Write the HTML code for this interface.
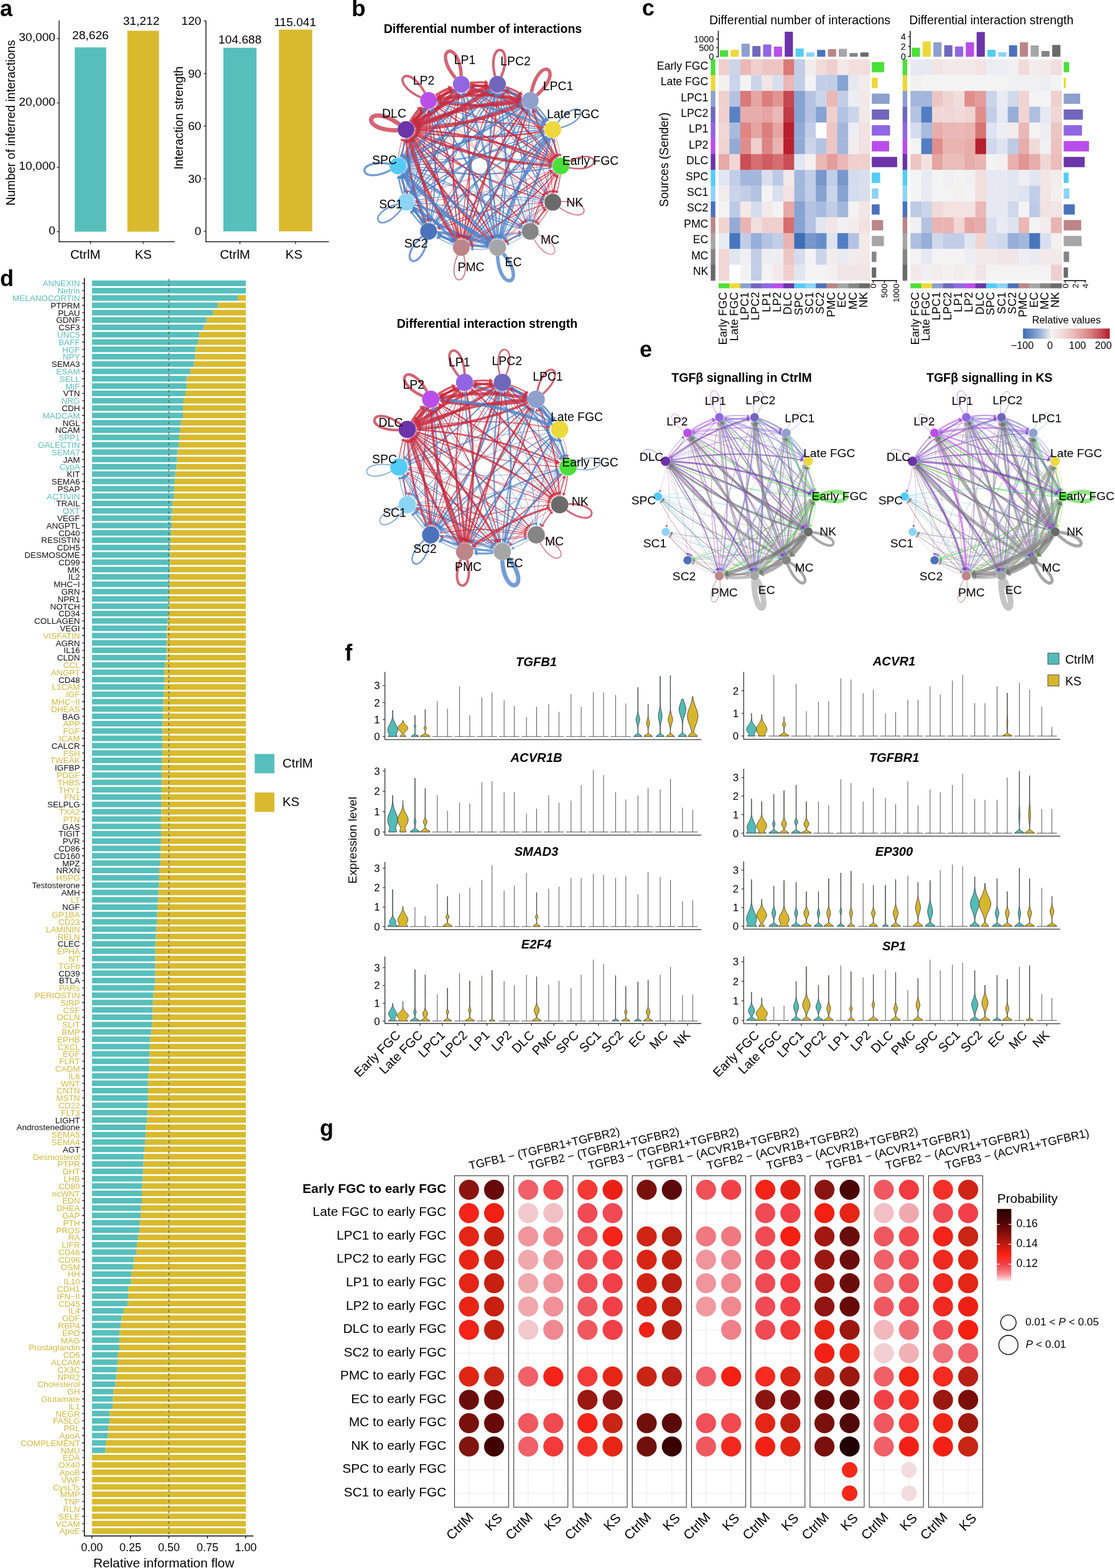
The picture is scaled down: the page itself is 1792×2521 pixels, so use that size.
<!DOCTYPE html>
<html><head><meta charset="utf-8"><title>Figure</title>
<style>
html,body{margin:0;padding:0;background:#fff;}
body{width:1792px;height:2521px;overflow:hidden;}
svg{display:block;font-family:"Liberation Sans", Arial, Helvetica, sans-serif;}
</style></head><body>
<svg width="1792" height="2521" viewBox="0 0 1792 2521">
<rect width="1792" height="2521" fill="#fff"/>
<text x="0.0" y="25.5" font-size="36" font-weight="bold">a</text>
<line x1="95.0" y1="33.0" x2="95.0" y2="389.2" stroke="#000" stroke-width="1.3"/>
<line x1="94.4" y1="388.7" x2="280.8" y2="388.7" stroke="#000" stroke-width="1.3"/>
<line x1="91.5" y1="372.5" x2="95.0" y2="372.5" stroke="#000" stroke-width="1.1"/>
<text x="89.0" y="376.5" font-size="19.2" text-anchor="end">0</text>
<line x1="91.5" y1="269.0" x2="95.0" y2="269.0" stroke="#000" stroke-width="1.1"/>
<text x="89.0" y="273.0" font-size="19.2" text-anchor="end">10,000</text>
<line x1="91.5" y1="165.5" x2="95.0" y2="165.5" stroke="#000" stroke-width="1.1"/>
<text x="89.0" y="169.5" font-size="19.2" text-anchor="end">20,000</text>
<line x1="91.5" y1="62.0" x2="95.0" y2="62.0" stroke="#000" stroke-width="1.1"/>
<text x="89.0" y="66.0" font-size="19.2" text-anchor="end">30,000</text>
<rect x="120.10" y="76.22" width="50.60" height="296.28" fill="#56BFBC"/>
<rect x="204.70" y="49.46" width="50.80" height="323.04" fill="#D9BA2E"/>
<text x="145.4" y="62.8" font-size="19.2" text-anchor="middle">28,626</text>
<text x="227.0" y="39.7" font-size="19.2" text-anchor="middle">31,212</text>
<line x1="145.6" y1="388.7" x2="145.6" y2="392.5" stroke="#000" stroke-width="1.1"/>
<line x1="230.0" y1="388.7" x2="230.0" y2="392.5" stroke="#000" stroke-width="1.1"/>
<text x="137.2" y="415.5" font-size="20.3" text-anchor="middle">CtrlM</text>
<text x="230.2" y="415.5" font-size="20.3" text-anchor="middle">KS</text>
<text x="23.6" y="197.4" font-size="19.4" text-anchor="middle" transform="rotate(-90 23.6 197.4)">Number of inferred interactions</text>
<line x1="331.0" y1="33.0" x2="331.0" y2="389.2" stroke="#000" stroke-width="1.3"/>
<line x1="330.4" y1="388.7" x2="528.6" y2="388.7" stroke="#000" stroke-width="1.3"/>
<line x1="327.5" y1="372.0" x2="331.0" y2="372.0" stroke="#000" stroke-width="1.1"/>
<text x="323.5" y="378.4" font-size="19.2" text-anchor="end">0</text>
<line x1="327.5" y1="287.4" x2="331.0" y2="287.4" stroke="#000" stroke-width="1.1"/>
<text x="323.5" y="293.8" font-size="19.2" text-anchor="end">30</text>
<line x1="327.5" y1="202.8" x2="331.0" y2="202.8" stroke="#000" stroke-width="1.1"/>
<text x="323.5" y="209.2" font-size="19.2" text-anchor="end">60</text>
<line x1="327.5" y1="118.2" x2="331.0" y2="118.2" stroke="#000" stroke-width="1.1"/>
<text x="323.5" y="124.6" font-size="19.2" text-anchor="end">90</text>
<line x1="327.5" y1="33.6" x2="331.0" y2="33.6" stroke="#000" stroke-width="1.1"/>
<text x="323.5" y="40.0" font-size="19.2" text-anchor="end">120</text>
<rect x="359.00" y="76.78" width="53.30" height="295.22" fill="#56BFBC"/>
<rect x="448.30" y="47.58" width="53.50" height="324.42" fill="#D9BA2E"/>
<text x="385.8" y="69.8" font-size="19.2" text-anchor="middle">104.688</text>
<text x="474.2" y="42.1" font-size="19.2" text-anchor="middle">115.041</text>
<line x1="385.6" y1="388.7" x2="385.6" y2="392.5" stroke="#000" stroke-width="1.1"/>
<line x1="475.0" y1="388.7" x2="475.0" y2="392.5" stroke="#000" stroke-width="1.1"/>
<text x="377.6" y="415.5" font-size="20.3" text-anchor="middle">CtrlM</text>
<text x="472.4" y="415.5" font-size="20.3" text-anchor="middle">KS</text>
<text x="293.6" y="189.6" font-size="19.4" text-anchor="middle" transform="rotate(-90 293.6 189.6)">Interaction strength</text>
<text x="0.0" y="460.0" font-size="36" font-weight="bold">d</text>
<rect x="147.90" y="451.00" width="247.20" height="9.00" fill="#56BFBC"/>
<rect x="147.90" y="462.80" width="247.20" height="9.00" fill="#56BFBC"/>
<rect x="147.90" y="474.60" width="234.10" height="9.00" fill="#56BFBC"/>
<rect x="382.00" y="474.60" width="13.10" height="9.00" fill="#D9BA2E"/>
<rect x="147.90" y="486.40" width="201.96" height="9.00" fill="#56BFBC"/>
<rect x="349.86" y="486.40" width="45.24" height="9.00" fill="#D9BA2E"/>
<rect x="147.90" y="498.20" width="194.05" height="9.00" fill="#56BFBC"/>
<rect x="341.95" y="498.20" width="53.15" height="9.00" fill="#D9BA2E"/>
<rect x="147.90" y="510.00" width="183.92" height="9.00" fill="#56BFBC"/>
<rect x="331.82" y="510.00" width="63.28" height="9.00" fill="#D9BA2E"/>
<rect x="147.90" y="521.80" width="179.71" height="9.00" fill="#56BFBC"/>
<rect x="327.61" y="521.80" width="67.49" height="9.00" fill="#D9BA2E"/>
<rect x="147.90" y="533.60" width="172.30" height="9.00" fill="#56BFBC"/>
<rect x="320.20" y="533.60" width="74.90" height="9.00" fill="#D9BA2E"/>
<rect x="147.90" y="545.40" width="170.07" height="9.00" fill="#56BFBC"/>
<rect x="317.97" y="545.40" width="77.13" height="9.00" fill="#D9BA2E"/>
<rect x="147.90" y="557.20" width="166.61" height="9.00" fill="#56BFBC"/>
<rect x="314.51" y="557.20" width="80.59" height="9.00" fill="#D9BA2E"/>
<rect x="147.90" y="569.00" width="165.62" height="9.00" fill="#56BFBC"/>
<rect x="313.52" y="569.00" width="81.58" height="9.00" fill="#D9BA2E"/>
<rect x="147.90" y="580.80" width="163.40" height="9.00" fill="#56BFBC"/>
<rect x="311.30" y="580.80" width="83.80" height="9.00" fill="#D9BA2E"/>
<rect x="147.90" y="592.60" width="157.96" height="9.00" fill="#56BFBC"/>
<rect x="305.86" y="592.60" width="89.24" height="9.00" fill="#D9BA2E"/>
<rect x="147.90" y="604.40" width="152.52" height="9.00" fill="#56BFBC"/>
<rect x="300.42" y="604.40" width="94.68" height="9.00" fill="#D9BA2E"/>
<rect x="147.90" y="616.20" width="152.03" height="9.00" fill="#56BFBC"/>
<rect x="299.93" y="616.20" width="95.17" height="9.00" fill="#D9BA2E"/>
<rect x="147.90" y="628.00" width="150.05" height="9.00" fill="#56BFBC"/>
<rect x="297.95" y="628.00" width="97.15" height="9.00" fill="#D9BA2E"/>
<rect x="147.90" y="639.80" width="147.08" height="9.00" fill="#56BFBC"/>
<rect x="294.98" y="639.80" width="100.12" height="9.00" fill="#D9BA2E"/>
<rect x="147.90" y="651.60" width="146.10" height="9.00" fill="#56BFBC"/>
<rect x="294.00" y="651.60" width="101.10" height="9.00" fill="#D9BA2E"/>
<rect x="147.90" y="663.40" width="146.10" height="9.00" fill="#56BFBC"/>
<rect x="294.00" y="663.40" width="101.10" height="9.00" fill="#D9BA2E"/>
<rect x="147.90" y="675.20" width="142.88" height="9.00" fill="#56BFBC"/>
<rect x="290.78" y="675.20" width="104.32" height="9.00" fill="#D9BA2E"/>
<rect x="147.90" y="687.00" width="141.89" height="9.00" fill="#56BFBC"/>
<rect x="289.79" y="687.00" width="105.31" height="9.00" fill="#D9BA2E"/>
<rect x="147.90" y="698.80" width="140.16" height="9.00" fill="#56BFBC"/>
<rect x="288.06" y="698.80" width="107.04" height="9.00" fill="#D9BA2E"/>
<rect x="147.90" y="710.60" width="139.92" height="9.00" fill="#56BFBC"/>
<rect x="287.82" y="710.60" width="107.28" height="9.00" fill="#D9BA2E"/>
<rect x="147.90" y="722.40" width="137.69" height="9.00" fill="#56BFBC"/>
<rect x="285.59" y="722.40" width="109.51" height="9.00" fill="#D9BA2E"/>
<rect x="147.90" y="734.20" width="136.70" height="9.00" fill="#56BFBC"/>
<rect x="284.60" y="734.20" width="110.50" height="9.00" fill="#D9BA2E"/>
<rect x="147.90" y="746.00" width="135.71" height="9.00" fill="#56BFBC"/>
<rect x="283.61" y="746.00" width="111.49" height="9.00" fill="#D9BA2E"/>
<rect x="147.90" y="757.80" width="133.74" height="9.00" fill="#56BFBC"/>
<rect x="281.64" y="757.80" width="113.46" height="9.00" fill="#D9BA2E"/>
<rect x="147.90" y="769.60" width="132.99" height="9.00" fill="#56BFBC"/>
<rect x="280.89" y="769.60" width="114.21" height="9.00" fill="#D9BA2E"/>
<rect x="147.90" y="781.40" width="132.25" height="9.00" fill="#56BFBC"/>
<rect x="280.15" y="781.40" width="114.95" height="9.00" fill="#D9BA2E"/>
<rect x="147.90" y="793.20" width="132.00" height="9.00" fill="#56BFBC"/>
<rect x="279.90" y="793.20" width="115.20" height="9.00" fill="#D9BA2E"/>
<rect x="147.90" y="805.00" width="129.29" height="9.00" fill="#56BFBC"/>
<rect x="277.19" y="805.00" width="117.91" height="9.00" fill="#D9BA2E"/>
<rect x="147.90" y="816.80" width="129.29" height="9.00" fill="#56BFBC"/>
<rect x="277.19" y="816.80" width="117.91" height="9.00" fill="#D9BA2E"/>
<rect x="147.90" y="828.60" width="127.80" height="9.00" fill="#56BFBC"/>
<rect x="275.70" y="828.60" width="119.40" height="9.00" fill="#D9BA2E"/>
<rect x="147.90" y="840.40" width="128.05" height="9.00" fill="#56BFBC"/>
<rect x="275.95" y="840.40" width="119.15" height="9.00" fill="#D9BA2E"/>
<rect x="147.90" y="852.20" width="127.56" height="9.00" fill="#56BFBC"/>
<rect x="275.46" y="852.20" width="119.64" height="9.00" fill="#D9BA2E"/>
<rect x="147.90" y="864.00" width="126.07" height="9.00" fill="#56BFBC"/>
<rect x="273.97" y="864.00" width="121.13" height="9.00" fill="#D9BA2E"/>
<rect x="147.90" y="875.80" width="126.07" height="9.00" fill="#56BFBC"/>
<rect x="273.97" y="875.80" width="121.13" height="9.00" fill="#D9BA2E"/>
<rect x="147.90" y="887.60" width="125.58" height="9.00" fill="#56BFBC"/>
<rect x="273.48" y="887.60" width="121.62" height="9.00" fill="#D9BA2E"/>
<rect x="147.90" y="899.40" width="125.33" height="9.00" fill="#56BFBC"/>
<rect x="273.23" y="899.40" width="121.87" height="9.00" fill="#D9BA2E"/>
<rect x="147.90" y="911.20" width="125.33" height="9.00" fill="#56BFBC"/>
<rect x="273.23" y="911.20" width="121.87" height="9.00" fill="#D9BA2E"/>
<rect x="147.90" y="923.00" width="124.84" height="9.00" fill="#56BFBC"/>
<rect x="272.74" y="923.00" width="122.36" height="9.00" fill="#D9BA2E"/>
<rect x="147.90" y="934.80" width="124.59" height="9.00" fill="#56BFBC"/>
<rect x="272.49" y="934.80" width="122.61" height="9.00" fill="#D9BA2E"/>
<rect x="147.90" y="946.60" width="124.09" height="9.00" fill="#56BFBC"/>
<rect x="271.99" y="946.60" width="123.11" height="9.00" fill="#D9BA2E"/>
<rect x="147.90" y="958.40" width="124.09" height="9.00" fill="#56BFBC"/>
<rect x="271.99" y="958.40" width="123.11" height="9.00" fill="#D9BA2E"/>
<rect x="147.90" y="970.20" width="123.60" height="9.00" fill="#56BFBC"/>
<rect x="271.50" y="970.20" width="123.60" height="9.00" fill="#D9BA2E"/>
<rect x="147.90" y="982.00" width="123.11" height="9.00" fill="#56BFBC"/>
<rect x="271.01" y="982.00" width="124.09" height="9.00" fill="#D9BA2E"/>
<rect x="147.90" y="993.80" width="121.87" height="9.00" fill="#56BFBC"/>
<rect x="269.77" y="993.80" width="125.33" height="9.00" fill="#D9BA2E"/>
<rect x="147.90" y="1005.60" width="120.39" height="9.00" fill="#56BFBC"/>
<rect x="268.29" y="1005.60" width="126.81" height="9.00" fill="#D9BA2E"/>
<rect x="147.90" y="1017.40" width="119.89" height="9.00" fill="#56BFBC"/>
<rect x="267.79" y="1017.40" width="127.31" height="9.00" fill="#D9BA2E"/>
<rect x="147.90" y="1029.20" width="119.89" height="9.00" fill="#56BFBC"/>
<rect x="267.79" y="1029.20" width="127.31" height="9.00" fill="#D9BA2E"/>
<rect x="147.90" y="1041.00" width="119.89" height="9.00" fill="#56BFBC"/>
<rect x="267.79" y="1041.00" width="127.31" height="9.00" fill="#D9BA2E"/>
<rect x="147.90" y="1052.80" width="119.64" height="9.00" fill="#56BFBC"/>
<rect x="267.54" y="1052.80" width="127.56" height="9.00" fill="#D9BA2E"/>
<rect x="147.90" y="1064.60" width="117.42" height="9.00" fill="#56BFBC"/>
<rect x="265.32" y="1064.60" width="129.78" height="9.00" fill="#D9BA2E"/>
<rect x="147.90" y="1076.40" width="116.43" height="9.00" fill="#56BFBC"/>
<rect x="264.33" y="1076.40" width="130.77" height="9.00" fill="#D9BA2E"/>
<rect x="147.90" y="1088.20" width="116.18" height="9.00" fill="#56BFBC"/>
<rect x="264.08" y="1088.20" width="131.02" height="9.00" fill="#D9BA2E"/>
<rect x="147.90" y="1100.00" width="116.18" height="9.00" fill="#56BFBC"/>
<rect x="264.08" y="1100.00" width="131.02" height="9.00" fill="#D9BA2E"/>
<rect x="147.90" y="1111.80" width="115.44" height="9.00" fill="#56BFBC"/>
<rect x="263.34" y="1111.80" width="131.76" height="9.00" fill="#D9BA2E"/>
<rect x="147.90" y="1123.60" width="114.70" height="9.00" fill="#56BFBC"/>
<rect x="262.60" y="1123.60" width="132.50" height="9.00" fill="#D9BA2E"/>
<rect x="147.90" y="1135.40" width="114.70" height="9.00" fill="#56BFBC"/>
<rect x="262.60" y="1135.40" width="132.50" height="9.00" fill="#D9BA2E"/>
<rect x="147.90" y="1147.20" width="114.45" height="9.00" fill="#56BFBC"/>
<rect x="262.35" y="1147.20" width="132.75" height="9.00" fill="#D9BA2E"/>
<rect x="147.90" y="1159.00" width="113.71" height="9.00" fill="#56BFBC"/>
<rect x="261.61" y="1159.00" width="133.49" height="9.00" fill="#D9BA2E"/>
<rect x="147.90" y="1170.80" width="113.46" height="9.00" fill="#56BFBC"/>
<rect x="261.36" y="1170.80" width="133.74" height="9.00" fill="#D9BA2E"/>
<rect x="147.90" y="1182.60" width="113.22" height="9.00" fill="#56BFBC"/>
<rect x="261.12" y="1182.60" width="133.98" height="9.00" fill="#D9BA2E"/>
<rect x="147.90" y="1194.40" width="113.22" height="9.00" fill="#56BFBC"/>
<rect x="261.12" y="1194.40" width="133.98" height="9.00" fill="#D9BA2E"/>
<rect x="147.90" y="1206.20" width="113.22" height="9.00" fill="#56BFBC"/>
<rect x="261.12" y="1206.20" width="133.98" height="9.00" fill="#D9BA2E"/>
<rect x="147.90" y="1218.00" width="112.23" height="9.00" fill="#56BFBC"/>
<rect x="260.13" y="1218.00" width="134.97" height="9.00" fill="#D9BA2E"/>
<rect x="147.90" y="1229.80" width="111.98" height="9.00" fill="#56BFBC"/>
<rect x="259.88" y="1229.80" width="135.22" height="9.00" fill="#D9BA2E"/>
<rect x="147.90" y="1241.60" width="111.98" height="9.00" fill="#56BFBC"/>
<rect x="259.88" y="1241.60" width="135.22" height="9.00" fill="#D9BA2E"/>
<rect x="147.90" y="1253.40" width="111.98" height="9.00" fill="#56BFBC"/>
<rect x="259.88" y="1253.40" width="135.22" height="9.00" fill="#D9BA2E"/>
<rect x="147.90" y="1265.20" width="111.98" height="9.00" fill="#56BFBC"/>
<rect x="259.88" y="1265.20" width="135.22" height="9.00" fill="#D9BA2E"/>
<rect x="147.90" y="1277.00" width="111.24" height="9.00" fill="#56BFBC"/>
<rect x="259.14" y="1277.00" width="135.96" height="9.00" fill="#D9BA2E"/>
<rect x="147.90" y="1288.80" width="111.24" height="9.00" fill="#56BFBC"/>
<rect x="259.14" y="1288.80" width="135.96" height="9.00" fill="#D9BA2E"/>
<rect x="147.90" y="1300.60" width="111.49" height="9.00" fill="#56BFBC"/>
<rect x="259.39" y="1300.60" width="135.71" height="9.00" fill="#D9BA2E"/>
<rect x="147.90" y="1312.40" width="110.99" height="9.00" fill="#56BFBC"/>
<rect x="258.89" y="1312.40" width="136.21" height="9.00" fill="#D9BA2E"/>
<rect x="147.90" y="1324.20" width="110.99" height="9.00" fill="#56BFBC"/>
<rect x="258.89" y="1324.20" width="136.21" height="9.00" fill="#D9BA2E"/>
<rect x="147.90" y="1336.00" width="110.99" height="9.00" fill="#56BFBC"/>
<rect x="258.89" y="1336.00" width="136.21" height="9.00" fill="#D9BA2E"/>
<rect x="147.90" y="1347.80" width="110.99" height="9.00" fill="#56BFBC"/>
<rect x="258.89" y="1347.80" width="136.21" height="9.00" fill="#D9BA2E"/>
<rect x="147.90" y="1359.60" width="110.25" height="9.00" fill="#56BFBC"/>
<rect x="258.15" y="1359.60" width="136.95" height="9.00" fill="#D9BA2E"/>
<rect x="147.90" y="1371.40" width="110.00" height="9.00" fill="#56BFBC"/>
<rect x="257.90" y="1371.40" width="137.20" height="9.00" fill="#D9BA2E"/>
<rect x="147.90" y="1383.20" width="109.76" height="9.00" fill="#56BFBC"/>
<rect x="257.66" y="1383.20" width="137.44" height="9.00" fill="#D9BA2E"/>
<rect x="147.90" y="1395.00" width="108.03" height="9.00" fill="#56BFBC"/>
<rect x="255.93" y="1395.00" width="139.17" height="9.00" fill="#D9BA2E"/>
<rect x="147.90" y="1406.80" width="108.03" height="9.00" fill="#56BFBC"/>
<rect x="255.93" y="1406.80" width="139.17" height="9.00" fill="#D9BA2E"/>
<rect x="147.90" y="1418.60" width="107.53" height="9.00" fill="#56BFBC"/>
<rect x="255.43" y="1418.60" width="139.67" height="9.00" fill="#D9BA2E"/>
<rect x="147.90" y="1430.40" width="106.79" height="9.00" fill="#56BFBC"/>
<rect x="254.69" y="1430.40" width="140.41" height="9.00" fill="#D9BA2E"/>
<rect x="147.90" y="1442.20" width="106.30" height="9.00" fill="#56BFBC"/>
<rect x="254.20" y="1442.20" width="140.90" height="9.00" fill="#D9BA2E"/>
<rect x="147.90" y="1454.00" width="105.06" height="9.00" fill="#56BFBC"/>
<rect x="252.96" y="1454.00" width="142.14" height="9.00" fill="#D9BA2E"/>
<rect x="147.90" y="1465.80" width="104.57" height="9.00" fill="#56BFBC"/>
<rect x="252.47" y="1465.80" width="142.63" height="9.00" fill="#D9BA2E"/>
<rect x="147.90" y="1477.60" width="104.07" height="9.00" fill="#56BFBC"/>
<rect x="251.97" y="1477.60" width="143.13" height="9.00" fill="#D9BA2E"/>
<rect x="147.90" y="1489.40" width="103.33" height="9.00" fill="#56BFBC"/>
<rect x="251.23" y="1489.40" width="143.87" height="9.00" fill="#D9BA2E"/>
<rect x="147.90" y="1501.20" width="102.59" height="9.00" fill="#56BFBC"/>
<rect x="250.49" y="1501.20" width="144.61" height="9.00" fill="#D9BA2E"/>
<rect x="147.90" y="1513.00" width="101.85" height="9.00" fill="#56BFBC"/>
<rect x="249.75" y="1513.00" width="145.35" height="9.00" fill="#D9BA2E"/>
<rect x="147.90" y="1524.80" width="101.60" height="9.00" fill="#56BFBC"/>
<rect x="249.50" y="1524.80" width="145.60" height="9.00" fill="#D9BA2E"/>
<rect x="147.90" y="1536.60" width="101.60" height="9.00" fill="#56BFBC"/>
<rect x="249.50" y="1536.60" width="145.60" height="9.00" fill="#D9BA2E"/>
<rect x="147.90" y="1548.40" width="101.60" height="9.00" fill="#56BFBC"/>
<rect x="249.50" y="1548.40" width="145.60" height="9.00" fill="#D9BA2E"/>
<rect x="147.90" y="1560.20" width="101.60" height="9.00" fill="#56BFBC"/>
<rect x="249.50" y="1560.20" width="145.60" height="9.00" fill="#D9BA2E"/>
<rect x="147.90" y="1572.00" width="101.60" height="9.00" fill="#56BFBC"/>
<rect x="249.50" y="1572.00" width="145.60" height="9.00" fill="#D9BA2E"/>
<rect x="147.90" y="1583.80" width="99.87" height="9.00" fill="#56BFBC"/>
<rect x="247.77" y="1583.80" width="147.33" height="9.00" fill="#D9BA2E"/>
<rect x="147.90" y="1595.60" width="98.63" height="9.00" fill="#56BFBC"/>
<rect x="246.53" y="1595.60" width="148.57" height="9.00" fill="#D9BA2E"/>
<rect x="147.90" y="1607.40" width="97.89" height="9.00" fill="#56BFBC"/>
<rect x="245.79" y="1607.40" width="149.31" height="9.00" fill="#D9BA2E"/>
<rect x="147.90" y="1619.20" width="97.64" height="9.00" fill="#56BFBC"/>
<rect x="245.54" y="1619.20" width="149.56" height="9.00" fill="#D9BA2E"/>
<rect x="147.90" y="1631.00" width="97.15" height="9.00" fill="#56BFBC"/>
<rect x="245.05" y="1631.00" width="150.05" height="9.00" fill="#D9BA2E"/>
<rect x="147.90" y="1642.80" width="96.41" height="9.00" fill="#56BFBC"/>
<rect x="244.31" y="1642.80" width="150.79" height="9.00" fill="#D9BA2E"/>
<rect x="147.90" y="1654.60" width="95.42" height="9.00" fill="#56BFBC"/>
<rect x="243.32" y="1654.60" width="151.78" height="9.00" fill="#D9BA2E"/>
<rect x="147.90" y="1666.40" width="93.44" height="9.00" fill="#56BFBC"/>
<rect x="241.34" y="1666.40" width="153.76" height="9.00" fill="#D9BA2E"/>
<rect x="147.90" y="1678.20" width="92.95" height="9.00" fill="#56BFBC"/>
<rect x="240.85" y="1678.20" width="154.25" height="9.00" fill="#D9BA2E"/>
<rect x="147.90" y="1690.00" width="92.45" height="9.00" fill="#56BFBC"/>
<rect x="240.35" y="1690.00" width="154.75" height="9.00" fill="#D9BA2E"/>
<rect x="147.90" y="1701.80" width="91.96" height="9.00" fill="#56BFBC"/>
<rect x="239.86" y="1701.80" width="155.24" height="9.00" fill="#D9BA2E"/>
<rect x="147.90" y="1713.60" width="91.96" height="9.00" fill="#56BFBC"/>
<rect x="239.86" y="1713.60" width="155.24" height="9.00" fill="#D9BA2E"/>
<rect x="147.90" y="1725.40" width="90.23" height="9.00" fill="#56BFBC"/>
<rect x="238.13" y="1725.40" width="156.97" height="9.00" fill="#D9BA2E"/>
<rect x="147.90" y="1737.20" width="89.98" height="9.00" fill="#56BFBC"/>
<rect x="237.88" y="1737.20" width="157.22" height="9.00" fill="#D9BA2E"/>
<rect x="147.90" y="1749.00" width="89.98" height="9.00" fill="#56BFBC"/>
<rect x="237.88" y="1749.00" width="157.22" height="9.00" fill="#D9BA2E"/>
<rect x="147.90" y="1760.80" width="89.98" height="9.00" fill="#56BFBC"/>
<rect x="237.88" y="1760.80" width="157.22" height="9.00" fill="#D9BA2E"/>
<rect x="147.90" y="1772.60" width="89.73" height="9.00" fill="#56BFBC"/>
<rect x="237.63" y="1772.60" width="157.47" height="9.00" fill="#D9BA2E"/>
<rect x="147.90" y="1784.40" width="88.99" height="9.00" fill="#56BFBC"/>
<rect x="236.89" y="1784.40" width="158.21" height="9.00" fill="#D9BA2E"/>
<rect x="147.90" y="1796.20" width="88.25" height="9.00" fill="#56BFBC"/>
<rect x="236.15" y="1796.20" width="158.95" height="9.00" fill="#D9BA2E"/>
<rect x="147.90" y="1808.00" width="86.27" height="9.00" fill="#56BFBC"/>
<rect x="234.17" y="1808.00" width="160.93" height="9.00" fill="#D9BA2E"/>
<rect x="147.90" y="1819.80" width="86.03" height="9.00" fill="#56BFBC"/>
<rect x="233.93" y="1819.80" width="161.17" height="9.00" fill="#D9BA2E"/>
<rect x="147.90" y="1831.60" width="85.28" height="9.00" fill="#56BFBC"/>
<rect x="233.18" y="1831.60" width="161.92" height="9.00" fill="#D9BA2E"/>
<rect x="147.90" y="1843.40" width="84.05" height="9.00" fill="#56BFBC"/>
<rect x="231.95" y="1843.40" width="163.15" height="9.00" fill="#D9BA2E"/>
<rect x="147.90" y="1855.20" width="83.31" height="9.00" fill="#56BFBC"/>
<rect x="231.21" y="1855.20" width="163.89" height="9.00" fill="#D9BA2E"/>
<rect x="147.90" y="1867.00" width="82.56" height="9.00" fill="#56BFBC"/>
<rect x="230.46" y="1867.00" width="164.64" height="9.00" fill="#D9BA2E"/>
<rect x="147.90" y="1878.80" width="82.32" height="9.00" fill="#56BFBC"/>
<rect x="230.22" y="1878.80" width="164.88" height="9.00" fill="#D9BA2E"/>
<rect x="147.90" y="1890.60" width="81.82" height="9.00" fill="#56BFBC"/>
<rect x="229.72" y="1890.60" width="165.38" height="9.00" fill="#D9BA2E"/>
<rect x="147.90" y="1902.40" width="80.83" height="9.00" fill="#56BFBC"/>
<rect x="228.73" y="1902.40" width="166.37" height="9.00" fill="#D9BA2E"/>
<rect x="147.90" y="1914.20" width="80.09" height="9.00" fill="#56BFBC"/>
<rect x="227.99" y="1914.20" width="167.11" height="9.00" fill="#D9BA2E"/>
<rect x="147.90" y="1926.00" width="80.09" height="9.00" fill="#56BFBC"/>
<rect x="227.99" y="1926.00" width="167.11" height="9.00" fill="#D9BA2E"/>
<rect x="147.90" y="1937.80" width="78.86" height="9.00" fill="#56BFBC"/>
<rect x="226.76" y="1937.80" width="168.34" height="9.00" fill="#D9BA2E"/>
<rect x="147.90" y="1949.60" width="78.12" height="9.00" fill="#56BFBC"/>
<rect x="226.02" y="1949.60" width="169.08" height="9.00" fill="#D9BA2E"/>
<rect x="147.90" y="1961.40" width="76.88" height="9.00" fill="#56BFBC"/>
<rect x="224.78" y="1961.40" width="170.32" height="9.00" fill="#D9BA2E"/>
<rect x="147.90" y="1973.20" width="76.14" height="9.00" fill="#56BFBC"/>
<rect x="224.04" y="1973.20" width="171.06" height="9.00" fill="#D9BA2E"/>
<rect x="147.90" y="1985.00" width="74.16" height="9.00" fill="#56BFBC"/>
<rect x="222.06" y="1985.00" width="173.04" height="9.00" fill="#D9BA2E"/>
<rect x="147.90" y="1996.80" width="72.18" height="9.00" fill="#56BFBC"/>
<rect x="220.08" y="1996.80" width="175.02" height="9.00" fill="#D9BA2E"/>
<rect x="147.90" y="2008.60" width="71.44" height="9.00" fill="#56BFBC"/>
<rect x="219.34" y="2008.60" width="175.76" height="9.00" fill="#D9BA2E"/>
<rect x="147.90" y="2020.40" width="67.49" height="9.00" fill="#56BFBC"/>
<rect x="215.39" y="2020.40" width="179.71" height="9.00" fill="#D9BA2E"/>
<rect x="147.90" y="2032.20" width="66.00" height="9.00" fill="#56BFBC"/>
<rect x="213.90" y="2032.20" width="181.20" height="9.00" fill="#D9BA2E"/>
<rect x="147.90" y="2044.00" width="63.53" height="9.00" fill="#56BFBC"/>
<rect x="211.43" y="2044.00" width="183.67" height="9.00" fill="#D9BA2E"/>
<rect x="147.90" y="2055.80" width="62.79" height="9.00" fill="#56BFBC"/>
<rect x="210.69" y="2055.80" width="184.41" height="9.00" fill="#D9BA2E"/>
<rect x="147.90" y="2067.60" width="58.34" height="9.00" fill="#56BFBC"/>
<rect x="206.24" y="2067.60" width="188.86" height="9.00" fill="#D9BA2E"/>
<rect x="147.90" y="2079.40" width="58.09" height="9.00" fill="#56BFBC"/>
<rect x="205.99" y="2079.40" width="189.11" height="9.00" fill="#D9BA2E"/>
<rect x="147.90" y="2091.20" width="57.35" height="9.00" fill="#56BFBC"/>
<rect x="205.25" y="2091.20" width="189.85" height="9.00" fill="#D9BA2E"/>
<rect x="147.90" y="2103.00" width="51.17" height="9.00" fill="#56BFBC"/>
<rect x="199.07" y="2103.00" width="196.03" height="9.00" fill="#D9BA2E"/>
<rect x="147.90" y="2114.80" width="47.46" height="9.00" fill="#56BFBC"/>
<rect x="195.36" y="2114.80" width="199.74" height="9.00" fill="#D9BA2E"/>
<rect x="147.90" y="2126.60" width="45.98" height="9.00" fill="#56BFBC"/>
<rect x="193.88" y="2126.60" width="201.22" height="9.00" fill="#D9BA2E"/>
<rect x="147.90" y="2138.40" width="44.50" height="9.00" fill="#56BFBC"/>
<rect x="192.40" y="2138.40" width="202.70" height="9.00" fill="#D9BA2E"/>
<rect x="147.90" y="2150.20" width="44.00" height="9.00" fill="#56BFBC"/>
<rect x="191.90" y="2150.20" width="203.20" height="9.00" fill="#D9BA2E"/>
<rect x="147.90" y="2162.00" width="44.00" height="9.00" fill="#56BFBC"/>
<rect x="191.90" y="2162.00" width="203.20" height="9.00" fill="#D9BA2E"/>
<rect x="147.90" y="2173.80" width="41.04" height="9.00" fill="#56BFBC"/>
<rect x="188.94" y="2173.80" width="206.16" height="9.00" fill="#D9BA2E"/>
<rect x="147.90" y="2185.60" width="41.04" height="9.00" fill="#56BFBC"/>
<rect x="188.94" y="2185.60" width="206.16" height="9.00" fill="#D9BA2E"/>
<rect x="147.90" y="2197.40" width="40.79" height="9.00" fill="#56BFBC"/>
<rect x="188.69" y="2197.40" width="206.41" height="9.00" fill="#D9BA2E"/>
<rect x="147.90" y="2209.20" width="38.81" height="9.00" fill="#56BFBC"/>
<rect x="186.71" y="2209.20" width="208.39" height="9.00" fill="#D9BA2E"/>
<rect x="147.90" y="2221.00" width="37.57" height="9.00" fill="#56BFBC"/>
<rect x="185.47" y="2221.00" width="209.63" height="9.00" fill="#D9BA2E"/>
<rect x="147.90" y="2232.80" width="34.36" height="9.00" fill="#56BFBC"/>
<rect x="182.26" y="2232.80" width="212.84" height="9.00" fill="#D9BA2E"/>
<rect x="147.90" y="2244.60" width="33.62" height="9.00" fill="#56BFBC"/>
<rect x="181.52" y="2244.60" width="213.58" height="9.00" fill="#D9BA2E"/>
<rect x="147.90" y="2256.40" width="33.12" height="9.00" fill="#56BFBC"/>
<rect x="181.02" y="2256.40" width="214.08" height="9.00" fill="#D9BA2E"/>
<rect x="147.90" y="2268.20" width="28.43" height="9.00" fill="#56BFBC"/>
<rect x="176.33" y="2268.20" width="218.77" height="9.00" fill="#D9BA2E"/>
<rect x="147.90" y="2280.00" width="28.18" height="9.00" fill="#56BFBC"/>
<rect x="176.08" y="2280.00" width="219.02" height="9.00" fill="#D9BA2E"/>
<rect x="147.90" y="2291.80" width="26.20" height="9.00" fill="#56BFBC"/>
<rect x="174.10" y="2291.80" width="221.00" height="9.00" fill="#D9BA2E"/>
<rect x="147.90" y="2303.60" width="25.46" height="9.00" fill="#56BFBC"/>
<rect x="173.36" y="2303.60" width="221.74" height="9.00" fill="#D9BA2E"/>
<rect x="147.90" y="2315.40" width="22.25" height="9.00" fill="#56BFBC"/>
<rect x="170.15" y="2315.40" width="224.95" height="9.00" fill="#D9BA2E"/>
<rect x="147.90" y="2327.20" width="21.75" height="9.00" fill="#56BFBC"/>
<rect x="169.65" y="2327.20" width="225.45" height="9.00" fill="#D9BA2E"/>
<rect x="147.90" y="2339.00" width="247.20" height="9.00" fill="#D9BA2E"/>
<rect x="147.90" y="2350.80" width="247.20" height="9.00" fill="#D9BA2E"/>
<rect x="147.90" y="2362.60" width="247.20" height="9.00" fill="#D9BA2E"/>
<rect x="147.90" y="2374.40" width="247.20" height="9.00" fill="#D9BA2E"/>
<rect x="147.90" y="2386.20" width="247.20" height="9.00" fill="#D9BA2E"/>
<rect x="147.90" y="2398.00" width="247.20" height="9.00" fill="#D9BA2E"/>
<rect x="147.90" y="2409.80" width="247.20" height="9.00" fill="#D9BA2E"/>
<rect x="147.90" y="2421.60" width="247.20" height="9.00" fill="#D9BA2E"/>
<rect x="147.90" y="2433.40" width="247.20" height="9.00" fill="#D9BA2E"/>
<rect x="147.90" y="2445.20" width="247.20" height="9.00" fill="#D9BA2E"/>
<rect x="147.90" y="2457.00" width="247.20" height="9.00" fill="#D9BA2E"/>
<path d="M132 455.5h3.5M132 467.3h3.5M132 479.1h3.5M132 490.9h3.5M132 502.7h3.5M132 514.5h3.5M132 526.3h3.5M132 538.1h3.5M132 549.9h3.5M132 561.7h3.5M132 573.5h3.5M132 585.3h3.5M132 597.1h3.5M132 608.9h3.5M132 620.7h3.5M132 632.5h3.5M132 644.3h3.5M132 656.1h3.5M132 667.9h3.5M132 679.7h3.5M132 691.5h3.5M132 703.3h3.5M132 715.1h3.5M132 726.9h3.5M132 738.7h3.5M132 750.5h3.5M132 762.3h3.5M132 774.1h3.5M132 785.9h3.5M132 797.7h3.5M132 809.5h3.5M132 821.3h3.5M132 833.1h3.5M132 844.9h3.5M132 856.7h3.5M132 868.5h3.5M132 880.3h3.5M132 892.1h3.5M132 903.9h3.5M132 915.7h3.5M132 927.5h3.5M132 939.3h3.5M132 951.1h3.5M132 962.9h3.5M132 974.7h3.5M132 986.5h3.5M132 998.3h3.5M132 1010.1h3.5M132 1021.9h3.5M132 1033.7h3.5M132 1045.5h3.5M132 1057.3h3.5M132 1069.1h3.5M132 1080.9h3.5M132 1092.7h3.5M132 1104.5h3.5M132 1116.3h3.5M132 1128.1h3.5M132 1139.9h3.5M132 1151.7h3.5M132 1163.5h3.5M132 1175.3h3.5M132 1187.1h3.5M132 1198.9h3.5M132 1210.7h3.5M132 1222.5h3.5M132 1234.3h3.5M132 1246.1h3.5M132 1257.9h3.5M132 1269.7h3.5M132 1281.5h3.5M132 1293.3h3.5M132 1305.1h3.5M132 1316.9h3.5M132 1328.7h3.5M132 1340.5h3.5M132 1352.3h3.5M132 1364.1h3.5M132 1375.9h3.5M132 1387.7h3.5M132 1399.5h3.5M132 1411.3h3.5M132 1423.1h3.5M132 1434.9h3.5M132 1446.7h3.5M132 1458.5h3.5M132 1470.3h3.5M132 1482.1h3.5M132 1493.9h3.5M132 1505.7h3.5M132 1517.5h3.5M132 1529.3h3.5M132 1541.1h3.5M132 1552.9h3.5M132 1564.7h3.5M132 1576.5h3.5M132 1588.3h3.5M132 1600.1h3.5M132 1611.9h3.5M132 1623.7h3.5M132 1635.5h3.5M132 1647.3h3.5M132 1659.1h3.5M132 1670.9h3.5M132 1682.7h3.5M132 1694.5h3.5M132 1706.3h3.5M132 1718.1h3.5M132 1729.9h3.5M132 1741.7h3.5M132 1753.5h3.5M132 1765.3h3.5M132 1777.1h3.5M132 1788.9h3.5M132 1800.7h3.5M132 1812.5h3.5M132 1824.3h3.5M132 1836.1h3.5M132 1847.9h3.5M132 1859.7h3.5M132 1871.5h3.5M132 1883.3h3.5M132 1895.1h3.5M132 1906.9h3.5M132 1918.7h3.5M132 1930.5h3.5M132 1942.3h3.5M132 1954.1h3.5M132 1965.9h3.5M132 1977.7h3.5M132 1989.5h3.5M132 2001.3h3.5M132 2013.1h3.5M132 2024.9h3.5M132 2036.7h3.5M132 2048.5h3.5M132 2060.3h3.5M132 2072.1h3.5M132 2083.9h3.5M132 2095.7h3.5M132 2107.5h3.5M132 2119.3h3.5M132 2131.1h3.5M132 2142.9h3.5M132 2154.7h3.5M132 2166.5h3.5M132 2178.3h3.5M132 2190.1h3.5M132 2201.9h3.5M132 2213.7h3.5M132 2225.5h3.5M132 2237.3h3.5M132 2249.1h3.5M132 2260.9h3.5M132 2272.7h3.5M132 2284.5h3.5M132 2296.3h3.5M132 2308.1h3.5M132 2319.9h3.5M132 2331.7h3.5M132 2343.5h3.5M132 2355.3h3.5M132 2367.1h3.5M132 2378.9h3.5M132 2390.7h3.5M132 2402.5h3.5M132 2414.3h3.5M132 2426.1h3.5M132 2437.9h3.5M132 2449.7h3.5M132 2461.5h3.5" stroke="#000" stroke-width="1.1"/>
<text x="128.6" y="460.3" font-size="13.5" text-anchor="end" fill="#5DBFBC">ANNEXIN</text>
<text x="128.6" y="472.1" font-size="13.5" text-anchor="end" fill="#5DBFBC">Netrin</text>
<text x="128.6" y="483.9" font-size="13.5" text-anchor="end" fill="#5DBFBC">MELANOCORTIN</text>
<text x="128.6" y="495.7" font-size="13.5" text-anchor="end" fill="#111111">PTPRM</text>
<text x="128.6" y="507.5" font-size="13.5" text-anchor="end" fill="#111111">PLAU</text>
<text x="128.6" y="519.3" font-size="13.5" text-anchor="end" fill="#111111">GDNF</text>
<text x="128.6" y="531.1" font-size="13.5" text-anchor="end" fill="#111111">CSF3</text>
<text x="128.6" y="542.9" font-size="13.5" text-anchor="end" fill="#5DBFBC">UNC5</text>
<text x="128.6" y="554.7" font-size="13.5" text-anchor="end" fill="#5DBFBC">BAFF</text>
<text x="128.6" y="566.5" font-size="13.5" text-anchor="end" fill="#5DBFBC">HGF</text>
<text x="128.6" y="578.3" font-size="13.5" text-anchor="end" fill="#5DBFBC">NPY</text>
<text x="128.6" y="590.1" font-size="13.5" text-anchor="end" fill="#111111">SEMA3</text>
<text x="128.6" y="601.9" font-size="13.5" text-anchor="end" fill="#5DBFBC">ESAM</text>
<text x="128.6" y="613.7" font-size="13.5" text-anchor="end" fill="#5DBFBC">SELL</text>
<text x="128.6" y="625.5" font-size="13.5" text-anchor="end" fill="#5DBFBC">MIF</text>
<text x="128.6" y="637.3" font-size="13.5" text-anchor="end" fill="#111111">VTN</text>
<text x="128.6" y="649.1" font-size="13.5" text-anchor="end" fill="#5DBFBC">NRG</text>
<text x="128.6" y="660.9" font-size="13.5" text-anchor="end" fill="#111111">CDH</text>
<text x="128.6" y="672.7" font-size="13.5" text-anchor="end" fill="#5DBFBC">MADCAM</text>
<text x="128.6" y="684.5" font-size="13.5" text-anchor="end" fill="#111111">NGL</text>
<text x="128.6" y="696.3" font-size="13.5" text-anchor="end" fill="#111111">NCAM</text>
<text x="128.6" y="708.1" font-size="13.5" text-anchor="end" fill="#5DBFBC">SPP1</text>
<text x="128.6" y="719.9" font-size="13.5" text-anchor="end" fill="#5DBFBC">GALECTIN</text>
<text x="128.6" y="731.7" font-size="13.5" text-anchor="end" fill="#5DBFBC">SEMA7</text>
<text x="128.6" y="743.5" font-size="13.5" text-anchor="end" fill="#111111">JAM</text>
<text x="128.6" y="755.3" font-size="13.5" text-anchor="end" fill="#5DBFBC">CypA</text>
<text x="128.6" y="767.1" font-size="13.5" text-anchor="end" fill="#111111">KIT</text>
<text x="128.6" y="778.9" font-size="13.5" text-anchor="end" fill="#111111">SEMA6</text>
<text x="128.6" y="790.7" font-size="13.5" text-anchor="end" fill="#111111">PSAP</text>
<text x="128.6" y="802.5" font-size="13.5" text-anchor="end" fill="#5DBFBC">ACTIVIN</text>
<text x="128.6" y="814.3" font-size="13.5" text-anchor="end" fill="#111111">TRAIL</text>
<text x="128.6" y="826.1" font-size="13.5" text-anchor="end" fill="#5DBFBC">OXT</text>
<text x="128.6" y="837.9" font-size="13.5" text-anchor="end" fill="#111111">VEGF</text>
<text x="128.6" y="849.7" font-size="13.5" text-anchor="end" fill="#111111">ANGPTL</text>
<text x="128.6" y="861.5" font-size="13.5" text-anchor="end" fill="#111111">CD40</text>
<text x="128.6" y="873.3" font-size="13.5" text-anchor="end" fill="#111111">RESISTIN</text>
<text x="128.6" y="885.1" font-size="13.5" text-anchor="end" fill="#111111">CDH5</text>
<text x="128.6" y="896.9" font-size="13.5" text-anchor="end" fill="#111111">DESMOSOME</text>
<text x="128.6" y="908.7" font-size="13.5" text-anchor="end" fill="#111111">CD99</text>
<text x="128.6" y="920.5" font-size="13.5" text-anchor="end" fill="#111111">MK</text>
<text x="128.6" y="932.3" font-size="13.5" text-anchor="end" fill="#111111">IL2</text>
<text x="128.6" y="944.1" font-size="13.5" text-anchor="end" fill="#111111">MHC−I</text>
<text x="128.6" y="955.9" font-size="13.5" text-anchor="end" fill="#111111">GRN</text>
<text x="128.6" y="967.7" font-size="13.5" text-anchor="end" fill="#111111">NPR1</text>
<text x="128.6" y="979.5" font-size="13.5" text-anchor="end" fill="#111111">NOTCH</text>
<text x="128.6" y="991.3" font-size="13.5" text-anchor="end" fill="#111111">CD34</text>
<text x="128.6" y="1003.1" font-size="13.5" text-anchor="end" fill="#111111">COLLAGEN</text>
<text x="128.6" y="1014.9" font-size="13.5" text-anchor="end" fill="#111111">VEGI</text>
<text x="128.6" y="1026.7" font-size="13.5" text-anchor="end" fill="#D4B940">VISFATIN</text>
<text x="128.6" y="1038.5" font-size="13.5" text-anchor="end" fill="#111111">AGRN</text>
<text x="128.6" y="1050.3" font-size="13.5" text-anchor="end" fill="#111111">IL16</text>
<text x="128.6" y="1062.1" font-size="13.5" text-anchor="end" fill="#111111">CLDN</text>
<text x="128.6" y="1073.9" font-size="13.5" text-anchor="end" fill="#D4B940">CCL</text>
<text x="128.6" y="1085.7" font-size="13.5" text-anchor="end" fill="#D4B940">ANGPT</text>
<text x="128.6" y="1097.5" font-size="13.5" text-anchor="end" fill="#111111">CD48</text>
<text x="128.6" y="1109.3" font-size="13.5" text-anchor="end" fill="#D4B940">L1CAM</text>
<text x="128.6" y="1121.1" font-size="13.5" text-anchor="end" fill="#D4B940">IGF</text>
<text x="128.6" y="1132.9" font-size="13.5" text-anchor="end" fill="#D4B940">MHC−II</text>
<text x="128.6" y="1144.7" font-size="13.5" text-anchor="end" fill="#D4B940">DHEAS</text>
<text x="128.6" y="1156.5" font-size="13.5" text-anchor="end" fill="#111111">BAG</text>
<text x="128.6" y="1168.3" font-size="13.5" text-anchor="end" fill="#D4B940">APP</text>
<text x="128.6" y="1180.1" font-size="13.5" text-anchor="end" fill="#D4B940">FGF</text>
<text x="128.6" y="1191.9" font-size="13.5" text-anchor="end" fill="#D4B940">ICAM</text>
<text x="128.6" y="1203.7" font-size="13.5" text-anchor="end" fill="#111111">CALCR</text>
<text x="128.6" y="1215.5" font-size="13.5" text-anchor="end" fill="#D4B940">FSH</text>
<text x="128.6" y="1227.3" font-size="13.5" text-anchor="end" fill="#D4B940">TWEAK</text>
<text x="128.6" y="1239.1" font-size="13.5" text-anchor="end" fill="#111111">IGFBP</text>
<text x="128.6" y="1250.9" font-size="13.5" text-anchor="end" fill="#D4B940">PDGF</text>
<text x="128.6" y="1262.7" font-size="13.5" text-anchor="end" fill="#D4B940">THBS</text>
<text x="128.6" y="1274.5" font-size="13.5" text-anchor="end" fill="#D4B940">THY1</text>
<text x="128.6" y="1286.3" font-size="13.5" text-anchor="end" fill="#D4B940">FN1</text>
<text x="128.6" y="1298.1" font-size="13.5" text-anchor="end" fill="#111111">SELPLG</text>
<text x="128.6" y="1309.9" font-size="13.5" text-anchor="end" fill="#D4B940">TXA2</text>
<text x="128.6" y="1321.7" font-size="13.5" text-anchor="end" fill="#D4B940">PTN</text>
<text x="128.6" y="1333.5" font-size="13.5" text-anchor="end" fill="#111111">GAS</text>
<text x="128.6" y="1345.3" font-size="13.5" text-anchor="end" fill="#111111">TIGIT</text>
<text x="128.6" y="1357.1" font-size="13.5" text-anchor="end" fill="#111111">PVR</text>
<text x="128.6" y="1368.9" font-size="13.5" text-anchor="end" fill="#111111">CD86</text>
<text x="128.6" y="1380.7" font-size="13.5" text-anchor="end" fill="#111111">CD160</text>
<text x="128.6" y="1392.5" font-size="13.5" text-anchor="end" fill="#111111">MPZ</text>
<text x="128.6" y="1404.3" font-size="13.5" text-anchor="end" fill="#111111">NRXN</text>
<text x="128.6" y="1416.1" font-size="13.5" text-anchor="end" fill="#D4B940">HSPG</text>
<text x="128.6" y="1427.9" font-size="13.5" text-anchor="end" fill="#111111">Testosterone</text>
<text x="128.6" y="1439.7" font-size="13.5" text-anchor="end" fill="#111111">AMH</text>
<text x="128.6" y="1451.5" font-size="13.5" text-anchor="end" fill="#D4B940">LT</text>
<text x="128.6" y="1463.3" font-size="13.5" text-anchor="end" fill="#111111">NGF</text>
<text x="128.6" y="1475.1" font-size="13.5" text-anchor="end" fill="#D4B940">GP1BA</text>
<text x="128.6" y="1486.9" font-size="13.5" text-anchor="end" fill="#D4B940">CD23</text>
<text x="128.6" y="1498.7" font-size="13.5" text-anchor="end" fill="#D4B940">LAMININ</text>
<text x="128.6" y="1510.5" font-size="13.5" text-anchor="end" fill="#D4B940">RELN</text>
<text x="128.6" y="1522.3" font-size="13.5" text-anchor="end" fill="#111111">CLEC</text>
<text x="128.6" y="1534.1" font-size="13.5" text-anchor="end" fill="#D4B940">EPHA</text>
<text x="128.6" y="1545.9" font-size="13.5" text-anchor="end" fill="#D4B940">NT</text>
<text x="128.6" y="1557.7" font-size="13.5" text-anchor="end" fill="#D4B940">TGFb</text>
<text x="128.6" y="1569.5" font-size="13.5" text-anchor="end" fill="#111111">CD39</text>
<text x="128.6" y="1581.3" font-size="13.5" text-anchor="end" fill="#111111">BTLA</text>
<text x="128.6" y="1593.1" font-size="13.5" text-anchor="end" fill="#D4B940">PARs</text>
<text x="128.6" y="1604.9" font-size="13.5" text-anchor="end" fill="#D4B940">PERIOSTIN</text>
<text x="128.6" y="1616.7" font-size="13.5" text-anchor="end" fill="#D4B940">SIRP</text>
<text x="128.6" y="1628.5" font-size="13.5" text-anchor="end" fill="#D4B940">CSF</text>
<text x="128.6" y="1640.3" font-size="13.5" text-anchor="end" fill="#D4B940">OCLN</text>
<text x="128.6" y="1652.1" font-size="13.5" text-anchor="end" fill="#D4B940">SLIT</text>
<text x="128.6" y="1663.9" font-size="13.5" text-anchor="end" fill="#D4B940">BMP</text>
<text x="128.6" y="1675.7" font-size="13.5" text-anchor="end" fill="#D4B940">EPHB</text>
<text x="128.6" y="1687.5" font-size="13.5" text-anchor="end" fill="#D4B940">CXCL</text>
<text x="128.6" y="1699.3" font-size="13.5" text-anchor="end" fill="#D4B940">EGF</text>
<text x="128.6" y="1711.1" font-size="13.5" text-anchor="end" fill="#D4B940">FLRT</text>
<text x="128.6" y="1722.9" font-size="13.5" text-anchor="end" fill="#D4B940">CADM</text>
<text x="128.6" y="1734.7" font-size="13.5" text-anchor="end" fill="#D4B940">IL6</text>
<text x="128.6" y="1746.5" font-size="13.5" text-anchor="end" fill="#D4B940">WNT</text>
<text x="128.6" y="1758.3" font-size="13.5" text-anchor="end" fill="#D4B940">CNTN</text>
<text x="128.6" y="1770.1" font-size="13.5" text-anchor="end" fill="#D4B940">MSTN</text>
<text x="128.6" y="1781.9" font-size="13.5" text-anchor="end" fill="#D4B940">CD22</text>
<text x="128.6" y="1793.7" font-size="13.5" text-anchor="end" fill="#D4B940">FLT3</text>
<text x="128.6" y="1805.5" font-size="13.5" text-anchor="end" fill="#111111">LIGHT</text>
<text x="128.6" y="1817.3" font-size="13.5" text-anchor="end" fill="#111111">Androstenedione</text>
<text x="128.6" y="1829.1" font-size="13.5" text-anchor="end" fill="#D4B940">SEMA5</text>
<text x="128.6" y="1840.9" font-size="13.5" text-anchor="end" fill="#D4B940">SEMA4</text>
<text x="128.6" y="1852.7" font-size="13.5" text-anchor="end" fill="#111111">AGT</text>
<text x="128.6" y="1864.5" font-size="13.5" text-anchor="end" fill="#D4B940">Desmosterol</text>
<text x="128.6" y="1876.3" font-size="13.5" text-anchor="end" fill="#D4B940">PTPR</text>
<text x="128.6" y="1888.1" font-size="13.5" text-anchor="end" fill="#D4B940">DHT</text>
<text x="128.6" y="1899.9" font-size="13.5" text-anchor="end" fill="#D4B940">LHB</text>
<text x="128.6" y="1911.7" font-size="13.5" text-anchor="end" fill="#D4B940">CD80</text>
<text x="128.6" y="1923.5" font-size="13.5" text-anchor="end" fill="#D4B940">ncWNT</text>
<text x="128.6" y="1935.3" font-size="13.5" text-anchor="end" fill="#D4B940">EDN</text>
<text x="128.6" y="1947.1" font-size="13.5" text-anchor="end" fill="#D4B940">DHEA</text>
<text x="128.6" y="1958.9" font-size="13.5" text-anchor="end" fill="#D4B940">GAP</text>
<text x="128.6" y="1970.7" font-size="13.5" text-anchor="end" fill="#D4B940">PTH</text>
<text x="128.6" y="1982.5" font-size="13.5" text-anchor="end" fill="#D4B940">PROS</text>
<text x="128.6" y="1994.3" font-size="13.5" text-anchor="end" fill="#D4B940">RA</text>
<text x="128.6" y="2006.1" font-size="13.5" text-anchor="end" fill="#D4B940">LIFR</text>
<text x="128.6" y="2017.9" font-size="13.5" text-anchor="end" fill="#D4B940">CD46</text>
<text x="128.6" y="2029.7" font-size="13.5" text-anchor="end" fill="#D4B940">CD96</text>
<text x="128.6" y="2041.5" font-size="13.5" text-anchor="end" fill="#D4B940">OSM</text>
<text x="128.6" y="2053.3" font-size="13.5" text-anchor="end" fill="#D4B940">HH</text>
<text x="128.6" y="2065.1" font-size="13.5" text-anchor="end" fill="#D4B940">IL10</text>
<text x="128.6" y="2076.9" font-size="13.5" text-anchor="end" fill="#D4B940">CDH1</text>
<text x="128.6" y="2088.7" font-size="13.5" text-anchor="end" fill="#D4B940">IFN−II</text>
<text x="128.6" y="2100.5" font-size="13.5" text-anchor="end" fill="#D4B940">CD45</text>
<text x="128.6" y="2112.3" font-size="13.5" text-anchor="end" fill="#D4B940">IL4</text>
<text x="128.6" y="2124.1" font-size="13.5" text-anchor="end" fill="#D4B940">GDF</text>
<text x="128.6" y="2135.9" font-size="13.5" text-anchor="end" fill="#D4B940">RBP4</text>
<text x="128.6" y="2147.7" font-size="13.5" text-anchor="end" fill="#D4B940">EPO</text>
<text x="128.6" y="2159.5" font-size="13.5" text-anchor="end" fill="#D4B940">MAG</text>
<text x="128.6" y="2171.3" font-size="13.5" text-anchor="end" fill="#D4B940">Prostaglandin</text>
<text x="128.6" y="2183.1" font-size="13.5" text-anchor="end" fill="#D4B940">CD6</text>
<text x="128.6" y="2194.9" font-size="13.5" text-anchor="end" fill="#D4B940">ALCAM</text>
<text x="128.6" y="2206.7" font-size="13.5" text-anchor="end" fill="#D4B940">CX3C</text>
<text x="128.6" y="2218.5" font-size="13.5" text-anchor="end" fill="#D4B940">NPR2</text>
<text x="128.6" y="2230.3" font-size="13.5" text-anchor="end" fill="#D4B940">Cholesterol</text>
<text x="128.6" y="2242.1" font-size="13.5" text-anchor="end" fill="#D4B940">GH</text>
<text x="128.6" y="2253.9" font-size="13.5" text-anchor="end" fill="#D4B940">Glutamate</text>
<text x="128.6" y="2265.7" font-size="13.5" text-anchor="end" fill="#D4B940">IL1</text>
<text x="128.6" y="2277.5" font-size="13.5" text-anchor="end" fill="#D4B940">NEGR</text>
<text x="128.6" y="2289.3" font-size="13.5" text-anchor="end" fill="#D4B940">FASLG</text>
<text x="128.6" y="2301.1" font-size="13.5" text-anchor="end" fill="#D4B940">PRL</text>
<text x="128.6" y="2312.9" font-size="13.5" text-anchor="end" fill="#D4B940">ApoA</text>
<text x="128.6" y="2324.7" font-size="13.5" text-anchor="end" fill="#D4B940">COMPLEMENT</text>
<text x="128.6" y="2336.5" font-size="13.5" text-anchor="end" fill="#D4B940">NMU</text>
<text x="128.6" y="2348.3" font-size="13.5" text-anchor="end" fill="#D4B940">EDA</text>
<text x="128.6" y="2360.1" font-size="13.5" text-anchor="end" fill="#D4B940">OX40</text>
<text x="128.6" y="2371.9" font-size="13.5" text-anchor="end" fill="#D4B940">ApoB</text>
<text x="128.6" y="2383.7" font-size="13.5" text-anchor="end" fill="#D4B940">VWF</text>
<text x="128.6" y="2395.5" font-size="13.5" text-anchor="end" fill="#D4B940">CysLTs</text>
<text x="128.6" y="2407.3" font-size="13.5" text-anchor="end" fill="#D4B940">MMP</text>
<text x="128.6" y="2419.1" font-size="13.5" text-anchor="end" fill="#D4B940">TNF</text>
<text x="128.6" y="2430.9" font-size="13.5" text-anchor="end" fill="#D4B940">RLN</text>
<text x="128.6" y="2442.7" font-size="13.5" text-anchor="end" fill="#D4B940">SELE</text>
<text x="128.6" y="2454.5" font-size="13.5" text-anchor="end" fill="#D4B940">VCAM</text>
<text x="128.6" y="2466.3" font-size="13.5" text-anchor="end" fill="#D4B940">ApoE</text>
<line x1="271.5" y1="448.0" x2="271.5" y2="2469.0" stroke="#555" stroke-width="1.1" stroke-dasharray="4.5,4"/>
<line x1="135.6" y1="447.0" x2="135.6" y2="2470.0" stroke="#000" stroke-width="1.5"/>
<line x1="135.0" y1="2469.4" x2="407.3" y2="2469.4" stroke="#000" stroke-width="1.5"/>
<line x1="147.7" y1="2469.4" x2="147.7" y2="2473.5" stroke="#000" stroke-width="1.2"/>
<text x="147.7" y="2494.0" font-size="18" text-anchor="middle">0.00</text>
<line x1="209.6" y1="2469.4" x2="209.6" y2="2473.5" stroke="#000" stroke-width="1.2"/>
<text x="209.6" y="2494.0" font-size="18" text-anchor="middle">0.25</text>
<line x1="271.5" y1="2469.4" x2="271.5" y2="2473.5" stroke="#000" stroke-width="1.2"/>
<text x="271.5" y="2494.0" font-size="18" text-anchor="middle">0.50</text>
<line x1="333.4" y1="2469.4" x2="333.4" y2="2473.5" stroke="#000" stroke-width="1.2"/>
<text x="333.4" y="2494.0" font-size="18" text-anchor="middle">0.75</text>
<line x1="394.9" y1="2469.4" x2="394.9" y2="2473.5" stroke="#000" stroke-width="1.2"/>
<text x="394.9" y="2494.0" font-size="18" text-anchor="middle">1.00</text>
<text x="263.2" y="2519.8" font-size="20.8" text-anchor="middle">Relative information flow</text>
<rect x="409.40" y="1212.20" width="31.60" height="31.10" fill="#56BFBC"/>
<rect x="409.40" y="1274.20" width="31.60" height="31.20" fill="#D9BA2E"/>
<text x="453.9" y="1234.4" font-size="20.5">CtrlM</text>
<text x="453.9" y="1296.2" font-size="20.5">KS</text>
<text x="565.0" y="26.2" font-size="37" font-weight="bold">b</text>
<text x="775.9" y="53.2" font-size="19.5" text-anchor="middle" font-weight="bold">Differential number of interactions</text>
<text x="782.9" y="526.8" font-size="19.5" text-anchor="middle" font-weight="bold">Differential interaction strength</text>
<path d="M755.2 395.8Q770.3 394.2 781.8 395.4" stroke="#4A80C6" stroke-width="0.62" fill="none" stroke-opacity="0.78"/>
<path d="M849.6 358.2Q833.7 266.9 848.9 179.2" stroke="#4A80C6" stroke-width="0.62" fill="none" stroke-opacity="0.78"/>
<path d="M893.6 221.3Q898.7 236.4 900.1 248.7" stroke="#C8283C" stroke-width="0.66" fill="none" stroke-opacity="0.78"/>
<path d="M654.9 222.1Q661.7 266.5 655.5 307.3" stroke="#C8283C" stroke-width="0.66" fill="none" stroke-opacity="0.78"/>
<path d="M877.3 333.5Q821.3 373.8 758.7 392.9" stroke="#C8283C" stroke-width="0.66" fill="none" stroke-opacity="0.78"/>
<path d="M854.7 175.2Q870.6 266.5 855.4 354.2" stroke="#4A80C6" stroke-width="0.75" fill="none" stroke-opacity="0.78"/>
<path d="M749.5 146.8Q817.9 243.5 847.7 354.5" stroke="#4A80C6" stroke-width="0.75" fill="none" stroke-opacity="0.78"/>
<path d="M844.0 360.6Q775.6 263.9 745.9 153.0" stroke="#4A80C6" stroke-width="0.75" fill="none" stroke-opacity="0.78"/>
<path d="M841.7 362.7Q751.7 281.6 697.1 177.5" stroke="#4A80C6" stroke-width="0.75" fill="none" stroke-opacity="0.78"/>
<path d="M888.7 272.4Q782.5 318.2 670.5 324.3" stroke="#C8283C" stroke-width="0.81" fill="none" stroke-opacity="0.78"/>
<path d="M891.0 222.1Q897.7 266.5 891.6 307.3" stroke="#C8283C" stroke-width="0.81" fill="none" stroke-opacity="0.78"/>
<path d="M699.3 170.7Q789.3 251.8 843.9 355.8" stroke="#C8283C" stroke-width="0.81" fill="none" stroke-opacity="0.78"/>
<path d="M665.3 319.4Q771.5 273.6 883.4 267.5" stroke="#C8283C" stroke-width="0.81" fill="none" stroke-opacity="0.78"/>
<path d="M754.2 392.4Q794.5 376.3 834.1 373.1" stroke="#C8283C" stroke-width="0.81" fill="none" stroke-opacity="0.78"/>
<path d="M839.3 377.4Q799.0 393.6 759.4 396.8" stroke="#C8283C" stroke-width="0.81" fill="none" stroke-opacity="0.78"/>
<path d="M806.1 385.5Q839.3 323.9 888.0 278.8" stroke="#4A80C6" stroke-width="0.87" fill="none" stroke-opacity="0.78"/>
<path d="M840.7 380.0Q827.8 388.2 816.9 392.2" stroke="#4A80C6" stroke-width="0.87" fill="none" stroke-opacity="0.78"/>
<path d="M895.1 279.1Q861.8 340.7 813.1 385.8" stroke="#C8283C" stroke-width="0.96" fill="none" stroke-opacity="0.78"/>
<path d="M857.6 174.4Q884.2 240.0 887.8 307.0" stroke="#C8283C" stroke-width="0.96" fill="none" stroke-opacity="0.78"/>
<path d="M807.8 146.8Q860.6 222.3 883.9 307.5" stroke="#C8283C" stroke-width="0.96" fill="none" stroke-opacity="0.78"/>
<path d="M640.4 252.7Q642.2 236.9 646.1 225.3" stroke="#C8283C" stroke-width="0.96" fill="none" stroke-opacity="0.78"/>
<path d="M695.2 359.5Q751.4 252.2 838.6 173.5" stroke="#C8283C" stroke-width="0.96" fill="none" stroke-opacity="0.78"/>
<path d="M689.3 357.9Q694.0 249.3 734.2 152.2" stroke="#C8283C" stroke-width="0.96" fill="none" stroke-opacity="0.78"/>
<path d="M808.8 387.3Q838.2 354.7 872.7 334.1" stroke="#C8283C" stroke-width="0.96" fill="none" stroke-opacity="0.78"/>
<path d="M859.0 359.7Q867.2 346.4 875.5 337.7" stroke="#C8283C" stroke-width="0.96" fill="none" stroke-opacity="0.78"/>
<path d="M876.2 318.4Q774.2 261.4 700.5 175.4" stroke="#C8283C" stroke-width="0.96" fill="none" stroke-opacity="0.78"/>
<path d="M888.0 222.3Q884.3 293.0 859.2 355.2" stroke="#4A80C6" stroke-width="1.00" fill="none" stroke-opacity="0.78"/>
<path d="M875.1 204.5Q809.0 184.4 756.0 146.3" stroke="#C8283C" stroke-width="1.12" fill="none" stroke-opacity="0.78"/>
<path d="M651.5 222.3Q649.8 238.1 645.9 249.6" stroke="#4A80C6" stroke-width="1.12" fill="none" stroke-opacity="0.78"/>
<path d="M653.3 264.1Q770.3 243.2 883.6 263.3" stroke="#4A80C6" stroke-width="1.12" fill="none" stroke-opacity="0.78"/>
<path d="M701.6 366.3Q784.3 331.1 870.3 326.0" stroke="#C8283C" stroke-width="1.12" fill="none" stroke-opacity="0.78"/>
<path d="M728.0 393.7Q713.7 388.4 703.9 382.2" stroke="#4A80C6" stroke-width="1.12" fill="none" stroke-opacity="0.78"/>
<path d="M852.7 357.9Q856.4 287.3 881.5 225.1" stroke="#4A80C6" stroke-width="1.12" fill="none" stroke-opacity="0.78"/>
<path d="M874.5 324.5Q759.0 318.3 656.2 274.1" stroke="#4A80C6" stroke-width="1.12" fill="none" stroke-opacity="0.78"/>
<path d="M879.4 335.7Q850.0 368.3 815.5 388.9" stroke="#C8283C" stroke-width="1.12" fill="none" stroke-opacity="0.78"/>
<path d="M881.7 337.3Q873.5 350.6 865.3 359.2" stroke="#C8283C" stroke-width="1.12" fill="none" stroke-opacity="0.78"/>
<path d="M785.8 400.0Q770.8 401.6 759.5 400.5" stroke="#4A80C6" stroke-width="1.24" fill="none" stroke-opacity="0.78"/>
<path d="M751.8 144.8Q831.7 217.0 880.1 308.8" stroke="#C8283C" stroke-width="1.27" fill="none" stroke-opacity="0.78"/>
<path d="M701.1 168.2Q803.2 225.2 876.7 311.1" stroke="#C8283C" stroke-width="1.27" fill="none" stroke-opacity="0.78"/>
<path d="M650.0 311.3Q643.3 267.0 649.4 226.4" stroke="#C8283C" stroke-width="1.27" fill="none" stroke-opacity="0.78"/>
<path d="M752.6 389.6Q808.6 349.2 870.9 330.2" stroke="#C8283C" stroke-width="1.27" fill="none" stroke-opacity="0.78"/>
<path d="M874.5 207.7Q784.8 202.4 705.6 168.8" stroke="#4A80C6" stroke-width="1.37" fill="none" stroke-opacity="0.78"/>
<path d="M645.9 254.3Q679.2 192.7 727.7 147.8" stroke="#4A80C6" stroke-width="1.37" fill="none" stroke-opacity="0.78"/>
<path d="M653.5 267.3Q769.0 273.5 871.7 317.7" stroke="#4A80C6" stroke-width="1.37" fill="none" stroke-opacity="0.78"/>
<path d="M653.0 311.1Q656.7 240.5 681.7 178.4" stroke="#4A80C6" stroke-width="1.37" fill="none" stroke-opacity="0.78"/>
<path d="M666.2 322.5Q770.3 304.1 870.5 321.8" stroke="#4A80C6" stroke-width="1.37" fill="none" stroke-opacity="0.78"/>
<path d="M897.8 280.2Q885.2 323.0 862.7 356.8" stroke="#C8283C" stroke-width="1.43" fill="none" stroke-opacity="0.78"/>
<path d="M900.6 280.7Q898.8 296.5 895.0 307.9" stroke="#C8283C" stroke-width="1.43" fill="none" stroke-opacity="0.78"/>
<path d="M741.8 383.9Q746.8 261.7 792.4 152.4" stroke="#C8283C" stroke-width="1.43" fill="none" stroke-opacity="0.78"/>
<path d="M653.0 270.5Q755.0 300.3 837.4 360.9" stroke="#4A80C6" stroke-width="1.49" fill="none" stroke-opacity="0.78"/>
<path d="M666.5 325.7Q756.2 331.0 835.3 364.6" stroke="#4A80C6" stroke-width="1.49" fill="none" stroke-opacity="0.78"/>
<path d="M692.3 358.4Q722.9 244.0 788.9 150.4" stroke="#4A80C6" stroke-width="1.49" fill="none" stroke-opacity="0.78"/>
<path d="M838.7 368.2Q736.7 338.3 654.2 277.7" stroke="#4A80C6" stroke-width="1.49" fill="none" stroke-opacity="0.78"/>
<path d="M890.3 275.1Q804.7 338.1 706.6 366.9" stroke="#C8283C" stroke-width="1.58" fill="none" stroke-opacity="0.78"/>
<path d="M896.4 253.7Q891.3 238.6 890.0 226.8" stroke="#4A80C6" stroke-width="1.74" fill="none" stroke-opacity="0.78"/>
<path d="M876.3 201.4Q838.6 179.0 811.8 149.5" stroke="#4A80C6" stroke-width="1.74" fill="none" stroke-opacity="0.78"/>
<path d="M845.8 173.9Q789.6 281.2 702.7 359.6" stroke="#4A80C6" stroke-width="1.74" fill="none" stroke-opacity="0.78"/>
<path d="M805.2 148.3Q846.9 248.8 851.5 353.4" stroke="#4A80C6" stroke-width="1.74" fill="none" stroke-opacity="0.78"/>
<path d="M753.6 142.2Q832.7 186.9 889.5 252.6" stroke="#C8283C" stroke-width="1.74" fill="none" stroke-opacity="0.78"/>
<path d="M688.3 175.5Q684.6 246.1 659.6 308.0" stroke="#4A80C6" stroke-width="1.74" fill="none" stroke-opacity="0.78"/>
<path d="M666.2 205.7Q770.3 187.3 870.3 204.9" stroke="#C8283C" stroke-width="1.74" fill="none" stroke-opacity="0.78"/>
<path d="M663.6 316.7Q759.8 245.6 870.7 213.3" stroke="#4A80C6" stroke-width="1.74" fill="none" stroke-opacity="0.78"/>
<path d="M664.7 332.0Q702.4 354.4 729.2 383.9" stroke="#4A80C6" stroke-width="1.74" fill="none" stroke-opacity="0.78"/>
<path d="M855.8 358.4Q868.4 315.7 890.9 281.9" stroke="#C8283C" stroke-width="1.74" fill="none" stroke-opacity="0.78"/>
<path d="M838.4 374.5Q770.8 385.7 707.1 375.2" stroke="#4A80C6" stroke-width="1.74" fill="none" stroke-opacity="0.78"/>
<path d="M889.5 311.1Q891.2 295.3 895.0 284.0" stroke="#C8283C" stroke-width="1.74" fill="none" stroke-opacity="0.78"/>
<path d="M702.3 165.2Q804.3 195.1 886.6 255.5" stroke="#C8283C" stroke-width="1.90" fill="none" stroke-opacity="0.78"/>
<path d="M750.4 387.2Q809.8 318.5 885.2 275.7" stroke="#C8283C" stroke-width="1.90" fill="none" stroke-opacity="0.78"/>
<path d="M887.7 269.3Q770.7 290.3 657.8 270.1" stroke="#4A80C6" stroke-width="1.99" fill="none" stroke-opacity="0.78"/>
<path d="M875.7 214.0Q769.5 259.8 658.1 265.8" stroke="#4A80C6" stroke-width="1.99" fill="none" stroke-opacity="0.78"/>
<path d="M879.5 219.0Q803.6 307.9 705.2 363.0" stroke="#4A80C6" stroke-width="1.99" fill="none" stroke-opacity="0.78"/>
<path d="M882.1 220.8Q832.0 316.0 755.3 385.5" stroke="#4A80C6" stroke-width="1.99" fill="none" stroke-opacity="0.78"/>
<path d="M851.7 175.5Q847.0 284.1 807.0 380.8" stroke="#4A80C6" stroke-width="1.99" fill="none" stroke-opacity="0.78"/>
<path d="M737.8 149.0Q713.6 237.8 663.3 309.9" stroke="#4A80C6" stroke-width="1.99" fill="none" stroke-opacity="0.78"/>
<path d="M652.3 261.0Q758.5 215.2 869.9 209.2" stroke="#4A80C6" stroke-width="1.99" fill="none" stroke-opacity="0.78"/>
<path d="M644.6 279.8Q649.7 294.8 651.0 306.5" stroke="#4A80C6" stroke-width="1.99" fill="none" stroke-opacity="0.78"/>
<path d="M649.9 276.0Q701.4 323.5 732.7 381.4" stroke="#4A80C6" stroke-width="1.99" fill="none" stroke-opacity="0.78"/>
<path d="M661.5 314.4Q737.5 225.5 835.8 170.4" stroke="#4A80C6" stroke-width="1.99" fill="none" stroke-opacity="0.78"/>
<path d="M702.2 376.2Q716.5 381.5 725.9 387.4" stroke="#4A80C6" stroke-width="1.99" fill="none" stroke-opacity="0.78"/>
<path d="M800.1 383.9Q804.8 275.3 844.9 178.6" stroke="#4A80C6" stroke-width="1.99" fill="none" stroke-opacity="0.78"/>
<path d="M791.5 386.6Q723.1 289.9 693.5 179.5" stroke="#4A80C6" stroke-width="1.99" fill="none" stroke-opacity="0.78"/>
<path d="M846.7 359.1Q804.9 258.6 800.3 154.1" stroke="#4A80C6" stroke-width="1.99" fill="none" stroke-opacity="0.78"/>
<path d="M880.4 313.7Q827.6 238.3 804.4 153.5" stroke="#4A80C6" stroke-width="1.99" fill="none" stroke-opacity="0.78"/>
<path d="M891.1 257.4Q839.6 209.9 808.3 152.0" stroke="#C8283C" stroke-width="2.05" fill="none" stroke-opacity="0.78"/>
<path d="M892.5 277.4Q833.1 346.1 757.7 388.9" stroke="#C8283C" stroke-width="2.05" fill="none" stroke-opacity="0.78"/>
<path d="M860.2 172.9Q885.0 210.0 896.5 248.7" stroke="#C8283C" stroke-width="2.05" fill="none" stroke-opacity="0.78"/>
<path d="M810.1 144.8Q861.5 192.3 892.8 250.2" stroke="#C8283C" stroke-width="2.05" fill="none" stroke-opacity="0.78"/>
<path d="M799.2 149.5Q794.2 271.7 748.7 380.7" stroke="#C8283C" stroke-width="2.05" fill="none" stroke-opacity="0.78"/>
<path d="M701.7 156.0Q742.0 139.8 781.0 136.6" stroke="#C8283C" stroke-width="2.05" fill="none" stroke-opacity="0.78"/>
<path d="M664.8 215.0Q766.8 272.0 840.1 357.6" stroke="#C8283C" stroke-width="2.05" fill="none" stroke-opacity="0.78"/>
<path d="M666.0 212.1Q780.8 245.4 873.6 313.9" stroke="#C8283C" stroke-width="2.05" fill="none" stroke-opacity="0.78"/>
<path d="M738.7 384.2Q717.8 266.9 737.9 153.8" stroke="#C8283C" stroke-width="2.05" fill="none" stroke-opacity="0.78"/>
<path d="M735.8 385.1Q694.1 284.6 689.5 180.1" stroke="#C8283C" stroke-width="2.05" fill="none" stroke-opacity="0.78"/>
<path d="M875.0 321.3Q760.2 288.0 667.4 219.5" stroke="#C8283C" stroke-width="2.05" fill="none" stroke-opacity="0.78"/>
<path d="M643.1 253.2Q655.8 210.4 678.2 176.8" stroke="#4A80C6" stroke-width="2.11" fill="none" stroke-opacity="0.78"/>
<path d="M697.8 361.2Q773.8 272.4 872.1 217.3" stroke="#4A80C6" stroke-width="2.11" fill="none" stroke-opacity="0.78"/>
<path d="M889.2 260.0Q810.1 215.2 753.5 149.8" stroke="#C8283C" stroke-width="2.36" fill="none" stroke-opacity="0.78"/>
<path d="M888.0 262.9Q786.0 233.1 703.9 172.8" stroke="#C8283C" stroke-width="2.36" fill="none" stroke-opacity="0.78"/>
<path d="M743.9 149.2Q764.9 266.5 744.8 379.4" stroke="#C8283C" stroke-width="2.36" fill="none" stroke-opacity="0.78"/>
<path d="M694.3 174.3Q736.1 274.8 740.7 379.1" stroke="#C8283C" stroke-width="2.36" fill="none" stroke-opacity="0.78"/>
<path d="M839.9 365.2Q737.8 308.2 664.6 222.7" stroke="#C8283C" stroke-width="2.36" fill="none" stroke-opacity="0.78"/>
<path d="M862.3 171.1Q873.2 182.4 879.2 192.0" stroke="#4A80C6" stroke-width="2.36" fill="none" stroke-opacity="0.78"/>
<path d="M843.2 172.2Q767.2 261.1 669.0 316.0" stroke="#4A80C6" stroke-width="2.36" fill="none" stroke-opacity="0.78"/>
<path d="M793.3 147.9Q743.1 243.2 666.5 312.6" stroke="#4A80C6" stroke-width="2.36" fill="none" stroke-opacity="0.78"/>
<path d="M802.3 149.2Q823.2 266.5 803.1 379.4" stroke="#4A80C6" stroke-width="2.36" fill="none" stroke-opacity="0.78"/>
<path d="M691.4 175.2Q707.3 266.5 692.2 353.4" stroke="#4A80C6" stroke-width="2.36" fill="none" stroke-opacity="0.78"/>
<path d="M658.9 312.6Q709.0 217.4 785.6 148.0" stroke="#4A80C6" stroke-width="2.36" fill="none" stroke-opacity="0.78"/>
<path d="M678.7 362.3Q667.8 351.0 661.8 341.4" stroke="#4A80C6" stroke-width="2.36" fill="none" stroke-opacity="0.78"/>
<path d="M729.2 391.1Q691.4 368.7 664.8 339.3" stroke="#4A80C6" stroke-width="2.36" fill="none" stroke-opacity="0.78"/>
<path d="M794.1 385.1Q746.9 272.2 742.0 154.3" stroke="#4A80C6" stroke-width="2.36" fill="none" stroke-opacity="0.78"/>
<path d="M811.1 389.9Q824.0 381.7 834.3 377.9" stroke="#4A80C6" stroke-width="2.36" fill="none" stroke-opacity="0.78"/>
<path d="M754.8 139.3Q820.9 159.4 873.3 197.0" stroke="#4A80C6" stroke-width="2.61" fill="none" stroke-opacity="0.78"/>
<path d="M746.9 148.3Q794.1 261.2 799.0 378.9" stroke="#4A80C6" stroke-width="2.73" fill="none" stroke-opacity="0.78"/>
<path d="M697.0 172.8Q765.4 269.5 794.9 379.5" stroke="#4A80C6" stroke-width="2.73" fill="none" stroke-opacity="0.78"/>
<path d="M650.7 258.3Q736.3 195.3 833.9 166.7" stroke="#4A80C6" stroke-width="2.73" fill="none" stroke-opacity="0.78"/>
<path d="M648.5 256.0Q707.9 187.3 783.0 144.7" stroke="#4A80C6" stroke-width="2.73" fill="none" stroke-opacity="0.78"/>
<path d="M647.4 312.1Q642.3 297.0 641.0 285.7" stroke="#4A80C6" stroke-width="2.73" fill="none" stroke-opacity="0.78"/>
<path d="M702.8 372.7Q746.0 376.2 782.1 390.6" stroke="#4A80C6" stroke-width="2.73" fill="none" stroke-opacity="0.78"/>
<path d="M893.4 255.2Q868.7 218.2 857.3 179.8" stroke="#C8283C" stroke-width="2.83" fill="none" stroke-opacity="0.78"/>
<path d="M874.8 210.9Q770.7 229.3 671.2 211.8" stroke="#C8283C" stroke-width="2.83" fill="none" stroke-opacity="0.78"/>
<path d="M848.7 175.0Q818.1 289.4 752.5 382.4" stroke="#C8283C" stroke-width="2.83" fill="none" stroke-opacity="0.78"/>
<path d="M786.8 141.0Q746.5 157.1 707.8 160.3" stroke="#C8283C" stroke-width="2.83" fill="none" stroke-opacity="0.78"/>
<path d="M657.9 221.2Q684.5 286.8 688.0 352.9" stroke="#C8283C" stroke-width="2.83" fill="none" stroke-opacity="0.78"/>
<path d="M663.0 217.6Q742.8 289.8 790.9 381.0" stroke="#C8283C" stroke-width="2.83" fill="none" stroke-opacity="0.78"/>
<path d="M744.8 384.4Q775.4 270.0 841.0 177.0" stroke="#C8283C" stroke-width="2.98" fill="none" stroke-opacity="0.78"/>
<path d="M797.0 384.2Q776.1 266.9 796.1 154.3" stroke="#4A80C6" stroke-width="2.98" fill="none" stroke-opacity="0.78"/>
<path d="M789.2 388.6Q709.3 316.4 661.3 225.3" stroke="#C8283C" stroke-width="2.98" fill="none" stroke-opacity="0.78"/>
<path d="M734.9 147.9Q701.7 209.5 653.7 253.9" stroke="#4A80C6" stroke-width="3.10" fill="none" stroke-opacity="0.78"/>
<path d="M702.8 162.1Q792.5 167.4 870.9 200.6" stroke="#4A80C6" stroke-width="3.10" fill="none" stroke-opacity="0.78"/>
<path d="M685.2 175.0Q672.6 217.7 650.4 250.9" stroke="#4A80C6" stroke-width="3.10" fill="none" stroke-opacity="0.78"/>
<path d="M747.7 385.5Q797.9 290.2 874.2 221.1" stroke="#4A80C6" stroke-width="3.10" fill="none" stroke-opacity="0.78"/>
<path d="M813.0 139.7Q827.3 145.0 836.2 150.6" stroke="#C8283C" stroke-width="3.29" fill="none" stroke-opacity="0.78"/>
<path d="M885.0 221.9Q860.8 310.7 810.9 382.2" stroke="#4A80C6" stroke-width="3.35" fill="none" stroke-opacity="0.78"/>
<path d="M841.0 169.9Q755.4 232.9 658.1 261.4" stroke="#4A80C6" stroke-width="3.35" fill="none" stroke-opacity="0.78"/>
<path d="M790.6 146.2Q731.2 214.9 656.4 257.4" stroke="#4A80C6" stroke-width="3.35" fill="none" stroke-opacity="0.78"/>
<path d="M796.2 149.0Q765.6 263.4 700.1 356.3" stroke="#4A80C6" stroke-width="3.35" fill="none" stroke-opacity="0.78"/>
<path d="M662.6 334.7Q673.5 346.0 679.2 355.2" stroke="#4A80C6" stroke-width="3.35" fill="none" stroke-opacity="0.78"/>
<path d="M665.9 329.0Q732.0 349.0 784.1 386.5" stroke="#4A80C6" stroke-width="3.35" fill="none" stroke-opacity="0.78"/>
<path d="M680.8 360.5Q656.0 323.4 644.7 285.3" stroke="#4A80C6" stroke-width="3.35" fill="none" stroke-opacity="0.78"/>
<path d="M730.9 388.6Q679.5 341.1 648.5 283.8" stroke="#4A80C6" stroke-width="3.35" fill="none" stroke-opacity="0.78"/>
<path d="M666.5 208.9Q782.0 215.1 883.8 258.9" stroke="#C8283C" stroke-width="3.44" fill="none" stroke-opacity="0.78"/>
<path d="M683.4 359.0Q656.8 293.4 653.3 227.6" stroke="#C8283C" stroke-width="3.44" fill="none" stroke-opacity="0.78"/>
<path d="M838.8 157.2Q824.5 151.9 815.7 146.4" stroke="#C8283C" stroke-width="3.60" fill="none" stroke-opacity="0.78"/>
<path d="M785.8 137.6Q770.7 139.2 760.6 138.1" stroke="#C8283C" stroke-width="3.60" fill="none" stroke-opacity="0.78"/>
<path d="M755.2 133.4Q770.2 131.8 780.4 132.8" stroke="#C8283C" stroke-width="3.60" fill="none" stroke-opacity="0.78"/>
<path d="M729.9 143.5Q717.0 151.7 707.2 155.3" stroke="#C8283C" stroke-width="3.60" fill="none" stroke-opacity="0.78"/>
<path d="M647.6 278.2Q672.3 315.2 683.6 353.2" stroke="#4A80C6" stroke-width="3.72" fill="none" stroke-opacity="0.78"/>
<path d="M651.8 273.4Q730.9 318.2 787.0 383.1" stroke="#4A80C6" stroke-width="3.72" fill="none" stroke-opacity="0.78"/>
<path d="M786.2 394.1Q720.1 374.0 668.2 336.7" stroke="#4A80C6" stroke-width="3.72" fill="none" stroke-opacity="0.78"/>
<path d="M660.6 219.7Q713.4 295.1 736.4 379.1" stroke="#C8283C" stroke-width="3.76" fill="none" stroke-opacity="0.78"/>
<path d="M838.4 164.0Q770.7 175.2 708.1 164.9" stroke="#C8283C" stroke-width="3.91" fill="none" stroke-opacity="0.78"/>
<path d="M702.6 158.9Q770.2 147.7 832.8 158.0" stroke="#C8283C" stroke-width="4.06" fill="none" stroke-opacity="0.78"/>
<path d="M785.7 397.1Q742.4 393.7 707.0 379.5" stroke="#4A80C6" stroke-width="4.10" fill="none" stroke-opacity="0.78"/>
<path d="M755.3 136.3Q798.6 139.7 834.0 153.8" stroke="#C8283C" stroke-width="4.22" fill="none" stroke-opacity="0.78"/>
<path d="M700.3 153.4Q713.2 145.3 722.6 141.7" stroke="#C8283C" stroke-width="4.22" fill="none" stroke-opacity="0.78"/>
<path d="M838.2 160.7Q795.0 157.2 759.6 143.1" stroke="#C8283C" stroke-width="4.38" fill="none" stroke-opacity="0.78"/>
<path d="M811.9 142.3Q849.6 164.7 875.5 193.3" stroke="#4A80C6" stroke-width="4.47" fill="none" stroke-opacity="0.78"/>
<path d="M887.5 266.1Q772.0 259.9 670.7 216.3" stroke="#C8283C" stroke-width="4.53" fill="none" stroke-opacity="0.78"/>
<path d="M663.7 199.9Q719.7 159.6 780.4 141.1" stroke="#C8283C" stroke-width="4.84" fill="none" stroke-opacity="0.78"/>
<path d="M659.3 196.1Q667.5 182.8 674.5 175.5" stroke="#C8283C" stroke-width="4.84" fill="none" stroke-opacity="0.78"/>
<path d="M733.2 386.6Q680.4 311.1 657.6 227.7" stroke="#C8283C" stroke-width="4.84" fill="none" stroke-opacity="0.78"/>
<path d="M803.2 384.4Q827.4 295.6 876.9 224.7" stroke="#4A80C6" stroke-width="4.96" fill="none" stroke-opacity="0.78"/>
<path d="M661.6 197.7Q691.0 165.1 723.8 145.5" stroke="#C8283C" stroke-width="5.31" fill="none" stroke-opacity="0.78"/>
<path d="M787.4 391.2Q708.3 346.5 652.6 282.2" stroke="#4A80C6" stroke-width="5.34" fill="none" stroke-opacity="0.78"/>
<path d="M665.3 202.7Q748.0 167.5 831.8 162.5" stroke="#C8283C" stroke-width="5.62" fill="none" stroke-opacity="0.78"/>
<path d="M839.4 167.1Q756.7 202.3 672.9 207.3" stroke="#C8283C" stroke-width="5.77" fill="none" stroke-opacity="0.78"/>
<path d="M788.4 143.8Q732.4 184.2 672.3 202.5" stroke="#C8283C" stroke-width="6.08" fill="none" stroke-opacity="0.78"/>
<path d="M732.2 146.1Q702.8 178.7 670.6 197.9" stroke="#C8283C" stroke-width="6.70" fill="none" stroke-opacity="0.78"/>
<path d="M682.0 173.7Q673.8 187.0 667.4 193.7" stroke="#C8283C" stroke-width="6.70" fill="none" stroke-opacity="0.78"/>
<path d="M785.3 395.8L780.7 397.9L781.2 392.7Z" fill="#4A80C6" fill-opacity="0.85"/>
<path d="M849.5 175.7L851.3 180.5L846.2 179.6Z" fill="#4A80C6" fill-opacity="0.85"/>
<path d="M900.5 252.2L897.4 248.2L902.6 247.6Z" fill="#C8283C" fill-opacity="0.85"/>
<path d="M655.0 310.8L653.1 306.1L658.2 306.9Z" fill="#C8283C" fill-opacity="0.85"/>
<path d="M755.3 393.9L758.7 390.2L760.3 395.2Z" fill="#C8283C" fill-opacity="0.85"/>
<path d="M854.8 357.7L853.0 352.8L858.2 353.7Z" fill="#4A80C6" fill-opacity="0.85"/>
<path d="M848.6 357.9L844.8 354.3L850.0 352.9Z" fill="#4A80C6" fill-opacity="0.85"/>
<path d="M744.9 149.5L748.7 153.1L743.5 154.5Z" fill="#4A80C6" fill-opacity="0.85"/>
<path d="M695.4 174.4L699.9 177.1L695.1 179.6Z" fill="#4A80C6" fill-opacity="0.85"/>
<path d="M667.0 324.5L671.3 321.5L671.6 326.9Z" fill="#C8283C" fill-opacity="0.85"/>
<path d="M891.0 310.8L889.0 306.0L894.4 306.8Z" fill="#C8283C" fill-opacity="0.85"/>
<path d="M845.6 359.0L841.1 356.3L845.9 353.8Z" fill="#C8283C" fill-opacity="0.85"/>
<path d="M887.0 267.3L882.7 270.3L882.4 264.9Z" fill="#C8283C" fill-opacity="0.85"/>
<path d="M837.7 372.8L833.5 375.8L833.0 370.4Z" fill="#C8283C" fill-opacity="0.85"/>
<path d="M755.8 397.1L760.1 394.0L760.5 399.4Z" fill="#C8283C" fill-opacity="0.85"/>
<path d="M890.7 276.4L889.2 281.5L885.5 277.4Z" fill="#4A80C6" fill-opacity="0.85"/>
<path d="M813.5 393.5L816.7 389.3L818.7 394.5Z" fill="#4A80C6" fill-opacity="0.85"/>
<path d="M810.5 388.3L811.9 383.1L815.7 387.2Z" fill="#C8283C" fill-opacity="0.85"/>
<path d="M888.0 310.6L884.9 306.2L890.5 305.9Z" fill="#C8283C" fill-opacity="0.85"/>
<path d="M884.9 311.1L881.0 307.4L886.4 305.9Z" fill="#C8283C" fill-opacity="0.85"/>
<path d="M647.2 221.8L648.4 227.1L643.1 225.3Z" fill="#C8283C" fill-opacity="0.85"/>
<path d="M841.3 171.1L839.8 176.2L836.0 172.0Z" fill="#C8283C" fill-opacity="0.85"/>
<path d="M735.6 148.8L736.5 154.1L731.3 152.0Z" fill="#C8283C" fill-opacity="0.85"/>
<path d="M875.9 332.2L873.4 337.0L870.5 332.1Z" fill="#C8283C" fill-opacity="0.85"/>
<path d="M878.0 335.1L876.9 340.3L872.8 336.5Z" fill="#C8283C" fill-opacity="0.85"/>
<path d="M698.1 172.6L703.2 174.2L699.0 177.9Z" fill="#C8283C" fill-opacity="0.85"/>
<path d="M857.8 358.6L856.9 353.3L862.2 355.4Z" fill="#4A80C6" fill-opacity="0.85"/>
<path d="M753.0 144.1L758.5 144.5L755.1 149.2Z" fill="#C8283C" fill-opacity="0.85"/>
<path d="M644.7 253.2L643.5 247.8L649.0 249.7Z" fill="#4A80C6" fill-opacity="0.85"/>
<path d="M887.3 264.0L882.1 266.0L883.2 260.3Z" fill="#4A80C6" fill-opacity="0.85"/>
<path d="M874.0 325.8L869.6 329.0L869.2 323.1Z" fill="#C8283C" fill-opacity="0.85"/>
<path d="M700.7 380.2L706.2 380.3L703.1 385.2Z" fill="#4A80C6" fill-opacity="0.85"/>
<path d="M882.9 221.7L883.8 227.1L878.4 224.9Z" fill="#4A80C6" fill-opacity="0.85"/>
<path d="M652.8 272.6L658.2 271.8L655.9 277.1Z" fill="#4A80C6" fill-opacity="0.85"/>
<path d="M812.3 390.8L814.8 385.9L817.8 390.9Z" fill="#C8283C" fill-opacity="0.85"/>
<path d="M862.7 361.9L863.8 356.6L868.0 360.6Z" fill="#C8283C" fill-opacity="0.85"/>
<path d="M755.7 400.1L760.7 397.6L760.1 403.5Z" fill="#4A80C6" fill-opacity="0.85"/>
<path d="M881.9 312.2L877.0 309.4L882.3 306.6Z" fill="#C8283C" fill-opacity="0.85"/>
<path d="M879.2 314.0L873.8 312.3L878.4 308.4Z" fill="#C8283C" fill-opacity="0.85"/>
<path d="M650.0 222.6L652.2 227.7L646.3 226.9Z" fill="#C8283C" fill-opacity="0.85"/>
<path d="M874.6 329.1L870.9 333.4L869.2 327.6Z" fill="#C8283C" fill-opacity="0.85"/>
<path d="M702.1 167.3L707.7 166.4L705.3 172.0Z" fill="#4A80C6" fill-opacity="0.85"/>
<path d="M730.5 145.1L729.1 150.7L724.9 146.2Z" fill="#4A80C6" fill-opacity="0.85"/>
<path d="M875.3 319.2L869.6 320.1L872.1 314.5Z" fill="#4A80C6" fill-opacity="0.85"/>
<path d="M683.2 174.8L684.2 180.4L678.5 178.2Z" fill="#4A80C6" fill-opacity="0.85"/>
<path d="M874.3 322.4L869.0 324.6L870.1 318.6Z" fill="#4A80C6" fill-opacity="0.85"/>
<path d="M860.5 360.1L860.6 354.3L865.8 357.7Z" fill="#C8283C" fill-opacity="0.85"/>
<path d="M893.8 311.6L892.4 306.0L898.2 308.0Z" fill="#C8283C" fill-opacity="0.85"/>
<path d="M793.9 148.8L794.9 154.5L789.2 152.1Z" fill="#C8283C" fill-opacity="0.85"/>
<path d="M840.6 363.2L834.8 362.8L838.5 357.8Z" fill="#4A80C6" fill-opacity="0.85"/>
<path d="M838.9 366.1L833.2 367.1L835.6 361.3Z" fill="#4A80C6" fill-opacity="0.85"/>
<path d="M791.2 147.2L790.9 153.0L785.8 149.4Z" fill="#4A80C6" fill-opacity="0.85"/>
<path d="M651.1 275.4L656.9 275.8L653.2 280.9Z" fill="#4A80C6" fill-opacity="0.85"/>
<path d="M702.8 368.0L706.6 363.6L708.4 369.7Z" fill="#C8283C" fill-opacity="0.85"/>
<path d="M889.5 222.8L893.4 227.4L886.8 228.2Z" fill="#4A80C6" fill-opacity="0.85"/>
<path d="M809.1 146.5L814.9 148.0L810.1 152.4Z" fill="#4A80C6" fill-opacity="0.85"/>
<path d="M699.7 362.3L701.2 356.5L705.6 361.4Z" fill="#4A80C6" fill-opacity="0.85"/>
<path d="M851.7 357.4L848.2 352.5L854.8 352.3Z" fill="#4A80C6" fill-opacity="0.85"/>
<path d="M892.2 255.6L886.4 254.0L891.3 249.6Z" fill="#C8283C" fill-opacity="0.85"/>
<path d="M658.1 311.7L656.9 305.8L663.1 308.3Z" fill="#4A80C6" fill-opacity="0.85"/>
<path d="M874.3 205.6L868.7 208.0L869.9 201.5Z" fill="#C8283C" fill-opacity="0.85"/>
<path d="M874.6 212.2L870.6 216.8L868.8 210.4Z" fill="#4A80C6" fill-opacity="0.85"/>
<path d="M731.9 386.9L726.1 385.4L731.0 381.0Z" fill="#4A80C6" fill-opacity="0.85"/>
<path d="M893.2 278.6L893.1 284.6L887.6 280.9Z" fill="#C8283C" fill-opacity="0.85"/>
<path d="M703.1 374.5L708.6 372.1L707.5 378.6Z" fill="#4A80C6" fill-opacity="0.85"/>
<path d="M896.3 280.2L897.8 286.0L891.5 284.0Z" fill="#C8283C" fill-opacity="0.85"/>
<path d="M889.9 258.0L883.8 257.7L887.8 252.2Z" fill="#C8283C" fill-opacity="0.85"/>
<path d="M888.8 273.7L886.0 279.2L882.6 273.3Z" fill="#C8283C" fill-opacity="0.85"/>
<path d="M653.7 269.4L659.5 266.9L658.3 273.7Z" fill="#4A80C6" fill-opacity="0.85"/>
<path d="M654.0 266.1L659.0 262.3L659.4 269.2Z" fill="#4A80C6" fill-opacity="0.85"/>
<path d="M701.6 365.0L704.4 359.4L707.8 365.5Z" fill="#4A80C6" fill-opacity="0.85"/>
<path d="M752.2 388.3L753.7 382.3L758.4 387.4Z" fill="#4A80C6" fill-opacity="0.85"/>
<path d="M805.4 384.6L804.2 378.5L810.5 381.1Z" fill="#4A80C6" fill-opacity="0.85"/>
<path d="M660.9 313.3L661.1 307.1L666.7 311.0Z" fill="#4A80C6" fill-opacity="0.85"/>
<path d="M874.0 208.9L869.0 212.7L868.7 205.8Z" fill="#4A80C6" fill-opacity="0.85"/>
<path d="M651.5 310.6L647.5 305.9L654.3 305.1Z" fill="#4A80C6" fill-opacity="0.85"/>
<path d="M734.7 385.1L729.2 382.1L735.2 378.8Z" fill="#4A80C6" fill-opacity="0.85"/>
<path d="M839.4 168.4L836.6 174.0L833.2 167.9Z" fill="#4A80C6" fill-opacity="0.85"/>
<path d="M729.5 389.6L723.2 389.8L726.9 383.9Z" fill="#4A80C6" fill-opacity="0.85"/>
<path d="M846.5 174.8L847.7 180.9L841.3 178.3Z" fill="#4A80C6" fill-opacity="0.85"/>
<path d="M692.4 175.5L697.1 179.6L690.4 181.4Z" fill="#4A80C6" fill-opacity="0.85"/>
<path d="M800.1 150.0L803.8 155.0L796.9 155.3Z" fill="#4A80C6" fill-opacity="0.85"/>
<path d="M803.3 149.5L808.0 153.6L801.3 155.4Z" fill="#4A80C6" fill-opacity="0.85"/>
<path d="M806.3 148.3L811.9 151.3L805.8 154.6Z" fill="#C8283C" fill-opacity="0.85"/>
<path d="M754.1 390.9L756.9 385.3L760.3 391.4Z" fill="#C8283C" fill-opacity="0.85"/>
<path d="M897.7 252.7L892.9 248.7L899.6 246.7Z" fill="#C8283C" fill-opacity="0.85"/>
<path d="M894.8 253.8L889.3 250.9L895.4 247.6Z" fill="#C8283C" fill-opacity="0.85"/>
<path d="M747.1 384.6L745.9 378.4L752.3 381.1Z" fill="#C8283C" fill-opacity="0.85"/>
<path d="M785.2 136.3L780.2 140.2L779.7 133.3Z" fill="#C8283C" fill-opacity="0.85"/>
<path d="M842.9 360.8L836.8 359.1L842.1 354.6Z" fill="#C8283C" fill-opacity="0.85"/>
<path d="M877.0 316.4L870.7 316.1L874.8 310.4Z" fill="#C8283C" fill-opacity="0.85"/>
<path d="M738.6 149.7L741.2 155.5L734.3 154.3Z" fill="#C8283C" fill-opacity="0.85"/>
<path d="M689.3 176.0L693.0 181.0L686.0 181.3Z" fill="#C8283C" fill-opacity="0.85"/>
<path d="M664.0 217.0L670.3 217.3L666.2 223.0Z" fill="#C8283C" fill-opacity="0.85"/>
<path d="M680.5 173.3L680.5 179.7L674.6 175.8Z" fill="#4A80C6" fill-opacity="0.85"/>
<path d="M875.8 215.2L872.9 220.9L869.5 214.7Z" fill="#4A80C6" fill-opacity="0.85"/>
<path d="M750.7 146.6L757.0 148.2L751.4 153.1Z" fill="#C8283C" fill-opacity="0.85"/>
<path d="M700.4 170.2L706.9 170.4L702.6 176.4Z" fill="#C8283C" fill-opacity="0.85"/>
<path d="M744.0 383.7L741.4 377.7L748.6 379.0Z" fill="#C8283C" fill-opacity="0.85"/>
<path d="M740.9 383.4L737.0 378.2L744.3 377.9Z" fill="#C8283C" fill-opacity="0.85"/>
<path d="M661.8 219.4L668.1 221.1L662.5 225.9Z" fill="#C8283C" fill-opacity="0.85"/>
<path d="M881.5 195.6L875.5 193.0L881.7 189.1Z" fill="#4A80C6" fill-opacity="0.85"/>
<path d="M665.2 318.2L668.1 312.3L671.7 318.7Z" fill="#4A80C6" fill-opacity="0.85"/>
<path d="M663.3 315.5L664.9 309.1L669.8 314.6Z" fill="#4A80C6" fill-opacity="0.85"/>
<path d="M802.3 383.7L799.7 377.7L806.9 379.0Z" fill="#4A80C6" fill-opacity="0.85"/>
<path d="M691.5 357.7L688.8 351.7L696.0 353.0Z" fill="#4A80C6" fill-opacity="0.85"/>
<path d="M788.8 145.1L787.3 151.5L782.3 146.0Z" fill="#4A80C6" fill-opacity="0.85"/>
<path d="M659.5 337.8L665.5 340.4L659.3 344.3Z" fill="#4A80C6" fill-opacity="0.85"/>
<path d="M661.9 336.1L668.3 337.6L662.8 342.6Z" fill="#4A80C6" fill-opacity="0.85"/>
<path d="M741.8 150.0L745.7 155.2L738.3 155.5Z" fill="#4A80C6" fill-opacity="0.85"/>
<path d="M838.4 376.3L834.6 381.7L832.0 374.8Z" fill="#4A80C6" fill-opacity="0.85"/>
<path d="M876.9 199.6L870.1 199.5L874.6 193.3Z" fill="#4A80C6" fill-opacity="0.85"/>
<path d="M799.2 383.4L795.0 378.0L802.9 377.6Z" fill="#4A80C6" fill-opacity="0.85"/>
<path d="M796.0 383.9L790.8 379.4L798.4 377.4Z" fill="#4A80C6" fill-opacity="0.85"/>
<path d="M838.2 165.4L833.9 170.7L831.7 163.2Z" fill="#4A80C6" fill-opacity="0.85"/>
<path d="M786.9 142.5L784.0 148.6L780.1 141.8Z" fill="#4A80C6" fill-opacity="0.85"/>
<path d="M640.5 281.2L645.0 286.3L637.2 287.2Z" fill="#4A80C6" fill-opacity="0.85"/>
<path d="M786.3 392.2L779.6 393.8L782.5 386.5Z" fill="#4A80C6" fill-opacity="0.85"/>
<path d="M856.0 175.5L861.4 179.8L853.8 182.1Z" fill="#C8283C" fill-opacity="0.85"/>
<path d="M666.7 211.0L673.0 208.1L671.6 215.9Z" fill="#C8283C" fill-opacity="0.85"/>
<path d="M749.8 386.2L749.9 379.2L756.4 383.8Z" fill="#C8283C" fill-opacity="0.85"/>
<path d="M703.3 160.6L708.6 156.2L709.3 164.1Z" fill="#C8283C" fill-opacity="0.85"/>
<path d="M688.3 357.4L684.0 352.0L691.9 351.5Z" fill="#C8283C" fill-opacity="0.85"/>
<path d="M793.0 385.0L786.9 381.8L793.9 378.1Z" fill="#C8283C" fill-opacity="0.85"/>
<path d="M843.7 173.2L843.7 180.3L837.0 175.6Z" fill="#C8283C" fill-opacity="0.85"/>
<path d="M797.0 149.7L800.0 156.1L791.9 154.7Z" fill="#4A80C6" fill-opacity="0.85"/>
<path d="M659.1 221.2L665.4 224.4L658.2 228.2Z" fill="#C8283C" fill-opacity="0.85"/>
<path d="M650.3 257.0L651.8 250.0L657.4 256.1Z" fill="#4A80C6" fill-opacity="0.85"/>
<path d="M875.3 202.5L868.2 204.0L871.5 196.3Z" fill="#4A80C6" fill-opacity="0.85"/>
<path d="M647.8 254.8L647.6 247.7L654.5 252.3Z" fill="#4A80C6" fill-opacity="0.85"/>
<path d="M877.7 217.9L876.1 224.9L870.5 218.8Z" fill="#4A80C6" fill-opacity="0.85"/>
<path d="M840.3 153.2L833.0 153.6L837.5 146.4Z" fill="#C8283C" fill-opacity="0.85"/>
<path d="M808.1 386.1L808.0 378.7L815.1 383.7Z" fill="#4A80C6" fill-opacity="0.85"/>
<path d="M653.5 262.8L658.0 257.0L660.4 265.2Z" fill="#4A80C6" fill-opacity="0.85"/>
<path d="M652.2 259.7L655.3 253.0L659.6 260.5Z" fill="#4A80C6" fill-opacity="0.85"/>
<path d="M697.3 360.2L697.3 352.8L704.3 357.8Z" fill="#4A80C6" fill-opacity="0.85"/>
<path d="M681.8 359.3L674.9 356.5L682.2 351.9Z" fill="#4A80C6" fill-opacity="0.85"/>
<path d="M788.0 389.3L780.6 389.3L785.7 382.3Z" fill="#4A80C6" fill-opacity="0.85"/>
<path d="M643.3 280.7L649.1 285.2L640.9 287.7Z" fill="#4A80C6" fill-opacity="0.85"/>
<path d="M646.2 279.6L652.8 282.8L645.3 286.9Z" fill="#4A80C6" fill-opacity="0.85"/>
<path d="M888.2 260.8L880.9 262.4L884.4 254.4Z" fill="#C8283C" fill-opacity="0.85"/>
<path d="M653.0 222.8L657.7 228.6L649.0 229.1Z" fill="#C8283C" fill-opacity="0.85"/>
<path d="M811.5 143.8L819.1 143.3L814.4 150.8Z" fill="#C8283C" fill-opacity="0.85"/>
<path d="M755.7 137.6L762.3 133.8L761.4 142.7Z" fill="#C8283C" fill-opacity="0.85"/>
<path d="M785.3 133.3L778.7 137.1L779.6 128.2Z" fill="#C8283C" fill-opacity="0.85"/>
<path d="M702.6 157.1L706.8 150.7L710.0 159.1Z" fill="#C8283C" fill-opacity="0.85"/>
<path d="M685.0 357.9L678.9 353.3L687.6 350.7Z" fill="#4A80C6" fill-opacity="0.85"/>
<path d="M790.3 386.8L782.8 385.1L789.7 379.1Z" fill="#4A80C6" fill-opacity="0.85"/>
<path d="M664.1 333.8L671.8 333.7L666.5 341.1Z" fill="#4A80C6" fill-opacity="0.85"/>
<path d="M737.7 383.9L731.7 379.1L740.5 376.7Z" fill="#C8283C" fill-opacity="0.85"/>
<path d="M703.1 164.1L710.1 160.5L708.6 169.7Z" fill="#C8283C" fill-opacity="0.85"/>
<path d="M837.9 158.9L830.8 162.5L832.3 153.1Z" fill="#C8283C" fill-opacity="0.85"/>
<path d="M702.2 377.6L709.9 375.6L706.4 384.5Z" fill="#4A80C6" fill-opacity="0.85"/>
<path d="M838.8 155.8L831.0 157.9L834.6 148.8Z" fill="#C8283C" fill-opacity="0.85"/>
<path d="M727.5 139.9L723.1 146.7L719.7 137.6Z" fill="#C8283C" fill-opacity="0.85"/>
<path d="M754.7 141.2L762.7 139.0L759.0 148.2Z" fill="#C8283C" fill-opacity="0.85"/>
<path d="M879.1 197.3L870.9 195.7L878.3 189.0Z" fill="#4A80C6" fill-opacity="0.85"/>
<path d="M665.7 214.2L673.9 212.2L669.9 221.5Z" fill="#C8283C" fill-opacity="0.85"/>
<path d="M785.7 139.5L780.6 146.5L777.6 136.5Z" fill="#C8283C" fill-opacity="0.85"/>
<path d="M678.3 171.5L677.3 180.1L669.7 172.8Z" fill="#C8283C" fill-opacity="0.85"/>
<path d="M656.1 222.3L663.0 227.6L652.9 230.4Z" fill="#C8283C" fill-opacity="0.85"/>
<path d="M880.1 220.1L880.4 228.8L871.7 222.8Z" fill="#4A80C6" fill-opacity="0.85"/>
<path d="M728.7 142.6L725.4 151.0L719.7 141.5Z" fill="#C8283C" fill-opacity="0.85"/>
<path d="M648.8 277.8L657.8 279.6L649.4 286.9Z" fill="#4A80C6" fill-opacity="0.85"/>
<path d="M837.7 162.1L830.7 168.3L830.0 156.9Z" fill="#C8283C" fill-opacity="0.85"/>
<path d="M667.0 207.6L674.1 201.4L674.8 213.0Z" fill="#C8283C" fill-opacity="0.85"/>
<path d="M666.4 204.3L672.0 196.3L675.5 207.9Z" fill="#C8283C" fill-opacity="0.85"/>
<path d="M665.1 201.2L668.7 191.6L675.3 202.6Z" fill="#C8283C" fill-opacity="0.85"/>
<path d="M663.0 198.3L663.9 188.1L673.2 197.0Z" fill="#C8283C" fill-opacity="0.85"/>
<path d="M913.1 259.9C964.5 233.9 971.4 279.4 914.6 269.8" stroke="#CC4A5E" stroke-width="2.66" fill="none" stroke-opacity="0.85"/>
<path d="M896.1 197.1C930.7 151.9 956.4 189.6 901.7 205.4" stroke="#5C8CCB" stroke-width="2.29" fill="none" stroke-opacity="0.85"/>
<path d="M854.1 148.1C866.7 87.1 909.3 111.6 862.8 153.1" stroke="#CC4A5E" stroke-width="5.64" fill="none" stroke-opacity="0.85"/>
<path d="M795.6 122.6C781.1 64.5 828.5 68.0 805.6 123.3" stroke="#CC4A5E" stroke-width="4.15" fill="none" stroke-opacity="0.85"/>
<path d="M732.1 125.6C692.4 77.9 738.0 60.1 741.4 122.0" stroke="#CC4A5E" stroke-width="5.45" fill="none" stroke-opacity="0.85"/>
<path d="M676.2 156.6C622.3 131.9 654.3 97.3 683.0 149.3" stroke="#CC4A5E" stroke-width="3.78" fill="none" stroke-opacity="0.85"/>
<path d="M639.0 209.4C574.6 210.7 589.5 162.5 642.0 199.8" stroke="#CC4A5E" stroke-width="6.94" fill="none" stroke-opacity="0.85"/>
<path d="M627.9 273.5C575.4 300.1 568.3 253.8 626.4 263.6" stroke="#5C8CCB" stroke-width="3.48" fill="none" stroke-opacity="0.85"/>
<path d="M644.9 336.3C610.0 381.9 584.1 343.9 639.3 328.0" stroke="#5C8CCB" stroke-width="2.59" fill="none" stroke-opacity="0.85"/>
<path d="M686.9 385.3C675.0 442.7 634.5 419.3 678.2 380.3" stroke="#5C8CCB" stroke-width="3.33" fill="none" stroke-opacity="0.85"/>
<path d="M745.4 410.8C758.9 464.9 714.1 461.5 735.4 410.1" stroke="#CC4A5E" stroke-width="1.54" fill="none" stroke-opacity="0.85"/>
<path d="M808.9 407.8C848.8 455.8 803.0 473.8 799.6 411.4" stroke="#5C8CCB" stroke-width="5.71" fill="none" stroke-opacity="0.85"/>
<path d="M864.8 376.8C914.9 399.8 884.7 432.4 858.0 384.1" stroke="#CC4A5E" stroke-width="1.17" fill="none" stroke-opacity="0.85"/>
<path d="M902.0 324.0C957.7 322.9 944.5 365.8 899.0 333.6" stroke="#CC4A5E" stroke-width="1.54" fill="none" stroke-opacity="0.85"/>
<circle cx="901.5" cy="266.7" r="13.5" fill="#4BE03A"/>
<circle cx="888.5" cy="208.3" r="13.5" fill="#EDD93C"/>
<circle cx="852.2" cy="161.5" r="13.5" fill="#8DA0CE"/>
<circle cx="799.6" cy="135.5" r="13.5" fill="#7067BD"/>
<circle cx="741.3" cy="135.5" r="13.5" fill="#9166E3"/>
<circle cx="688.8" cy="161.5" r="13.5" fill="#B94EEB"/>
<circle cx="652.5" cy="208.3" r="13.5" fill="#6B34A8"/>
<circle cx="639.5" cy="266.7" r="13.5" fill="#54CCF7"/>
<circle cx="652.5" cy="325.1" r="13.5" fill="#8CD4F5"/>
<circle cx="688.8" cy="371.9" r="13.5" fill="#4C72BB"/>
<circle cx="741.4" cy="397.9" r="13.5" fill="#BB8589"/>
<circle cx="799.7" cy="397.9" r="13.5" fill="#A6A6A6"/>
<circle cx="852.2" cy="371.9" r="13.5" fill="#858585"/>
<circle cx="888.5" cy="325.1" r="13.5" fill="#6A6A6A"/>
<text x="747.0" y="102.5" font-size="19.4" text-anchor="middle">LP1</text>
<text x="828.5" y="105.4" font-size="19.4" text-anchor="middle">LPC2</text>
<text x="681.0" y="136.4" font-size="19.4" text-anchor="middle">LP2</text>
<text x="897.0" y="145.3" font-size="19.4" text-anchor="middle">LPC1</text>
<text x="633.5" y="189.3" font-size="19.4" text-anchor="middle">DLC</text>
<text x="921.0" y="190.0" font-size="19.4" text-anchor="middle">Late FGC</text>
<text x="618.0" y="264.0" font-size="19.4" text-anchor="middle">SPC</text>
<text x="949.0" y="265.2" font-size="19.4" text-anchor="middle">Early FGC</text>
<text x="628.0" y="335.0" font-size="19.4" text-anchor="middle">SC1</text>
<text x="923.6" y="332.0" font-size="19.4" text-anchor="middle">NK</text>
<text x="668.5" y="397.7" font-size="19.4" text-anchor="middle">SC2</text>
<text x="884.0" y="392.0" font-size="19.4" text-anchor="middle">MC</text>
<text x="757.0" y="436.2" font-size="19.4" text-anchor="middle">PMC</text>
<text x="825.0" y="428.1" font-size="19.4" text-anchor="middle">EC</text>
<path d="M901.5 759.6Q812.5 825.0 709.9 855.0" stroke="#4A80C6" stroke-width="0.64" fill="none" stroke-opacity="0.78"/>
<path d="M890.3 701.4Q811.3 793.6 708.4 851.1" stroke="#4A80C6" stroke-width="0.64" fill="none" stroke-opacity="0.78"/>
<path d="M893.0 703.2Q840.8 802.1 760.5 874.7" stroke="#4A80C6" stroke-width="0.64" fill="none" stroke-opacity="0.78"/>
<path d="M895.9 704.3Q870.7 796.5 818.0 871.9" stroke="#4A80C6" stroke-width="0.64" fill="none" stroke-opacity="0.78"/>
<path d="M703.0 651.4Q796.5 735.4 853.4 843.6" stroke="#4A80C6" stroke-width="0.64" fill="none" stroke-opacity="0.78"/>
<path d="M650.3 739.9Q712.0 668.5 791.1 623.8" stroke="#4A80C6" stroke-width="0.64" fill="none" stroke-opacity="0.78"/>
<path d="M644.8 737.0Q657.9 692.6 681.7 656.9" stroke="#4A80C6" stroke-width="0.64" fill="none" stroke-opacity="0.78"/>
<path d="M756.0 875.9Q817.8 804.5 896.9 759.8" stroke="#4A80C6" stroke-width="0.64" fill="none" stroke-opacity="0.78"/>
<path d="M897.0 797.2Q890.0 751.1 896.4 708.5" stroke="#4A80C6" stroke-width="0.64" fill="none" stroke-opacity="0.78"/>
<path d="M904.8 703.8Q910.1 719.5 911.6 732.5" stroke="#C8283C" stroke-width="0.68" fill="none" stroke-opacity="0.78"/>
<path d="M657.0 704.6Q664.0 750.7 657.6 793.3" stroke="#C8283C" stroke-width="0.68" fill="none" stroke-opacity="0.78"/>
<path d="M658.1 797.5Q683.3 705.3 736.0 629.9" stroke="#C8283C" stroke-width="0.68" fill="none" stroke-opacity="0.78"/>
<path d="M668.6 808.8Q776.8 789.6 881.4 808.1" stroke="#C8283C" stroke-width="0.68" fill="none" stroke-opacity="0.78"/>
<path d="M816.7 876.0Q847.3 842.1 883.5 820.5" stroke="#C8283C" stroke-width="0.68" fill="none" stroke-opacity="0.78"/>
<path d="M891.1 799.7Q836.3 721.5 811.9 632.7" stroke="#C8283C" stroke-width="0.68" fill="none" stroke-opacity="0.78"/>
<path d="M886.9 804.5Q780.8 745.4 704.1 655.9" stroke="#C8283C" stroke-width="0.68" fill="none" stroke-opacity="0.78"/>
<path d="M898.9 753.6Q777.2 775.4 659.2 754.3" stroke="#4A80C6" stroke-width="0.78" fill="none" stroke-opacity="0.78"/>
<path d="M899.8 756.7Q789.4 804.3 672.9 810.6" stroke="#4A80C6" stroke-width="0.78" fill="none" stroke-opacity="0.78"/>
<path d="M899.0 704.8Q895.1 778.1 868.9 842.9" stroke="#4A80C6" stroke-width="0.78" fill="none" stroke-opacity="0.78"/>
<path d="M743.1 628.8Q717.9 721.0 665.2 796.4" stroke="#4A80C6" stroke-width="0.78" fill="none" stroke-opacity="0.78"/>
<path d="M755.2 626.6Q826.2 726.9 857.2 842.1" stroke="#4A80C6" stroke-width="0.78" fill="none" stroke-opacity="0.78"/>
<path d="M651.7 760.5Q705.2 809.8 738.2 870.5" stroke="#4A80C6" stroke-width="0.78" fill="none" stroke-opacity="0.78"/>
<path d="M851.0 850.4Q757.5 766.4 700.7 658.3" stroke="#4A80C6" stroke-width="0.78" fill="none" stroke-opacity="0.78"/>
<path d="M848.6 865.6Q806.6 882.4 765.2 885.8" stroke="#4A80C6" stroke-width="0.78" fill="none" stroke-opacity="0.78"/>
<path d="M906.4 763.7Q871.8 827.7 821.0 874.5" stroke="#C8283C" stroke-width="0.85" fill="none" stroke-opacity="0.78"/>
<path d="M746.3 629.3Q741.4 742.1 699.5 842.9" stroke="#C8283C" stroke-width="0.85" fill="none" stroke-opacity="0.78"/>
<path d="M655.4 751.5Q775.5 757.9 882.6 804.0" stroke="#C8283C" stroke-width="0.85" fill="none" stroke-opacity="0.78"/>
<path d="M760.0 881.2Q801.9 864.5 843.3 861.1" stroke="#C8283C" stroke-width="0.85" fill="none" stroke-opacity="0.78"/>
<path d="M893.9 798.2Q866.3 730.1 862.6 660.3" stroke="#C8283C" stroke-width="0.85" fill="none" stroke-opacity="0.78"/>
<path d="M888.7 801.9Q805.8 727.0 755.2 631.3" stroke="#C8283C" stroke-width="0.85" fill="none" stroke-opacity="0.78"/>
<path d="M852.5 652.9Q773.6 745.1 670.7 802.5" stroke="#4A80C6" stroke-width="0.92" fill="none" stroke-opacity="0.78"/>
<path d="M654.2 745.1Q764.6 697.5 881.0 691.2" stroke="#4A80C6" stroke-width="0.92" fill="none" stroke-opacity="0.78"/>
<path d="M666.0 802.8Q765.9 729.0 881.7 695.4" stroke="#4A80C6" stroke-width="0.92" fill="none" stroke-opacity="0.78"/>
<path d="M734.2 879.9Q694.9 856.6 666.6 825.4" stroke="#4A80C6" stroke-width="0.92" fill="none" stroke-opacity="0.78"/>
<path d="M850.0 868.2Q836.5 876.8 824.9 881.1" stroke="#4A80C6" stroke-width="0.92" fill="none" stroke-opacity="0.78"/>
<path d="M902.3 741.3Q848.8 692.0 815.9 631.4" stroke="#C8283C" stroke-width="1.02" fill="none" stroke-opacity="0.78"/>
<path d="M900.4 744.0Q818.2 697.6 758.8 629.1" stroke="#C8283C" stroke-width="1.02" fill="none" stroke-opacity="0.78"/>
<path d="M899.1 747.0Q793.1 716.1 707.1 653.0" stroke="#C8283C" stroke-width="1.02" fill="none" stroke-opacity="0.78"/>
<path d="M909.2 764.8Q896.1 809.2 872.4 844.7" stroke="#C8283C" stroke-width="1.02" fill="none" stroke-opacity="0.78"/>
<path d="M849.1 853.1Q743.1 794.0 666.4 704.6" stroke="#C8283C" stroke-width="1.02" fill="none" stroke-opacity="0.78"/>
<path d="M847.9 856.1Q741.9 825.2 655.9 762.0" stroke="#C8283C" stroke-width="1.02" fill="none" stroke-opacity="0.78"/>
<path d="M868.8 847.4Q877.4 833.5 886.2 824.3" stroke="#C8283C" stroke-width="1.02" fill="none" stroke-opacity="0.78"/>
<path d="M900.5 797.1Q902.3 780.5 906.4 768.3" stroke="#C8283C" stroke-width="1.02" fill="none" stroke-opacity="0.78"/>
<path d="M907.8 737.5Q902.4 721.7 901.0 708.9" stroke="#4A80C6" stroke-width="1.06" fill="none" stroke-opacity="0.78"/>
<path d="M800.7 627.7Q748.5 726.6 668.4 799.1" stroke="#4A80C6" stroke-width="1.06" fill="none" stroke-opacity="0.78"/>
<path d="M812.9 628.1Q856.3 732.3 861.1 841.4" stroke="#4A80C6" stroke-width="1.06" fill="none" stroke-opacity="0.78"/>
<path d="M646.2 764.3Q651.6 780.1 653.0 792.9" stroke="#4A80C6" stroke-width="1.06" fill="none" stroke-opacity="0.78"/>
<path d="M649.2 798.0Q643.9 782.3 642.4 769.5" stroke="#4A80C6" stroke-width="1.06" fill="none" stroke-opacity="0.78"/>
<path d="M683.9 848.2Q658.1 809.7 646.0 768.8" stroke="#4A80C6" stroke-width="1.06" fill="none" stroke-opacity="0.78"/>
<path d="M681.7 850.1Q670.4 838.3 663.7 827.6" stroke="#4A80C6" stroke-width="1.06" fill="none" stroke-opacity="0.78"/>
<path d="M862.3 845.6Q866.2 772.2 892.3 707.5" stroke="#4A80C6" stroke-width="1.06" fill="none" stroke-opacity="0.78"/>
<path d="M904.7 739.1Q878.9 700.6 866.8 659.8" stroke="#C8283C" stroke-width="1.20" fill="none" stroke-opacity="0.78"/>
<path d="M649.3 762.7Q675.1 801.2 687.2 842.0" stroke="#4A80C6" stroke-width="1.20" fill="none" stroke-opacity="0.78"/>
<path d="M653.6 757.8Q735.8 804.2 795.2 872.7" stroke="#4A80C6" stroke-width="1.20" fill="none" stroke-opacity="0.78"/>
<path d="M654.9 754.8Q760.9 785.7 846.8 848.8" stroke="#C8283C" stroke-width="1.20" fill="none" stroke-opacity="0.78"/>
<path d="M664.9 821.3Q676.3 833.1 682.9 843.8" stroke="#4A80C6" stroke-width="1.20" fill="none" stroke-opacity="0.78"/>
<path d="M668.9 812.1Q762.1 817.5 844.7 852.5" stroke="#C8283C" stroke-width="1.20" fill="none" stroke-opacity="0.78"/>
<path d="M705.4 854.2Q791.4 817.6 880.9 812.3" stroke="#C8283C" stroke-width="1.20" fill="none" stroke-opacity="0.78"/>
<path d="M798.8 875.2Q727.8 774.9 696.9 659.9" stroke="#4A80C6" stroke-width="1.20" fill="none" stroke-opacity="0.78"/>
<path d="M847.4 859.3Q754.1 853.9 671.6 818.9" stroke="#C8283C" stroke-width="1.20" fill="none" stroke-opacity="0.78"/>
<path d="M847.6 862.6Q777.3 874.3 710.6 863.3" stroke="#C8283C" stroke-width="1.20" fill="none" stroke-opacity="0.78"/>
<path d="M885.7 807.6Q766.3 773.1 669.4 701.6" stroke="#C8283C" stroke-width="1.20" fill="none" stroke-opacity="0.78"/>
<path d="M740.1 627.7Q705.5 691.7 654.9 738.4" stroke="#4A80C6" stroke-width="1.34" fill="none" stroke-opacity="0.78"/>
<path d="M691.7 656.2Q687.8 729.6 661.7 794.1" stroke="#4A80C6" stroke-width="1.34" fill="none" stroke-opacity="0.78"/>
<path d="M667.0 818.5Q706.4 841.7 734.4 872.8" stroke="#4A80C6" stroke-width="1.34" fill="none" stroke-opacity="0.78"/>
<path d="M733.0 882.6Q718.0 877.0 707.7 870.5" stroke="#4A80C6" stroke-width="1.34" fill="none" stroke-opacity="0.78"/>
<path d="M898.6 750.3Q778.5 743.9 671.6 697.9" stroke="#C8283C" stroke-width="1.38" fill="none" stroke-opacity="0.78"/>
<path d="M668.6 687.7Q776.8 668.6 881.1 686.9" stroke="#C8283C" stroke-width="1.38" fill="none" stroke-opacity="0.78"/>
<path d="M695.8 846.0Q727.6 727.3 796.3 630.1" stroke="#C8283C" stroke-width="1.38" fill="none" stroke-opacity="0.78"/>
<path d="M692.7 845.6Q697.6 732.8 739.4 632.2" stroke="#C8283C" stroke-width="1.38" fill="none" stroke-opacity="0.78"/>
<path d="M689.6 845.8Q673.1 751.2 688.8 660.3" stroke="#C8283C" stroke-width="1.38" fill="none" stroke-opacity="0.78"/>
<path d="M706.4 857.4Q776.8 845.6 843.3 856.7" stroke="#C8283C" stroke-width="1.38" fill="none" stroke-opacity="0.78"/>
<path d="M736.0 877.3Q682.5 828.1 649.7 767.6" stroke="#4A80C6" stroke-width="1.48" fill="none" stroke-opacity="0.78"/>
<path d="M819.1 878.6Q832.6 870.1 843.9 865.8" stroke="#4A80C6" stroke-width="1.48" fill="none" stroke-opacity="0.78"/>
<path d="M912.0 765.3Q910.2 781.8 906.2 793.8" stroke="#C8283C" stroke-width="1.55" fill="none" stroke-opacity="0.78"/>
<path d="M847.4 641.0Q802.4 637.5 764.1 622.2" stroke="#C8283C" stroke-width="1.55" fill="none" stroke-opacity="0.78"/>
<path d="M641.9 736.5Q643.8 720.0 647.8 708.0" stroke="#C8283C" stroke-width="1.55" fill="none" stroke-opacity="0.78"/>
<path d="M652.0 797.3Q644.9 751.2 651.3 709.0" stroke="#C8283C" stroke-width="1.55" fill="none" stroke-opacity="0.78"/>
<path d="M759.4 621.8Q841.6 668.2 900.8 736.5" stroke="#4A80C6" stroke-width="1.62" fill="none" stroke-opacity="0.78"/>
<path d="M794.6 880.0Q712.4 833.6 653.2 765.3" stroke="#4A80C6" stroke-width="1.62" fill="none" stroke-opacity="0.78"/>
<path d="M903.7 761.9Q842.0 833.3 763.3 877.8" stroke="#C8283C" stroke-width="1.72" fill="none" stroke-opacity="0.78"/>
<path d="M793.0 617.1Q777.2 618.7 765.5 617.5" stroke="#C8283C" stroke-width="1.72" fill="none" stroke-opacity="0.78"/>
<path d="M700.6 653.5Q771.7 753.8 802.5 868.6" stroke="#C8283C" stroke-width="1.72" fill="none" stroke-opacity="0.78"/>
<path d="M698.8 847.2Q757.2 735.8 847.6 654.4" stroke="#C8283C" stroke-width="1.72" fill="none" stroke-opacity="0.78"/>
<path d="M855.2 654.7Q796.8 766.0 706.4 847.4" stroke="#4A80C6" stroke-width="1.76" fill="none" stroke-opacity="0.78"/>
<path d="M688.4 655.7Q675.3 700.2 651.8 735.4" stroke="#4A80C6" stroke-width="1.76" fill="none" stroke-opacity="0.78"/>
<path d="M807.7 872.5Q812.6 759.7 854.4 659.3" stroke="#4A80C6" stroke-width="1.76" fill="none" stroke-opacity="0.78"/>
<path d="M793.4 883.0Q724.7 862.2 669.7 822.7" stroke="#4A80C6" stroke-width="1.76" fill="none" stroke-opacity="0.78"/>
<path d="M850.3 650.5Q761.3 715.9 659.3 745.7" stroke="#4A80C6" stroke-width="1.90" fill="none" stroke-opacity="0.78"/>
<path d="M821.0 619.2Q836.0 624.8 846.1 631.1" stroke="#C8283C" stroke-width="1.90" fill="none" stroke-opacity="0.78"/>
<path d="M815.7 626.6Q870.5 704.9 894.7 793.0" stroke="#C8283C" stroke-width="1.90" fill="none" stroke-opacity="0.78"/>
<path d="M667.1 697.3Q773.2 756.4 849.5 845.4" stroke="#C8283C" stroke-width="1.90" fill="none" stroke-opacity="0.78"/>
<path d="M701.5 848.9Q780.4 756.7 882.9 699.5" stroke="#4A80C6" stroke-width="1.90" fill="none" stroke-opacity="0.78"/>
<path d="M744.1 872.8Q722.3 751.1 743.2 633.6" stroke="#C8283C" stroke-width="1.90" fill="none" stroke-opacity="0.78"/>
<path d="M848.1 637.5Q833.0 632.0 823.0 625.7" stroke="#C8283C" stroke-width="2.08" fill="none" stroke-opacity="0.78"/>
<path d="M858.2 655.8Q826.4 774.5 757.9 871.4" stroke="#C8283C" stroke-width="2.08" fill="none" stroke-opacity="0.78"/>
<path d="M794.0 620.6Q752.1 637.4 711.3 640.7" stroke="#C8283C" stroke-width="2.08" fill="none" stroke-opacity="0.78"/>
<path d="M806.8 629.3Q801.6 756.1 754.2 869.3" stroke="#C8283C" stroke-width="2.08" fill="none" stroke-opacity="0.78"/>
<path d="M796.5 877.4Q713.5 802.5 663.2 707.3" stroke="#C8283C" stroke-width="2.08" fill="none" stroke-opacity="0.78"/>
<path d="M798.0 625.9Q736.2 697.3 657.8 741.7" stroke="#4A80C6" stroke-width="2.18" fill="none" stroke-opacity="0.78"/>
<path d="M668.3 815.4Q737.0 836.1 791.9 875.5" stroke="#4A80C6" stroke-width="2.18" fill="none" stroke-opacity="0.78"/>
<path d="M804.6 872.8Q782.8 751.1 803.7 633.7" stroke="#4A80C6" stroke-width="2.18" fill="none" stroke-opacity="0.78"/>
<path d="M801.6 873.7Q752.5 756.6 747.4 634.0" stroke="#4A80C6" stroke-width="2.18" fill="none" stroke-opacity="0.78"/>
<path d="M867.4 655.1Q895.0 723.2 898.7 792.3" stroke="#C8283C" stroke-width="2.25" fill="none" stroke-opacity="0.78"/>
<path d="M694.8 656.0Q711.3 750.7 695.7 841.1" stroke="#4A80C6" stroke-width="2.32" fill="none" stroke-opacity="0.78"/>
<path d="M703.7 851.3Q792.7 785.9 894.5 756.1" stroke="#4A80C6" stroke-width="2.32" fill="none" stroke-opacity="0.78"/>
<path d="M706.6 860.8Q751.6 864.3 789.6 879.5" stroke="#4A80C6" stroke-width="2.32" fill="none" stroke-opacity="0.78"/>
<path d="M757.5 624.4Q840.5 699.4 890.6 794.2" stroke="#C8283C" stroke-width="2.60" fill="none" stroke-opacity="0.78"/>
<path d="M668.9 691.0Q788.9 697.4 895.3 743.1" stroke="#C8283C" stroke-width="2.60" fill="none" stroke-opacity="0.78"/>
<path d="M818.0 624.5Q871.5 673.8 904.0 733.8" stroke="#4A80C6" stroke-width="2.60" fill="none" stroke-opacity="0.78"/>
<path d="M753.3 874.1Q805.5 775.2 885.1 703.2" stroke="#4A80C6" stroke-width="2.60" fill="none" stroke-opacity="0.78"/>
<path d="M809.9 629.0Q831.7 750.7 810.8 867.8" stroke="#4A80C6" stroke-width="2.74" fill="none" stroke-opacity="0.78"/>
<path d="M813.9 874.1Q848.5 810.1 898.6 763.9" stroke="#4A80C6" stroke-width="2.74" fill="none" stroke-opacity="0.78"/>
<path d="M704.8 648.7Q810.9 707.9 887.0 796.6" stroke="#C8283C" stroke-width="2.77" fill="none" stroke-opacity="0.78"/>
<path d="M760.6 618.8Q829.3 639.6 883.9 678.8" stroke="#4A80C6" stroke-width="2.88" fill="none" stroke-opacity="0.78"/>
<path d="M666.0 681.8Q724.3 639.8 788.5 620.3" stroke="#C8283C" stroke-width="2.95" fill="none" stroke-opacity="0.78"/>
<path d="M663.9 679.5Q694.5 645.5 729.8 624.6" stroke="#C8283C" stroke-width="2.95" fill="none" stroke-opacity="0.78"/>
<path d="M668.3 694.2Q787.7 728.7 883.9 799.7" stroke="#C8283C" stroke-width="2.95" fill="none" stroke-opacity="0.78"/>
<path d="M870.1 653.6Q895.9 692.1 907.8 732.1" stroke="#4A80C6" stroke-width="3.02" fill="none" stroke-opacity="0.78"/>
<path d="M872.3 651.7Q883.6 663.5 889.8 673.4" stroke="#4A80C6" stroke-width="3.02" fill="none" stroke-opacity="0.78"/>
<path d="M793.0 889.1Q777.3 890.8 766.1 889.6" stroke="#4A80C6" stroke-width="3.02" fill="none" stroke-opacity="0.78"/>
<path d="M761.0 612.7Q776.7 611.0 787.9 612.2" stroke="#C8283C" stroke-width="3.12" fill="none" stroke-opacity="0.78"/>
<path d="M749.4 629.0Q771.2 750.7 750.3 867.6" stroke="#C8283C" stroke-width="3.12" fill="none" stroke-opacity="0.78"/>
<path d="M686.6 846.7Q659.0 778.6 655.3 710.0" stroke="#C8283C" stroke-width="3.12" fill="none" stroke-opacity="0.78"/>
<path d="M803.7 628.8Q771.9 747.6 703.7 844.0" stroke="#4A80C6" stroke-width="3.30" fill="none" stroke-opacity="0.78"/>
<path d="M734.9 623.2Q721.4 631.7 710.9 635.6" stroke="#C8283C" stroke-width="3.30" fill="none" stroke-opacity="0.78"/>
<path d="M705.4 636.2Q747.4 619.4 787.6 616.1" stroke="#C8283C" stroke-width="3.30" fill="none" stroke-opacity="0.78"/>
<path d="M704.0 633.6Q717.5 625.0 728.0 621.1" stroke="#C8283C" stroke-width="3.30" fill="none" stroke-opacity="0.78"/>
<path d="M750.3 873.0Q782.1 754.2 850.3 657.8" stroke="#C8283C" stroke-width="3.30" fill="none" stroke-opacity="0.78"/>
<path d="M747.2 872.5Q752.4 745.7 799.5 633.0" stroke="#C8283C" stroke-width="3.30" fill="none" stroke-opacity="0.78"/>
<path d="M758.3 878.3Q816.5 836.4 880.6 816.9" stroke="#C8283C" stroke-width="3.30" fill="none" stroke-opacity="0.78"/>
<path d="M810.9 873.0Q836.1 780.8 888.1 706.4" stroke="#4A80C6" stroke-width="3.30" fill="none" stroke-opacity="0.78"/>
<path d="M792.9 886.1Q747.9 882.5 710.4 867.6" stroke="#4A80C6" stroke-width="3.30" fill="none" stroke-opacity="0.78"/>
<path d="M660.1 703.6Q687.7 771.7 691.4 840.2" stroke="#C8283C" stroke-width="3.48" fill="none" stroke-opacity="0.78"/>
<path d="M761.1 615.7Q806.1 619.3 843.5 634.2" stroke="#C8283C" stroke-width="3.65" fill="none" stroke-opacity="0.78"/>
<path d="M697.9 655.1Q741.3 759.3 746.0 867.1" stroke="#C8283C" stroke-width="3.65" fill="none" stroke-opacity="0.78"/>
<path d="M661.5 677.8Q670.1 663.9 678.0 655.7" stroke="#C8283C" stroke-width="3.65" fill="none" stroke-opacity="0.78"/>
<path d="M665.3 699.9Q748.2 774.8 798.1 869.3" stroke="#C8283C" stroke-width="3.65" fill="none" stroke-opacity="0.78"/>
<path d="M738.3 875.2Q683.5 796.9 659.5 709.6" stroke="#C8283C" stroke-width="3.65" fill="none" stroke-opacity="0.78"/>
<path d="M667.6 684.6Q753.6 648.0 841.8 642.8" stroke="#C8283C" stroke-width="4.00" fill="none" stroke-opacity="0.78"/>
<path d="M741.1 873.7Q697.7 769.5 692.9 661.8" stroke="#C8283C" stroke-width="4.00" fill="none" stroke-opacity="0.78"/>
<path d="M848.6 647.6Q762.6 684.2 674.5 689.4" stroke="#C8283C" stroke-width="4.18" fill="none" stroke-opacity="0.78"/>
<path d="M662.9 702.1Q717.7 780.3 741.6 867.4" stroke="#C8283C" stroke-width="4.35" fill="none" stroke-opacity="0.78"/>
<path d="M847.6 644.4Q777.2 656.2 712.2 645.4" stroke="#C8283C" stroke-width="4.52" fill="none" stroke-opacity="0.78"/>
<path d="M795.7 623.5Q737.5 665.4 673.9 684.7" stroke="#C8283C" stroke-width="4.52" fill="none" stroke-opacity="0.78"/>
<path d="M706.4 639.2Q776.7 627.5 841.8 638.3" stroke="#C8283C" stroke-width="4.52" fill="none" stroke-opacity="0.78"/>
<path d="M819.8 621.9Q859.1 645.2 886.0 674.9" stroke="#4A80C6" stroke-width="5.12" fill="none" stroke-opacity="0.78"/>
<path d="M706.6 642.5Q799.9 647.9 880.7 682.2" stroke="#4A80C6" stroke-width="5.12" fill="none" stroke-opacity="0.78"/>
<path d="M737.3 625.8Q706.7 659.7 672.4 680.2" stroke="#C8283C" stroke-width="5.23" fill="none" stroke-opacity="0.78"/>
<path d="M685.2 654.4Q676.6 668.3 670.0 675.2" stroke="#C8283C" stroke-width="7.50" fill="none" stroke-opacity="0.78"/>
<path d="M706.6 856.0L710.0 852.2L711.5 857.2Z" fill="#4A80C6" fill-opacity="0.85"/>
<path d="M705.3 852.8L707.9 848.4L710.4 853.0Z" fill="#4A80C6" fill-opacity="0.85"/>
<path d="M757.9 877.0L759.4 872.2L762.9 876.0Z" fill="#4A80C6" fill-opacity="0.85"/>
<path d="M816.0 874.8L816.3 869.7L820.6 872.7Z" fill="#4A80C6" fill-opacity="0.85"/>
<path d="M855.0 846.7L850.7 844.0L855.3 841.6Z" fill="#4A80C6" fill-opacity="0.85"/>
<path d="M794.2 622.1L791.7 626.5L789.1 622.0Z" fill="#4A80C6" fill-opacity="0.85"/>
<path d="M683.6 654.0L683.4 659.1L679.0 656.2Z" fill="#4A80C6" fill-opacity="0.85"/>
<path d="M899.9 758.1L897.4 762.5L894.8 758.0Z" fill="#4A80C6" fill-opacity="0.85"/>
<path d="M897.0 705.0L898.9 709.8L893.7 709.0Z" fill="#4A80C6" fill-opacity="0.85"/>
<path d="M912.0 736.0L908.9 732.0L914.1 731.4Z" fill="#C8283C" fill-opacity="0.85"/>
<path d="M657.0 796.8L655.1 792.0L660.3 792.8Z" fill="#C8283C" fill-opacity="0.85"/>
<path d="M738.0 627.0L737.7 632.1L733.4 629.1Z" fill="#C8283C" fill-opacity="0.85"/>
<path d="M884.9 808.7L880.1 810.5L881.0 805.3Z" fill="#C8283C" fill-opacity="0.85"/>
<path d="M886.5 818.7L884.1 823.2L881.4 818.7Z" fill="#C8283C" fill-opacity="0.85"/>
<path d="M811.0 629.3L814.7 632.9L809.6 634.3Z" fill="#C8283C" fill-opacity="0.85"/>
<path d="M701.8 653.3L706.6 654.9L702.7 658.3Z" fill="#C8283C" fill-opacity="0.85"/>
<path d="M655.6 753.7L660.5 751.8L659.6 757.1Z" fill="#4A80C6" fill-opacity="0.85"/>
<path d="M669.4 810.8L673.7 807.9L674.0 813.2Z" fill="#4A80C6" fill-opacity="0.85"/>
<path d="M867.6 846.2L866.8 841.1L871.8 843.1Z" fill="#4A80C6" fill-opacity="0.85"/>
<path d="M663.2 799.3L663.5 794.1L667.9 797.2Z" fill="#4A80C6" fill-opacity="0.85"/>
<path d="M858.1 845.5L854.3 841.9L859.5 840.5Z" fill="#4A80C6" fill-opacity="0.85"/>
<path d="M739.9 873.7L735.4 871.0L740.1 868.5Z" fill="#4A80C6" fill-opacity="0.85"/>
<path d="M699.0 655.1L703.5 657.8L698.7 660.3Z" fill="#4A80C6" fill-opacity="0.85"/>
<path d="M761.6 886.1L765.9 883.0L766.3 888.4Z" fill="#4A80C6" fill-opacity="0.85"/>
<path d="M818.4 877.0L819.8 871.9L823.5 875.9Z" fill="#C8283C" fill-opacity="0.85"/>
<path d="M698.1 846.3L697.3 841.1L702.3 843.2Z" fill="#C8283C" fill-opacity="0.85"/>
<path d="M885.9 805.4L880.7 806.1L882.8 801.1Z" fill="#C8283C" fill-opacity="0.85"/>
<path d="M846.9 860.8L842.6 863.9L842.2 858.4Z" fill="#C8283C" fill-opacity="0.85"/>
<path d="M862.4 656.7L865.3 661.1L859.9 661.4Z" fill="#C8283C" fill-opacity="0.85"/>
<path d="M753.5 628.2L758.1 630.9L753.2 633.4Z" fill="#C8283C" fill-opacity="0.85"/>
<path d="M667.6 804.3L670.2 799.7L672.9 804.5Z" fill="#4A80C6" fill-opacity="0.85"/>
<path d="M884.6 691.0L880.2 694.0L879.9 688.5Z" fill="#4A80C6" fill-opacity="0.85"/>
<path d="M885.2 694.4L881.6 698.3L880.0 693.0Z" fill="#4A80C6" fill-opacity="0.85"/>
<path d="M664.2 822.7L669.3 824.2L665.2 828.0Z" fill="#4A80C6" fill-opacity="0.85"/>
<path d="M821.5 882.4L824.8 878.2L826.7 883.4Z" fill="#4A80C6" fill-opacity="0.85"/>
<path d="M814.1 628.1L818.8 630.8L813.8 633.5Z" fill="#C8283C" fill-opacity="0.85"/>
<path d="M756.3 626.3L761.5 627.9L757.2 631.6Z" fill="#C8283C" fill-opacity="0.85"/>
<path d="M704.1 650.8L709.5 651.2L706.1 655.8Z" fill="#C8283C" fill-opacity="0.85"/>
<path d="M870.4 847.8L870.6 842.4L875.3 845.5Z" fill="#C8283C" fill-opacity="0.85"/>
<path d="M664.0 701.8L669.2 703.4L664.9 707.1Z" fill="#C8283C" fill-opacity="0.85"/>
<path d="M652.9 759.9L658.3 760.3L654.9 764.9Z" fill="#C8283C" fill-opacity="0.85"/>
<path d="M888.7 821.7L887.6 827.0L883.5 823.0Z" fill="#C8283C" fill-opacity="0.85"/>
<path d="M907.6 764.8L908.8 770.1L903.4 768.3Z" fill="#C8283C" fill-opacity="0.85"/>
<path d="M900.5 705.2L903.9 709.5L898.2 710.2Z" fill="#4A80C6" fill-opacity="0.85"/>
<path d="M665.6 801.6L667.1 796.3L671.0 800.6Z" fill="#4A80C6" fill-opacity="0.85"/>
<path d="M861.3 845.1L858.2 840.6L864.0 840.3Z" fill="#4A80C6" fill-opacity="0.85"/>
<path d="M653.5 796.6L650.1 792.3L655.8 791.6Z" fill="#4A80C6" fill-opacity="0.85"/>
<path d="M642.0 765.8L645.4 770.1L639.7 770.7Z" fill="#4A80C6" fill-opacity="0.85"/>
<path d="M644.9 765.3L649.0 768.9L643.5 770.5Z" fill="#4A80C6" fill-opacity="0.85"/>
<path d="M661.7 824.4L666.6 826.9L661.8 829.9Z" fill="#4A80C6" fill-opacity="0.85"/>
<path d="M893.7 704.1L894.7 709.5L889.3 707.3Z" fill="#4A80C6" fill-opacity="0.85"/>
<path d="M865.7 656.2L869.9 659.9L864.2 661.6Z" fill="#C8283C" fill-opacity="0.85"/>
<path d="M688.3 845.6L684.1 841.9L689.8 840.2Z" fill="#4A80C6" fill-opacity="0.85"/>
<path d="M797.7 875.5L792.3 873.9L796.8 870.0Z" fill="#4A80C6" fill-opacity="0.85"/>
<path d="M849.9 851.0L844.3 850.6L847.8 845.8Z" fill="#C8283C" fill-opacity="0.85"/>
<path d="M684.9 847.0L679.9 844.5L684.9 841.4Z" fill="#4A80C6" fill-opacity="0.85"/>
<path d="M848.2 854.0L842.7 854.8L845.0 849.4Z" fill="#C8283C" fill-opacity="0.85"/>
<path d="M884.6 812.1L880.1 815.3L879.8 809.4Z" fill="#C8283C" fill-opacity="0.85"/>
<path d="M695.9 656.3L700.0 660.1L694.3 661.6Z" fill="#4A80C6" fill-opacity="0.85"/>
<path d="M668.1 817.4L673.6 816.5L671.3 822.0Z" fill="#C8283C" fill-opacity="0.85"/>
<path d="M706.9 862.6L712.0 860.5L711.0 866.3Z" fill="#C8283C" fill-opacity="0.85"/>
<path d="M666.4 699.3L671.9 699.8L668.4 704.5Z" fill="#C8283C" fill-opacity="0.85"/>
<path d="M652.1 741.0L653.6 735.5L657.7 740.0Z" fill="#4A80C6" fill-opacity="0.85"/>
<path d="M660.3 797.7L659.2 792.1L664.9 794.4Z" fill="#4A80C6" fill-opacity="0.85"/>
<path d="M737.0 875.6L731.5 874.1L736.0 870.0Z" fill="#4A80C6" fill-opacity="0.85"/>
<path d="M704.4 868.5L710.1 868.5L706.9 873.6Z" fill="#4A80C6" fill-opacity="0.85"/>
<path d="M668.1 696.4L673.7 695.5L671.3 701.1Z" fill="#C8283C" fill-opacity="0.85"/>
<path d="M884.9 687.6L879.6 689.8L880.7 683.8Z" fill="#C8283C" fill-opacity="0.85"/>
<path d="M798.5 627.0L798.3 632.7L793.2 629.1Z" fill="#C8283C" fill-opacity="0.85"/>
<path d="M740.9 628.6L741.8 634.2L736.2 631.9Z" fill="#C8283C" fill-opacity="0.85"/>
<path d="M689.5 656.5L691.7 661.8L685.6 660.7Z" fill="#C8283C" fill-opacity="0.85"/>
<path d="M847.1 857.3L841.9 859.5L842.9 853.5Z" fill="#C8283C" fill-opacity="0.85"/>
<path d="M647.9 764.1L653.0 766.9L647.5 769.9Z" fill="#4A80C6" fill-opacity="0.85"/>
<path d="M847.6 864.5L844.1 869.1L841.9 863.3Z" fill="#4A80C6" fill-opacity="0.85"/>
<path d="M904.9 797.5L903.5 791.8L909.5 793.9Z" fill="#C8283C" fill-opacity="0.85"/>
<path d="M760.4 620.7L766.2 619.6L763.8 625.5Z" fill="#C8283C" fill-opacity="0.85"/>
<path d="M649.1 704.3L650.5 710.0L644.5 707.9Z" fill="#C8283C" fill-opacity="0.85"/>
<path d="M651.9 705.1L654.3 710.4L648.0 709.5Z" fill="#C8283C" fill-opacity="0.85"/>
<path d="M903.4 739.5L897.7 737.9L902.6 733.6Z" fill="#4A80C6" fill-opacity="0.85"/>
<path d="M650.6 762.3L656.3 763.9L651.4 768.2Z" fill="#4A80C6" fill-opacity="0.85"/>
<path d="M759.8 879.7L762.6 874.4L765.8 880.1Z" fill="#C8283C" fill-opacity="0.85"/>
<path d="M761.5 617.1L766.8 614.4L766.1 620.9Z" fill="#C8283C" fill-opacity="0.85"/>
<path d="M803.6 872.5L799.1 868.5L805.4 866.8Z" fill="#C8283C" fill-opacity="0.85"/>
<path d="M850.6 651.7L849.1 657.5L844.7 652.6Z" fill="#C8283C" fill-opacity="0.85"/>
<path d="M703.4 850.1L704.9 844.3L709.4 849.2Z" fill="#4A80C6" fill-opacity="0.85"/>
<path d="M649.6 738.7L649.6 732.7L655.1 736.4Z" fill="#4A80C6" fill-opacity="0.85"/>
<path d="M855.9 655.5L857.0 661.5L850.9 658.9Z" fill="#4A80C6" fill-opacity="0.85"/>
<path d="M666.4 820.3L672.5 820.6L668.6 826.0Z" fill="#4A80C6" fill-opacity="0.85"/>
<path d="M655.3 746.9L659.3 742.2L661.2 748.7Z" fill="#4A80C6" fill-opacity="0.85"/>
<path d="M849.6 633.3L843.4 633.4L847.0 627.7Z" fill="#C8283C" fill-opacity="0.85"/>
<path d="M895.8 797.0L891.1 792.9L897.7 791.1Z" fill="#C8283C" fill-opacity="0.85"/>
<path d="M852.2 848.6L846.3 846.9L851.4 842.4Z" fill="#C8283C" fill-opacity="0.85"/>
<path d="M886.4 697.5L883.6 703.0L880.3 697.0Z" fill="#4A80C6" fill-opacity="0.85"/>
<path d="M744.0 629.5L746.4 635.2L739.7 634.0Z" fill="#C8283C" fill-opacity="0.85"/>
<path d="M819.5 623.4L825.8 623.2L822.1 629.2Z" fill="#C8283C" fill-opacity="0.85"/>
<path d="M755.5 874.8L755.6 868.5L761.4 872.6Z" fill="#C8283C" fill-opacity="0.85"/>
<path d="M707.1 641.0L712.0 637.1L712.6 644.1Z" fill="#C8283C" fill-opacity="0.85"/>
<path d="M752.6 873.2L751.4 867.0L757.9 869.7Z" fill="#C8283C" fill-opacity="0.85"/>
<path d="M661.3 703.6L666.8 706.6L660.6 709.9Z" fill="#C8283C" fill-opacity="0.85"/>
<path d="M654.1 743.7L656.9 738.0L660.4 744.2Z" fill="#4A80C6" fill-opacity="0.85"/>
<path d="M795.3 878.0L788.9 877.8L793.1 872.0Z" fill="#4A80C6" fill-opacity="0.85"/>
<path d="M804.5 629.5L807.1 635.4L800.0 634.1Z" fill="#4A80C6" fill-opacity="0.85"/>
<path d="M747.2 629.8L751.0 634.9L743.9 635.2Z" fill="#4A80C6" fill-opacity="0.85"/>
<path d="M899.0 796.5L895.1 791.4L902.3 791.0Z" fill="#C8283C" fill-opacity="0.85"/>
<path d="M694.9 845.3L692.3 839.4L699.5 840.6Z" fill="#4A80C6" fill-opacity="0.85"/>
<path d="M898.7 754.9L894.5 759.9L892.4 752.9Z" fill="#4A80C6" fill-opacity="0.85"/>
<path d="M793.6 881.1L787.2 882.5L789.9 875.7Z" fill="#4A80C6" fill-opacity="0.85"/>
<path d="M892.7 798.2L886.7 795.1L893.5 791.5Z" fill="#C8283C" fill-opacity="0.85"/>
<path d="M899.4 744.9L892.8 746.2L895.8 739.1Z" fill="#C8283C" fill-opacity="0.85"/>
<path d="M906.1 737.7L900.1 734.6L906.8 731.0Z" fill="#4A80C6" fill-opacity="0.85"/>
<path d="M888.4 700.2L886.8 706.8L881.7 701.1Z" fill="#4A80C6" fill-opacity="0.85"/>
<path d="M810.0 872.3L807.2 866.0L814.9 867.4Z" fill="#4A80C6" fill-opacity="0.85"/>
<path d="M901.9 760.8L900.4 767.5L895.1 761.8Z" fill="#4A80C6" fill-opacity="0.85"/>
<path d="M890.0 800.0L883.3 798.3L889.3 793.1Z" fill="#C8283C" fill-opacity="0.85"/>
<path d="M887.6 681.5L880.6 681.4L885.3 674.9Z" fill="#4A80C6" fill-opacity="0.85"/>
<path d="M792.9 619.0L788.6 624.5L786.2 616.8Z" fill="#C8283C" fill-opacity="0.85"/>
<path d="M733.7 622.2L730.9 628.6L726.7 621.7Z" fill="#C8283C" fill-opacity="0.85"/>
<path d="M887.6 802.5L880.6 802.3L885.4 795.8Z" fill="#C8283C" fill-opacity="0.85"/>
<path d="M909.1 736.5L903.5 732.1L911.4 729.8Z" fill="#4A80C6" fill-opacity="0.85"/>
<path d="M892.3 677.4L885.7 674.6L892.7 670.3Z" fill="#4A80C6" fill-opacity="0.85"/>
<path d="M761.5 889.1L767.7 885.6L766.8 893.8Z" fill="#4A80C6" fill-opacity="0.85"/>
<path d="M792.5 612.7L786.3 616.2L787.1 607.9Z" fill="#C8283C" fill-opacity="0.85"/>
<path d="M749.5 872.3L746.4 865.7L754.6 867.2Z" fill="#C8283C" fill-opacity="0.85"/>
<path d="M655.0 705.3L659.5 710.9L651.2 711.4Z" fill="#C8283C" fill-opacity="0.85"/>
<path d="M700.9 847.9L700.9 840.5L707.9 845.5Z" fill="#4A80C6" fill-opacity="0.85"/>
<path d="M706.4 637.3L710.5 631.2L713.5 639.2Z" fill="#C8283C" fill-opacity="0.85"/>
<path d="M792.4 615.7L786.8 620.5L786.1 612.0Z" fill="#C8283C" fill-opacity="0.85"/>
<path d="M732.5 619.4L728.4 625.5L725.4 617.5Z" fill="#C8283C" fill-opacity="0.85"/>
<path d="M853.1 653.9L853.1 661.3L846.1 656.3Z" fill="#C8283C" fill-opacity="0.85"/>
<path d="M801.4 628.6L803.0 635.8L795.1 632.5Z" fill="#C8283C" fill-opacity="0.85"/>
<path d="M885.2 815.5L880.7 821.3L878.2 813.2Z" fill="#C8283C" fill-opacity="0.85"/>
<path d="M890.8 702.5L890.9 709.8L883.9 704.9Z" fill="#4A80C6" fill-opacity="0.85"/>
<path d="M705.9 865.8L713.1 864.1L709.9 872.0Z" fill="#4A80C6" fill-opacity="0.85"/>
<path d="M691.6 845.1L686.9 839.2L695.7 838.8Z" fill="#C8283C" fill-opacity="0.85"/>
<path d="M848.1 636.0L840.7 637.9L844.0 629.5Z" fill="#C8283C" fill-opacity="0.85"/>
<path d="M746.3 872.0L741.5 866.0L750.5 865.6Z" fill="#C8283C" fill-opacity="0.85"/>
<path d="M681.4 652.1L680.4 659.7L673.9 653.4Z" fill="#C8283C" fill-opacity="0.85"/>
<path d="M800.5 873.6L793.6 870.3L801.5 866.1Z" fill="#C8283C" fill-opacity="0.85"/>
<path d="M658.2 704.8L664.2 709.6L655.5 712.0Z" fill="#C8283C" fill-opacity="0.85"/>
<path d="M846.9 642.5L840.8 647.6L840.2 638.2Z" fill="#C8283C" fill-opacity="0.85"/>
<path d="M692.7 656.7L697.7 662.9L688.3 663.3Z" fill="#C8283C" fill-opacity="0.85"/>
<path d="M669.3 689.7L675.6 684.5L676.1 694.1Z" fill="#C8283C" fill-opacity="0.85"/>
<path d="M743.0 872.5L736.5 867.4L746.0 864.8Z" fill="#C8283C" fill-opacity="0.85"/>
<path d="M706.9 644.5L714.3 640.6L712.7 650.6Z" fill="#C8283C" fill-opacity="0.85"/>
<path d="M668.8 686.3L673.8 679.5L676.7 689.2Z" fill="#C8283C" fill-opacity="0.85"/>
<path d="M847.1 639.2L839.7 643.0L841.3 633.1Z" fill="#C8283C" fill-opacity="0.85"/>
<path d="M889.8 679.1L881.0 677.5L889.1 670.2Z" fill="#4A80C6" fill-opacity="0.85"/>
<path d="M885.9 684.4L877.3 686.6L881.5 676.6Z" fill="#4A80C6" fill-opacity="0.85"/>
<path d="M667.5 683.1L670.8 674.7L676.4 684.2Z" fill="#C8283C" fill-opacity="0.85"/>
<path d="M665.3 680.1L666.2 669.2L676.2 678.8Z" fill="#C8283C" fill-opacity="0.85"/>
<path d="M925.0 743.9C974.2 719.1 980.8 763.2 926.5 754.1" stroke="#5C8CCB" stroke-width="1.47" fill="none" stroke-opacity="0.85"/>
<path d="M863.8 628.1C875.5 571.6 915.7 594.8 872.7 633.2" stroke="#CC4A5E" stroke-width="3.32" fill="none" stroke-opacity="0.85"/>
<path d="M803.1 601.6C789.5 546.8 835.0 550.2 813.4 602.4" stroke="#CC4A5E" stroke-width="2.48" fill="none" stroke-opacity="0.85"/>
<path d="M737.2 604.8C699.8 559.7 743.5 542.5 746.8 601.0" stroke="#CC4A5E" stroke-width="3.95" fill="none" stroke-opacity="0.85"/>
<path d="M679.2 636.8C625.1 612.1 657.4 577.2 686.2 629.3" stroke="#CC4A5E" stroke-width="4.58" fill="none" stroke-opacity="0.85"/>
<path d="M640.6 691.5C581.7 692.7 595.6 647.6 643.6 681.7" stroke="#CC4A5E" stroke-width="4.16" fill="none" stroke-opacity="0.85"/>
<path d="M629.0 757.9C579.8 782.8 573.2 738.6 627.5 747.7" stroke="#5C8CCB" stroke-width="1.47" fill="none" stroke-opacity="0.85"/>
<path d="M646.7 823.0C613.2 866.7 588.0 829.7 640.9 814.5" stroke="#5C8CCB" stroke-width="1.47" fill="none" stroke-opacity="0.85"/>
<path d="M690.2 873.7C678.7 928.8 639.4 906.1 681.3 868.6" stroke="#5C8CCB" stroke-width="2.31" fill="none" stroke-opacity="0.85"/>
<path d="M750.9 900.2C765.1 957.0 718.2 953.6 740.6 899.4" stroke="#CC4A5E" stroke-width="3.95" fill="none" stroke-opacity="0.85"/>
<path d="M816.8 897.0C856.9 945.3 810.7 963.5 807.2 900.8" stroke="#5C8CCB" stroke-width="6.85" fill="none" stroke-opacity="0.85"/>
<path d="M874.8 865.0C924.8 887.9 894.4 920.7 867.8 872.5" stroke="#CC4A5E" stroke-width="1.43" fill="none" stroke-opacity="0.85"/>
<path d="M913.4 810.3C970.5 809.2 957.0 853.2 910.4 820.2" stroke="#CC4A5E" stroke-width="2.90" fill="none" stroke-opacity="0.85"/>
<circle cx="913.0" cy="750.9" r="13.9" fill="#4BE03A"/>
<circle cx="899.5" cy="690.4" r="13.9" fill="#EDD93C"/>
<circle cx="861.8" cy="641.8" r="13.9" fill="#8DA0CE"/>
<circle cx="807.3" cy="614.9" r="13.9" fill="#7067BD"/>
<circle cx="746.7" cy="614.9" r="13.9" fill="#9166E3"/>
<circle cx="692.2" cy="641.8" r="13.9" fill="#B94EEB"/>
<circle cx="654.5" cy="690.4" r="13.9" fill="#6B34A8"/>
<circle cx="641.0" cy="750.9" r="13.9" fill="#54CCF7"/>
<circle cx="654.5" cy="811.4" r="13.9" fill="#8CD4F5"/>
<circle cx="692.2" cy="860.0" r="13.9" fill="#4C72BB"/>
<circle cx="746.7" cy="886.9" r="13.9" fill="#BB8589"/>
<circle cx="807.3" cy="886.9" r="13.9" fill="#A6A6A6"/>
<circle cx="861.8" cy="860.0" r="13.9" fill="#858585"/>
<circle cx="899.5" cy="811.4" r="13.9" fill="#6A6A6A"/>
<text x="738.3" y="588.5" font-size="19.4" text-anchor="middle">LP1</text>
<text x="814.7" y="587.0" font-size="19.4" text-anchor="middle">LPC2</text>
<text x="664.8" y="624.5" font-size="19.4" text-anchor="middle">LP2</text>
<text x="880.4" y="611.7" font-size="19.4" text-anchor="middle">LPC1</text>
<text x="628.0" y="685.6" font-size="19.4" text-anchor="middle">DLC</text>
<text x="927.0" y="677.0" font-size="19.4" text-anchor="middle">Late FGC</text>
<text x="618.0" y="745.0" font-size="19.4" text-anchor="middle">SPC</text>
<text x="948.6" y="750.0" font-size="19.4" text-anchor="middle">Early FGC</text>
<text x="634.0" y="830.5" font-size="19.4" text-anchor="middle">SC1</text>
<text x="932.3" y="813.0" font-size="19.4" text-anchor="middle">NK</text>
<text x="683.0" y="889.4" font-size="19.4" text-anchor="middle">SC2</text>
<text x="891.0" y="876.6" font-size="19.4" text-anchor="middle">MC</text>
<text x="752.5" y="917.7" font-size="19.4" text-anchor="middle">PMC</text>
<text x="827.0" y="912.3" font-size="19.4" text-anchor="middle">EC</text>
<text x="1031.7" y="24.7" font-size="36" font-weight="bold">c</text>
<rect x="1154.90" y="95.30" width="17.66" height="25.71" fill="#efd0ce"/>
<rect x="1172.26" y="95.30" width="17.66" height="25.71" fill="#cbd5ea"/>
<rect x="1189.62" y="95.30" width="17.66" height="25.71" fill="#eab8b6"/>
<rect x="1206.98" y="95.30" width="17.66" height="25.71" fill="#efd0ce"/>
<rect x="1224.34" y="95.30" width="17.66" height="25.71" fill="#edc6c4"/>
<rect x="1241.70" y="95.30" width="17.66" height="25.71" fill="#edc6c4"/>
<rect x="1259.06" y="95.30" width="17.66" height="25.71" fill="#da7978"/>
<rect x="1276.42" y="95.30" width="17.66" height="25.71" fill="#c2cee7"/>
<rect x="1293.78" y="95.30" width="17.66" height="25.71" fill="#f3ecec"/>
<rect x="1311.14" y="95.30" width="17.66" height="25.71" fill="#f1dbd9"/>
<rect x="1328.50" y="95.30" width="17.66" height="25.71" fill="#efd0ce"/>
<rect x="1345.86" y="95.30" width="17.66" height="25.71" fill="#f3e9e9"/>
<rect x="1363.22" y="95.30" width="17.66" height="25.71" fill="#f1dedd"/>
<rect x="1380.58" y="95.30" width="17.66" height="25.71" fill="#f1dedd"/>
<rect x="1154.90" y="120.71" width="17.66" height="25.71" fill="#f4f0f0"/>
<rect x="1172.26" y="120.71" width="17.66" height="25.71" fill="#cbd5ea"/>
<rect x="1189.62" y="120.71" width="17.66" height="25.71" fill="#f4f3f4"/>
<rect x="1206.98" y="120.71" width="17.66" height="25.71" fill="#cbd5ea"/>
<rect x="1224.34" y="120.71" width="17.66" height="25.71" fill="#f2e5e5"/>
<rect x="1241.70" y="120.71" width="17.66" height="25.71" fill="#d9dfee"/>
<rect x="1259.06" y="120.71" width="17.66" height="25.71" fill="#eab8b6"/>
<rect x="1276.42" y="120.71" width="17.66" height="25.71" fill="#c2cee7"/>
<rect x="1293.78" y="120.71" width="17.66" height="25.71" fill="#f4f3f4"/>
<rect x="1311.14" y="120.71" width="17.66" height="25.71" fill="#c2cee7"/>
<rect x="1328.50" y="120.71" width="17.66" height="25.71" fill="#c2cee7"/>
<rect x="1345.86" y="120.71" width="17.66" height="25.71" fill="#87a3d2"/>
<rect x="1363.22" y="120.71" width="17.66" height="25.71" fill="#e6e9f2"/>
<rect x="1380.58" y="120.71" width="17.66" height="25.71" fill="#f3ecec"/>
<rect x="1154.90" y="146.12" width="17.66" height="25.71" fill="#efd0ce"/>
<rect x="1172.26" y="146.12" width="17.66" height="25.71" fill="#b4c3e2"/>
<rect x="1189.62" y="146.12" width="17.66" height="25.71" fill="#da7978"/>
<rect x="1206.98" y="146.12" width="17.66" height="25.71" fill="#e5a5a3"/>
<rect x="1224.34" y="146.12" width="17.66" height="25.71" fill="#dc7e7c"/>
<rect x="1241.70" y="146.12" width="17.66" height="25.71" fill="#e19593"/>
<rect x="1259.06" y="146.12" width="17.66" height="25.71" fill="#c74750"/>
<rect x="1276.42" y="146.12" width="17.66" height="25.71" fill="#87a3d2"/>
<rect x="1293.78" y="146.12" width="17.66" height="25.71" fill="#b4c3e2"/>
<rect x="1311.14" y="146.12" width="17.66" height="25.71" fill="#cbd5ea"/>
<rect x="1328.50" y="146.12" width="17.66" height="25.71" fill="#eab8b6"/>
<rect x="1345.86" y="146.12" width="17.66" height="25.71" fill="#c2cee7"/>
<rect x="1363.22" y="146.12" width="17.66" height="25.71" fill="#edeef3"/>
<rect x="1380.58" y="146.12" width="17.66" height="25.71" fill="#f3e9e9"/>
<rect x="1154.90" y="171.53" width="17.66" height="25.71" fill="#efd0ce"/>
<rect x="1172.26" y="171.53" width="17.66" height="25.71" fill="#5782c4"/>
<rect x="1189.62" y="171.53" width="17.66" height="25.71" fill="#e7adab"/>
<rect x="1206.98" y="171.53" width="17.66" height="25.71" fill="#e7adab"/>
<rect x="1224.34" y="171.53" width="17.66" height="25.71" fill="#e5a5a3"/>
<rect x="1241.70" y="171.53" width="17.66" height="25.71" fill="#eab8b6"/>
<rect x="1259.06" y="171.53" width="17.66" height="25.71" fill="#c23a45"/>
<rect x="1276.42" y="171.53" width="17.66" height="25.71" fill="#87a3d2"/>
<rect x="1293.78" y="171.53" width="17.66" height="25.71" fill="#b4c3e2"/>
<rect x="1311.14" y="171.53" width="17.66" height="25.71" fill="#87a3d2"/>
<rect x="1328.50" y="171.53" width="17.66" height="25.71" fill="#efd0ce"/>
<rect x="1345.86" y="171.53" width="17.66" height="25.71" fill="#b4c3e2"/>
<rect x="1363.22" y="171.53" width="17.66" height="25.71" fill="#cbd5ea"/>
<rect x="1380.58" y="171.53" width="17.66" height="25.71" fill="#f3e9e9"/>
<rect x="1154.90" y="196.94" width="17.66" height="25.71" fill="#f0d7d6"/>
<rect x="1172.26" y="196.94" width="17.66" height="25.71" fill="#a8bbde"/>
<rect x="1189.62" y="196.94" width="17.66" height="25.71" fill="#de8684"/>
<rect x="1206.98" y="196.94" width="17.66" height="25.71" fill="#e5a5a3"/>
<rect x="1224.34" y="196.94" width="17.66" height="25.71" fill="#dc7e7c"/>
<rect x="1241.70" y="196.94" width="17.66" height="25.71" fill="#e5a5a3"/>
<rect x="1259.06" y="196.94" width="17.66" height="25.71" fill="#b8202f"/>
<rect x="1276.42" y="196.94" width="17.66" height="25.71" fill="#92abd6"/>
<rect x="1293.78" y="196.94" width="17.66" height="25.71" fill="#c2cee7"/>
<rect x="1311.14" y="196.94" width="17.66" height="25.71" fill="#ffffff"/>
<rect x="1328.50" y="196.94" width="17.66" height="25.71" fill="#edc6c4"/>
<rect x="1345.86" y="196.94" width="17.66" height="25.71" fill="#a3b7dc"/>
<rect x="1363.22" y="196.94" width="17.66" height="25.71" fill="#edeef3"/>
<rect x="1380.58" y="196.94" width="17.66" height="25.71" fill="#f2e2e1"/>
<rect x="1154.90" y="222.35" width="17.66" height="25.71" fill="#f0d4d2"/>
<rect x="1172.26" y="222.35" width="17.66" height="25.71" fill="#92abd6"/>
<rect x="1189.62" y="222.35" width="17.66" height="25.71" fill="#e08e8c"/>
<rect x="1206.98" y="222.35" width="17.66" height="25.71" fill="#efd0ce"/>
<rect x="1224.34" y="222.35" width="17.66" height="25.71" fill="#de8684"/>
<rect x="1241.70" y="222.35" width="17.66" height="25.71" fill="#e9b4b2"/>
<rect x="1259.06" y="222.35" width="17.66" height="25.71" fill="#b8202f"/>
<rect x="1276.42" y="222.35" width="17.66" height="25.71" fill="#92abd6"/>
<rect x="1293.78" y="222.35" width="17.66" height="25.71" fill="#cbd5ea"/>
<rect x="1311.14" y="222.35" width="17.66" height="25.71" fill="#b4c3e2"/>
<rect x="1328.50" y="222.35" width="17.66" height="25.71" fill="#edc6c4"/>
<rect x="1345.86" y="222.35" width="17.66" height="25.71" fill="#a3b7dc"/>
<rect x="1363.22" y="222.35" width="17.66" height="25.71" fill="#f3ecec"/>
<rect x="1380.58" y="222.35" width="17.66" height="25.71" fill="#f2e2e1"/>
<rect x="1154.90" y="247.76" width="17.66" height="25.71" fill="#e6a9a7"/>
<rect x="1172.26" y="247.76" width="17.66" height="25.71" fill="#f0d7d6"/>
<rect x="1189.62" y="247.76" width="17.66" height="25.71" fill="#ca4e55"/>
<rect x="1206.98" y="247.76" width="17.66" height="25.71" fill="#d66e6f"/>
<rect x="1224.34" y="247.76" width="17.66" height="25.71" fill="#cf5d60"/>
<rect x="1241.70" y="247.76" width="17.66" height="25.71" fill="#d66e6f"/>
<rect x="1259.06" y="247.76" width="17.66" height="25.71" fill="#ca4e55"/>
<rect x="1276.42" y="247.76" width="17.66" height="25.71" fill="#e2e6f1"/>
<rect x="1293.78" y="247.76" width="17.66" height="25.71" fill="#f4f0f0"/>
<rect x="1311.14" y="247.76" width="17.66" height="25.71" fill="#eab8b6"/>
<rect x="1328.50" y="247.76" width="17.66" height="25.71" fill="#e39d9b"/>
<rect x="1345.86" y="247.76" width="17.66" height="25.71" fill="#eab8b6"/>
<rect x="1363.22" y="247.76" width="17.66" height="25.71" fill="#efd0ce"/>
<rect x="1380.58" y="247.76" width="17.66" height="25.71" fill="#efd0ce"/>
<rect x="1154.90" y="273.17" width="17.66" height="25.71" fill="#e2e6f1"/>
<rect x="1172.26" y="273.17" width="17.66" height="25.71" fill="#c2cee7"/>
<rect x="1189.62" y="273.17" width="17.66" height="25.71" fill="#a3b7dc"/>
<rect x="1206.98" y="273.17" width="17.66" height="25.71" fill="#a3b7dc"/>
<rect x="1224.34" y="273.17" width="17.66" height="25.71" fill="#d9dfee"/>
<rect x="1241.70" y="273.17" width="17.66" height="25.71" fill="#bdcae5"/>
<rect x="1259.06" y="273.17" width="17.66" height="25.71" fill="#f3e9e9"/>
<rect x="1276.42" y="273.17" width="17.66" height="25.71" fill="#a3b7dc"/>
<rect x="1293.78" y="273.17" width="17.66" height="25.71" fill="#c2cee7"/>
<rect x="1311.14" y="273.17" width="17.66" height="25.71" fill="#7797cd"/>
<rect x="1328.50" y="273.17" width="17.66" height="25.71" fill="#c2cee7"/>
<rect x="1345.86" y="273.17" width="17.66" height="25.71" fill="#7797cd"/>
<rect x="1363.22" y="273.17" width="17.66" height="25.71" fill="#d4dced"/>
<rect x="1380.58" y="273.17" width="17.66" height="25.71" fill="#d9dfee"/>
<rect x="1154.90" y="298.58" width="17.66" height="25.71" fill="#f3ecec"/>
<rect x="1172.26" y="298.58" width="17.66" height="25.71" fill="#cbd5ea"/>
<rect x="1189.62" y="298.58" width="17.66" height="25.71" fill="#c2cee7"/>
<rect x="1206.98" y="298.58" width="17.66" height="25.71" fill="#b4c3e2"/>
<rect x="1224.34" y="298.58" width="17.66" height="25.71" fill="#f4f3f4"/>
<rect x="1241.70" y="298.58" width="17.66" height="25.71" fill="#d9dfee"/>
<rect x="1259.06" y="298.58" width="17.66" height="25.71" fill="#f2e2e1"/>
<rect x="1276.42" y="298.58" width="17.66" height="25.71" fill="#a3b7dc"/>
<rect x="1293.78" y="298.58" width="17.66" height="25.71" fill="#c2cee7"/>
<rect x="1311.14" y="298.58" width="17.66" height="25.71" fill="#87a3d2"/>
<rect x="1328.50" y="298.58" width="17.66" height="25.71" fill="#cbd5ea"/>
<rect x="1345.86" y="298.58" width="17.66" height="25.71" fill="#87a3d2"/>
<rect x="1363.22" y="298.58" width="17.66" height="25.71" fill="#d4dced"/>
<rect x="1380.58" y="298.58" width="17.66" height="25.71" fill="#d9dfee"/>
<rect x="1154.90" y="323.99" width="17.66" height="25.71" fill="#f4f3f4"/>
<rect x="1172.26" y="323.99" width="17.66" height="25.71" fill="#bdcae5"/>
<rect x="1189.62" y="323.99" width="17.66" height="25.71" fill="#f3e9e9"/>
<rect x="1206.98" y="323.99" width="17.66" height="25.71" fill="#d4dced"/>
<rect x="1224.34" y="323.99" width="17.66" height="25.71" fill="#f3e9e9"/>
<rect x="1241.70" y="323.99" width="17.66" height="25.71" fill="#f4f3f4"/>
<rect x="1259.06" y="323.99" width="17.66" height="25.71" fill="#e6a9a7"/>
<rect x="1276.42" y="323.99" width="17.66" height="25.71" fill="#87a3d2"/>
<rect x="1293.78" y="323.99" width="17.66" height="25.71" fill="#b4c3e2"/>
<rect x="1311.14" y="323.99" width="17.66" height="25.71" fill="#a8bbde"/>
<rect x="1328.50" y="323.99" width="17.66" height="25.71" fill="#c2cee7"/>
<rect x="1345.86" y="323.99" width="17.66" height="25.71" fill="#a3b7dc"/>
<rect x="1363.22" y="323.99" width="17.66" height="25.71" fill="#f4f3f4"/>
<rect x="1380.58" y="323.99" width="17.66" height="25.71" fill="#f2e5e5"/>
<rect x="1154.90" y="349.40" width="17.66" height="25.71" fill="#f0d4d2"/>
<rect x="1172.26" y="349.40" width="17.66" height="25.71" fill="#92abd6"/>
<rect x="1189.62" y="349.40" width="17.66" height="25.71" fill="#e9b4b2"/>
<rect x="1206.98" y="349.40" width="17.66" height="25.71" fill="#f1dedd"/>
<rect x="1224.34" y="349.40" width="17.66" height="25.71" fill="#efd0ce"/>
<rect x="1241.70" y="349.40" width="17.66" height="25.71" fill="#efd0ce"/>
<rect x="1259.06" y="349.40" width="17.66" height="25.71" fill="#d66e6f"/>
<rect x="1276.42" y="349.40" width="17.66" height="25.71" fill="#87a3d2"/>
<rect x="1293.78" y="349.40" width="17.66" height="25.71" fill="#b4c3e2"/>
<rect x="1311.14" y="349.40" width="17.66" height="25.71" fill="#e2e6f1"/>
<rect x="1328.50" y="349.40" width="17.66" height="25.71" fill="#f2e5e5"/>
<rect x="1345.86" y="349.40" width="17.66" height="25.71" fill="#f0f0f3"/>
<rect x="1363.22" y="349.40" width="17.66" height="25.71" fill="#f3ecec"/>
<rect x="1380.58" y="349.40" width="17.66" height="25.71" fill="#f2e2e1"/>
<rect x="1154.90" y="374.81" width="17.66" height="25.71" fill="#e9ebf2"/>
<rect x="1172.26" y="374.81" width="17.66" height="25.71" fill="#4776be"/>
<rect x="1189.62" y="374.81" width="17.66" height="25.71" fill="#c2cee7"/>
<rect x="1206.98" y="374.81" width="17.66" height="25.71" fill="#97afd8"/>
<rect x="1224.34" y="374.81" width="17.66" height="25.71" fill="#b4c3e2"/>
<rect x="1241.70" y="374.81" width="17.66" height="25.71" fill="#c2cee7"/>
<rect x="1259.06" y="374.81" width="17.66" height="25.71" fill="#e9b4b2"/>
<rect x="1276.42" y="374.81" width="17.66" height="25.71" fill="#3d6eb6"/>
<rect x="1293.78" y="374.81" width="17.66" height="25.71" fill="#7797cd"/>
<rect x="1311.14" y="374.81" width="17.66" height="25.71" fill="#658cc8"/>
<rect x="1328.50" y="374.81" width="17.66" height="25.71" fill="#dde3f0"/>
<rect x="1345.86" y="374.81" width="17.66" height="25.71" fill="#527ec3"/>
<rect x="1363.22" y="374.81" width="17.66" height="25.71" fill="#b4c3e2"/>
<rect x="1380.58" y="374.81" width="17.66" height="25.71" fill="#f3e9e9"/>
<rect x="1154.90" y="400.22" width="17.66" height="25.71" fill="#f0d7d6"/>
<rect x="1172.26" y="400.22" width="17.66" height="25.71" fill="#e2e6f1"/>
<rect x="1189.62" y="400.22" width="17.66" height="25.71" fill="#f0f0f3"/>
<rect x="1206.98" y="400.22" width="17.66" height="25.71" fill="#c2cee7"/>
<rect x="1224.34" y="400.22" width="17.66" height="25.71" fill="#edeef3"/>
<rect x="1241.70" y="400.22" width="17.66" height="25.71" fill="#edeef3"/>
<rect x="1259.06" y="400.22" width="17.66" height="25.71" fill="#edc6c4"/>
<rect x="1276.42" y="400.22" width="17.66" height="25.71" fill="#d4dced"/>
<rect x="1293.78" y="400.22" width="17.66" height="25.71" fill="#f4f3f4"/>
<rect x="1311.14" y="400.22" width="17.66" height="25.71" fill="#cbd5ea"/>
<rect x="1328.50" y="400.22" width="17.66" height="25.71" fill="#f3ecec"/>
<rect x="1345.86" y="400.22" width="17.66" height="25.71" fill="#e9ebf2"/>
<rect x="1363.22" y="400.22" width="17.66" height="25.71" fill="#f3ecec"/>
<rect x="1380.58" y="400.22" width="17.66" height="25.71" fill="#f3e9e9"/>
<rect x="1154.90" y="425.63" width="17.66" height="25.71" fill="#f0d7d6"/>
<rect x="1172.26" y="425.63" width="17.66" height="25.71" fill="#ffffff"/>
<rect x="1189.62" y="425.63" width="17.66" height="25.71" fill="#f4f3f4"/>
<rect x="1206.98" y="425.63" width="17.66" height="25.71" fill="#c2cee7"/>
<rect x="1224.34" y="425.63" width="17.66" height="25.71" fill="#f4f3f4"/>
<rect x="1241.70" y="425.63" width="17.66" height="25.71" fill="#f3e9e9"/>
<rect x="1259.06" y="425.63" width="17.66" height="25.71" fill="#efd0ce"/>
<rect x="1276.42" y="425.63" width="17.66" height="25.71" fill="#e2e6f1"/>
<rect x="1293.78" y="425.63" width="17.66" height="25.71" fill="#f4f3f4"/>
<rect x="1311.14" y="425.63" width="17.66" height="25.71" fill="#f4f3f4"/>
<rect x="1328.50" y="425.63" width="17.66" height="25.71" fill="#f4f0f0"/>
<rect x="1345.86" y="425.63" width="17.66" height="25.71" fill="#f2e5e5"/>
<rect x="1363.22" y="425.63" width="17.66" height="25.71" fill="#f2e5e5"/>
<rect x="1380.58" y="425.63" width="17.66" height="25.71" fill="#f2e5e5"/>
<rect x="1142.30" y="95.30" width="7.40" height="25.71" fill="#4BE03A"/>
<rect x="1154.90" y="455.50" width="0.00" height="0.00" fill="#fff"/>
<rect x="1142.30" y="120.71" width="7.40" height="25.71" fill="#EDD93C"/>
<rect x="1154.90" y="455.50" width="0.00" height="0.00" fill="#fff"/>
<rect x="1142.30" y="146.12" width="7.40" height="25.71" fill="#8DA0CE"/>
<rect x="1154.90" y="455.50" width="0.00" height="0.00" fill="#fff"/>
<rect x="1142.30" y="171.53" width="7.40" height="25.71" fill="#7067BD"/>
<rect x="1154.90" y="455.50" width="0.00" height="0.00" fill="#fff"/>
<rect x="1142.30" y="196.94" width="7.40" height="25.71" fill="#9166E3"/>
<rect x="1154.90" y="455.50" width="0.00" height="0.00" fill="#fff"/>
<rect x="1142.30" y="222.35" width="7.40" height="25.71" fill="#B94EEB"/>
<rect x="1154.90" y="455.50" width="0.00" height="0.00" fill="#fff"/>
<rect x="1142.30" y="247.76" width="7.40" height="25.71" fill="#6B34A8"/>
<rect x="1154.90" y="455.50" width="0.00" height="0.00" fill="#fff"/>
<rect x="1142.30" y="273.17" width="7.40" height="25.71" fill="#54CCF7"/>
<rect x="1154.90" y="455.50" width="0.00" height="0.00" fill="#fff"/>
<rect x="1142.30" y="298.58" width="7.40" height="25.71" fill="#8CD4F5"/>
<rect x="1154.90" y="455.50" width="0.00" height="0.00" fill="#fff"/>
<rect x="1142.30" y="323.99" width="7.40" height="25.71" fill="#4C72BB"/>
<rect x="1154.90" y="455.50" width="0.00" height="0.00" fill="#fff"/>
<rect x="1142.30" y="349.40" width="7.40" height="25.71" fill="#BB8589"/>
<rect x="1154.90" y="455.50" width="0.00" height="0.00" fill="#fff"/>
<rect x="1142.30" y="374.81" width="7.40" height="25.71" fill="#A6A6A6"/>
<rect x="1154.90" y="455.50" width="0.00" height="0.00" fill="#fff"/>
<rect x="1142.30" y="400.22" width="7.40" height="25.71" fill="#858585"/>
<rect x="1154.90" y="455.50" width="0.00" height="0.00" fill="#fff"/>
<rect x="1142.30" y="425.63" width="7.40" height="25.71" fill="#6A6A6A"/>
<rect x="1154.90" y="455.50" width="0.00" height="0.00" fill="#fff"/>
<rect x="1154.90" y="455.50" width="17.66" height="8.00" fill="#4BE03A"/>
<rect x="1172.26" y="455.50" width="17.66" height="8.00" fill="#EDD93C"/>
<rect x="1189.62" y="455.50" width="17.66" height="8.00" fill="#8DA0CE"/>
<rect x="1206.98" y="455.50" width="17.66" height="8.00" fill="#7067BD"/>
<rect x="1224.34" y="455.50" width="17.66" height="8.00" fill="#9166E3"/>
<rect x="1241.70" y="455.50" width="17.66" height="8.00" fill="#B94EEB"/>
<rect x="1259.06" y="455.50" width="17.66" height="8.00" fill="#6B34A8"/>
<rect x="1276.42" y="455.50" width="17.66" height="8.00" fill="#54CCF7"/>
<rect x="1293.78" y="455.50" width="17.66" height="8.00" fill="#8CD4F5"/>
<rect x="1311.14" y="455.50" width="17.66" height="8.00" fill="#4C72BB"/>
<rect x="1328.50" y="455.50" width="17.66" height="8.00" fill="#BB8589"/>
<rect x="1345.86" y="455.50" width="17.66" height="8.00" fill="#A6A6A6"/>
<rect x="1363.22" y="455.50" width="17.66" height="8.00" fill="#858585"/>
<rect x="1380.58" y="455.50" width="17.66" height="8.00" fill="#6A6A6A"/>
<rect x="1157.0" y="80.8" width="13.2" height="10.5" fill="#4BE03A" rx="1"/>
<rect x="1174.4" y="80.0" width="13.2" height="11.3" fill="#EDD93C" rx="1"/>
<rect x="1191.7" y="70.2" width="13.2" height="21.1" fill="#8DA0CE" rx="1"/>
<rect x="1209.1" y="74.1" width="13.2" height="17.2" fill="#7067BD" rx="1"/>
<rect x="1226.4" y="71.5" width="13.2" height="19.8" fill="#9166E3" rx="1"/>
<rect x="1243.8" y="74.9" width="13.2" height="16.4" fill="#B94EEB" rx="1"/>
<rect x="1261.2" y="51.1" width="13.2" height="40.2" fill="#6B34A8" rx="1"/>
<rect x="1278.5" y="78.1" width="13.2" height="13.2" fill="#54CCF7" rx="1"/>
<rect x="1295.9" y="84.2" width="13.2" height="7.1" fill="#8CD4F5" rx="1"/>
<rect x="1313.2" y="80.2" width="13.2" height="11.1" fill="#4C72BB" rx="1"/>
<rect x="1330.6" y="78.9" width="13.2" height="12.4" fill="#BB8589" rx="1"/>
<rect x="1348.0" y="78.6" width="13.2" height="12.7" fill="#A6A6A6" rx="1"/>
<rect x="1365.3" y="85.3" width="13.2" height="6.0" fill="#858585" rx="1"/>
<rect x="1382.7" y="84.2" width="13.2" height="7.1" fill="#6A6A6A" rx="1"/>
<line x1="1154.4" y1="49.5" x2="1154.4" y2="91.6" stroke="#000" stroke-width="1.4"/>
<line x1="1150.9" y1="91.3" x2="1154.4" y2="91.3" stroke="#000" stroke-width="1.2"/>
<text x="1147.4" y="96.4" font-size="14.5" text-anchor="end">0</text>
<line x1="1150.9" y1="76.8" x2="1154.4" y2="76.8" stroke="#000" stroke-width="1.2"/>
<text x="1147.4" y="81.9" font-size="14.5" text-anchor="end">500</text>
<line x1="1150.9" y1="62.7" x2="1154.4" y2="62.7" stroke="#000" stroke-width="1.2"/>
<text x="1147.4" y="67.8" font-size="14.5" text-anchor="end">1000</text>
<rect x="1401.1" y="99.7" width="19.9" height="16.6" fill="#4BE03A" rx="1"/>
<rect x="1401.1" y="125.1" width="9.5" height="16.6" fill="#EDD93C" rx="1"/>
<rect x="1401.1" y="150.5" width="28.6" height="16.6" fill="#8DA0CE" rx="1"/>
<rect x="1401.1" y="175.9" width="27.9" height="16.6" fill="#7067BD" rx="1"/>
<rect x="1401.1" y="201.3" width="29.4" height="16.6" fill="#9166E3" rx="1"/>
<rect x="1401.1" y="226.8" width="27.9" height="16.6" fill="#B94EEB" rx="1"/>
<rect x="1401.1" y="252.2" width="40.8" height="16.6" fill="#6B34A8" rx="1"/>
<rect x="1401.1" y="277.6" width="13.4" height="16.6" fill="#54CCF7" rx="1"/>
<rect x="1401.1" y="303.0" width="10.7" height="16.6" fill="#8CD4F5" rx="1"/>
<rect x="1401.1" y="328.4" width="12.6" height="16.6" fill="#4C72BB" rx="1"/>
<rect x="1401.1" y="353.8" width="18.3" height="16.6" fill="#BB8589" rx="1"/>
<rect x="1401.1" y="379.2" width="19.5" height="16.6" fill="#A6A6A6" rx="1"/>
<rect x="1401.1" y="404.6" width="7.4" height="16.6" fill="#858585" rx="1"/>
<rect x="1401.1" y="430.0" width="7.1" height="16.6" fill="#6A6A6A" rx="1"/>
<line x1="1401.1" y1="451.3" x2="1441.9" y2="451.3" stroke="#000" stroke-width="1.4"/>
<line x1="1403.3" y1="451.3" x2="1403.3" y2="455.0" stroke="#000" stroke-width="1.2"/>
<text x="1408.1" y="456.0" font-size="13.6" text-anchor="end" transform="rotate(-90 1408.1 456.0)">0</text>
<line x1="1421.3" y1="451.3" x2="1421.3" y2="455.0" stroke="#000" stroke-width="1.2"/>
<text x="1426.1" y="456.0" font-size="13.6" text-anchor="end" transform="rotate(-90 1426.1 456.0)">500</text>
<line x1="1440.4" y1="451.3" x2="1440.4" y2="455.0" stroke="#000" stroke-width="1.2"/>
<text x="1445.2" y="456.0" font-size="13.6" text-anchor="end" transform="rotate(-90 1445.2 456.0)">1000</text>
<text x="1168.2" y="469.5" font-size="18.2" text-anchor="end" transform="rotate(-90 1168.2 469.5)">Early FGC</text>
<text x="1185.5" y="469.5" font-size="18.2" text-anchor="end" transform="rotate(-90 1185.5 469.5)">Late FGC</text>
<text x="1202.9" y="469.5" font-size="18.2" text-anchor="end" transform="rotate(-90 1202.9 469.5)">LPC1</text>
<text x="1220.3" y="469.5" font-size="18.2" text-anchor="end" transform="rotate(-90 1220.3 469.5)">LPC2</text>
<text x="1237.6" y="469.5" font-size="18.2" text-anchor="end" transform="rotate(-90 1237.6 469.5)">LP1</text>
<text x="1255.0" y="469.5" font-size="18.2" text-anchor="end" transform="rotate(-90 1255.0 469.5)">LP2</text>
<text x="1272.3" y="469.5" font-size="18.2" text-anchor="end" transform="rotate(-90 1272.3 469.5)">DLC</text>
<text x="1289.7" y="469.5" font-size="18.2" text-anchor="end" transform="rotate(-90 1289.7 469.5)">SPC</text>
<text x="1307.1" y="469.5" font-size="18.2" text-anchor="end" transform="rotate(-90 1307.1 469.5)">SC1</text>
<text x="1324.4" y="469.5" font-size="18.2" text-anchor="end" transform="rotate(-90 1324.4 469.5)">SC2</text>
<text x="1341.8" y="469.5" font-size="18.2" text-anchor="end" transform="rotate(-90 1341.8 469.5)">PMC</text>
<text x="1359.1" y="469.5" font-size="18.2" text-anchor="end" transform="rotate(-90 1359.1 469.5)">EC</text>
<text x="1376.5" y="469.5" font-size="18.2" text-anchor="end" transform="rotate(-90 1376.5 469.5)">MC</text>
<text x="1393.9" y="469.5" font-size="18.2" text-anchor="end" transform="rotate(-90 1393.9 469.5)">NK</text>
<text x="1285.5" y="38.9" font-size="19.5" text-anchor="middle">Differential number of interactions</text>
<rect x="1463.30" y="95.30" width="17.66" height="25.71" fill="#e6e9f2"/>
<rect x="1480.66" y="95.30" width="17.66" height="25.71" fill="#e6e9f2"/>
<rect x="1498.02" y="95.30" width="17.66" height="25.71" fill="#f2e5e5"/>
<rect x="1515.38" y="95.30" width="17.66" height="25.71" fill="#f3e9e9"/>
<rect x="1532.74" y="95.30" width="17.66" height="25.71" fill="#f3e9e9"/>
<rect x="1550.10" y="95.30" width="17.66" height="25.71" fill="#f3e9e9"/>
<rect x="1567.46" y="95.30" width="17.66" height="25.71" fill="#f2e2e1"/>
<rect x="1584.82" y="95.30" width="17.66" height="25.71" fill="#edeef3"/>
<rect x="1602.18" y="95.30" width="17.66" height="25.71" fill="#edeef3"/>
<rect x="1619.54" y="95.30" width="17.66" height="25.71" fill="#f0f0f3"/>
<rect x="1636.90" y="95.30" width="17.66" height="25.71" fill="#f1dbd9"/>
<rect x="1654.26" y="95.30" width="17.66" height="25.71" fill="#f3ecec"/>
<rect x="1671.62" y="95.30" width="17.66" height="25.71" fill="#f3e9e9"/>
<rect x="1688.98" y="95.30" width="17.66" height="25.71" fill="#f1dedd"/>
<rect x="1463.30" y="120.71" width="17.66" height="25.71" fill="#f4f0f0"/>
<rect x="1480.66" y="120.71" width="17.66" height="25.71" fill="#f4f3f4"/>
<rect x="1498.02" y="120.71" width="17.66" height="25.71" fill="#f4f3f4"/>
<rect x="1515.38" y="120.71" width="17.66" height="25.71" fill="#f4f3f4"/>
<rect x="1532.74" y="120.71" width="17.66" height="25.71" fill="#f4f3f4"/>
<rect x="1550.10" y="120.71" width="17.66" height="25.71" fill="#f4f3f4"/>
<rect x="1567.46" y="120.71" width="17.66" height="25.71" fill="#f4f3f4"/>
<rect x="1584.82" y="120.71" width="17.66" height="25.71" fill="#f4f3f4"/>
<rect x="1602.18" y="120.71" width="17.66" height="25.71" fill="#f4f3f4"/>
<rect x="1619.54" y="120.71" width="17.66" height="25.71" fill="#f0f0f3"/>
<rect x="1636.90" y="120.71" width="17.66" height="25.71" fill="#f0f0f3"/>
<rect x="1654.26" y="120.71" width="17.66" height="25.71" fill="#f0f0f3"/>
<rect x="1671.62" y="120.71" width="17.66" height="25.71" fill="#edeef3"/>
<rect x="1688.98" y="120.71" width="17.66" height="25.71" fill="#f4f3f4"/>
<rect x="1463.30" y="146.12" width="17.66" height="25.71" fill="#a3b7dc"/>
<rect x="1480.66" y="146.12" width="17.66" height="25.71" fill="#a3b7dc"/>
<rect x="1498.02" y="146.12" width="17.66" height="25.71" fill="#edc6c4"/>
<rect x="1515.38" y="146.12" width="17.66" height="25.71" fill="#f0d4d2"/>
<rect x="1532.74" y="146.12" width="17.66" height="25.71" fill="#f1dedd"/>
<rect x="1550.10" y="146.12" width="17.66" height="25.71" fill="#e08e8c"/>
<rect x="1567.46" y="146.12" width="17.66" height="25.71" fill="#e39d9b"/>
<rect x="1584.82" y="146.12" width="17.66" height="25.71" fill="#cbd5ea"/>
<rect x="1602.18" y="146.12" width="17.66" height="25.71" fill="#e9ebf2"/>
<rect x="1619.54" y="146.12" width="17.66" height="25.71" fill="#d0d8eb"/>
<rect x="1636.90" y="146.12" width="17.66" height="25.71" fill="#f0d4d2"/>
<rect x="1654.26" y="146.12" width="17.66" height="25.71" fill="#f4f3f4"/>
<rect x="1671.62" y="146.12" width="17.66" height="25.71" fill="#f4f3f4"/>
<rect x="1688.98" y="146.12" width="17.66" height="25.71" fill="#efd0ce"/>
<rect x="1463.30" y="171.53" width="17.66" height="25.71" fill="#b4c3e2"/>
<rect x="1480.66" y="171.53" width="17.66" height="25.71" fill="#527ec3"/>
<rect x="1498.02" y="171.53" width="17.66" height="25.71" fill="#f0d7d6"/>
<rect x="1515.38" y="171.53" width="17.66" height="25.71" fill="#f0d7d6"/>
<rect x="1532.74" y="171.53" width="17.66" height="25.71" fill="#f1dbd9"/>
<rect x="1550.10" y="171.53" width="17.66" height="25.71" fill="#f0d4d2"/>
<rect x="1567.46" y="171.53" width="17.66" height="25.71" fill="#e08e8c"/>
<rect x="1584.82" y="171.53" width="17.66" height="25.71" fill="#c2cee7"/>
<rect x="1602.18" y="171.53" width="17.66" height="25.71" fill="#e6e9f2"/>
<rect x="1619.54" y="171.53" width="17.66" height="25.71" fill="#97afd8"/>
<rect x="1636.90" y="171.53" width="17.66" height="25.71" fill="#f0d4d2"/>
<rect x="1654.26" y="171.53" width="17.66" height="25.71" fill="#aebfe0"/>
<rect x="1671.62" y="171.53" width="17.66" height="25.71" fill="#e6e9f2"/>
<rect x="1688.98" y="171.53" width="17.66" height="25.71" fill="#f0d7d6"/>
<rect x="1463.30" y="196.94" width="17.66" height="25.71" fill="#d4dced"/>
<rect x="1480.66" y="196.94" width="17.66" height="25.71" fill="#a8bbde"/>
<rect x="1498.02" y="196.94" width="17.66" height="25.71" fill="#e7adab"/>
<rect x="1515.38" y="196.94" width="17.66" height="25.71" fill="#eab8b6"/>
<rect x="1532.74" y="196.94" width="17.66" height="25.71" fill="#eab8b6"/>
<rect x="1550.10" y="196.94" width="17.66" height="25.71" fill="#e9b4b2"/>
<rect x="1567.46" y="196.94" width="17.66" height="25.71" fill="#d87473"/>
<rect x="1584.82" y="196.94" width="17.66" height="25.71" fill="#dde3f0"/>
<rect x="1602.18" y="196.94" width="17.66" height="25.71" fill="#edeef3"/>
<rect x="1619.54" y="196.94" width="17.66" height="25.71" fill="#f3ecec"/>
<rect x="1636.90" y="196.94" width="17.66" height="25.71" fill="#eab8b6"/>
<rect x="1654.26" y="196.94" width="17.66" height="25.71" fill="#f4f3f4"/>
<rect x="1671.62" y="196.94" width="17.66" height="25.71" fill="#edeef3"/>
<rect x="1688.98" y="196.94" width="17.66" height="25.71" fill="#edc6c4"/>
<rect x="1463.30" y="222.35" width="17.66" height="25.71" fill="#f4f3f4"/>
<rect x="1480.66" y="222.35" width="17.66" height="25.71" fill="#527ec3"/>
<rect x="1498.02" y="222.35" width="17.66" height="25.71" fill="#e08e8c"/>
<rect x="1515.38" y="222.35" width="17.66" height="25.71" fill="#e9b4b2"/>
<rect x="1532.74" y="222.35" width="17.66" height="25.71" fill="#e9b4b2"/>
<rect x="1550.10" y="222.35" width="17.66" height="25.71" fill="#e7adab"/>
<rect x="1567.46" y="222.35" width="17.66" height="25.71" fill="#b8202f"/>
<rect x="1584.82" y="222.35" width="17.66" height="25.71" fill="#d0d8eb"/>
<rect x="1602.18" y="222.35" width="17.66" height="25.71" fill="#dde3f0"/>
<rect x="1619.54" y="222.35" width="17.66" height="25.71" fill="#bdcae5"/>
<rect x="1636.90" y="222.35" width="17.66" height="25.71" fill="#e7adab"/>
<rect x="1654.26" y="222.35" width="17.66" height="25.71" fill="#f1dbd9"/>
<rect x="1671.62" y="222.35" width="17.66" height="25.71" fill="#f0f0f3"/>
<rect x="1688.98" y="222.35" width="17.66" height="25.71" fill="#ecc2c0"/>
<rect x="1463.30" y="247.76" width="17.66" height="25.71" fill="#edc6c4"/>
<rect x="1480.66" y="247.76" width="17.66" height="25.71" fill="#f2e2e1"/>
<rect x="1498.02" y="247.76" width="17.66" height="25.71" fill="#e5a5a3"/>
<rect x="1515.38" y="247.76" width="17.66" height="25.71" fill="#ebbdbb"/>
<rect x="1532.74" y="247.76" width="17.66" height="25.71" fill="#ebbdbb"/>
<rect x="1550.10" y="247.76" width="17.66" height="25.71" fill="#e7adab"/>
<rect x="1567.46" y="247.76" width="17.66" height="25.71" fill="#e9b4b2"/>
<rect x="1584.82" y="247.76" width="17.66" height="25.71" fill="#f4f3f4"/>
<rect x="1602.18" y="247.76" width="17.66" height="25.71" fill="#f4f0f0"/>
<rect x="1619.54" y="247.76" width="17.66" height="25.71" fill="#e8b0ae"/>
<rect x="1636.90" y="247.76" width="17.66" height="25.71" fill="#e19593"/>
<rect x="1654.26" y="247.76" width="17.66" height="25.71" fill="#e7adab"/>
<rect x="1671.62" y="247.76" width="17.66" height="25.71" fill="#f0d7d6"/>
<rect x="1688.98" y="247.76" width="17.66" height="25.71" fill="#ebbdbb"/>
<rect x="1463.30" y="273.17" width="17.66" height="25.71" fill="#f4f3f4"/>
<rect x="1480.66" y="273.17" width="17.66" height="25.71" fill="#e9ebf2"/>
<rect x="1498.02" y="273.17" width="17.66" height="25.71" fill="#f4f3f4"/>
<rect x="1515.38" y="273.17" width="17.66" height="25.71" fill="#f0f0f3"/>
<rect x="1532.74" y="273.17" width="17.66" height="25.71" fill="#f4f3f4"/>
<rect x="1550.10" y="273.17" width="17.66" height="25.71" fill="#f0f0f3"/>
<rect x="1567.46" y="273.17" width="17.66" height="25.71" fill="#f1dedd"/>
<rect x="1584.82" y="273.17" width="17.66" height="25.71" fill="#e6e9f2"/>
<rect x="1602.18" y="273.17" width="17.66" height="25.71" fill="#e6e9f2"/>
<rect x="1619.54" y="273.17" width="17.66" height="25.71" fill="#e2e6f1"/>
<rect x="1636.90" y="273.17" width="17.66" height="25.71" fill="#edeef3"/>
<rect x="1654.26" y="273.17" width="17.66" height="25.71" fill="#e2e6f1"/>
<rect x="1671.62" y="273.17" width="17.66" height="25.71" fill="#f2e5e5"/>
<rect x="1688.98" y="273.17" width="17.66" height="25.71" fill="#f3ecec"/>
<rect x="1463.30" y="298.58" width="17.66" height="25.71" fill="#f4f3f4"/>
<rect x="1480.66" y="298.58" width="17.66" height="25.71" fill="#e9ebf2"/>
<rect x="1498.02" y="298.58" width="17.66" height="25.71" fill="#f4f3f4"/>
<rect x="1515.38" y="298.58" width="17.66" height="25.71" fill="#f4f3f4"/>
<rect x="1532.74" y="298.58" width="17.66" height="25.71" fill="#f4f0f0"/>
<rect x="1550.10" y="298.58" width="17.66" height="25.71" fill="#f4f3f4"/>
<rect x="1567.46" y="298.58" width="17.66" height="25.71" fill="#f1dedd"/>
<rect x="1584.82" y="298.58" width="17.66" height="25.71" fill="#e6e9f2"/>
<rect x="1602.18" y="298.58" width="17.66" height="25.71" fill="#e6e9f2"/>
<rect x="1619.54" y="298.58" width="17.66" height="25.71" fill="#e2e6f1"/>
<rect x="1636.90" y="298.58" width="17.66" height="25.71" fill="#dde3f0"/>
<rect x="1654.26" y="298.58" width="17.66" height="25.71" fill="#c2cee7"/>
<rect x="1671.62" y="298.58" width="17.66" height="25.71" fill="#f2e5e5"/>
<rect x="1688.98" y="298.58" width="17.66" height="25.71" fill="#f4f0f0"/>
<rect x="1463.30" y="323.99" width="17.66" height="25.71" fill="#bdcae5"/>
<rect x="1480.66" y="323.99" width="17.66" height="25.71" fill="#cbd5ea"/>
<rect x="1498.02" y="323.99" width="17.66" height="25.71" fill="#f1dbd9"/>
<rect x="1515.38" y="323.99" width="17.66" height="25.71" fill="#f2e2e1"/>
<rect x="1532.74" y="323.99" width="17.66" height="25.71" fill="#f2e2e1"/>
<rect x="1550.10" y="323.99" width="17.66" height="25.71" fill="#f2e2e1"/>
<rect x="1567.46" y="323.99" width="17.66" height="25.71" fill="#eab8b6"/>
<rect x="1584.82" y="323.99" width="17.66" height="25.71" fill="#e6e9f2"/>
<rect x="1602.18" y="323.99" width="17.66" height="25.71" fill="#e6e9f2"/>
<rect x="1619.54" y="323.99" width="17.66" height="25.71" fill="#d0d8eb"/>
<rect x="1636.90" y="323.99" width="17.66" height="25.71" fill="#f4f3f4"/>
<rect x="1654.26" y="323.99" width="17.66" height="25.71" fill="#bdcae5"/>
<rect x="1671.62" y="323.99" width="17.66" height="25.71" fill="#f2e2e1"/>
<rect x="1688.98" y="323.99" width="17.66" height="25.71" fill="#f2e5e5"/>
<rect x="1463.30" y="349.40" width="17.66" height="25.71" fill="#f0f0f3"/>
<rect x="1480.66" y="349.40" width="17.66" height="25.71" fill="#b4c3e2"/>
<rect x="1498.02" y="349.40" width="17.66" height="25.71" fill="#e9b4b2"/>
<rect x="1515.38" y="349.40" width="17.66" height="25.71" fill="#e9b4b2"/>
<rect x="1532.74" y="349.40" width="17.66" height="25.71" fill="#f0d7d6"/>
<rect x="1550.10" y="349.40" width="17.66" height="25.71" fill="#e5a5a3"/>
<rect x="1567.46" y="349.40" width="17.66" height="25.71" fill="#e7adab"/>
<rect x="1584.82" y="349.40" width="17.66" height="25.71" fill="#d9dfee"/>
<rect x="1602.18" y="349.40" width="17.66" height="25.71" fill="#e9ebf2"/>
<rect x="1619.54" y="349.40" width="17.66" height="25.71" fill="#dde3f0"/>
<rect x="1636.90" y="349.40" width="17.66" height="25.71" fill="#eab8b6"/>
<rect x="1654.26" y="349.40" width="17.66" height="25.71" fill="#f4f3f4"/>
<rect x="1671.62" y="349.40" width="17.66" height="25.71" fill="#f3ecec"/>
<rect x="1688.98" y="349.40" width="17.66" height="25.71" fill="#e9b4b2"/>
<rect x="1463.30" y="374.81" width="17.66" height="25.71" fill="#aebfe0"/>
<rect x="1480.66" y="374.81" width="17.66" height="25.71" fill="#97afd8"/>
<rect x="1498.02" y="374.81" width="17.66" height="25.71" fill="#d0d8eb"/>
<rect x="1515.38" y="374.81" width="17.66" height="25.71" fill="#c2cee7"/>
<rect x="1532.74" y="374.81" width="17.66" height="25.71" fill="#c2cee7"/>
<rect x="1550.10" y="374.81" width="17.66" height="25.71" fill="#e2e6f1"/>
<rect x="1567.46" y="374.81" width="17.66" height="25.71" fill="#f0d4d2"/>
<rect x="1584.82" y="374.81" width="17.66" height="25.71" fill="#d4dced"/>
<rect x="1602.18" y="374.81" width="17.66" height="25.71" fill="#d0d8eb"/>
<rect x="1619.54" y="374.81" width="17.66" height="25.71" fill="#97afd8"/>
<rect x="1636.90" y="374.81" width="17.66" height="25.71" fill="#a3b7dc"/>
<rect x="1654.26" y="374.81" width="17.66" height="25.71" fill="#4776be"/>
<rect x="1671.62" y="374.81" width="17.66" height="25.71" fill="#d9dfee"/>
<rect x="1688.98" y="374.81" width="17.66" height="25.71" fill="#f4f0f0"/>
<rect x="1463.30" y="400.22" width="17.66" height="25.71" fill="#f4f3f4"/>
<rect x="1480.66" y="400.22" width="17.66" height="25.71" fill="#e6e9f2"/>
<rect x="1498.02" y="400.22" width="17.66" height="25.71" fill="#f4f3f4"/>
<rect x="1515.38" y="400.22" width="17.66" height="25.71" fill="#f4f3f4"/>
<rect x="1532.74" y="400.22" width="17.66" height="25.71" fill="#f4f3f4"/>
<rect x="1550.10" y="400.22" width="17.66" height="25.71" fill="#edeef3"/>
<rect x="1567.46" y="400.22" width="17.66" height="25.71" fill="#f3e9e9"/>
<rect x="1584.82" y="400.22" width="17.66" height="25.71" fill="#f3e9e9"/>
<rect x="1602.18" y="400.22" width="17.66" height="25.71" fill="#f2e5e5"/>
<rect x="1619.54" y="400.22" width="17.66" height="25.71" fill="#f2e5e5"/>
<rect x="1636.90" y="400.22" width="17.66" height="25.71" fill="#edeef3"/>
<rect x="1654.26" y="400.22" width="17.66" height="25.71" fill="#e9ebf2"/>
<rect x="1671.62" y="400.22" width="17.66" height="25.71" fill="#f3e9e9"/>
<rect x="1688.98" y="400.22" width="17.66" height="25.71" fill="#f3e9e9"/>
<rect x="1463.30" y="425.63" width="17.66" height="25.71" fill="#f3e9e9"/>
<rect x="1480.66" y="425.63" width="17.66" height="25.71" fill="#f0f0f3"/>
<rect x="1498.02" y="425.63" width="17.66" height="25.71" fill="#f3ecec"/>
<rect x="1515.38" y="425.63" width="17.66" height="25.71" fill="#f4f0f0"/>
<rect x="1532.74" y="425.63" width="17.66" height="25.71" fill="#f3ecec"/>
<rect x="1550.10" y="425.63" width="17.66" height="25.71" fill="#f4f0f0"/>
<rect x="1567.46" y="425.63" width="17.66" height="25.71" fill="#f2e5e5"/>
<rect x="1584.82" y="425.63" width="17.66" height="25.71" fill="#f4f3f4"/>
<rect x="1602.18" y="425.63" width="17.66" height="25.71" fill="#f4f3f4"/>
<rect x="1619.54" y="425.63" width="17.66" height="25.71" fill="#f4f3f4"/>
<rect x="1636.90" y="425.63" width="17.66" height="25.71" fill="#f4f3f4"/>
<rect x="1654.26" y="425.63" width="17.66" height="25.71" fill="#f4f3f4"/>
<rect x="1671.62" y="425.63" width="17.66" height="25.71" fill="#f4f3f4"/>
<rect x="1688.98" y="425.63" width="17.66" height="25.71" fill="#efd0ce"/>
<rect x="1450.70" y="95.30" width="7.40" height="25.71" fill="#4BE03A"/>
<rect x="1463.30" y="455.50" width="0.00" height="0.00" fill="#fff"/>
<rect x="1450.70" y="120.71" width="7.40" height="25.71" fill="#EDD93C"/>
<rect x="1463.30" y="455.50" width="0.00" height="0.00" fill="#fff"/>
<rect x="1450.70" y="146.12" width="7.40" height="25.71" fill="#8DA0CE"/>
<rect x="1463.30" y="455.50" width="0.00" height="0.00" fill="#fff"/>
<rect x="1450.70" y="171.53" width="7.40" height="25.71" fill="#7067BD"/>
<rect x="1463.30" y="455.50" width="0.00" height="0.00" fill="#fff"/>
<rect x="1450.70" y="196.94" width="7.40" height="25.71" fill="#9166E3"/>
<rect x="1463.30" y="455.50" width="0.00" height="0.00" fill="#fff"/>
<rect x="1450.70" y="222.35" width="7.40" height="25.71" fill="#B94EEB"/>
<rect x="1463.30" y="455.50" width="0.00" height="0.00" fill="#fff"/>
<rect x="1450.70" y="247.76" width="7.40" height="25.71" fill="#6B34A8"/>
<rect x="1463.30" y="455.50" width="0.00" height="0.00" fill="#fff"/>
<rect x="1450.70" y="273.17" width="7.40" height="25.71" fill="#54CCF7"/>
<rect x="1463.30" y="455.50" width="0.00" height="0.00" fill="#fff"/>
<rect x="1450.70" y="298.58" width="7.40" height="25.71" fill="#8CD4F5"/>
<rect x="1463.30" y="455.50" width="0.00" height="0.00" fill="#fff"/>
<rect x="1450.70" y="323.99" width="7.40" height="25.71" fill="#4C72BB"/>
<rect x="1463.30" y="455.50" width="0.00" height="0.00" fill="#fff"/>
<rect x="1450.70" y="349.40" width="7.40" height="25.71" fill="#BB8589"/>
<rect x="1463.30" y="455.50" width="0.00" height="0.00" fill="#fff"/>
<rect x="1450.70" y="374.81" width="7.40" height="25.71" fill="#A6A6A6"/>
<rect x="1463.30" y="455.50" width="0.00" height="0.00" fill="#fff"/>
<rect x="1450.70" y="400.22" width="7.40" height="25.71" fill="#858585"/>
<rect x="1463.30" y="455.50" width="0.00" height="0.00" fill="#fff"/>
<rect x="1450.70" y="425.63" width="7.40" height="25.71" fill="#6A6A6A"/>
<rect x="1463.30" y="455.50" width="0.00" height="0.00" fill="#fff"/>
<rect x="1463.30" y="455.50" width="17.66" height="8.00" fill="#4BE03A"/>
<rect x="1480.66" y="455.50" width="17.66" height="8.00" fill="#EDD93C"/>
<rect x="1498.02" y="455.50" width="17.66" height="8.00" fill="#8DA0CE"/>
<rect x="1515.38" y="455.50" width="17.66" height="8.00" fill="#7067BD"/>
<rect x="1532.74" y="455.50" width="17.66" height="8.00" fill="#9166E3"/>
<rect x="1550.10" y="455.50" width="17.66" height="8.00" fill="#B94EEB"/>
<rect x="1567.46" y="455.50" width="17.66" height="8.00" fill="#6B34A8"/>
<rect x="1584.82" y="455.50" width="17.66" height="8.00" fill="#54CCF7"/>
<rect x="1602.18" y="455.50" width="17.66" height="8.00" fill="#8CD4F5"/>
<rect x="1619.54" y="455.50" width="17.66" height="8.00" fill="#4C72BB"/>
<rect x="1636.90" y="455.50" width="17.66" height="8.00" fill="#BB8589"/>
<rect x="1654.26" y="455.50" width="17.66" height="8.00" fill="#A6A6A6"/>
<rect x="1671.62" y="455.50" width="17.66" height="8.00" fill="#858585"/>
<rect x="1688.98" y="455.50" width="17.66" height="8.00" fill="#6A6A6A"/>
<rect x="1465.4" y="76.7" width="13.2" height="14.6" fill="#4BE03A" rx="1"/>
<rect x="1482.8" y="66.7" width="13.2" height="24.6" fill="#EDD93C" rx="1"/>
<rect x="1500.1" y="67.9" width="13.2" height="23.4" fill="#8DA0CE" rx="1"/>
<rect x="1517.5" y="72.8" width="13.2" height="18.5" fill="#7067BD" rx="1"/>
<rect x="1534.8" y="74.8" width="13.2" height="16.5" fill="#9166E3" rx="1"/>
<rect x="1552.2" y="68.1" width="13.2" height="23.2" fill="#B94EEB" rx="1"/>
<rect x="1569.6" y="51.5" width="13.2" height="39.8" fill="#6B34A8" rx="1"/>
<rect x="1586.9" y="80.1" width="13.2" height="11.2" fill="#54CCF7" rx="1"/>
<rect x="1604.3" y="84.1" width="13.2" height="7.2" fill="#8CD4F5" rx="1"/>
<rect x="1621.6" y="72.8" width="13.2" height="18.5" fill="#4C72BB" rx="1"/>
<rect x="1639.0" y="67.9" width="13.2" height="23.4" fill="#BB8589" rx="1"/>
<rect x="1656.4" y="73.0" width="13.2" height="18.3" fill="#A6A6A6" rx="1"/>
<rect x="1673.7" y="82.1" width="13.2" height="9.2" fill="#858585" rx="1"/>
<rect x="1691.1" y="72.3" width="13.2" height="19.0" fill="#6A6A6A" rx="1"/>
<line x1="1462.8" y1="49.5" x2="1462.8" y2="91.6" stroke="#000" stroke-width="1.4"/>
<line x1="1459.3" y1="90.7" x2="1462.8" y2="90.7" stroke="#000" stroke-width="1.2"/>
<text x="1455.8" y="95.8" font-size="14.5" text-anchor="end">0</text>
<line x1="1459.3" y1="74.8" x2="1462.8" y2="74.8" stroke="#000" stroke-width="1.2"/>
<text x="1455.8" y="79.9" font-size="14.5" text-anchor="end">2</text>
<line x1="1459.3" y1="58.8" x2="1462.8" y2="58.8" stroke="#000" stroke-width="1.2"/>
<text x="1455.8" y="63.9" font-size="14.5" text-anchor="end">4</text>
<rect x="1709.5" y="99.7" width="8.8" height="16.6" fill="#4BE03A" rx="1"/>
<rect x="1709.5" y="125.1" width="3.7" height="16.6" fill="#EDD93C" rx="1"/>
<rect x="1709.5" y="150.5" width="26.5" height="16.6" fill="#8DA0CE" rx="1"/>
<rect x="1709.5" y="175.9" width="30.9" height="16.6" fill="#7067BD" rx="1"/>
<rect x="1709.5" y="201.3" width="29.4" height="16.6" fill="#9166E3" rx="1"/>
<rect x="1709.5" y="226.8" width="40.7" height="16.6" fill="#B94EEB" rx="1"/>
<rect x="1709.5" y="252.2" width="33.8" height="16.6" fill="#6B34A8" rx="1"/>
<rect x="1709.5" y="277.6" width="7.9" height="16.6" fill="#54CCF7" rx="1"/>
<rect x="1709.5" y="303.0" width="9.3" height="16.6" fill="#8CD4F5" rx="1"/>
<rect x="1709.5" y="328.4" width="17.9" height="16.6" fill="#4C72BB" rx="1"/>
<rect x="1709.5" y="353.8" width="28.2" height="16.6" fill="#BB8589" rx="1"/>
<rect x="1709.5" y="379.2" width="28.9" height="16.6" fill="#A6A6A6" rx="1"/>
<rect x="1709.5" y="404.6" width="8.8" height="16.6" fill="#858585" rx="1"/>
<rect x="1709.5" y="430.0" width="6.9" height="16.6" fill="#6A6A6A" rx="1"/>
<line x1="1709.5" y1="451.3" x2="1745.5" y2="451.3" stroke="#000" stroke-width="1.4"/>
<line x1="1712.0" y1="451.3" x2="1712.0" y2="455.0" stroke="#000" stroke-width="1.2"/>
<text x="1716.8" y="456.0" font-size="13.6" text-anchor="end" transform="rotate(-90 1716.8 456.0)">0</text>
<line x1="1728.0" y1="451.3" x2="1728.0" y2="455.0" stroke="#000" stroke-width="1.2"/>
<text x="1732.8" y="456.0" font-size="13.6" text-anchor="end" transform="rotate(-90 1732.8 456.0)">2</text>
<line x1="1744.0" y1="451.3" x2="1744.0" y2="455.0" stroke="#000" stroke-width="1.2"/>
<text x="1748.8" y="456.0" font-size="13.6" text-anchor="end" transform="rotate(-90 1748.8 456.0)">4</text>
<text x="1476.6" y="469.5" font-size="18.2" text-anchor="end" transform="rotate(-90 1476.6 469.5)">Early FGC</text>
<text x="1493.9" y="469.5" font-size="18.2" text-anchor="end" transform="rotate(-90 1493.9 469.5)">Late FGC</text>
<text x="1511.3" y="469.5" font-size="18.2" text-anchor="end" transform="rotate(-90 1511.3 469.5)">LPC1</text>
<text x="1528.7" y="469.5" font-size="18.2" text-anchor="end" transform="rotate(-90 1528.7 469.5)">LPC2</text>
<text x="1546.0" y="469.5" font-size="18.2" text-anchor="end" transform="rotate(-90 1546.0 469.5)">LP1</text>
<text x="1563.4" y="469.5" font-size="18.2" text-anchor="end" transform="rotate(-90 1563.4 469.5)">LP2</text>
<text x="1580.7" y="469.5" font-size="18.2" text-anchor="end" transform="rotate(-90 1580.7 469.5)">DLC</text>
<text x="1598.1" y="469.5" font-size="18.2" text-anchor="end" transform="rotate(-90 1598.1 469.5)">SPC</text>
<text x="1615.5" y="469.5" font-size="18.2" text-anchor="end" transform="rotate(-90 1615.5 469.5)">SC1</text>
<text x="1632.8" y="469.5" font-size="18.2" text-anchor="end" transform="rotate(-90 1632.8 469.5)">SC2</text>
<text x="1650.2" y="469.5" font-size="18.2" text-anchor="end" transform="rotate(-90 1650.2 469.5)">PMC</text>
<text x="1667.5" y="469.5" font-size="18.2" text-anchor="end" transform="rotate(-90 1667.5 469.5)">EC</text>
<text x="1684.9" y="469.5" font-size="18.2" text-anchor="end" transform="rotate(-90 1684.9 469.5)">MC</text>
<text x="1702.3" y="469.5" font-size="18.2" text-anchor="end" transform="rotate(-90 1702.3 469.5)">NK</text>
<text x="1593.2" y="38.9" font-size="19.5" text-anchor="middle">Differential interaction strength</text>
<text x="1138.4" y="111.7" font-size="17.7" text-anchor="end">Early FGC</text>
<text x="1138.4" y="137.1" font-size="17.7" text-anchor="end">Late FGC</text>
<text x="1138.4" y="162.5" font-size="17.7" text-anchor="end">LPC1</text>
<text x="1138.4" y="187.9" font-size="17.7" text-anchor="end">LPC2</text>
<text x="1138.4" y="213.3" font-size="17.7" text-anchor="end">LP1</text>
<text x="1138.4" y="238.7" font-size="17.7" text-anchor="end">LP2</text>
<text x="1138.4" y="264.2" font-size="17.7" text-anchor="end">DLC</text>
<text x="1138.4" y="289.6" font-size="17.7" text-anchor="end">SPC</text>
<text x="1138.4" y="315.0" font-size="17.7" text-anchor="end">SC1</text>
<text x="1138.4" y="340.4" font-size="17.7" text-anchor="end">SC2</text>
<text x="1138.4" y="365.8" font-size="17.7" text-anchor="end">PMC</text>
<text x="1138.4" y="391.2" font-size="17.7" text-anchor="end">EC</text>
<text x="1138.4" y="416.6" font-size="17.7" text-anchor="end">MC</text>
<text x="1138.4" y="442.0" font-size="17.7" text-anchor="end">NK</text>
<text x="1074.5" y="256.8" font-size="19.4" text-anchor="middle" transform="rotate(-90 1074.5 256.8)">Sources (Sender)</text>
<text x="1714.0" y="519.6" font-size="16.3" text-anchor="middle">Relative values</text>
<defs><linearGradient id="hg" x1="0" x2="1" y1="0" y2="0"><stop offset="0" stop-color="#3b6cb3"/><stop offset="0.18" stop-color="#8fa9d6"/><stop offset="0.33" stop-color="#f5f4f4"/><stop offset="0.55" stop-color="#ebc4c3"/><stop offset="0.78" stop-color="#d7807f"/><stop offset="1" stop-color="#b41d2d"/></linearGradient></defs>
<rect x="1644.2" y="528.2" width="139.4" height="16.4" fill="url(#hg)"/>
<text x="1643.0" y="561.0" font-size="16.3" text-anchor="middle">−100</text>
<text x="1687.5" y="561.0" font-size="16.3" text-anchor="middle">0</text>
<text x="1731.7" y="561.0" font-size="16.3" text-anchor="middle">100</text>
<text x="1773.3" y="561.0" font-size="16.3" text-anchor="middle">200</text>
<text x="1028.0" y="574.0" font-size="36" font-weight="bold">e</text>
<text x="1192.0" y="613.8" font-size="19.5" text-anchor="middle" font-weight="bold">TGFβ signalling in CtrlM</text>
<text x="1590.3" y="613.8" font-size="19.5" text-anchor="middle" font-weight="bold">TGFβ signalling in KS</text>
<path d="M1210.9 678.0Q1180.6 795.9 1111.1 892.4" stroke="#7067BD" stroke-width="0.24" fill="none" stroke-opacity="0.62"/>
<path d="M1260.4 702.7Q1203.8 813.4 1112.8 893.9" stroke="#8DA0CE" stroke-width="0.27" fill="none" stroke-opacity="0.62"/>
<path d="M1155.9 678.2Q1152.2 790.6 1109.1 891.3" stroke="#9166E3" stroke-width="0.28" fill="none" stroke-opacity="0.62"/>
<path d="M1069.4 749.5Q1067.8 771.3 1061.0 788.9" stroke="#6B34A8" stroke-width="0.31" fill="none" stroke-opacity="0.62"/>
<path d="M1298.8 749.4Q1295.9 824.4 1268.0 890.8" stroke="#EDD93C" stroke-width="0.37" fill="none" stroke-opacity="0.62"/>
<path d="M1111.9 902.7Q1132.2 909.2 1147.3 919.6" stroke="#4C72BB" stroke-width="0.38" fill="none" stroke-opacity="0.62"/>
<path d="M1300.5 749.3Q1309.0 798.4 1301.0 844.5" stroke="#EDD93C" stroke-width="0.42" fill="none" stroke-opacity="0.62"/>
<path d="M1071.2 749.4Q1079.7 798.8 1071.6 845.2" stroke="#6B34A8" stroke-width="0.42" fill="none" stroke-opacity="0.62"/>
<path d="M1111.5 897.8Q1197.5 860.0 1288.2 855.6" stroke="#4C72BB" stroke-width="0.45" fill="none" stroke-opacity="0.62"/>
<path d="M1076.6 855.4Q1170.5 859.8 1253.9 896.3" stroke="#8CD4F5" stroke-width="0.45" fill="none" stroke-opacity="0.62"/>
<path d="M1157.9 918.6Q1188.3 800.8 1257.5 704.7" stroke="#BB8589" stroke-width="0.50" fill="none" stroke-opacity="0.62"/>
<path d="M1206.9 675.3Q1148.0 719.1 1080.5 738.6" stroke="#7067BD" stroke-width="0.51" fill="none" stroke-opacity="0.62"/>
<path d="M1106.4 703.3Q1124.1 798.4 1107.0 890.5" stroke="#B94EEB" stroke-width="0.52" fill="none" stroke-opacity="0.62"/>
<path d="M1072.9 748.9Q1102.0 818.2 1104.7 890.3" stroke="#6B34A8" stroke-width="0.52" fill="none" stroke-opacity="0.62"/>
<path d="M1159.5 919.1Q1210.2 820.6 1290.7 749.0" stroke="#BB8589" stroke-width="0.53" fill="none" stroke-opacity="0.62"/>
<path d="M1151.6 919.8Q1095.9 842.0 1072.5 752.5" stroke="#BB8589" stroke-width="0.54" fill="none" stroke-opacity="0.62"/>
<path d="M1148.8 923.8Q1128.5 917.2 1113.5 906.7" stroke="#BB8589" stroke-width="0.55" fill="none" stroke-opacity="0.62"/>
<path d="M1076.4 857.0Q1147.3 877.3 1204.0 919.4" stroke="#8CD4F5" stroke-width="0.55" fill="none" stroke-opacity="0.62"/>
<path d="M1291.5 854.9Q1172.6 849.6 1066.6 802.6" stroke="#6a6a6a" stroke-width="0.57" fill="none" stroke-opacity="0.62"/>
<path d="M1256.6 697.5Q1184.5 710.6 1115.5 698.1" stroke="#8DA0CE" stroke-width="0.58" fill="none" stroke-opacity="0.62"/>
<path d="M1153.1 919.0Q1109.0 815.8 1105.4 706.7" stroke="#BB8589" stroke-width="0.60" fill="none" stroke-opacity="0.62"/>
<path d="M1064.0 800.3Q1169.7 830.0 1255.1 894.1" stroke="#54CCF7" stroke-width="0.62" fill="none" stroke-opacity="0.62"/>
<path d="M1302.0 748.9Q1309.7 768.9 1311.0 787.2" stroke="#EDD93C" stroke-width="0.64" fill="none" stroke-opacity="0.62"/>
<path d="M1064.1 797.1Q1183.9 774.4 1300.6 796.3" stroke="#54CCF7" stroke-width="0.64" fill="none" stroke-opacity="0.62"/>
<path d="M1257.1 699.1Q1171.3 736.8 1080.9 741.2" stroke="#8DA0CE" stroke-width="0.64" fill="none" stroke-opacity="0.62"/>
<path d="M1292.1 858.3Q1206.1 896.0 1115.5 900.2" stroke="#6a6a6a" stroke-width="0.66" fill="none" stroke-opacity="0.62"/>
<path d="M1256.1 900.4Q1162.3 895.9 1079.1 859.3" stroke="#7c7c7c" stroke-width="0.66" fill="none" stroke-opacity="0.62"/>
<path d="M1077.0 738.4Q1162.7 700.9 1253.1 696.6" stroke="#6B34A8" stroke-width="0.69" fill="none" stroke-opacity="0.62"/>
<path d="M1256.3 902.1Q1184.3 915.1 1115.3 902.6" stroke="#7c7c7c" stroke-width="0.70" fill="none" stroke-opacity="0.62"/>
<path d="M1112.0 899.3Q1184.1 886.2 1253.0 898.6" stroke="#4C72BB" stroke-width="0.76" fill="none" stroke-opacity="0.62"/>
<path d="M1073.5 734.7Q1084.0 716.0 1097.2 703.4" stroke="#6B34A8" stroke-width="0.83" fill="none" stroke-opacity="0.62"/>
<path d="M1305.7 793.2Q1250.4 743.5 1217.6 680.4" stroke="#4BE03A" stroke-width="0.84" fill="none" stroke-opacity="0.62"/>
<path d="M1291.6 856.6Q1184.2 876.7 1079.9 857.1" stroke="#6a6a6a" stroke-width="0.85" fill="none" stroke-opacity="0.62"/>
<path d="M1311.3 806.3Q1309.7 827.8 1303.2 844.9" stroke="#4BE03A" stroke-width="0.87" fill="none" stroke-opacity="0.62"/>
<path d="M1205.4 923.9Q1134.6 903.5 1078.0 861.4" stroke="#9a9a9a" stroke-width="0.91" fill="none" stroke-opacity="0.62"/>
<path d="M1308.6 791.1Q1301.0 771.0 1299.7 752.9" stroke="#4BE03A" stroke-width="0.93" fill="none" stroke-opacity="0.62"/>
<path d="M1063.4 801.8Q1146.5 847.5 1205.6 917.4" stroke="#54CCF7" stroke-width="0.95" fill="none" stroke-opacity="0.62"/>
<path d="M1162.1 921.3Q1221.0 877.6 1288.4 858.1" stroke="#BB8589" stroke-width="0.97" fill="none" stroke-opacity="0.62"/>
<path d="M1206.0 673.8Q1161.2 692.9 1115.8 695.6" stroke="#7067BD" stroke-width="0.98" fill="none" stroke-opacity="0.62"/>
<path d="M1163.4 671.2Q1212.0 674.0 1253.9 691.8" stroke="#9166E3" stroke-width="0.99" fill="none" stroke-opacity="0.62"/>
<path d="M1205.1 925.6Q1156.5 922.7 1114.8 904.9" stroke="#9a9a9a" stroke-width="0.99" fill="none" stroke-opacity="0.62"/>
<path d="M1112.1 698.1Q1217.6 727.7 1302.6 791.5" stroke="#B94EEB" stroke-width="0.99" fill="none" stroke-opacity="0.62"/>
<path d="M1150.2 675.2Q1132.6 687.4 1115.4 693.0" stroke="#9166E3" stroke-width="1.00" fill="none" stroke-opacity="0.62"/>
<path d="M1101.6 702.6Q1091.2 721.3 1078.1 733.9" stroke="#B94EEB" stroke-width="1.01" fill="none" stroke-opacity="0.62"/>
<path d="M1218.2 675.7Q1273.6 725.3 1306.4 788.3" stroke="#7067BD" stroke-width="1.02" fill="none" stroke-opacity="0.62"/>
<path d="M1074.8 735.6Q1106.9 698.6 1146.6 676.1" stroke="#6B34A8" stroke-width="1.03" fill="none" stroke-opacity="0.62"/>
<path d="M1062.5 803.1Q1118.1 852.9 1151.0 916.1" stroke="#54CCF7" stroke-width="1.03" fill="none" stroke-opacity="0.62"/>
<path d="M1110.5 700.9Q1203.6 783.2 1258.7 890.8" stroke="#B94EEB" stroke-width="1.06" fill="none" stroke-opacity="0.62"/>
<path d="M1150.4 920.9Q1094.9 871.1 1062.0 807.9" stroke="#BB8589" stroke-width="1.11" fill="none" stroke-opacity="0.62"/>
<path d="M1064.2 798.7Q1183.1 803.9 1288.9 850.6" stroke="#54CCF7" stroke-width="1.12" fill="none" stroke-opacity="0.62"/>
<path d="M1215.6 677.6Q1259.8 780.7 1263.4 889.5" stroke="#7067BD" stroke-width="1.13" fill="none" stroke-opacity="0.62"/>
<path d="M1151.4 676.5Q1119.4 713.6 1079.8 736.1" stroke="#9166E3" stroke-width="1.17" fill="none" stroke-opacity="0.62"/>
<path d="M1154.6 918.5Q1132.0 798.4 1154.0 681.6" stroke="#BB8589" stroke-width="1.19" fill="none" stroke-opacity="0.62"/>
<path d="M1256.7 694.1Q1236.4 687.5 1221.5 677.2" stroke="#8DA0CE" stroke-width="1.20" fill="none" stroke-opacity="0.62"/>
<path d="M1305.4 803.2Q1217.7 869.0 1115.4 897.8" stroke="#4BE03A" stroke-width="1.20" fill="none" stroke-opacity="0.62"/>
<path d="M1160.9 920.1Q1221.9 847.9 1301.6 803.9" stroke="#BB8589" stroke-width="1.24" fill="none" stroke-opacity="0.62"/>
<path d="M1303.8 798.1Q1185.5 792.8 1080.2 746.3" stroke="#4BE03A" stroke-width="1.25" fill="none" stroke-opacity="0.62"/>
<path d="M1163.0 922.9Q1207.6 903.9 1252.6 901.2" stroke="#BB8589" stroke-width="1.26" fill="none" stroke-opacity="0.62"/>
<path d="M1156.3 918.3Q1160.3 793.0 1208.4 680.9" stroke="#BB8589" stroke-width="1.29" fill="none" stroke-opacity="0.62"/>
<path d="M1149.4 922.3Q1106.5 898.0 1076.6 863.2" stroke="#BB8589" stroke-width="1.32" fill="none" stroke-opacity="0.62"/>
<path d="M1163.6 924.6Q1184.3 921.6 1201.6 924.1" stroke="#BB8589" stroke-width="1.33" fill="none" stroke-opacity="0.62"/>
<path d="M1206.0 922.3Q1123.0 876.5 1064.0 806.7" stroke="#9a9a9a" stroke-width="1.34" fill="none" stroke-opacity="0.62"/>
<path d="M1109.4 702.0Q1180.5 800.7 1210.0 915.0" stroke="#B94EEB" stroke-width="1.36" fill="none" stroke-opacity="0.62"/>
<path d="M1256.4 898.6Q1150.7 868.9 1065.7 804.9" stroke="#7c7c7c" stroke-width="1.37" fill="none" stroke-opacity="0.62"/>
<path d="M1309.7 806.0Q1296.6 853.8 1270.3 891.5" stroke="#4BE03A" stroke-width="1.38" fill="none" stroke-opacity="0.62"/>
<path d="M1112.2 694.8Q1184.3 681.7 1253.0 694.1" stroke="#B94EEB" stroke-width="1.40" fill="none" stroke-opacity="0.62"/>
<path d="M1112.3 696.4Q1205.9 700.8 1288.5 737.0" stroke="#B94EEB" stroke-width="1.44" fill="none" stroke-opacity="0.62"/>
<path d="M1108.0 702.8Q1152.1 806.0 1155.8 914.6" stroke="#B94EEB" stroke-width="1.48" fill="none" stroke-opacity="0.62"/>
<path d="M1304.7 794.6Q1221.9 748.9 1163.1 679.3" stroke="#4BE03A" stroke-width="1.51" fill="none" stroke-opacity="0.62"/>
<path d="M1163.3 669.6Q1184.3 666.5 1201.8 669.1" stroke="#9166E3" stroke-width="1.51" fill="none" stroke-opacity="0.62"/>
<path d="M1111.7 693.2Q1156.6 674.1 1201.7 671.4" stroke="#B94EEB" stroke-width="1.53" fill="none" stroke-opacity="0.62"/>
<path d="M1263.5 703.4Q1259.9 815.6 1217.2 915.5" stroke="#8DA0CE" stroke-width="1.56" fill="none" stroke-opacity="0.62"/>
<path d="M1217.0 676.8Q1272.9 754.8 1296.2 844.1" stroke="#7067BD" stroke-width="1.62" fill="none" stroke-opacity="0.62"/>
<path d="M1163.1 672.8Q1233.7 693.1 1289.8 734.7" stroke="#9166E3" stroke-width="1.64" fill="none" stroke-opacity="0.62"/>
<path d="M1205.5 672.1Q1184.5 675.3 1167.1 672.7" stroke="#7067BD" stroke-width="1.74" fill="none" stroke-opacity="0.62"/>
<path d="M1074.4 748.0Q1130.0 825.8 1153.2 914.8" stroke="#6B34A8" stroke-width="1.81" fill="none" stroke-opacity="0.62"/>
<path d="M1256.4 695.8Q1207.8 693.0 1166.3 675.3" stroke="#8DA0CE" stroke-width="1.83" fill="none" stroke-opacity="0.62"/>
<path d="M1076.7 745.4Q1181.7 802.9 1256.4 891.8" stroke="#6B34A8" stroke-width="1.84" fill="none" stroke-opacity="0.62"/>
<path d="M1294.6 849.0Q1238.7 771.0 1215.5 681.7" stroke="#6a6a6a" stroke-width="1.90" fill="none" stroke-opacity="0.62"/>
<path d="M1212.9 918.3Q1216.7 806.2 1259.3 706.4" stroke="#9a9a9a" stroke-width="1.94" fill="none" stroke-opacity="0.62"/>
<path d="M1161.6 675.7Q1244.7 749.4 1293.8 844.9" stroke="#9166E3" stroke-width="1.96" fill="none" stroke-opacity="0.62"/>
<path d="M1265.1 703.3Q1282.8 798.2 1265.9 889.3" stroke="#8DA0CE" stroke-width="1.97" fill="none" stroke-opacity="0.62"/>
<path d="M1207.0 920.9Q1124.1 847.4 1075.1 752.2" stroke="#9a9a9a" stroke-width="1.98" fill="none" stroke-opacity="0.62"/>
<path d="M1157.5 678.0Q1180.1 798.2 1158.3 914.6" stroke="#9166E3" stroke-width="1.99" fill="none" stroke-opacity="0.62"/>
<path d="M1304.0 796.3Q1198.6 766.5 1114.0 702.9" stroke="#4BE03A" stroke-width="1.99" fill="none" stroke-opacity="0.62"/>
<path d="M1293.3 850.1Q1210.2 776.4 1161.2 680.9" stroke="#6a6a6a" stroke-width="2.02" fill="none" stroke-opacity="0.62"/>
<path d="M1269.1 701.0Q1284.7 715.9 1293.4 731.3" stroke="#8DA0CE" stroke-width="2.04" fill="none" stroke-opacity="0.62"/>
<path d="M1110.9 691.8Q1128.5 679.6 1145.3 674.2" stroke="#B94EEB" stroke-width="2.05" fill="none" stroke-opacity="0.62"/>
<path d="M1077.5 740.2Q1184.3 720.2 1287.5 739.4" stroke="#6B34A8" stroke-width="2.05" fill="none" stroke-opacity="0.62"/>
<path d="M1162.5 674.4Q1245.4 720.0 1304.0 789.3" stroke="#9166E3" stroke-width="2.09" fill="none" stroke-opacity="0.62"/>
<path d="M1111.5 699.6Q1216.9 757.2 1291.6 846.2" stroke="#B94EEB" stroke-width="2.14" fill="none" stroke-opacity="0.62"/>
<path d="M1076.0 736.9Q1135.0 693.2 1201.8 673.9" stroke="#6B34A8" stroke-width="2.16" fill="none" stroke-opacity="0.62"/>
<path d="M1160.4 676.8Q1231.5 775.4 1260.9 889.4" stroke="#9166E3" stroke-width="2.21" fill="none" stroke-opacity="0.62"/>
<path d="M1296.0 848.2Q1266.9 778.8 1264.1 707.5" stroke="#6a6a6a" stroke-width="2.24" fill="none" stroke-opacity="0.62"/>
<path d="M1219.7 672.9Q1240.1 679.5 1254.5 689.5" stroke="#7067BD" stroke-width="2.24" fill="none" stroke-opacity="0.62"/>
<path d="M1306.6 804.5Q1245.6 876.6 1166.3 920.3" stroke="#4BE03A" stroke-width="2.26" fill="none" stroke-opacity="0.62"/>
<path d="M1219.1 674.4Q1261.8 698.5 1291.3 732.6" stroke="#7067BD" stroke-width="2.27" fill="none" stroke-opacity="0.62"/>
<path d="M1297.7 847.7Q1289.1 798.6 1296.9 753.3" stroke="#6a6a6a" stroke-width="2.27" fill="none" stroke-opacity="0.62"/>
<path d="M1307.0 792.0Q1278.7 751.3 1266.6 707.2" stroke="#4BE03A" stroke-width="2.30" fill="none" stroke-opacity="0.62"/>
<path d="M1265.6 893.3Q1278.7 845.6 1304.7 808.2" stroke="#7c7c7c" stroke-width="2.33" fill="none" stroke-opacity="0.62"/>
<path d="M1214.6 918.6Q1238.7 826.0 1292.0 751.3" stroke="#9a9a9a" stroke-width="2.42" fill="none" stroke-opacity="0.62"/>
<path d="M1266.6 702.8Q1295.9 772.2 1298.7 843.4" stroke="#8DA0CE" stroke-width="2.44" fill="none" stroke-opacity="0.62"/>
<path d="M1259.3 894.5Q1188.2 795.9 1158.9 682.0" stroke="#7c7c7c" stroke-width="2.50" fill="none" stroke-opacity="0.62"/>
<path d="M1212.5 678.2Q1208.6 803.5 1160.8 915.1" stroke="#7067BD" stroke-width="2.51" fill="none" stroke-opacity="0.62"/>
<path d="M1208.2 919.8Q1137.2 821.1 1107.9 707.3" stroke="#9a9a9a" stroke-width="2.58" fill="none" stroke-opacity="0.62"/>
<path d="M1262.3 893.2Q1244.7 798.3 1261.6 707.5" stroke="#7c7c7c" stroke-width="2.60" fill="none" stroke-opacity="0.62"/>
<path d="M1211.3 918.5Q1188.7 798.4 1210.5 682.3" stroke="#9a9a9a" stroke-width="2.67" fill="none" stroke-opacity="0.62"/>
<path d="M1077.4 743.7Q1195.1 776.8 1289.6 848.0" stroke="#6B34A8" stroke-width="2.68" fill="none" stroke-opacity="0.62"/>
<path d="M1308.1 805.4Q1273.7 871.2 1221.6 918.0" stroke="#4BE03A" stroke-width="2.69" fill="none" stroke-opacity="0.62"/>
<path d="M1214.1 678.0Q1236.8 798.2 1215.0 914.2" stroke="#7067BD" stroke-width="2.78" fill="none" stroke-opacity="0.62"/>
<path d="M1264.0 893.1Q1266.9 818.1 1294.3 752.8" stroke="#7c7c7c" stroke-width="2.86" fill="none" stroke-opacity="0.62"/>
<path d="M1075.7 746.9Q1158.5 820.4 1207.3 915.2" stroke="#6B34A8" stroke-width="2.87" fill="none" stroke-opacity="0.62"/>
<path d="M1299.4 847.6Q1300.9 826.0 1307.1 809.9" stroke="#6a6a6a" stroke-width="3.01" fill="none" stroke-opacity="0.62"/>
<path d="M1159.0 677.6Q1208.4 792.8 1212.4 913.9" stroke="#9166E3" stroke-width="3.05" fill="none" stroke-opacity="0.62"/>
<path d="M1077.6 742.0Q1195.9 747.3 1300.3 793.3" stroke="#6B34A8" stroke-width="3.12" fill="none" stroke-opacity="0.62"/>
<path d="M1268.0 702.1Q1296.5 742.7 1308.5 786.4" stroke="#8DA0CE" stroke-width="3.21" fill="none" stroke-opacity="0.62"/>
<path d="M1262.0 703.2Q1231.7 821.0 1163.2 916.1" stroke="#8DA0CE" stroke-width="3.21" fill="none" stroke-opacity="0.62"/>
<path d="M1291.7 853.1Q1173.9 820.1 1079.7 749.2" stroke="#6a6a6a" stroke-width="3.33" fill="none" stroke-opacity="0.62"/>
<path d="M1216.2 919.1Q1250.4 853.4 1302.3 806.7" stroke="#9a9a9a" stroke-width="3.40" fill="none" stroke-opacity="0.62"/>
<path d="M1256.8 903.7Q1212.2 922.7 1168.5 925.3" stroke="#7c7c7c" stroke-width="3.80" fill="none" stroke-opacity="0.62"/>
<path d="M1294.2 861.0Q1262.1 898.0 1223.6 919.9" stroke="#6a6a6a" stroke-width="3.90" fill="none" stroke-opacity="0.62"/>
<path d="M1209.7 919.0Q1160.3 803.7 1156.4 683.1" stroke="#9a9a9a" stroke-width="3.95" fill="none" stroke-opacity="0.62"/>
<path d="M1292.4 851.5Q1187.0 793.9 1112.9 705.5" stroke="#6a6a6a" stroke-width="4.02" fill="none" stroke-opacity="0.62"/>
<path d="M1258.0 895.7Q1165.1 813.3 1110.6 707.1" stroke="#7c7c7c" stroke-width="4.03" fill="none" stroke-opacity="0.62"/>
<path d="M1257.1 897.1Q1152.0 839.6 1078.0 751.6" stroke="#7c7c7c" stroke-width="4.27" fill="none" stroke-opacity="0.62"/>
<path d="M1260.7 893.7Q1216.6 790.5 1213.1 683.3" stroke="#7c7c7c" stroke-width="4.52" fill="none" stroke-opacity="0.62"/>
<path d="M1218.9 921.4Q1236.2 909.4 1251.4 904.4" stroke="#9a9a9a" stroke-width="4.73" fill="none" stroke-opacity="0.62"/>
<path d="M1205.2 927.2Q1184.5 930.3 1168.9 928.0" stroke="#9a9a9a" stroke-width="5.01" fill="none" stroke-opacity="0.62"/>
<path d="M1217.6 920.1Q1249.6 883.1 1287.5 861.6" stroke="#9a9a9a" stroke-width="5.52" fill="none" stroke-opacity="0.62"/>
<path d="M1257.6 905.1Q1240.3 917.2 1225.4 922.0" stroke="#7c7c7c" stroke-width="5.66" fill="none" stroke-opacity="0.62"/>
<path d="M1293.0 859.7Q1234.1 903.5 1168.9 922.3" stroke="#6a6a6a" stroke-width="5.67" fill="none" stroke-opacity="0.62"/>
<path d="M1295.5 861.9Q1285.0 880.6 1273.6 891.5" stroke="#6a6a6a" stroke-width="5.98" fill="none" stroke-opacity="0.62"/>
<path d="M1267.3 893.9Q1277.8 875.3 1289.1 864.5" stroke="#7c7c7c" stroke-width="6.40" fill="none" stroke-opacity="0.62"/>
<path d="M1109.4 894.8L1109.8 890.6L1113.2 893.0Z" fill="#7067BD" fill-opacity="0.8"/>
<path d="M1110.6 895.9L1111.9 891.9L1114.7 895.0Z" fill="#8DA0CE" fill-opacity="0.8"/>
<path d="M1108.0 894.0L1107.5 889.8L1111.4 891.4Z" fill="#9166E3" fill-opacity="0.8"/>
<path d="M1059.9 791.7L1059.3 787.5L1063.2 789.0Z" fill="#6B34A8" fill-opacity="0.8"/>
<path d="M1266.8 893.5L1266.3 889.2L1270.3 890.9Z" fill="#EDD93C" fill-opacity="0.8"/>
<path d="M1149.8 921.3L1145.5 921.0L1148.0 917.4Z" fill="#4C72BB" fill-opacity="0.8"/>
<path d="M1300.5 847.5L1299.0 843.4L1303.3 844.2Z" fill="#EDD93C" fill-opacity="0.8"/>
<path d="M1071.1 848.2L1069.6 844.1L1073.9 844.9Z" fill="#6B34A8" fill-opacity="0.8"/>
<path d="M1291.3 855.5L1287.6 857.8L1287.4 853.4Z" fill="#4C72BB" fill-opacity="0.8"/>
<path d="M1256.6 897.5L1252.3 898.0L1254.1 893.9Z" fill="#8CD4F5" fill-opacity="0.8"/>
<path d="M1259.3 702.2L1258.9 706.6L1255.3 704.0Z" fill="#BB8589" fill-opacity="0.8"/>
<path d="M1077.6 739.5L1080.6 736.3L1081.8 740.6Z" fill="#7067BD" fill-opacity="0.8"/>
<path d="M1106.4 893.5L1104.9 889.3L1109.4 890.2Z" fill="#B94EEB" fill-opacity="0.8"/>
<path d="M1104.8 893.4L1102.4 889.6L1107.0 889.5Z" fill="#6B34A8" fill-opacity="0.8"/>
<path d="M1293.0 746.9L1291.7 751.2L1288.7 747.8Z" fill="#BB8589" fill-opacity="0.8"/>
<path d="M1071.7 749.5L1074.9 752.6L1070.5 753.8Z" fill="#BB8589" fill-opacity="0.8"/>
<path d="M1111.0 905.0L1115.4 905.3L1112.8 909.0Z" fill="#BB8589" fill-opacity="0.8"/>
<path d="M1206.5 921.2L1202.1 920.8L1204.8 917.1Z" fill="#8CD4F5" fill-opacity="0.8"/>
<path d="M1063.8 801.4L1068.2 800.9L1066.4 805.0Z" fill="#6a6a6a" fill-opacity="0.8"/>
<path d="M1112.4 697.5L1116.6 696.0L1115.8 700.5Z" fill="#8DA0CE" fill-opacity="0.8"/>
<path d="M1105.3 703.6L1107.7 707.4L1103.1 707.6Z" fill="#BB8589" fill-opacity="0.8"/>
<path d="M1257.5 895.9L1253.0 895.5L1255.8 891.8Z" fill="#54CCF7" fill-opacity="0.8"/>
<path d="M1311.3 790.3L1308.7 786.6L1313.3 786.3Z" fill="#EDD93C" fill-opacity="0.8"/>
<path d="M1303.7 796.9L1299.5 798.4L1300.3 793.9Z" fill="#54CCF7" fill-opacity="0.8"/>
<path d="M1077.8 741.3L1081.6 738.8L1081.8 743.5Z" fill="#8DA0CE" fill-opacity="0.8"/>
<path d="M1112.4 900.4L1116.1 897.9L1116.4 902.5Z" fill="#6a6a6a" fill-opacity="0.8"/>
<path d="M1076.2 858.1L1080.7 857.5L1078.9 861.8Z" fill="#7c7c7c" fill-opacity="0.8"/>
<path d="M1256.2 696.4L1252.4 699.0L1252.2 694.3Z" fill="#6B34A8" fill-opacity="0.8"/>
<path d="M1112.2 902.0L1116.5 900.4L1115.7 905.1Z" fill="#7c7c7c" fill-opacity="0.8"/>
<path d="M1256.1 899.2L1251.8 900.9L1252.6 896.1Z" fill="#4C72BB" fill-opacity="0.8"/>
<path d="M1099.5 701.2L1098.3 705.7L1094.9 702.2Z" fill="#6B34A8" fill-opacity="0.8"/>
<path d="M1216.1 677.6L1220.1 680.0L1215.8 682.2Z" fill="#4BE03A" fill-opacity="0.8"/>
<path d="M1076.7 856.5L1081.1 854.8L1080.2 859.7Z" fill="#6a6a6a" fill-opacity="0.8"/>
<path d="M1302.0 847.9L1301.1 843.3L1305.8 845.1Z" fill="#4BE03A" fill-opacity="0.8"/>
<path d="M1075.4 859.4L1080.1 859.9L1077.2 863.9Z" fill="#9a9a9a" fill-opacity="0.8"/>
<path d="M1299.4 749.6L1302.2 753.5L1297.2 753.9Z" fill="#4BE03A" fill-opacity="0.8"/>
<path d="M1207.7 919.9L1203.2 918.4L1207.0 915.2Z" fill="#54CCF7" fill-opacity="0.8"/>
<path d="M1291.5 857.2L1288.3 860.8L1286.9 855.9Z" fill="#BB8589" fill-opacity="0.8"/>
<path d="M1112.5 695.8L1116.5 693.0L1116.8 698.1Z" fill="#7067BD" fill-opacity="0.8"/>
<path d="M1256.9 693.1L1252.1 693.9L1254.1 689.2Z" fill="#9166E3" fill-opacity="0.8"/>
<path d="M1111.7 903.6L1116.5 902.9L1114.5 907.6Z" fill="#9a9a9a" fill-opacity="0.8"/>
<path d="M1305.2 793.5L1300.4 793.1L1303.5 789.0Z" fill="#B94EEB" fill-opacity="0.8"/>
<path d="M1112.2 694.0L1115.4 690.3L1116.9 695.2Z" fill="#9166E3" fill-opacity="0.8"/>
<path d="M1075.7 736.2L1076.9 731.5L1080.5 735.2Z" fill="#B94EEB" fill-opacity="0.8"/>
<path d="M1308.0 791.2L1303.8 788.7L1308.3 786.4Z" fill="#7067BD" fill-opacity="0.8"/>
<path d="M1149.5 674.5L1147.2 678.8L1144.7 674.3Z" fill="#6B34A8" fill-opacity="0.8"/>
<path d="M1152.5 919.0L1148.4 916.5L1152.9 914.1Z" fill="#54CCF7" fill-opacity="0.8"/>
<path d="M1260.2 893.7L1256.0 891.2L1260.6 888.8Z" fill="#B94EEB" fill-opacity="0.8"/>
<path d="M1060.5 804.9L1064.7 807.4L1060.1 809.8Z" fill="#BB8589" fill-opacity="0.8"/>
<path d="M1291.9 852.0L1287.1 852.7L1289.2 847.9Z" fill="#54CCF7" fill-opacity="0.8"/>
<path d="M1263.5 892.9L1260.8 888.8L1266.0 888.6Z" fill="#7067BD" fill-opacity="0.8"/>
<path d="M1076.8 737.7L1079.2 733.4L1081.8 738.0Z" fill="#9166E3" fill-opacity="0.8"/>
<path d="M1154.6 678.2L1156.5 682.9L1151.2 681.9Z" fill="#BB8589" fill-opacity="0.8"/>
<path d="M1218.8 675.3L1223.8 675.5L1220.7 679.9Z" fill="#8DA0CE" fill-opacity="0.8"/>
<path d="M1112.1 898.7L1115.4 895.0L1116.9 900.2Z" fill="#4BE03A" fill-opacity="0.8"/>
<path d="M1304.5 802.3L1302.1 806.7L1299.5 801.9Z" fill="#BB8589" fill-opacity="0.8"/>
<path d="M1077.1 745.0L1082.1 744.2L1079.9 749.2Z" fill="#4BE03A" fill-opacity="0.8"/>
<path d="M1256.0 901.0L1251.9 904.0L1251.5 898.6Z" fill="#BB8589" fill-opacity="0.8"/>
<path d="M1209.7 677.8L1210.6 682.8L1205.5 680.6Z" fill="#BB8589" fill-opacity="0.8"/>
<path d="M1074.3 860.6L1079.2 862.0L1075.0 865.6Z" fill="#BB8589" fill-opacity="0.8"/>
<path d="M1205.0 924.6L1200.4 926.7L1201.2 921.2Z" fill="#BB8589" fill-opacity="0.8"/>
<path d="M1061.8 804.0L1066.7 805.5L1062.5 809.1Z" fill="#9a9a9a" fill-opacity="0.8"/>
<path d="M1210.8 918.4L1207.0 914.9L1212.4 913.5Z" fill="#B94EEB" fill-opacity="0.8"/>
<path d="M1063.0 802.8L1068.1 803.2L1064.7 807.7Z" fill="#7c7c7c" fill-opacity="0.8"/>
<path d="M1268.3 894.3L1268.5 889.2L1273.1 892.4Z" fill="#4BE03A" fill-opacity="0.8"/>
<path d="M1256.4 694.7L1251.6 696.7L1252.6 691.2Z" fill="#B94EEB" fill-opacity="0.8"/>
<path d="M1291.7 738.4L1286.6 739.2L1288.9 734.0Z" fill="#B94EEB" fill-opacity="0.8"/>
<path d="M1155.9 918.1L1152.9 913.8L1158.6 913.6Z" fill="#B94EEB" fill-opacity="0.8"/>
<path d="M1160.9 676.6L1165.9 678.2L1161.5 681.9Z" fill="#4BE03A" fill-opacity="0.8"/>
<path d="M1205.3 669.6L1200.5 671.8L1201.4 666.1Z" fill="#9166E3" fill-opacity="0.8"/>
<path d="M1205.2 671.2L1201.0 674.4L1200.6 668.6Z" fill="#B94EEB" fill-opacity="0.8"/>
<path d="M1215.8 918.8L1214.9 913.5L1220.2 915.8Z" fill="#8DA0CE" fill-opacity="0.8"/>
<path d="M1297.1 847.6L1293.2 844.0L1298.9 842.5Z" fill="#7067BD" fill-opacity="0.8"/>
<path d="M1292.7 736.8L1287.3 736.5L1290.8 731.8Z" fill="#9166E3" fill-opacity="0.8"/>
<path d="M1163.5 672.2L1168.4 669.8L1167.5 675.8Z" fill="#7067BD" fill-opacity="0.8"/>
<path d="M1154.2 918.4L1150.1 914.7L1156.0 913.1Z" fill="#6B34A8" fill-opacity="0.8"/>
<path d="M1162.9 673.9L1168.4 672.9L1166.0 678.5Z" fill="#8DA0CE" fill-opacity="0.8"/>
<path d="M1258.8 894.7L1253.4 893.1L1258.2 889.1Z" fill="#6B34A8" fill-opacity="0.8"/>
<path d="M1214.6 678.2L1218.7 681.9L1212.7 683.4Z" fill="#6a6a6a" fill-opacity="0.8"/>
<path d="M1260.7 703.0L1261.8 708.5L1256.0 706.1Z" fill="#9a9a9a" fill-opacity="0.8"/>
<path d="M1295.5 848.2L1290.6 845.5L1296.2 842.6Z" fill="#9166E3" fill-opacity="0.8"/>
<path d="M1265.2 893.0L1263.0 887.8L1269.2 889.0Z" fill="#8DA0CE" fill-opacity="0.8"/>
<path d="M1073.4 748.9L1078.4 751.6L1072.7 754.5Z" fill="#9a9a9a" fill-opacity="0.8"/>
<path d="M1157.6 918.3L1155.3 913.1L1161.6 914.2Z" fill="#9166E3" fill-opacity="0.8"/>
<path d="M1111.0 700.7L1116.7 701.0L1112.9 706.0Z" fill="#4BE03A" fill-opacity="0.8"/>
<path d="M1159.5 677.6L1164.5 680.3L1158.8 683.2Z" fill="#6a6a6a" fill-opacity="0.8"/>
<path d="M1295.3 734.6L1290.2 732.1L1295.8 728.9Z" fill="#8DA0CE" fill-opacity="0.8"/>
<path d="M1148.9 673.0L1145.4 677.5L1143.4 671.4Z" fill="#B94EEB" fill-opacity="0.8"/>
<path d="M1291.2 740.1L1286.0 742.4L1287.1 736.1Z" fill="#6B34A8" fill-opacity="0.8"/>
<path d="M1306.5 792.2L1300.9 790.6L1305.9 786.5Z" fill="#9166E3" fill-opacity="0.8"/>
<path d="M1294.1 849.1L1288.5 847.6L1293.5 843.4Z" fill="#B94EEB" fill-opacity="0.8"/>
<path d="M1205.5 672.9L1201.8 677.4L1200.0 671.1Z" fill="#6B34A8" fill-opacity="0.8"/>
<path d="M1261.8 893.1L1257.4 889.3L1263.8 887.6Z" fill="#9166E3" fill-opacity="0.8"/>
<path d="M1264.0 703.6L1267.5 708.3L1260.8 708.6Z" fill="#6a6a6a" fill-opacity="0.8"/>
<path d="M1257.7 691.7L1251.8 691.7L1255.6 686.2Z" fill="#7067BD" fill-opacity="0.8"/>
<path d="M1162.9 922.2L1165.6 916.9L1168.8 922.8Z" fill="#4BE03A" fill-opacity="0.8"/>
<path d="M1293.9 735.5L1288.2 734.1L1293.2 729.7Z" fill="#7067BD" fill-opacity="0.8"/>
<path d="M1297.6 749.5L1300.1 754.9L1293.4 753.7Z" fill="#6a6a6a" fill-opacity="0.8"/>
<path d="M1265.6 703.4L1270.2 707.2L1263.6 709.0Z" fill="#4BE03A" fill-opacity="0.8"/>
<path d="M1306.9 805.0L1306.9 810.9L1301.3 807.1Z" fill="#7c7c7c" fill-opacity="0.8"/>
<path d="M1294.3 748.1L1294.3 754.2L1288.7 750.1Z" fill="#9a9a9a" fill-opacity="0.8"/>
<path d="M1298.8 847.4L1295.2 842.5L1302.1 842.3Z" fill="#8DA0CE" fill-opacity="0.8"/>
<path d="M1157.9 678.2L1162.5 682.1L1155.8 683.9Z" fill="#7c7c7c" fill-opacity="0.8"/>
<path d="M1159.2 918.8L1157.9 912.8L1164.4 915.5Z" fill="#7067BD" fill-opacity="0.8"/>
<path d="M1106.9 703.4L1111.6 707.4L1104.7 709.2Z" fill="#9a9a9a" fill-opacity="0.8"/>
<path d="M1262.3 703.5L1264.9 709.1L1257.9 707.8Z" fill="#7c7c7c" fill-opacity="0.8"/>
<path d="M1211.3 678.2L1213.9 683.9L1206.8 682.6Z" fill="#9a9a9a" fill-opacity="0.8"/>
<path d="M1292.8 850.4L1286.6 850.2L1290.9 844.5Z" fill="#6B34A8" fill-opacity="0.8"/>
<path d="M1218.6 920.8L1220.0 914.7L1224.8 920.0Z" fill="#4BE03A" fill-opacity="0.8"/>
<path d="M1214.2 918.3L1211.5 912.5L1218.8 913.9Z" fill="#7067BD" fill-opacity="0.8"/>
<path d="M1295.9 749.0L1297.3 755.2L1290.4 752.4Z" fill="#7c7c7c" fill-opacity="0.8"/>
<path d="M1209.2 919.0L1203.5 916.0L1210.1 912.6Z" fill="#6B34A8" fill-opacity="0.8"/>
<path d="M1308.6 805.9L1310.3 812.2L1303.1 809.5Z" fill="#6a6a6a" fill-opacity="0.8"/>
<path d="M1212.5 918.1L1208.5 912.9L1216.2 912.7Z" fill="#9166E3" fill-opacity="0.8"/>
<path d="M1304.3 795.1L1297.8 796.5L1300.9 789.4Z" fill="#6B34A8" fill-opacity="0.8"/>
<path d="M1309.6 790.6L1304.4 786.4L1312.0 784.3Z" fill="#8DA0CE" fill-opacity="0.8"/>
<path d="M1160.7 919.6L1160.6 912.9L1167.1 917.5Z" fill="#8DA0CE" fill-opacity="0.8"/>
<path d="M1076.2 746.6L1083.0 746.7L1078.2 753.1Z" fill="#6a6a6a" fill-opacity="0.8"/>
<path d="M1305.6 803.8L1304.2 810.5L1298.7 804.4Z" fill="#9a9a9a" fill-opacity="0.8"/>
<path d="M1163.9 925.6L1169.4 920.9L1169.9 929.5Z" fill="#7c7c7c" fill-opacity="0.8"/>
<path d="M1219.6 922.2L1222.5 915.5L1226.8 923.1Z" fill="#6a6a6a" fill-opacity="0.8"/>
<path d="M1156.3 678.4L1160.9 684.1L1152.1 684.4Z" fill="#9a9a9a" fill-opacity="0.8"/>
<path d="M1109.8 701.9L1117.1 703.6L1110.2 709.3Z" fill="#6a6a6a" fill-opacity="0.8"/>
<path d="M1108.4 702.8L1115.1 706.1L1107.2 710.1Z" fill="#7c7c7c" fill-opacity="0.8"/>
<path d="M1074.9 747.9L1082.4 749.6L1075.3 755.5Z" fill="#7c7c7c" fill-opacity="0.8"/>
<path d="M1212.9 678.4L1217.9 684.4L1208.4 684.7Z" fill="#7c7c7c" fill-opacity="0.8"/>
<path d="M1256.3 902.9L1251.8 909.5L1248.7 900.2Z" fill="#9a9a9a" fill-opacity="0.8"/>
<path d="M1163.8 927.2L1170.9 923.2L1169.5 933.2Z" fill="#9a9a9a" fill-opacity="0.8"/>
<path d="M1292.2 858.9L1289.0 867.0L1283.6 857.6Z" fill="#9a9a9a" fill-opacity="0.8"/>
<path d="M1220.2 923.7L1225.1 916.3L1228.5 926.8Z" fill="#7c7c7c" fill-opacity="0.8"/>
<path d="M1163.6 923.8L1168.7 916.6L1171.8 927.2Z" fill="#6a6a6a" fill-opacity="0.8"/>
<path d="M1269.5 895.4L1270.7 886.4L1278.6 894.6Z" fill="#6a6a6a" fill-opacity="0.8"/>
<path d="M1293.3 860.4L1292.1 869.8L1283.9 861.2Z" fill="#7c7c7c" fill-opacity="0.8"/>
<path d="M1152.1 665.1C1123.5 620.5 1163.6 611.4 1157.2 664.0" stroke="#9166E3" stroke-width="1.00" fill="none" stroke-opacity="0.75"/>
<path d="M1211.6 664.0C1205.4 613.3 1244.2 622.2 1216.7 665.1" stroke="#7067BD" stroke-width="0.80" fill="none" stroke-opacity="0.75"/>
<path d="M1099.0 692.7C1060.7 669.1 1088.5 646.8 1103.0 689.4" stroke="#B94EEB" stroke-width="0.80" fill="none" stroke-opacity="0.75"/>
<path d="M1265.8 689.4C1281.2 644.0 1310.7 667.5 1269.8 692.7" stroke="#8DA0CE" stroke-width="0.90" fill="none" stroke-opacity="0.75"/>
<path d="M1062.2 741.1C1018.0 736.5 1033.5 704.4 1064.6 736.1" stroke="#6B34A8" stroke-width="0.80" fill="none" stroke-opacity="0.75"/>
<path d="M1318.7 795.6C1374.1 777.0 1374.1 819.8 1318.7 801.2" stroke="#6fdc5e" stroke-width="7.00" fill="none" stroke-opacity="0.75"/>
<path d="M1306.3 855.7C1358.6 862.9 1342.2 896.9 1304.0 860.5" stroke="#8a8a8a" stroke-width="4.00" fill="none" stroke-opacity="0.75"/>
<path d="M1270.1 904.3C1315.0 935.5 1286.3 958.4 1265.9 907.6" stroke="#8a8a8a" stroke-width="4.50" fill="none" stroke-opacity="0.75"/>
<path d="M1216.9 931.9C1242.8 989.1 1213.0 995.9 1211.6 933.1" stroke="#b0b0b0" stroke-width="9.00" fill="none" stroke-opacity="0.75"/>
<path d="M1157.2 933.1C1160.5 983.8 1127.1 976.1 1151.9 931.9" stroke="#BB8589" stroke-width="1.20" fill="none" stroke-opacity="0.75"/>
<circle cx="1311.6" cy="798.4" r="7.6" fill="#4BE03A"/>
<circle cx="1299.0" cy="741.6" r="7.5" fill="#EDD93C"/>
<circle cx="1263.7" cy="696.1" r="7.0" fill="#8DA0CE"/>
<circle cx="1212.7" cy="670.9" r="7.0" fill="#7067BD"/>
<circle cx="1156.1" cy="670.9" r="7.0" fill="#9166E3"/>
<circle cx="1105.1" cy="696.1" r="7.0" fill="#B94EEB"/>
<circle cx="1069.7" cy="741.7" r="7.6" fill="#6B34A8"/>
<circle cx="1057.2" cy="798.4" r="6.8" fill="#54CCF7"/>
<circle cx="1069.8" cy="855.2" r="6.6" fill="#8CD4F5"/>
<circle cx="1105.1" cy="900.7" r="6.8" fill="#4C72BB"/>
<circle cx="1156.1" cy="925.9" r="7.3" fill="#BB8589"/>
<circle cx="1212.7" cy="925.9" r="7.3" fill="#A6A6A6"/>
<circle cx="1263.7" cy="900.7" r="7.3" fill="#858585"/>
<circle cx="1299.0" cy="855.1" r="7.3" fill="#6A6A6A"/>
<text x="1149.7" y="650.7" font-size="19.2" text-anchor="middle">LP1</text>
<text x="1222.3" y="649.5" font-size="19.2" text-anchor="middle">LPC2</text>
<text x="1088.4" y="683.5" font-size="19.2" text-anchor="middle">LP2</text>
<text x="1285.3" y="679.1" font-size="19.2" text-anchor="middle">LPC1</text>
<text x="1047.0" y="740.6" font-size="19.2" text-anchor="middle">DLC</text>
<text x="1332.8" y="734.5" font-size="19.2" text-anchor="middle">Late FGC</text>
<text x="1034.5" y="810.8" font-size="19.2" text-anchor="middle">SPC</text>
<text x="1349.4" y="803.5" font-size="19.2" text-anchor="middle">Early FGC</text>
<text x="1052.4" y="879.8" font-size="19.2" text-anchor="middle">SC1</text>
<text x="1330.7" y="861.3" font-size="19.2" text-anchor="middle">NK</text>
<text x="1099.5" y="932.8" font-size="19.2" text-anchor="middle">SC2</text>
<text x="1292.5" y="919.2" font-size="19.2" text-anchor="middle">MC</text>
<text x="1164.4" y="958.6" font-size="19.2" text-anchor="middle">PMC</text>
<text x="1232.2" y="955.0" font-size="19.2" text-anchor="middle">EC</text>
<path d="M1503.3 703.3Q1521.0 798.4 1503.9 890.6" stroke="#B94EEB" stroke-width="0.35" fill="none" stroke-opacity="0.62"/>
<path d="M1473.3 857.0Q1544.2 877.3 1601.0 919.4" stroke="#8CD4F5" stroke-width="0.45" fill="none" stroke-opacity="0.62"/>
<path d="M1468.1 749.4Q1476.6 798.8 1468.5 845.2" stroke="#6B34A8" stroke-width="0.49" fill="none" stroke-opacity="0.62"/>
<path d="M1469.8 748.9Q1498.9 818.2 1501.6 890.3" stroke="#6B34A8" stroke-width="0.51" fill="none" stroke-opacity="0.62"/>
<path d="M1607.8 678.0Q1577.5 795.9 1508.1 892.3" stroke="#7067BD" stroke-width="0.53" fill="none" stroke-opacity="0.62"/>
<path d="M1653.0 900.4Q1559.2 895.9 1475.9 859.3" stroke="#7c7c7c" stroke-width="0.54" fill="none" stroke-opacity="0.62"/>
<path d="M1508.9 899.3Q1581.0 886.2 1650.0 898.7" stroke="#4C72BB" stroke-width="0.56" fill="none" stroke-opacity="0.62"/>
<path d="M1657.3 702.7Q1600.7 813.4 1509.8 893.8" stroke="#8DA0CE" stroke-width="0.58" fill="none" stroke-opacity="0.62"/>
<path d="M1688.4 854.9Q1569.5 849.6 1463.5 802.6" stroke="#6a6a6a" stroke-width="0.58" fill="none" stroke-opacity="0.62"/>
<path d="M1546.3 922.3Q1503.4 898.0 1473.2 862.9" stroke="#BB8589" stroke-width="0.59" fill="none" stroke-opacity="0.62"/>
<path d="M1552.8 678.2Q1549.1 790.6 1506.1 891.1" stroke="#9166E3" stroke-width="0.63" fill="none" stroke-opacity="0.62"/>
<path d="M1466.3 749.5Q1464.7 771.3 1458.0 788.8" stroke="#6B34A8" stroke-width="0.65" fill="none" stroke-opacity="0.62"/>
<path d="M1556.4 919.1Q1607.1 820.6 1687.6 749.0" stroke="#BB8589" stroke-width="0.67" fill="none" stroke-opacity="0.62"/>
<path d="M1508.4 897.8Q1594.4 860.0 1685.0 855.6" stroke="#4C72BB" stroke-width="0.67" fill="none" stroke-opacity="0.62"/>
<path d="M1508.8 902.7Q1529.1 909.2 1544.1 919.5" stroke="#4C72BB" stroke-width="0.68" fill="none" stroke-opacity="0.62"/>
<path d="M1461.1 798.7Q1580.0 803.9 1686.0 850.7" stroke="#54CCF7" stroke-width="0.70" fill="none" stroke-opacity="0.62"/>
<path d="M1550.0 919.0Q1505.9 815.8 1502.3 706.8" stroke="#BB8589" stroke-width="0.71" fill="none" stroke-opacity="0.62"/>
<path d="M1559.9 922.9Q1604.5 903.9 1649.7 901.2" stroke="#BB8589" stroke-width="0.73" fill="none" stroke-opacity="0.62"/>
<path d="M1460.3 801.8Q1543.4 847.5 1602.6 917.5" stroke="#54CCF7" stroke-width="0.73" fill="none" stroke-opacity="0.62"/>
<path d="M1545.7 923.8Q1525.4 917.2 1510.4 906.8" stroke="#BB8589" stroke-width="0.74" fill="none" stroke-opacity="0.62"/>
<path d="M1473.5 855.4Q1567.4 859.8 1650.6 896.2" stroke="#8CD4F5" stroke-width="0.75" fill="none" stroke-opacity="0.62"/>
<path d="M1689.0 858.3Q1603.0 896.0 1512.4 900.2" stroke="#6a6a6a" stroke-width="0.75" fill="none" stroke-opacity="0.62"/>
<path d="M1460.9 800.3Q1566.6 830.0 1651.9 894.0" stroke="#54CCF7" stroke-width="0.76" fill="none" stroke-opacity="0.62"/>
<path d="M1603.8 675.3Q1544.9 719.1 1477.5 738.6" stroke="#7067BD" stroke-width="0.80" fill="none" stroke-opacity="0.62"/>
<path d="M1698.9 748.9Q1706.6 768.9 1707.9 787.1" stroke="#EDD93C" stroke-width="0.81" fill="none" stroke-opacity="0.62"/>
<path d="M1653.2 902.1Q1581.2 915.1 1512.3 902.6" stroke="#7c7c7c" stroke-width="0.81" fill="none" stroke-opacity="0.62"/>
<path d="M1708.2 806.3Q1706.6 827.8 1700.1 844.9" stroke="#4BE03A" stroke-width="0.86" fill="none" stroke-opacity="0.62"/>
<path d="M1602.9 922.3Q1519.9 876.5 1460.8 806.5" stroke="#9a9a9a" stroke-width="0.87" fill="none" stroke-opacity="0.62"/>
<path d="M1653.5 697.5Q1581.4 710.6 1512.5 698.1" stroke="#8DA0CE" stroke-width="0.90" fill="none" stroke-opacity="0.62"/>
<path d="M1498.5 702.6Q1488.1 721.3 1475.0 733.9" stroke="#B94EEB" stroke-width="0.90" fill="none" stroke-opacity="0.62"/>
<path d="M1616.0 674.4Q1658.7 698.5 1688.7 733.1" stroke="#7067BD" stroke-width="0.90" fill="none" stroke-opacity="0.62"/>
<path d="M1602.4 672.1Q1581.4 675.3 1563.6 672.6" stroke="#7067BD" stroke-width="0.93" fill="none" stroke-opacity="0.62"/>
<path d="M1697.4 749.3Q1705.9 798.4 1697.9 844.3" stroke="#EDD93C" stroke-width="0.95" fill="none" stroke-opacity="0.62"/>
<path d="M1695.7 749.4Q1692.8 824.4 1665.0 890.5" stroke="#EDD93C" stroke-width="0.96" fill="none" stroke-opacity="0.62"/>
<path d="M1509.2 696.4Q1602.8 700.8 1685.7 737.1" stroke="#B94EEB" stroke-width="0.96" fill="none" stroke-opacity="0.62"/>
<path d="M1553.2 918.3Q1557.2 793.0 1605.3 680.8" stroke="#BB8589" stroke-width="0.96" fill="none" stroke-opacity="0.62"/>
<path d="M1508.6 693.2Q1553.5 674.1 1598.8 671.4" stroke="#B94EEB" stroke-width="1.00" fill="none" stroke-opacity="0.62"/>
<path d="M1688.5 856.6Q1581.1 876.7 1476.9 857.1" stroke="#6a6a6a" stroke-width="1.01" fill="none" stroke-opacity="0.62"/>
<path d="M1554.8 918.6Q1585.2 800.8 1654.3 704.9" stroke="#BB8589" stroke-width="1.02" fill="none" stroke-opacity="0.62"/>
<path d="M1461.0 797.1Q1580.8 774.4 1697.3 796.2" stroke="#54CCF7" stroke-width="1.07" fill="none" stroke-opacity="0.62"/>
<path d="M1459.4 803.1Q1515.0 852.9 1547.9 916.0" stroke="#54CCF7" stroke-width="1.08" fill="none" stroke-opacity="0.62"/>
<path d="M1559.4 674.4Q1642.3 720.0 1701.2 789.6" stroke="#9166E3" stroke-width="1.09" fill="none" stroke-opacity="0.62"/>
<path d="M1654.0 699.1Q1568.2 736.8 1478.1 741.2" stroke="#8DA0CE" stroke-width="1.11" fill="none" stroke-opacity="0.62"/>
<path d="M1507.4 700.9Q1600.5 783.2 1655.6 890.7" stroke="#B94EEB" stroke-width="1.11" fill="none" stroke-opacity="0.62"/>
<path d="M1666.0 701.0Q1681.6 715.9 1690.5 731.7" stroke="#8DA0CE" stroke-width="1.11" fill="none" stroke-opacity="0.62"/>
<path d="M1548.3 676.5Q1516.3 713.6 1476.6 736.1" stroke="#9166E3" stroke-width="1.11" fill="none" stroke-opacity="0.62"/>
<path d="M1473.6 745.4Q1578.6 802.9 1653.5 892.1" stroke="#6B34A8" stroke-width="1.14" fill="none" stroke-opacity="0.62"/>
<path d="M1551.5 918.5Q1528.9 798.4 1550.9 681.5" stroke="#BB8589" stroke-width="1.14" fill="none" stroke-opacity="0.62"/>
<path d="M1557.8 920.1Q1618.8 847.9 1698.5 803.9" stroke="#BB8589" stroke-width="1.16" fill="none" stroke-opacity="0.62"/>
<path d="M1664.9 702.1Q1693.4 742.7 1705.6 787.3" stroke="#8DA0CE" stroke-width="1.19" fill="none" stroke-opacity="0.62"/>
<path d="M1470.4 734.7Q1480.9 716.0 1494.0 703.5" stroke="#6B34A8" stroke-width="1.20" fill="none" stroke-opacity="0.62"/>
<path d="M1602.9 673.8Q1558.1 692.9 1512.8 695.6" stroke="#7067BD" stroke-width="1.21" fill="none" stroke-opacity="0.62"/>
<path d="M1547.1 675.2Q1529.5 687.4 1512.4 693.0" stroke="#9166E3" stroke-width="1.22" fill="none" stroke-opacity="0.62"/>
<path d="M1506.3 702.0Q1577.4 800.7 1606.9 915.1" stroke="#B94EEB" stroke-width="1.22" fill="none" stroke-opacity="0.62"/>
<path d="M1560.3 671.2Q1608.9 674.0 1650.6 691.8" stroke="#9166E3" stroke-width="1.30" fill="none" stroke-opacity="0.62"/>
<path d="M1705.5 791.1Q1697.9 771.0 1696.6 753.1" stroke="#4BE03A" stroke-width="1.32" fill="none" stroke-opacity="0.62"/>
<path d="M1701.6 794.6Q1618.8 748.9 1560.0 679.3" stroke="#4BE03A" stroke-width="1.35" fill="none" stroke-opacity="0.62"/>
<path d="M1602.3 923.9Q1531.5 903.5 1475.1 861.5" stroke="#9a9a9a" stroke-width="1.36" fill="none" stroke-opacity="0.62"/>
<path d="M1602.0 925.6Q1553.4 922.7 1511.8 905.0" stroke="#9a9a9a" stroke-width="1.41" fill="none" stroke-opacity="0.62"/>
<path d="M1554.4 678.0Q1577.0 798.2 1555.1 914.8" stroke="#9166E3" stroke-width="1.44" fill="none" stroke-opacity="0.62"/>
<path d="M1560.5 924.6Q1581.2 921.6 1598.5 924.1" stroke="#BB8589" stroke-width="1.44" fill="none" stroke-opacity="0.62"/>
<path d="M1612.5 677.6Q1656.7 780.7 1660.3 889.4" stroke="#7067BD" stroke-width="1.44" fill="none" stroke-opacity="0.62"/>
<path d="M1473.9 738.4Q1559.6 700.9 1649.7 696.6" stroke="#6B34A8" stroke-width="1.45" fill="none" stroke-opacity="0.62"/>
<path d="M1547.3 920.9Q1491.8 871.1 1459.0 808.0" stroke="#BB8589" stroke-width="1.46" fill="none" stroke-opacity="0.62"/>
<path d="M1471.7 735.6Q1503.8 698.6 1543.4 676.2" stroke="#6B34A8" stroke-width="1.47" fill="none" stroke-opacity="0.62"/>
<path d="M1609.4 678.2Q1605.5 803.5 1557.5 915.5" stroke="#7067BD" stroke-width="1.49" fill="none" stroke-opacity="0.62"/>
<path d="M1560.0 672.8Q1630.6 693.1 1686.7 734.7" stroke="#9166E3" stroke-width="1.49" fill="none" stroke-opacity="0.62"/>
<path d="M1660.4 703.4Q1656.8 815.6 1614.1 915.5" stroke="#8DA0CE" stroke-width="1.49" fill="none" stroke-opacity="0.62"/>
<path d="M1653.3 898.6Q1547.6 868.9 1462.7 804.9" stroke="#7c7c7c" stroke-width="1.49" fill="none" stroke-opacity="0.62"/>
<path d="M1559.0 921.3Q1617.9 877.6 1685.0 858.2" stroke="#BB8589" stroke-width="1.52" fill="none" stroke-opacity="0.62"/>
<path d="M1548.5 919.8Q1492.8 842.0 1469.5 752.9" stroke="#BB8589" stroke-width="1.52" fill="none" stroke-opacity="0.62"/>
<path d="M1653.6 694.1Q1633.3 687.5 1618.6 677.3" stroke="#8DA0CE" stroke-width="1.54" fill="none" stroke-opacity="0.62"/>
<path d="M1702.6 793.2Q1647.3 743.5 1614.7 680.8" stroke="#4BE03A" stroke-width="1.66" fill="none" stroke-opacity="0.62"/>
<path d="M1702.3 803.2Q1614.6 869.0 1512.5 897.7" stroke="#4BE03A" stroke-width="1.81" fill="none" stroke-opacity="0.62"/>
<path d="M1705.0 805.4Q1670.6 871.2 1618.2 918.3" stroke="#4BE03A" stroke-width="1.82" fill="none" stroke-opacity="0.62"/>
<path d="M1663.5 702.8Q1692.8 772.2 1695.6 843.7" stroke="#8DA0CE" stroke-width="1.88" fill="none" stroke-opacity="0.62"/>
<path d="M1700.7 798.1Q1582.4 792.8 1477.5 746.5" stroke="#4BE03A" stroke-width="1.98" fill="none" stroke-opacity="0.62"/>
<path d="M1700.9 796.3Q1595.5 766.5 1510.9 702.9" stroke="#4BE03A" stroke-width="2.01" fill="none" stroke-opacity="0.62"/>
<path d="M1609.8 918.3Q1613.6 806.2 1656.2 706.5" stroke="#9a9a9a" stroke-width="2.01" fill="none" stroke-opacity="0.62"/>
<path d="M1474.4 740.2Q1581.2 720.2 1684.4 739.4" stroke="#6B34A8" stroke-width="2.02" fill="none" stroke-opacity="0.62"/>
<path d="M1703.5 804.5Q1642.5 876.6 1563.2 920.4" stroke="#4BE03A" stroke-width="2.03" fill="none" stroke-opacity="0.62"/>
<path d="M1472.9 736.9Q1531.9 693.2 1598.7 673.9" stroke="#6B34A8" stroke-width="2.07" fill="none" stroke-opacity="0.62"/>
<path d="M1474.3 743.7Q1592.0 776.8 1686.7 848.1" stroke="#6B34A8" stroke-width="2.08" fill="none" stroke-opacity="0.62"/>
<path d="M1694.6 847.7Q1686.0 798.6 1693.8 753.3" stroke="#6a6a6a" stroke-width="2.11" fill="none" stroke-opacity="0.62"/>
<path d="M1603.9 920.9Q1521.0 847.4 1472.1 752.3" stroke="#9a9a9a" stroke-width="2.12" fill="none" stroke-opacity="0.62"/>
<path d="M1611.0 678.0Q1633.7 798.2 1611.8 914.5" stroke="#7067BD" stroke-width="2.22" fill="none" stroke-opacity="0.62"/>
<path d="M1560.2 669.6Q1581.2 666.5 1598.4 669.0" stroke="#9166E3" stroke-width="2.29" fill="none" stroke-opacity="0.62"/>
<path d="M1653.3 695.8Q1604.7 693.0 1563.4 675.4" stroke="#8DA0CE" stroke-width="2.30" fill="none" stroke-opacity="0.62"/>
<path d="M1616.6 672.9Q1637.0 679.5 1651.4 689.5" stroke="#7067BD" stroke-width="2.31" fill="none" stroke-opacity="0.62"/>
<path d="M1558.5 675.7Q1641.6 749.4 1690.6 844.7" stroke="#9166E3" stroke-width="2.31" fill="none" stroke-opacity="0.62"/>
<path d="M1689.3 851.5Q1583.9 793.9 1509.3 704.9" stroke="#6a6a6a" stroke-width="2.32" fill="none" stroke-opacity="0.62"/>
<path d="M1509.0 698.1Q1614.5 727.7 1698.9 791.1" stroke="#B94EEB" stroke-width="2.40" fill="none" stroke-opacity="0.62"/>
<path d="M1662.5 893.3Q1675.6 845.6 1701.5 808.3" stroke="#7c7c7c" stroke-width="2.54" fill="none" stroke-opacity="0.62"/>
<path d="M1507.8 691.8Q1525.4 679.6 1542.0 674.2" stroke="#B94EEB" stroke-width="2.55" fill="none" stroke-opacity="0.62"/>
<path d="M1688.6 853.1Q1570.8 820.1 1476.3 749.0" stroke="#6a6a6a" stroke-width="2.57" fill="none" stroke-opacity="0.62"/>
<path d="M1509.1 694.8Q1581.2 681.7 1649.3 694.0" stroke="#B94EEB" stroke-width="2.62" fill="none" stroke-opacity="0.62"/>
<path d="M1662.0 703.3Q1679.7 798.2 1662.9 889.0" stroke="#8DA0CE" stroke-width="2.70" fill="none" stroke-opacity="0.62"/>
<path d="M1703.9 792.0Q1675.6 751.3 1663.6 707.4" stroke="#4BE03A" stroke-width="2.72" fill="none" stroke-opacity="0.62"/>
<path d="M1706.6 806.0Q1693.5 853.8 1667.5 890.9" stroke="#4BE03A" stroke-width="2.75" fill="none" stroke-opacity="0.62"/>
<path d="M1605.1 919.8Q1534.1 821.1 1504.8 707.4" stroke="#9a9a9a" stroke-width="2.78" fill="none" stroke-opacity="0.62"/>
<path d="M1557.3 676.8Q1628.4 775.4 1657.7 889.1" stroke="#9166E3" stroke-width="2.80" fill="none" stroke-opacity="0.62"/>
<path d="M1613.9 676.8Q1669.8 754.8 1693.0 843.6" stroke="#7067BD" stroke-width="2.81" fill="none" stroke-opacity="0.62"/>
<path d="M1555.9 677.6Q1605.3 792.8 1609.3 914.0" stroke="#9166E3" stroke-width="2.82" fill="none" stroke-opacity="0.62"/>
<path d="M1658.9 703.2Q1628.6 821.0 1560.0 916.2" stroke="#8DA0CE" stroke-width="2.90" fill="none" stroke-opacity="0.62"/>
<path d="M1656.2 894.5Q1585.1 795.9 1555.9 682.2" stroke="#7c7c7c" stroke-width="2.92" fill="none" stroke-opacity="0.62"/>
<path d="M1472.6 746.9Q1555.4 820.4 1604.2 915.2" stroke="#6B34A8" stroke-width="2.98" fill="none" stroke-opacity="0.62"/>
<path d="M1608.2 918.5Q1585.6 798.4 1607.4 682.5" stroke="#9a9a9a" stroke-width="3.11" fill="none" stroke-opacity="0.62"/>
<path d="M1690.2 850.1Q1607.1 776.4 1558.4 681.5" stroke="#6a6a6a" stroke-width="3.27" fill="none" stroke-opacity="0.62"/>
<path d="M1508.4 699.6Q1613.8 757.2 1688.2 845.8" stroke="#B94EEB" stroke-width="3.29" fill="none" stroke-opacity="0.62"/>
<path d="M1615.1 675.7Q1670.5 725.3 1702.8 787.2" stroke="#7067BD" stroke-width="3.45" fill="none" stroke-opacity="0.62"/>
<path d="M1504.9 702.8Q1549.0 806.0 1552.6 913.7" stroke="#B94EEB" stroke-width="3.48" fill="none" stroke-opacity="0.62"/>
<path d="M1657.6 893.7Q1613.5 790.5 1610.0 682.9" stroke="#7c7c7c" stroke-width="3.56" fill="none" stroke-opacity="0.62"/>
<path d="M1659.2 893.2Q1641.6 798.3 1658.4 707.9" stroke="#7c7c7c" stroke-width="3.57" fill="none" stroke-opacity="0.62"/>
<path d="M1471.3 748.0Q1526.9 825.8 1549.9 914.0" stroke="#6B34A8" stroke-width="3.62" fill="none" stroke-opacity="0.62"/>
<path d="M1474.5 742.0Q1592.8 747.3 1697.0 793.2" stroke="#6B34A8" stroke-width="3.64" fill="none" stroke-opacity="0.62"/>
<path d="M1692.9 848.2Q1663.8 778.8 1661.0 708.3" stroke="#6a6a6a" stroke-width="3.80" fill="none" stroke-opacity="0.62"/>
<path d="M1613.1 919.1Q1647.3 853.4 1699.0 806.9" stroke="#9a9a9a" stroke-width="4.03" fill="none" stroke-opacity="0.62"/>
<path d="M1602.1 927.2Q1581.4 930.3 1565.4 927.9" stroke="#9a9a9a" stroke-width="4.06" fill="none" stroke-opacity="0.62"/>
<path d="M1696.3 847.6Q1697.8 826.0 1703.8 810.4" stroke="#6a6a6a" stroke-width="4.28" fill="none" stroke-opacity="0.62"/>
<path d="M1606.6 919.0Q1557.2 803.7 1553.3 683.4" stroke="#9a9a9a" stroke-width="4.53" fill="none" stroke-opacity="0.62"/>
<path d="M1691.5 849.0Q1635.6 771.0 1612.7 683.0" stroke="#6a6a6a" stroke-width="4.54" fill="none" stroke-opacity="0.62"/>
<path d="M1654.5 905.1Q1637.2 917.2 1621.9 922.1" stroke="#7c7c7c" stroke-width="4.72" fill="none" stroke-opacity="0.62"/>
<path d="M1660.9 893.1Q1663.8 818.1 1690.8 753.8" stroke="#7c7c7c" stroke-width="5.04" fill="none" stroke-opacity="0.62"/>
<path d="M1692.4 861.9Q1681.9 880.6 1670.2 891.8" stroke="#6a6a6a" stroke-width="5.06" fill="none" stroke-opacity="0.62"/>
<path d="M1654.0 897.1Q1548.9 839.6 1475.2 751.9" stroke="#7c7c7c" stroke-width="5.14" fill="none" stroke-opacity="0.62"/>
<path d="M1654.9 895.7Q1562.0 813.3 1507.7 707.5" stroke="#7c7c7c" stroke-width="5.15" fill="none" stroke-opacity="0.62"/>
<path d="M1611.5 918.6Q1635.6 826.0 1688.2 752.4" stroke="#9a9a9a" stroke-width="5.24" fill="none" stroke-opacity="0.62"/>
<path d="M1691.1 861.0Q1659.0 898.0 1621.1 919.5" stroke="#6a6a6a" stroke-width="5.33" fill="none" stroke-opacity="0.62"/>
<path d="M1664.2 893.9Q1674.7 875.3 1686.3 864.1" stroke="#7c7c7c" stroke-width="5.41" fill="none" stroke-opacity="0.62"/>
<path d="M1615.8 921.4Q1633.1 909.4 1647.8 904.6" stroke="#9a9a9a" stroke-width="5.97" fill="none" stroke-opacity="0.62"/>
<path d="M1689.9 859.7Q1631.0 903.5 1566.2 922.2" stroke="#6a6a6a" stroke-width="6.49" fill="none" stroke-opacity="0.62"/>
<path d="M1653.7 903.7Q1609.1 922.7 1566.9 925.2" stroke="#7c7c7c" stroke-width="6.94" fill="none" stroke-opacity="0.62"/>
<path d="M1614.5 920.1Q1646.5 883.1 1683.4 862.2" stroke="#9a9a9a" stroke-width="7.93" fill="none" stroke-opacity="0.62"/>
<path d="M1503.3 893.5L1501.9 889.5L1506.1 890.2Z" fill="#B94EEB" fill-opacity="0.8"/>
<path d="M1603.4 921.2L1599.1 920.7L1601.7 917.2Z" fill="#8CD4F5" fill-opacity="0.8"/>
<path d="M1468.0 848.2L1466.4 844.1L1470.8 844.8Z" fill="#6B34A8" fill-opacity="0.8"/>
<path d="M1501.7 893.4L1499.4 889.7L1503.8 889.5Z" fill="#6B34A8" fill-opacity="0.8"/>
<path d="M1506.3 894.8L1506.7 890.3L1510.3 893.0Z" fill="#7067BD" fill-opacity="0.8"/>
<path d="M1473.1 858.1L1477.5 857.5L1475.7 861.7Z" fill="#7c7c7c" fill-opacity="0.8"/>
<path d="M1653.0 899.2L1648.8 900.8L1649.6 896.3Z" fill="#4C72BB" fill-opacity="0.8"/>
<path d="M1507.5 895.9L1508.8 891.6L1511.9 895.0Z" fill="#8DA0CE" fill-opacity="0.8"/>
<path d="M1460.7 801.4L1465.2 800.9L1463.3 805.1Z" fill="#6a6a6a" fill-opacity="0.8"/>
<path d="M1471.2 860.6L1475.5 862.0L1472.0 865.0Z" fill="#BB8589" fill-opacity="0.8"/>
<path d="M1504.9 894.0L1504.3 889.5L1508.5 891.3Z" fill="#9166E3" fill-opacity="0.8"/>
<path d="M1456.8 791.7L1456.1 787.2L1460.4 788.9Z" fill="#6B34A8" fill-opacity="0.8"/>
<path d="M1689.9 746.9L1688.6 751.3L1685.5 747.8Z" fill="#BB8589" fill-opacity="0.8"/>
<path d="M1688.2 855.5L1684.4 858.0L1684.1 853.3Z" fill="#4C72BB" fill-opacity="0.8"/>
<path d="M1546.7 921.3L1542.1 921.0L1544.8 917.2Z" fill="#4C72BB" fill-opacity="0.8"/>
<path d="M1688.8 852.0L1684.3 852.5L1686.2 848.2Z" fill="#54CCF7" fill-opacity="0.8"/>
<path d="M1502.2 703.6L1504.7 707.5L1499.9 707.6Z" fill="#BB8589" fill-opacity="0.8"/>
<path d="M1652.9 901.0L1649.1 903.6L1648.8 898.9Z" fill="#BB8589" fill-opacity="0.8"/>
<path d="M1604.6 919.9L1600.3 918.5L1603.9 915.4Z" fill="#54CCF7" fill-opacity="0.8"/>
<path d="M1507.9 905.0L1512.5 905.3L1509.7 909.2Z" fill="#BB8589" fill-opacity="0.8"/>
<path d="M1653.5 897.5L1648.9 898.1L1650.9 893.7Z" fill="#8CD4F5" fill-opacity="0.8"/>
<path d="M1509.3 900.4L1513.1 897.8L1513.3 902.6Z" fill="#6a6a6a" fill-opacity="0.8"/>
<path d="M1654.4 895.9L1649.8 895.5L1652.7 891.6Z" fill="#54CCF7" fill-opacity="0.8"/>
<path d="M1474.5 739.5L1477.6 736.0L1478.9 740.7Z" fill="#7067BD" fill-opacity="0.8"/>
<path d="M1708.2 790.3L1705.4 786.5L1710.3 786.2Z" fill="#EDD93C" fill-opacity="0.8"/>
<path d="M1509.1 902.0L1513.5 900.4L1512.6 905.1Z" fill="#7c7c7c" fill-opacity="0.8"/>
<path d="M1698.9 847.9L1698.0 843.3L1702.7 845.1Z" fill="#4BE03A" fill-opacity="0.8"/>
<path d="M1458.7 804.0L1463.2 805.5L1459.4 808.7Z" fill="#9a9a9a" fill-opacity="0.8"/>
<path d="M1509.3 697.5L1513.7 695.8L1512.9 700.7Z" fill="#8DA0CE" fill-opacity="0.8"/>
<path d="M1472.6 736.2L1473.8 731.6L1477.3 735.2Z" fill="#B94EEB" fill-opacity="0.8"/>
<path d="M1690.8 735.5L1686.3 734.1L1690.0 730.8Z" fill="#7067BD" fill-opacity="0.8"/>
<path d="M1560.4 672.2L1564.7 670.3L1564.0 675.2Z" fill="#7067BD" fill-opacity="0.8"/>
<path d="M1697.4 847.5L1695.6 843.0L1700.6 843.9Z" fill="#EDD93C" fill-opacity="0.8"/>
<path d="M1663.7 893.5L1663.0 888.8L1667.6 890.7Z" fill="#EDD93C" fill-opacity="0.8"/>
<path d="M1688.6 738.4L1683.9 739.1L1685.9 734.4Z" fill="#B94EEB" fill-opacity="0.8"/>
<path d="M1606.6 677.8L1607.3 682.5L1602.7 680.5Z" fill="#BB8589" fill-opacity="0.8"/>
<path d="M1602.1 671.2L1598.2 674.0L1597.9 668.9Z" fill="#B94EEB" fill-opacity="0.8"/>
<path d="M1473.6 856.5L1478.1 854.7L1477.2 859.8Z" fill="#6a6a6a" fill-opacity="0.8"/>
<path d="M1656.2 702.2L1655.9 707.0L1651.7 704.0Z" fill="#BB8589" fill-opacity="0.8"/>
<path d="M1700.6 796.9L1696.0 798.6L1697.0 793.5Z" fill="#54CCF7" fill-opacity="0.8"/>
<path d="M1549.4 919.0L1545.2 916.5L1549.8 914.1Z" fill="#54CCF7" fill-opacity="0.8"/>
<path d="M1703.4 792.2L1698.7 790.7L1702.7 787.3Z" fill="#9166E3" fill-opacity="0.8"/>
<path d="M1474.7 741.3L1478.8 738.5L1479.0 743.7Z" fill="#8DA0CE" fill-opacity="0.8"/>
<path d="M1657.1 893.7L1652.9 891.2L1657.6 888.8Z" fill="#B94EEB" fill-opacity="0.8"/>
<path d="M1692.2 734.6L1687.9 732.3L1692.4 729.7Z" fill="#8DA0CE" fill-opacity="0.8"/>
<path d="M1473.7 737.7L1476.1 733.4L1478.7 738.0Z" fill="#9166E3" fill-opacity="0.8"/>
<path d="M1655.7 894.7L1650.9 893.2L1655.0 889.8Z" fill="#6B34A8" fill-opacity="0.8"/>
<path d="M1551.5 678.2L1553.4 682.8L1548.2 681.9Z" fill="#BB8589" fill-opacity="0.8"/>
<path d="M1701.4 802.3L1699.0 806.6L1696.5 802.0Z" fill="#BB8589" fill-opacity="0.8"/>
<path d="M1706.5 790.6L1702.8 787.2L1708.0 785.8Z" fill="#8DA0CE" fill-opacity="0.8"/>
<path d="M1496.4 701.2L1495.2 706.0L1491.5 702.2Z" fill="#6B34A8" fill-opacity="0.8"/>
<path d="M1509.4 695.8L1513.5 692.9L1513.8 698.2Z" fill="#7067BD" fill-opacity="0.8"/>
<path d="M1509.1 694.0L1512.3 690.2L1514.0 695.3Z" fill="#9166E3" fill-opacity="0.8"/>
<path d="M1607.7 918.4L1604.1 914.9L1609.3 913.6Z" fill="#B94EEB" fill-opacity="0.8"/>
<path d="M1653.8 693.1L1648.8 694.0L1650.9 688.9Z" fill="#9166E3" fill-opacity="0.8"/>
<path d="M1696.3 749.6L1699.4 753.7L1693.9 754.1Z" fill="#4BE03A" fill-opacity="0.8"/>
<path d="M1557.8 676.6L1562.7 678.2L1558.4 681.7Z" fill="#4BE03A" fill-opacity="0.8"/>
<path d="M1472.3 859.4L1477.4 859.8L1474.1 864.3Z" fill="#9a9a9a" fill-opacity="0.8"/>
<path d="M1508.6 903.6L1513.7 902.7L1511.5 907.9Z" fill="#9a9a9a" fill-opacity="0.8"/>
<path d="M1554.5 918.3L1552.5 913.5L1558.1 914.5Z" fill="#9166E3" fill-opacity="0.8"/>
<path d="M1601.9 924.6L1597.2 926.8L1598.0 921.2Z" fill="#BB8589" fill-opacity="0.8"/>
<path d="M1660.4 892.9L1657.4 888.6L1663.1 888.4Z" fill="#7067BD" fill-opacity="0.8"/>
<path d="M1653.1 696.4L1648.9 699.5L1648.6 693.8Z" fill="#6B34A8" fill-opacity="0.8"/>
<path d="M1457.4 804.9L1461.9 807.5L1456.9 810.1Z" fill="#BB8589" fill-opacity="0.8"/>
<path d="M1546.4 674.5L1544.0 679.1L1541.2 674.2Z" fill="#6B34A8" fill-opacity="0.8"/>
<path d="M1556.1 918.8L1555.2 913.6L1560.5 915.9Z" fill="#7067BD" fill-opacity="0.8"/>
<path d="M1689.6 736.8L1684.3 736.5L1687.7 731.9Z" fill="#9166E3" fill-opacity="0.8"/>
<path d="M1612.7 918.8L1611.8 913.6L1617.1 915.8Z" fill="#8DA0CE" fill-opacity="0.8"/>
<path d="M1459.9 802.8L1465.1 803.2L1461.6 807.8Z" fill="#7c7c7c" fill-opacity="0.8"/>
<path d="M1688.4 857.2L1685.0 861.2L1683.4 855.7Z" fill="#BB8589" fill-opacity="0.8"/>
<path d="M1468.6 749.5L1472.5 753.0L1467.0 754.5Z" fill="#BB8589" fill-opacity="0.8"/>
<path d="M1615.7 675.3L1620.9 675.5L1617.7 680.2Z" fill="#8DA0CE" fill-opacity="0.8"/>
<path d="M1613.0 677.6L1617.7 680.2L1612.5 682.9Z" fill="#4BE03A" fill-opacity="0.8"/>
<path d="M1509.0 898.7L1512.6 894.5L1514.2 900.4Z" fill="#4BE03A" fill-opacity="0.8"/>
<path d="M1615.5 920.8L1616.8 915.4L1620.9 920.0Z" fill="#4BE03A" fill-opacity="0.8"/>
<path d="M1695.7 847.4L1692.4 842.8L1698.6 842.6Z" fill="#8DA0CE" fill-opacity="0.8"/>
<path d="M1474.0 745.0L1479.6 744.0L1477.0 749.8Z" fill="#4BE03A" fill-opacity="0.8"/>
<path d="M1507.9 700.7L1513.6 701.0L1509.8 706.1Z" fill="#4BE03A" fill-opacity="0.8"/>
<path d="M1657.6 703.0L1658.7 708.6L1652.9 706.1Z" fill="#9a9a9a" fill-opacity="0.8"/>
<path d="M1688.1 740.1L1682.9 742.4L1684.0 736.1Z" fill="#6B34A8" fill-opacity="0.8"/>
<path d="M1559.8 922.2L1562.4 917.1L1565.5 922.7Z" fill="#4BE03A" fill-opacity="0.8"/>
<path d="M1602.4 672.9L1598.7 677.3L1596.9 671.1Z" fill="#6B34A8" fill-opacity="0.8"/>
<path d="M1689.7 850.4L1684.0 850.1L1687.9 845.0Z" fill="#6B34A8" fill-opacity="0.8"/>
<path d="M1694.5 749.5L1696.9 754.8L1690.5 753.7Z" fill="#6a6a6a" fill-opacity="0.8"/>
<path d="M1470.3 748.9L1475.4 751.6L1469.6 754.6Z" fill="#9a9a9a" fill-opacity="0.8"/>
<path d="M1611.1 918.3L1608.7 912.9L1615.3 914.1Z" fill="#7067BD" fill-opacity="0.8"/>
<path d="M1602.2 669.6L1596.9 672.2L1597.9 665.5Z" fill="#9166E3" fill-opacity="0.8"/>
<path d="M1559.8 673.9L1565.7 672.7L1563.0 678.9Z" fill="#8DA0CE" fill-opacity="0.8"/>
<path d="M1654.6 691.7L1648.6 691.7L1652.5 686.1Z" fill="#7067BD" fill-opacity="0.8"/>
<path d="M1692.4 848.2L1687.2 845.4L1693.2 842.3Z" fill="#9166E3" fill-opacity="0.8"/>
<path d="M1506.7 701.9L1512.5 703.5L1507.3 707.8Z" fill="#6a6a6a" fill-opacity="0.8"/>
<path d="M1702.1 793.5L1696.1 793.3L1700.2 787.8Z" fill="#B94EEB" fill-opacity="0.8"/>
<path d="M1703.8 805.0L1703.9 811.1L1698.1 807.1Z" fill="#7c7c7c" fill-opacity="0.8"/>
<path d="M1545.8 673.0L1542.1 677.9L1539.9 671.2Z" fill="#B94EEB" fill-opacity="0.8"/>
<path d="M1473.1 746.6L1479.3 746.8L1475.0 752.4Z" fill="#6a6a6a" fill-opacity="0.8"/>
<path d="M1653.3 694.7L1647.6 697.3L1648.9 690.3Z" fill="#B94EEB" fill-opacity="0.8"/>
<path d="M1662.1 893.0L1659.5 887.3L1666.6 888.6Z" fill="#8DA0CE" fill-opacity="0.8"/>
<path d="M1662.5 703.4L1667.4 707.4L1660.4 709.3Z" fill="#4BE03A" fill-opacity="0.8"/>
<path d="M1665.2 894.3L1665.1 888.0L1671.1 892.2Z" fill="#4BE03A" fill-opacity="0.8"/>
<path d="M1503.8 703.4L1508.6 707.5L1501.5 709.3Z" fill="#9a9a9a" fill-opacity="0.8"/>
<path d="M1658.7 893.1L1653.9 889.0L1661.0 887.2Z" fill="#9166E3" fill-opacity="0.8"/>
<path d="M1694.0 847.6L1689.2 843.5L1696.3 841.6Z" fill="#7067BD" fill-opacity="0.8"/>
<path d="M1609.4 918.1L1605.5 913.1L1612.9 912.8Z" fill="#9166E3" fill-opacity="0.8"/>
<path d="M1557.6 919.6L1557.6 913.2L1563.7 917.6Z" fill="#8DA0CE" fill-opacity="0.8"/>
<path d="M1554.8 678.2L1559.8 682.3L1552.5 684.2Z" fill="#7c7c7c" fill-opacity="0.8"/>
<path d="M1606.1 919.0L1600.3 916.0L1607.1 912.5Z" fill="#6B34A8" fill-opacity="0.8"/>
<path d="M1608.2 678.2L1611.0 684.2L1603.4 682.8Z" fill="#9a9a9a" fill-opacity="0.8"/>
<path d="M1556.4 677.6L1562.4 680.6L1555.3 684.3Z" fill="#6a6a6a" fill-opacity="0.8"/>
<path d="M1691.0 849.1L1684.4 847.5L1690.5 842.4Z" fill="#B94EEB" fill-opacity="0.8"/>
<path d="M1704.9 791.2L1698.7 788.1L1705.9 784.3Z" fill="#7067BD" fill-opacity="0.8"/>
<path d="M1552.8 918.1L1548.5 912.7L1556.7 912.4Z" fill="#B94EEB" fill-opacity="0.8"/>
<path d="M1609.8 678.4L1614.2 683.9L1605.8 684.1Z" fill="#7c7c7c" fill-opacity="0.8"/>
<path d="M1659.2 703.5L1662.3 709.8L1654.1 708.3Z" fill="#7c7c7c" fill-opacity="0.8"/>
<path d="M1551.1 918.4L1545.6 913.9L1553.7 911.8Z" fill="#6B34A8" fill-opacity="0.8"/>
<path d="M1701.2 795.1L1694.3 796.6L1697.7 788.9Z" fill="#6B34A8" fill-opacity="0.8"/>
<path d="M1660.9 703.6L1665.4 709.2L1656.8 709.6Z" fill="#6a6a6a" fill-opacity="0.8"/>
<path d="M1702.5 803.8L1701.1 811.0L1695.1 804.4Z" fill="#9a9a9a" fill-opacity="0.8"/>
<path d="M1560.7 927.2L1567.2 923.7L1565.9 932.5Z" fill="#9a9a9a" fill-opacity="0.8"/>
<path d="M1705.5 805.9L1707.6 813.2L1699.0 809.9Z" fill="#6a6a6a" fill-opacity="0.8"/>
<path d="M1553.2 678.4L1558.2 684.4L1548.6 684.7Z" fill="#9a9a9a" fill-opacity="0.8"/>
<path d="M1611.5 678.2L1617.7 683.0L1608.4 685.4Z" fill="#6a6a6a" fill-opacity="0.8"/>
<path d="M1617.1 923.7L1621.6 917.1L1624.6 926.4Z" fill="#7c7c7c" fill-opacity="0.8"/>
<path d="M1692.8 749.0L1695.0 757.0L1685.6 753.0Z" fill="#7c7c7c" fill-opacity="0.8"/>
<path d="M1666.4 895.4L1667.6 887.2L1674.7 894.6Z" fill="#6a6a6a" fill-opacity="0.8"/>
<path d="M1471.8 747.9L1480.0 749.6L1472.1 756.3Z" fill="#7c7c7c" fill-opacity="0.8"/>
<path d="M1505.3 702.8L1512.9 706.3L1503.7 711.1Z" fill="#7c7c7c" fill-opacity="0.8"/>
<path d="M1691.2 748.1L1691.6 756.6L1683.1 750.5Z" fill="#9a9a9a" fill-opacity="0.8"/>
<path d="M1616.5 922.2L1619.7 914.3L1624.9 923.5Z" fill="#6a6a6a" fill-opacity="0.8"/>
<path d="M1690.2 860.4L1689.0 868.9L1681.6 861.2Z" fill="#7c7c7c" fill-opacity="0.8"/>
<path d="M1653.2 902.9L1648.2 910.5L1644.7 899.7Z" fill="#9a9a9a" fill-opacity="0.8"/>
<path d="M1560.5 923.8L1565.9 916.0L1569.3 927.6Z" fill="#6a6a6a" fill-opacity="0.8"/>
<path d="M1560.8 925.6L1568.1 918.8L1568.8 931.4Z" fill="#7c7c7c" fill-opacity="0.8"/>
<path d="M1689.1 858.9L1685.3 869.0L1678.5 857.0Z" fill="#9a9a9a" fill-opacity="0.8"/>
<path d="M1549.0 665.1C1520.4 620.5 1560.5 611.4 1554.1 664.0" stroke="#9166E3" stroke-width="1.00" fill="none" stroke-opacity="0.75"/>
<path d="M1608.5 664.0C1602.3 613.3 1641.1 622.2 1613.6 665.1" stroke="#7067BD" stroke-width="0.80" fill="none" stroke-opacity="0.75"/>
<path d="M1495.9 692.7C1457.6 669.1 1485.4 646.8 1499.9 689.4" stroke="#B94EEB" stroke-width="0.80" fill="none" stroke-opacity="0.75"/>
<path d="M1662.7 689.4C1678.1 644.0 1707.6 667.5 1666.7 692.7" stroke="#8DA0CE" stroke-width="0.90" fill="none" stroke-opacity="0.75"/>
<path d="M1459.1 741.1C1414.9 736.5 1430.4 704.4 1461.5 736.1" stroke="#6B34A8" stroke-width="0.80" fill="none" stroke-opacity="0.75"/>
<path d="M1715.6 795.6C1771.0 777.0 1771.0 819.8 1715.6 801.2" stroke="#6fdc5e" stroke-width="7.00" fill="none" stroke-opacity="0.75"/>
<path d="M1703.2 855.7C1757.4 863.1 1740.5 898.3 1700.9 860.5" stroke="#8a8a8a" stroke-width="5.00" fill="none" stroke-opacity="0.75"/>
<path d="M1667.0 904.3C1711.9 935.5 1683.2 958.4 1662.8 907.6" stroke="#8a8a8a" stroke-width="5.00" fill="none" stroke-opacity="0.75"/>
<path d="M1613.8 931.9C1639.7 989.1 1609.9 995.9 1608.5 933.1" stroke="#b0b0b0" stroke-width="9.00" fill="none" stroke-opacity="0.75"/>
<path d="M1554.1 933.1C1557.4 983.8 1524.0 976.1 1548.8 931.9" stroke="#BB8589" stroke-width="1.20" fill="none" stroke-opacity="0.75"/>
<circle cx="1708.5" cy="798.4" r="7.6" fill="#4BE03A"/>
<circle cx="1695.9" cy="741.6" r="7.5" fill="#EDD93C"/>
<circle cx="1660.6" cy="696.1" r="7.0" fill="#8DA0CE"/>
<circle cx="1609.6" cy="670.9" r="7.0" fill="#7067BD"/>
<circle cx="1553.0" cy="670.9" r="7.0" fill="#9166E3"/>
<circle cx="1502.0" cy="696.1" r="7.0" fill="#B94EEB"/>
<circle cx="1466.6" cy="741.7" r="7.6" fill="#6B34A8"/>
<circle cx="1454.1" cy="798.4" r="6.8" fill="#54CCF7"/>
<circle cx="1466.7" cy="855.2" r="6.6" fill="#8CD4F5"/>
<circle cx="1502.0" cy="900.7" r="6.8" fill="#4C72BB"/>
<circle cx="1553.0" cy="925.9" r="7.3" fill="#BB8589"/>
<circle cx="1609.6" cy="925.9" r="7.3" fill="#A6A6A6"/>
<circle cx="1660.6" cy="900.7" r="7.3" fill="#858585"/>
<circle cx="1695.9" cy="855.1" r="7.3" fill="#6A6A6A"/>
<text x="1546.6" y="650.7" font-size="19.2" text-anchor="middle">LP1</text>
<text x="1619.2" y="649.5" font-size="19.2" text-anchor="middle">LPC2</text>
<text x="1485.3" y="683.5" font-size="19.2" text-anchor="middle">LP2</text>
<text x="1682.2" y="679.1" font-size="19.2" text-anchor="middle">LPC1</text>
<text x="1443.9" y="740.6" font-size="19.2" text-anchor="middle">DLC</text>
<text x="1729.7" y="734.5" font-size="19.2" text-anchor="middle">Late FGC</text>
<text x="1431.4" y="810.8" font-size="19.2" text-anchor="middle">SPC</text>
<text x="1746.3" y="803.5" font-size="19.2" text-anchor="middle">Early FGC</text>
<text x="1449.3" y="879.8" font-size="19.2" text-anchor="middle">SC1</text>
<text x="1727.6" y="861.3" font-size="19.2" text-anchor="middle">NK</text>
<text x="1496.4" y="932.8" font-size="19.2" text-anchor="middle">SC2</text>
<text x="1689.4" y="919.2" font-size="19.2" text-anchor="middle">MC</text>
<text x="1561.3" y="958.6" font-size="19.2" text-anchor="middle">PMC</text>
<text x="1629.1" y="955.0" font-size="19.2" text-anchor="middle">EC</text>
<text x="554.2" y="1062.0" font-size="36" font-weight="bold">f</text>
<text x="862.0" y="1070.9" font-size="20.2" text-anchor="middle" font-weight="bold" font-style="italic">TGFB1</text>
<path d="M638.6 1184.2L638.1 1183.1L636.8 1182.1L636.5 1181.0L637.0 1180.0L637.6 1178.9L638.1 1177.9L638.5 1176.8L638.8 1175.7L639.0 1174.7L639.1 1173.6L639.1 1172.6L638.9 1171.5L638.7 1170.4L638.3 1169.4L637.9 1168.3L637.4 1167.3L636.8 1166.2L636.3 1165.2L635.7 1164.1L635.1 1163.0L634.5 1162.0L634.0 1160.9L633.5 1159.9L633.1 1158.8L632.7 1157.8L632.4 1156.7L632.1 1155.6L631.9 1154.6L631.7 1153.5L631.6 1152.5L631.4 1151.4L631.3 1150.3L631.3 1149.3L631.2 1148.2L631.2 1147.2L631.2 1146.1L631.2 1145.1L631.2 1144.0L631.2 1142.9L631.2 1141.9L630.9 1141.9L630.9 1142.9L630.9 1144.0L630.9 1145.1L630.9 1146.1L630.9 1147.2L630.9 1148.2L630.9 1149.3L630.9 1150.3L630.8 1151.4L630.6 1152.5L630.5 1153.5L630.3 1154.6L630.1 1155.6L629.8 1156.7L629.5 1157.8L629.1 1158.8L628.7 1159.9L628.2 1160.9L627.7 1162.0L627.1 1163.0L626.5 1164.1L625.9 1165.2L625.4 1166.2L624.8 1167.3L624.3 1168.3L623.9 1169.4L623.5 1170.4L623.3 1171.5L623.1 1172.6L623.1 1173.6L623.2 1174.7L623.4 1175.7L623.7 1176.8L624.1 1177.9L624.6 1178.9L625.2 1180.0L625.7 1181.0L625.4 1182.1L624.1 1183.1L623.6 1184.2Z" fill="#52BCB8" stroke="#333" stroke-width="0.85"/>
<path d="M652.5 1184.2L652.3 1183.6L651.8 1182.9L651.0 1182.3L650.2 1181.6L649.4 1181.0L648.7 1180.3L648.8 1179.7L649.2 1179.0L649.7 1178.4L650.2 1177.7L650.7 1177.1L651.3 1176.4L652.0 1175.8L652.6 1175.1L653.2 1174.5L653.9 1173.8L654.4 1173.2L654.9 1172.5L655.2 1171.9L655.4 1171.2L655.5 1170.6L655.4 1169.9L655.2 1169.3L654.9 1168.6L654.5 1168.0L653.9 1167.3L653.3 1166.7L652.7 1166.0L652.0 1165.4L651.4 1164.7L650.8 1164.1L650.2 1163.5L649.7 1162.8L649.3 1162.2L648.9 1161.5L648.6 1160.9L648.3 1160.2L648.1 1159.6L647.9 1158.9L647.8 1158.3L647.2 1158.3L647.1 1158.9L646.9 1159.6L646.7 1160.2L646.4 1160.9L646.1 1161.5L645.7 1162.2L645.3 1162.8L644.8 1163.5L644.2 1164.1L643.6 1164.7L643.0 1165.4L642.3 1166.0L641.7 1166.7L641.1 1167.3L640.5 1168.0L640.1 1168.6L639.8 1169.3L639.6 1169.9L639.5 1170.6L639.6 1171.2L639.8 1171.9L640.1 1172.5L640.6 1173.2L641.1 1173.8L641.8 1174.5L642.4 1175.1L643.0 1175.8L643.7 1176.4L644.3 1177.1L644.8 1177.7L645.3 1178.4L645.8 1179.0L646.2 1179.7L646.3 1180.3L645.6 1181.0L644.8 1181.6L644.0 1182.3L643.2 1182.9L642.7 1183.6L642.5 1184.2Z" fill="#D8B62C" stroke="#333" stroke-width="0.85"/>
<path d="M672.9 1184.2L672.4 1183.3L671.0 1182.5L669.4 1181.6L668.2 1180.8L667.5 1179.9L667.1 1179.1L667.1 1178.2L667.1 1177.4L667.1 1176.5L667.1 1175.7L667.1 1174.8L667.1 1174.0L667.1 1173.1L667.1 1172.3L667.1 1171.4L667.2 1170.5L667.6 1169.7L668.1 1168.8L668.4 1168.0L668.3 1167.1L667.8 1166.3L667.4 1165.4L667.1 1164.6L667.1 1163.7L667.1 1162.9L667.1 1162.0L667.1 1161.2L667.1 1160.3L667.1 1159.5L667.1 1158.6L667.1 1157.8L667.1 1156.9L667.1 1156.0L667.1 1155.2L667.1 1154.3L667.1 1153.5L667.1 1152.6L667.1 1151.8L667.1 1150.9L667.1 1150.1L666.8 1150.1L666.8 1150.9L666.8 1151.8L666.8 1152.6L666.8 1153.5L666.8 1154.3L666.8 1155.2L666.8 1156.0L666.8 1156.9L666.8 1157.8L666.8 1158.6L666.8 1159.5L666.8 1160.3L666.8 1161.2L666.8 1162.0L666.8 1162.9L666.8 1163.7L666.8 1164.6L666.5 1165.4L666.0 1166.3L665.6 1167.1L665.4 1168.0L665.7 1168.8L666.2 1169.7L666.6 1170.5L666.8 1171.4L666.8 1172.3L666.8 1173.1L666.8 1174.0L666.8 1174.8L666.8 1175.7L666.8 1176.5L666.8 1177.4L666.8 1178.2L666.8 1179.1L666.4 1179.9L665.7 1180.8L664.4 1181.6L662.9 1182.5L661.5 1183.3L660.9 1184.2Z" fill="#52BCB8" stroke="#333" stroke-width="0.85"/>
<path d="M691.3 1184.2L690.5 1183.1L688.5 1182.0L686.3 1180.9L684.7 1179.8L683.8 1178.7L683.5 1177.6L683.5 1176.6L683.5 1175.5L683.6 1174.4L684.1 1173.3L684.7 1172.2L685.3 1171.1L685.3 1170.0L684.7 1168.9L684.1 1167.8L683.6 1166.7L683.5 1165.6L683.5 1164.5L683.5 1163.5L683.5 1162.4L683.5 1161.3L683.5 1160.2L683.5 1159.1L683.5 1158.0L683.5 1156.9L683.5 1155.8L683.5 1154.7L683.5 1153.6L683.5 1152.5L683.5 1151.4L683.5 1150.3L683.5 1149.3L683.5 1148.2L683.5 1147.1L683.5 1146.0L683.5 1144.9L683.5 1143.8L683.5 1142.7L683.5 1141.6L683.5 1140.5L683.2 1140.5L683.2 1141.6L683.2 1142.7L683.2 1143.8L683.2 1144.9L683.2 1146.0L683.2 1147.1L683.2 1148.2L683.2 1149.3L683.2 1150.3L683.2 1151.4L683.2 1152.5L683.2 1153.6L683.2 1154.7L683.2 1155.8L683.2 1156.9L683.2 1158.0L683.2 1159.1L683.2 1160.2L683.2 1161.3L683.2 1162.4L683.2 1163.5L683.2 1164.5L683.2 1165.6L683.0 1166.7L682.6 1167.8L681.9 1168.9L681.4 1170.0L681.4 1171.1L681.9 1172.2L682.6 1173.3L683.0 1174.4L683.2 1175.5L683.2 1176.6L683.2 1177.6L682.8 1178.7L682.0 1179.8L680.4 1180.9L678.2 1182.0L676.2 1183.1L675.3 1184.2Z" fill="#D8B62C" stroke="#333" stroke-width="0.85"/>
<path d="M694.8 1184.2H710.8M702.8 1184.2V1126.9" stroke="#555" stroke-width="1.0" fill="none"/>
<path d="M711.2 1184.2H727.2M719.2 1184.2V1139.2" stroke="#555" stroke-width="1.0" fill="none"/>
<path d="M730.6 1184.2H746.6M738.6 1184.2V1103.7" stroke="#555" stroke-width="1.0" fill="none"/>
<path d="M747.0 1184.2H763.0M755.0 1184.2V1150.1" stroke="#555" stroke-width="1.0" fill="none"/>
<path d="M766.4 1184.2H782.4M774.4 1184.2V1121.4" stroke="#555" stroke-width="1.0" fill="none"/>
<path d="M782.8 1184.2H798.8M790.8 1184.2V1113.2" stroke="#555" stroke-width="1.0" fill="none"/>
<path d="M802.2 1184.2H818.2M810.2 1184.2V1125.5" stroke="#555" stroke-width="1.0" fill="none"/>
<path d="M818.6 1184.2H834.6M826.6 1184.2V1135.1" stroke="#555" stroke-width="1.0" fill="none"/>
<path d="M838.1 1184.2H854.1M846.1 1184.2V1152.8" stroke="#555" stroke-width="1.0" fill="none"/>
<path d="M854.5 1184.2H870.5M862.5 1184.2V1136.4" stroke="#555" stroke-width="1.0" fill="none"/>
<path d="M873.9 1184.2H889.9M881.9 1184.2V1132.3" stroke="#555" stroke-width="1.0" fill="none"/>
<path d="M890.3 1184.2H906.3M898.3 1184.2V1144.6" stroke="#555" stroke-width="1.0" fill="none"/>
<path d="M909.7 1184.2H925.7M917.7 1184.2V1116.0" stroke="#555" stroke-width="1.0" fill="none"/>
<path d="M926.1 1184.2H942.1M934.1 1184.2V1136.4" stroke="#555" stroke-width="1.0" fill="none"/>
<path d="M945.6 1184.2H961.6M953.6 1184.2V1113.2" stroke="#555" stroke-width="1.0" fill="none"/>
<path d="M962.0 1184.2H978.0M970.0 1184.2V1113.2" stroke="#555" stroke-width="1.0" fill="none"/>
<path d="M981.4 1184.2H997.4M989.4 1184.2V1117.3" stroke="#555" stroke-width="1.0" fill="none"/>
<path d="M997.8 1184.2H1013.8M1005.8 1184.2V1131.0" stroke="#555" stroke-width="1.0" fill="none"/>
<path d="M1032.2 1184.2L1030.1 1182.2L1026.9 1180.2L1025.5 1178.3L1025.4 1176.3L1025.4 1174.3L1025.4 1172.3L1025.4 1170.3L1025.7 1168.4L1026.0 1166.4L1026.5 1164.4L1027.1 1162.4L1027.7 1160.4L1028.1 1158.5L1028.2 1156.5L1028.0 1154.5L1027.5 1152.5L1026.9 1150.6L1026.3 1148.6L1025.8 1146.6L1025.5 1144.6L1025.4 1142.6L1025.4 1140.7L1025.4 1138.7L1025.4 1136.7L1025.4 1134.7L1025.4 1132.7L1025.4 1130.8L1025.4 1128.8L1025.4 1126.8L1025.4 1124.8L1025.4 1122.8L1025.4 1120.9L1025.4 1118.9L1025.4 1116.9L1025.4 1114.9L1025.4 1112.9L1025.4 1111.0L1025.4 1109.0L1025.4 1107.0L1025.4 1105.0L1025.1 1105.0L1025.1 1107.0L1025.1 1109.0L1025.1 1111.0L1025.1 1112.9L1025.1 1114.9L1025.1 1116.9L1025.1 1118.9L1025.1 1120.9L1025.1 1122.8L1025.1 1124.8L1025.1 1126.8L1025.1 1128.8L1025.1 1130.8L1025.1 1132.7L1025.1 1134.7L1025.1 1136.7L1025.1 1138.7L1025.1 1140.7L1025.1 1142.6L1024.9 1144.6L1024.6 1146.6L1024.2 1148.6L1023.6 1150.6L1023.0 1152.5L1022.5 1154.5L1022.2 1156.5L1022.3 1158.5L1022.7 1160.4L1023.3 1162.4L1023.9 1164.4L1024.4 1166.4L1024.8 1168.4L1025.0 1170.3L1025.1 1172.3L1025.1 1174.3L1025.1 1176.3L1025.0 1178.3L1023.6 1180.2L1020.4 1182.2L1018.2 1184.2Z" fill="#52BCB8" stroke="#333" stroke-width="0.85"/>
<path d="M1048.6 1184.2L1047.6 1182.9L1045.4 1181.6L1043.3 1180.3L1042.2 1179.0L1041.8 1177.7L1041.8 1176.4L1041.8 1175.1L1041.8 1173.8L1041.9 1172.5L1042.1 1171.2L1042.4 1169.9L1042.7 1168.6L1043.1 1167.3L1043.5 1166.0L1043.8 1164.7L1044.1 1163.5L1044.1 1162.2L1044.0 1160.9L1043.7 1159.6L1043.4 1158.3L1043.0 1157.0L1042.6 1155.7L1042.3 1154.4L1042.0 1153.1L1041.9 1151.8L1041.8 1150.5L1041.8 1149.2L1041.8 1147.9L1041.8 1146.6L1041.8 1145.3L1041.8 1144.0L1041.8 1142.7L1041.8 1141.4L1041.8 1140.1L1041.8 1138.8L1041.8 1137.5L1041.8 1136.2L1041.8 1134.9L1041.8 1133.6L1041.8 1132.3L1041.5 1132.3L1041.5 1133.6L1041.5 1134.9L1041.5 1136.2L1041.5 1137.5L1041.5 1138.8L1041.5 1140.1L1041.5 1141.4L1041.5 1142.7L1041.5 1144.0L1041.5 1145.3L1041.5 1146.6L1041.5 1147.9L1041.5 1149.2L1041.5 1150.5L1041.4 1151.8L1041.2 1153.1L1041.0 1154.4L1040.7 1155.7L1040.3 1157.0L1039.9 1158.3L1039.5 1159.6L1039.2 1160.9L1039.1 1162.2L1039.2 1163.5L1039.4 1164.7L1039.8 1166.0L1040.2 1167.3L1040.6 1168.6L1040.9 1169.9L1041.2 1171.2L1041.4 1172.5L1041.5 1173.8L1041.5 1175.1L1041.5 1176.4L1041.5 1177.7L1041.1 1179.0L1039.9 1180.3L1037.9 1181.6L1035.6 1182.9L1034.6 1184.2Z" fill="#D8B62C" stroke="#333" stroke-width="0.85"/>
<path d="M1068.1 1184.2L1065.1 1181.8L1061.8 1179.4L1061.2 1176.9L1061.2 1174.5L1061.2 1172.1L1061.2 1169.7L1061.4 1167.2L1061.7 1164.8L1062.2 1162.4L1062.7 1160.0L1063.3 1157.5L1063.7 1155.1L1064.0 1152.7L1064.0 1150.3L1063.8 1147.9L1063.3 1145.4L1062.7 1143.0L1062.2 1140.6L1061.7 1138.2L1061.4 1135.7L1061.3 1133.3L1061.2 1130.9L1061.2 1128.5L1061.2 1126.1L1061.2 1123.6L1061.2 1121.2L1061.2 1118.8L1061.2 1116.4L1061.2 1113.9L1061.2 1111.5L1061.2 1109.1L1061.2 1106.7L1061.2 1104.2L1061.2 1101.8L1061.2 1099.4L1061.2 1097.0L1061.2 1094.6L1061.2 1092.1L1061.2 1089.7L1061.2 1087.3L1060.9 1087.3L1060.9 1089.7L1060.9 1092.1L1060.9 1094.6L1060.9 1097.0L1060.9 1099.4L1060.9 1101.8L1060.9 1104.2L1060.9 1106.7L1060.9 1109.1L1060.9 1111.5L1060.9 1113.9L1060.9 1116.4L1060.9 1118.8L1060.9 1121.2L1060.9 1123.6L1060.9 1126.1L1060.9 1128.5L1060.9 1130.9L1060.9 1133.3L1060.7 1135.7L1060.4 1138.2L1059.9 1140.6L1059.4 1143.0L1058.8 1145.4L1058.4 1147.9L1058.1 1150.3L1058.1 1152.7L1058.4 1155.1L1058.9 1157.5L1059.4 1160.0L1060.0 1162.4L1060.4 1164.8L1060.7 1167.2L1060.9 1169.7L1060.9 1172.1L1060.9 1174.5L1060.9 1176.9L1060.3 1179.4L1057.0 1181.8L1054.1 1184.2Z" fill="#52BCB8" stroke="#333" stroke-width="0.85"/>
<path d="M1084.5 1184.2L1081.4 1181.7L1078.2 1179.3L1077.6 1176.8L1077.6 1174.4L1077.8 1171.9L1078.1 1169.5L1078.6 1167.0L1079.3 1164.5L1080.1 1162.1L1080.7 1159.6L1081.0 1157.2L1080.8 1154.7L1080.2 1152.3L1079.5 1149.8L1078.7 1147.3L1078.2 1144.9L1077.8 1142.4L1077.6 1140.0L1077.6 1137.5L1077.6 1135.1L1077.6 1132.6L1077.6 1130.1L1077.6 1127.7L1077.6 1125.2L1077.6 1122.8L1077.6 1120.3L1077.6 1117.9L1077.6 1115.4L1077.6 1112.9L1077.6 1110.5L1077.6 1108.0L1077.6 1105.6L1077.6 1103.1L1077.6 1100.7L1077.6 1098.2L1077.6 1095.7L1077.6 1093.3L1077.6 1090.8L1077.6 1088.4L1077.6 1085.9L1077.3 1085.9L1077.3 1088.4L1077.3 1090.8L1077.3 1093.3L1077.3 1095.7L1077.3 1098.2L1077.3 1100.7L1077.3 1103.1L1077.3 1105.6L1077.3 1108.0L1077.3 1110.5L1077.3 1112.9L1077.3 1115.4L1077.3 1117.9L1077.3 1120.3L1077.3 1122.8L1077.3 1125.2L1077.3 1127.7L1077.3 1130.1L1077.3 1132.6L1077.3 1135.1L1077.3 1137.5L1077.3 1140.0L1077.1 1142.4L1076.7 1144.9L1076.2 1147.3L1075.4 1149.8L1074.7 1152.3L1074.1 1154.7L1074.0 1157.2L1074.2 1159.6L1074.9 1162.1L1075.6 1164.5L1076.3 1167.0L1076.8 1169.5L1077.2 1171.9L1077.3 1174.4L1077.3 1176.8L1076.7 1179.3L1073.5 1181.7L1070.5 1184.2Z" fill="#D8B62C" stroke="#333" stroke-width="0.85"/>
<path d="M1103.9 1184.2L1103.0 1182.7L1101.0 1181.2L1099.0 1179.7L1097.7 1178.2L1097.1 1176.7L1097.0 1175.2L1097.0 1173.7L1097.0 1172.2L1097.0 1170.7L1097.0 1169.2L1097.0 1167.7L1097.1 1166.2L1097.1 1164.7L1097.2 1163.2L1097.4 1161.7L1097.6 1160.2L1097.8 1158.7L1098.1 1157.2L1098.5 1155.7L1098.9 1154.2L1099.4 1152.7L1099.9 1151.2L1100.4 1149.7L1100.9 1148.2L1101.4 1146.7L1101.8 1145.2L1102.1 1143.7L1102.3 1142.2L1102.4 1140.7L1102.3 1139.2L1102.2 1137.7L1101.9 1136.2L1101.5 1134.7L1101.0 1133.1L1100.5 1131.6L1100.0 1130.1L1099.5 1128.6L1099.0 1127.1L1098.6 1125.6L1098.2 1124.1L1095.6 1124.1L1095.2 1125.6L1094.8 1127.1L1094.3 1128.6L1093.8 1130.1L1093.3 1131.6L1092.8 1133.1L1092.3 1134.7L1091.9 1136.2L1091.6 1137.7L1091.4 1139.2L1091.4 1140.7L1091.5 1142.2L1091.7 1143.7L1092.0 1145.2L1092.4 1146.7L1092.9 1148.2L1093.4 1149.7L1093.9 1151.2L1094.4 1152.7L1094.9 1154.2L1095.3 1155.7L1095.6 1157.2L1096.0 1158.7L1096.2 1160.2L1096.4 1161.7L1096.5 1163.2L1096.7 1164.7L1096.7 1166.2L1096.7 1167.7L1096.7 1169.2L1096.7 1170.7L1096.7 1172.2L1096.7 1173.7L1096.7 1175.2L1096.6 1176.7L1096.1 1178.2L1094.8 1179.7L1092.8 1181.2L1090.8 1182.7L1089.9 1184.2Z" fill="#52BCB8" stroke="#333" stroke-width="0.85"/>
<path d="M1120.8 1184.2L1120.2 1182.6L1118.6 1181.0L1116.7 1179.4L1115.2 1177.8L1114.9 1176.2L1115.3 1174.6L1115.7 1173.0L1116.2 1171.4L1116.7 1169.8L1117.2 1168.2L1117.8 1166.6L1118.4 1165.0L1119.1 1163.3L1119.6 1161.7L1120.2 1160.1L1120.7 1158.5L1121.1 1156.9L1121.4 1155.3L1121.7 1153.7L1121.8 1152.1L1121.8 1150.5L1121.6 1148.9L1121.4 1147.3L1121.1 1145.7L1120.6 1144.1L1120.1 1142.5L1119.6 1140.9L1119.0 1139.3L1118.4 1137.7L1117.7 1136.1L1117.2 1134.5L1116.6 1132.9L1116.1 1131.3L1115.6 1129.7L1115.2 1128.1L1114.8 1126.5L1114.5 1124.9L1114.3 1123.3L1114.0 1121.6L1113.9 1120.0L1112.7 1120.0L1112.5 1121.6L1112.3 1123.3L1112.1 1124.9L1111.8 1126.5L1111.4 1128.1L1111.0 1129.7L1110.5 1131.3L1110.0 1132.9L1109.4 1134.5L1108.8 1136.1L1108.2 1137.7L1107.6 1139.3L1107.0 1140.9L1106.5 1142.5L1106.0 1144.1L1105.5 1145.7L1105.2 1147.3L1104.9 1148.9L1104.8 1150.5L1104.8 1152.1L1104.9 1153.7L1105.1 1155.3L1105.5 1156.9L1105.9 1158.5L1106.4 1160.1L1106.9 1161.7L1107.5 1163.3L1108.1 1165.0L1108.7 1166.6L1109.3 1168.2L1109.9 1169.8L1110.4 1171.4L1110.9 1173.0L1111.3 1174.6L1111.7 1176.2L1111.4 1177.8L1109.8 1179.4L1108.0 1181.0L1106.4 1182.6L1105.8 1184.2Z" fill="#D8B62C" stroke="#333" stroke-width="0.85"/>
<path d="M618.6 1080.3V1189.1H1127.2" stroke="#333" stroke-width="1.3" fill="none"/>
<line x1="615.0" y1="1184.2" x2="618.6" y2="1184.2" stroke="#333" stroke-width="1.2"/>
<text x="610.5" y="1190.2" font-size="16.8" text-anchor="end">0</text>
<line x1="615.0" y1="1156.9" x2="618.6" y2="1156.9" stroke="#333" stroke-width="1.2"/>
<text x="610.5" y="1162.9" font-size="16.8" text-anchor="end">1</text>
<line x1="615.0" y1="1129.6" x2="618.6" y2="1129.6" stroke="#333" stroke-width="1.2"/>
<text x="610.5" y="1135.6" font-size="16.8" text-anchor="end">2</text>
<line x1="615.0" y1="1102.3" x2="618.6" y2="1102.3" stroke="#333" stroke-width="1.2"/>
<text x="610.5" y="1108.3" font-size="16.8" text-anchor="end">3</text>
<text x="862.0" y="1224.8" font-size="20.2" text-anchor="middle" font-weight="bold" font-style="italic">ACVR1B</text>
<path d="M637.4 1337.7L637.3 1336.2L637.0 1334.8L636.5 1333.3L635.9 1331.8L635.7 1330.3L636.3 1328.9L637.0 1327.4L637.5 1325.9L638.1 1324.5L638.5 1323.0L638.9 1321.5L639.1 1320.0L639.2 1318.6L639.2 1317.1L639.0 1315.6L638.7 1314.2L638.4 1312.7L637.9 1311.2L637.3 1309.7L636.8 1308.3L636.1 1306.8L635.5 1305.3L634.9 1303.9L634.3 1302.4L633.8 1300.9L633.3 1299.4L632.9 1298.0L632.5 1296.5L632.2 1295.0L632.0 1293.6L631.7 1292.1L631.6 1290.6L631.5 1289.1L631.4 1287.7L631.3 1286.2L631.2 1284.7L631.2 1283.3L631.2 1281.8L631.2 1280.3L631.2 1278.8L630.9 1278.8L630.9 1280.3L630.9 1281.8L630.9 1283.3L630.9 1284.7L630.9 1286.2L630.8 1287.7L630.7 1289.1L630.6 1290.6L630.5 1292.1L630.2 1293.6L630.0 1295.0L629.7 1296.5L629.3 1298.0L628.9 1299.4L628.4 1300.9L627.9 1302.4L627.3 1303.9L626.7 1305.3L626.1 1306.8L625.4 1308.3L624.9 1309.7L624.3 1311.2L623.8 1312.7L623.5 1314.2L623.2 1315.6L623.0 1317.1L623.0 1318.6L623.1 1320.0L623.3 1321.5L623.7 1323.0L624.1 1324.5L624.7 1325.9L625.2 1327.4L625.9 1328.9L626.5 1330.3L626.3 1331.8L625.7 1333.3L625.2 1334.8L624.9 1336.2L624.8 1337.7Z" fill="#52BCB8" stroke="#333" stroke-width="0.85"/>
<path d="M652.5 1337.7L652.4 1336.4L652.2 1335.2L651.8 1333.9L651.3 1332.6L650.8 1331.4L651.2 1330.1L651.8 1328.8L652.5 1327.6L653.2 1326.3L653.9 1325.0L654.5 1323.8L655.1 1322.5L655.5 1321.2L655.8 1320.0L656.0 1318.7L656.0 1317.4L655.8 1316.2L655.5 1314.9L655.1 1313.6L654.5 1312.4L653.9 1311.1L653.2 1309.8L652.5 1308.6L651.8 1307.3L651.1 1306.0L650.5 1304.8L649.9 1303.5L649.5 1302.2L649.0 1301.0L648.7 1299.7L648.4 1298.4L648.2 1297.2L648.0 1295.9L647.8 1294.6L647.7 1293.4L647.7 1292.1L647.6 1290.8L647.6 1289.5L647.6 1288.3L647.6 1287.0L647.4 1287.0L647.4 1288.3L647.4 1289.5L647.4 1290.8L647.3 1292.1L647.3 1293.4L647.2 1294.6L647.0 1295.9L646.8 1297.2L646.6 1298.4L646.3 1299.7L646.0 1301.0L645.5 1302.2L645.1 1303.5L644.5 1304.8L643.9 1306.0L643.2 1307.3L642.5 1308.6L641.8 1309.8L641.1 1311.1L640.5 1312.4L639.9 1313.6L639.5 1314.9L639.2 1316.2L639.0 1317.4L639.0 1318.7L639.2 1320.0L639.5 1321.2L639.9 1322.5L640.5 1323.8L641.1 1325.0L641.8 1326.3L642.5 1327.6L643.2 1328.8L643.8 1330.1L644.2 1331.4L643.7 1332.6L643.2 1333.9L642.8 1335.2L642.6 1336.4L642.5 1337.7Z" fill="#D8B62C" stroke="#333" stroke-width="0.85"/>
<path d="M674.9 1337.7L672.8 1335.5L669.3 1333.4L667.4 1331.2L667.1 1329.0L667.4 1326.9L667.9 1324.7L668.3 1322.5L668.4 1320.4L667.9 1318.2L667.4 1316.0L667.1 1313.9L667.1 1311.7L667.1 1309.5L667.1 1307.4L667.1 1305.2L667.1 1303.0L667.1 1300.9L667.1 1298.7L667.1 1296.5L667.1 1294.4L667.1 1292.2L667.1 1290.0L667.1 1287.9L667.1 1285.7L667.1 1283.5L667.1 1281.4L667.1 1279.2L667.1 1277.0L667.1 1274.9L667.1 1272.7L667.1 1270.5L667.1 1268.4L667.1 1266.2L667.1 1264.0L667.1 1261.9L667.1 1259.7L667.1 1257.5L667.1 1255.4L667.1 1253.2L667.1 1251.0L666.8 1251.0L666.8 1253.2L666.8 1255.4L666.8 1257.5L666.8 1259.7L666.8 1261.9L666.8 1264.0L666.8 1266.2L666.8 1268.4L666.8 1270.5L666.8 1272.7L666.8 1274.9L666.8 1277.0L666.8 1279.2L666.8 1281.4L666.8 1283.5L666.8 1285.7L666.8 1287.9L666.8 1290.0L666.8 1292.2L666.8 1294.4L666.8 1296.5L666.8 1298.7L666.8 1300.9L666.8 1303.0L666.8 1305.2L666.8 1307.4L666.8 1309.5L666.8 1311.7L666.8 1313.9L666.5 1316.0L665.9 1318.2L665.5 1320.4L665.5 1322.5L666.0 1324.7L666.5 1326.9L666.8 1329.0L666.4 1331.2L664.6 1333.4L661.0 1335.5L658.9 1337.7Z" fill="#52BCB8" stroke="#333" stroke-width="0.85"/>
<path d="M691.3 1337.7L689.9 1335.9L686.9 1334.2L684.6 1332.4L683.7 1330.7L683.6 1328.9L684.1 1327.2L684.8 1325.4L685.7 1323.6L686.3 1321.9L686.1 1320.1L685.4 1318.4L684.5 1316.6L683.8 1314.9L683.5 1313.1L683.5 1311.3L683.5 1309.6L683.5 1307.8L683.5 1306.1L683.5 1304.3L683.5 1302.5L683.5 1300.8L683.5 1299.0L683.5 1297.3L683.5 1295.5L683.5 1293.8L683.5 1292.0L683.5 1290.2L683.5 1288.5L683.5 1286.7L683.5 1285.0L683.5 1283.2L683.5 1281.5L683.5 1279.7L683.5 1277.9L683.5 1276.2L683.5 1274.4L683.5 1272.7L683.5 1270.9L683.5 1269.2L683.5 1267.4L683.2 1267.4L683.2 1269.2L683.2 1270.9L683.2 1272.7L683.2 1274.4L683.2 1276.2L683.2 1277.9L683.2 1279.7L683.2 1281.5L683.2 1283.2L683.2 1285.0L683.2 1286.7L683.2 1288.5L683.2 1290.2L683.2 1292.0L683.2 1293.8L683.2 1295.5L683.2 1297.3L683.2 1299.0L683.2 1300.8L683.2 1302.5L683.2 1304.3L683.2 1306.1L683.2 1307.8L683.2 1309.6L683.2 1311.3L683.2 1313.1L682.8 1314.9L682.2 1316.6L681.3 1318.4L680.5 1320.1L680.4 1321.9L680.9 1323.6L681.8 1325.4L682.6 1327.2L683.1 1328.9L683.0 1330.7L682.0 1332.4L679.7 1334.2L676.8 1335.9L675.3 1337.7Z" fill="#D8B62C" stroke="#333" stroke-width="0.85"/>
<path d="M694.8 1337.7H710.8M702.8 1337.7V1278.8" stroke="#555" stroke-width="1.0" fill="none"/>
<path d="M711.2 1337.7H727.2M719.2 1337.7V1303.4" stroke="#555" stroke-width="1.0" fill="none"/>
<path d="M730.6 1337.7H746.6M738.6 1337.7V1290.3" stroke="#555" stroke-width="1.0" fill="none"/>
<path d="M747.0 1337.7H763.0M755.0 1337.7V1291.9" stroke="#555" stroke-width="1.0" fill="none"/>
<path d="M766.4 1337.7H782.4M774.4 1337.7V1257.6" stroke="#555" stroke-width="1.0" fill="none"/>
<path d="M782.8 1337.7H798.8M790.8 1337.7V1256.0" stroke="#555" stroke-width="1.0" fill="none"/>
<path d="M802.2 1337.7H818.2M810.2 1337.7V1273.9" stroke="#555" stroke-width="1.0" fill="none"/>
<path d="M818.6 1337.7H834.6M826.6 1337.7V1273.9" stroke="#555" stroke-width="1.0" fill="none"/>
<path d="M838.1 1337.7H854.1M846.1 1337.7V1308.3" stroke="#555" stroke-width="1.0" fill="none"/>
<path d="M854.5 1337.7H870.5M862.5 1337.7V1300.1" stroke="#555" stroke-width="1.0" fill="none"/>
<path d="M873.9 1337.7H889.9M881.9 1337.7V1278.8" stroke="#555" stroke-width="1.0" fill="none"/>
<path d="M890.3 1337.7H906.3M898.3 1337.7V1290.3" stroke="#555" stroke-width="1.0" fill="none"/>
<path d="M909.7 1337.7H925.7M917.7 1337.7V1287.0" stroke="#555" stroke-width="1.0" fill="none"/>
<path d="M926.1 1337.7H942.1M934.1 1337.7V1262.5" stroke="#555" stroke-width="1.0" fill="none"/>
<path d="M945.6 1337.7H961.6M953.6 1337.7V1238.0" stroke="#555" stroke-width="1.0" fill="none"/>
<path d="M962.0 1337.7H978.0M970.0 1337.7V1246.1" stroke="#555" stroke-width="1.0" fill="none"/>
<path d="M981.4 1337.7H997.4M989.4 1337.7V1273.9" stroke="#555" stroke-width="1.0" fill="none"/>
<path d="M997.8 1337.7H1013.8M1005.8 1337.7V1285.4" stroke="#555" stroke-width="1.0" fill="none"/>
<path d="M1017.2 1337.7H1033.2M1025.2 1337.7V1278.8" stroke="#555" stroke-width="1.0" fill="none"/>
<path d="M1033.6 1337.7H1049.6M1041.6 1337.7V1267.4" stroke="#555" stroke-width="1.0" fill="none"/>
<path d="M1053.1 1337.7H1069.1M1061.1 1337.7V1269.0" stroke="#555" stroke-width="1.0" fill="none"/>
<path d="M1069.5 1337.7H1085.5M1077.5 1337.7V1252.7" stroke="#555" stroke-width="1.0" fill="none"/>
<path d="M1088.9 1337.7H1104.9M1096.9 1337.7V1298.5" stroke="#555" stroke-width="1.0" fill="none"/>
<path d="M1105.3 1337.7H1121.3M1113.3 1337.7V1301.7" stroke="#555" stroke-width="1.0" fill="none"/>
<path d="M618.6 1235.0V1342.6H1127.2" stroke="#333" stroke-width="1.3" fill="none"/>
<line x1="615.0" y1="1337.7" x2="618.6" y2="1337.7" stroke="#333" stroke-width="1.2"/>
<text x="610.5" y="1343.7" font-size="16.8" text-anchor="end">0</text>
<line x1="615.0" y1="1305.0" x2="618.6" y2="1305.0" stroke="#333" stroke-width="1.2"/>
<text x="610.5" y="1311.0" font-size="16.8" text-anchor="end">1</text>
<line x1="615.0" y1="1272.3" x2="618.6" y2="1272.3" stroke="#333" stroke-width="1.2"/>
<text x="610.5" y="1278.3" font-size="16.8" text-anchor="end">2</text>
<line x1="615.0" y1="1239.6" x2="618.6" y2="1239.6" stroke="#333" stroke-width="1.2"/>
<text x="610.5" y="1245.6" font-size="16.8" text-anchor="end">3</text>
<text x="862.0" y="1376.4" font-size="20.2" text-anchor="middle" font-weight="bold" font-style="italic">SMAD3</text>
<path d="M639.1 1489.7L638.3 1488.2L636.5 1486.7L634.8 1485.2L635.7 1483.8L636.1 1482.3L635.9 1480.8L635.3 1479.3L634.4 1477.8L633.4 1476.3L632.5 1474.8L631.9 1473.3L631.5 1471.9L631.3 1470.4L631.2 1468.9L631.2 1467.4L631.2 1465.9L631.2 1464.4L631.2 1462.9L631.2 1461.5L631.2 1460.0L631.2 1458.5L631.2 1457.0L631.2 1455.5L631.2 1454.0L631.2 1452.5L631.2 1451.0L631.2 1449.6L631.2 1448.1L631.2 1446.6L631.2 1445.1L631.2 1443.6L631.2 1442.1L631.2 1440.6L631.2 1439.2L631.2 1437.7L631.2 1436.2L631.2 1434.7L631.2 1433.2L631.2 1431.7L631.2 1430.2L630.9 1430.2L630.9 1431.7L630.9 1433.2L630.9 1434.7L630.9 1436.2L630.9 1437.7L630.9 1439.2L630.9 1440.6L630.9 1442.1L630.9 1443.6L630.9 1445.1L630.9 1446.6L630.9 1448.1L630.9 1449.6L630.9 1451.0L630.9 1452.5L630.9 1454.0L630.9 1455.5L630.9 1457.0L630.9 1458.5L630.9 1460.0L630.9 1461.5L630.9 1462.9L630.9 1464.4L630.9 1465.9L630.9 1467.4L630.9 1468.9L630.9 1470.4L630.7 1471.9L630.3 1473.3L629.7 1474.8L628.8 1476.3L627.8 1477.8L626.9 1479.3L626.3 1480.8L626.1 1482.3L626.5 1483.8L627.4 1485.2L625.7 1486.7L623.9 1488.2L623.1 1489.7Z" fill="#52BCB8" stroke="#333" stroke-width="0.85"/>
<path d="M655.5 1489.7L655.4 1488.9L655.0 1488.1L654.4 1487.2L653.6 1486.4L652.9 1485.6L653.4 1484.8L653.9 1483.9L654.3 1483.1L654.7 1482.3L655.0 1481.5L655.3 1480.7L655.4 1479.8L655.5 1479.0L655.5 1478.2L655.4 1477.4L655.2 1476.6L654.9 1475.7L654.6 1474.9L654.2 1474.1L653.7 1473.3L653.2 1472.4L652.7 1471.6L652.2 1470.8L651.7 1470.0L651.2 1469.2L650.7 1468.3L650.3 1467.5L649.9 1466.7L649.5 1465.9L649.2 1465.1L648.9 1464.2L648.6 1463.4L648.4 1462.6L648.2 1461.8L648.1 1460.9L647.9 1460.1L647.8 1459.3L647.8 1458.5L647.7 1457.7L647.6 1456.8L647.4 1456.8L647.3 1457.7L647.2 1458.5L647.2 1459.3L647.1 1460.1L646.9 1460.9L646.8 1461.8L646.6 1462.6L646.4 1463.4L646.1 1464.2L645.8 1465.1L645.5 1465.9L645.1 1466.7L644.7 1467.5L644.3 1468.3L643.8 1469.2L643.3 1470.0L642.8 1470.8L642.3 1471.6L641.8 1472.4L641.3 1473.3L640.8 1474.1L640.4 1474.9L640.1 1475.7L639.8 1476.6L639.6 1477.4L639.5 1478.2L639.5 1479.0L639.6 1479.8L639.7 1480.7L640.0 1481.5L640.3 1482.3L640.7 1483.1L641.1 1483.9L641.6 1484.8L642.1 1485.6L641.4 1486.4L640.6 1487.2L640.0 1488.1L639.6 1488.9L639.5 1489.7Z" fill="#D8B62C" stroke="#333" stroke-width="0.85"/>
<path d="M658.9 1489.7H674.9M666.9 1489.7V1458.4" stroke="#555" stroke-width="1.0" fill="none"/>
<path d="M675.3 1489.7H691.3M683.3 1489.7V1472.5" stroke="#555" stroke-width="1.0" fill="none"/>
<path d="M694.8 1489.7H710.8M702.8 1489.7V1420.8" stroke="#555" stroke-width="1.0" fill="none"/>
<path d="M727.2 1489.7L726.4 1488.5L724.4 1487.3L722.3 1486.1L720.7 1484.8L719.8 1483.6L719.3 1482.4L719.3 1481.2L719.4 1480.0L719.7 1478.8L720.2 1477.6L720.9 1476.4L721.5 1475.1L721.7 1473.9L721.4 1472.7L720.7 1471.5L720.1 1470.3L719.6 1469.1L719.3 1467.9L719.3 1466.7L719.3 1465.4L719.3 1464.2L719.3 1463.0L719.3 1461.8L719.3 1460.6L719.3 1459.4L719.3 1458.2L719.3 1457.0L719.3 1455.7L719.3 1454.5L719.3 1453.3L719.3 1452.1L719.3 1450.9L719.3 1449.7L719.3 1448.5L719.3 1447.2L719.3 1446.0L719.3 1444.8L719.3 1443.6L719.3 1442.4L719.3 1441.2L719.0 1441.2L719.0 1442.4L719.0 1443.6L719.0 1444.8L719.0 1446.0L719.0 1447.2L719.0 1448.5L719.0 1449.7L719.0 1450.9L719.0 1452.1L719.0 1453.3L719.0 1454.5L719.0 1455.7L719.0 1457.0L719.0 1458.2L719.0 1459.4L719.0 1460.6L719.0 1461.8L719.0 1463.0L719.0 1464.2L719.0 1465.4L719.0 1466.7L719.0 1467.9L718.7 1469.1L718.2 1470.3L717.6 1471.5L717.0 1472.7L716.7 1473.9L716.9 1475.1L717.4 1476.4L718.1 1477.6L718.6 1478.8L719.0 1480.0L719.0 1481.2L719.0 1482.4L718.6 1483.6L717.7 1484.8L716.0 1486.1L713.9 1487.3L712.0 1488.5L711.2 1489.7Z" fill="#D8B62C" stroke="#333" stroke-width="0.85"/>
<path d="M730.6 1489.7H746.6M738.6 1489.7V1436.5" stroke="#555" stroke-width="1.0" fill="none"/>
<path d="M747.0 1489.7H763.0M755.0 1489.7V1427.1" stroke="#555" stroke-width="1.0" fill="none"/>
<path d="M766.4 1489.7H782.4M774.4 1489.7V1414.6" stroke="#555" stroke-width="1.0" fill="none"/>
<path d="M782.8 1489.7H798.8M790.8 1489.7V1391.1" stroke="#555" stroke-width="1.0" fill="none"/>
<path d="M802.2 1489.7H818.2M810.2 1489.7V1431.8" stroke="#555" stroke-width="1.0" fill="none"/>
<path d="M818.6 1489.7H834.6M826.6 1489.7V1424.0" stroke="#555" stroke-width="1.0" fill="none"/>
<path d="M838.1 1489.7H854.1M846.1 1489.7V1403.6" stroke="#555" stroke-width="1.0" fill="none"/>
<path d="M868.5 1489.7L867.4 1488.3L865.3 1487.0L863.6 1485.6L862.8 1484.2L862.6 1482.9L862.6 1481.5L862.6 1480.1L862.7 1478.7L863.1 1477.4L863.8 1476.0L864.4 1474.6L864.4 1473.3L863.7 1471.9L863.0 1470.5L862.7 1469.2L862.6 1467.8L862.6 1466.4L862.6 1465.1L862.6 1463.7L862.6 1462.3L862.6 1460.9L862.6 1459.6L862.6 1458.2L862.6 1456.8L862.6 1455.5L862.6 1454.1L862.6 1452.7L862.6 1451.4L862.6 1450.0L862.6 1448.6L862.6 1447.2L862.6 1445.9L862.6 1444.5L862.6 1443.1L862.6 1441.8L862.6 1440.4L862.6 1439.0L862.6 1437.7L862.6 1436.3L862.6 1434.9L862.3 1434.9L862.3 1436.3L862.3 1437.7L862.3 1439.0L862.3 1440.4L862.3 1441.8L862.3 1443.1L862.3 1444.5L862.3 1445.9L862.3 1447.2L862.3 1448.6L862.3 1450.0L862.3 1451.4L862.3 1452.7L862.3 1454.1L862.3 1455.5L862.3 1456.8L862.3 1458.2L862.3 1459.6L862.3 1460.9L862.3 1462.3L862.3 1463.7L862.3 1465.1L862.3 1466.4L862.3 1467.8L862.3 1469.2L861.9 1470.5L861.2 1471.9L860.6 1473.3L860.5 1474.6L861.1 1476.0L861.8 1477.4L862.3 1478.7L862.3 1480.1L862.3 1481.5L862.3 1482.9L862.2 1484.2L861.4 1485.6L859.7 1487.0L857.5 1488.3L856.5 1489.7Z" fill="#D8B62C" stroke="#333" stroke-width="0.85"/>
<path d="M873.9 1489.7H889.9M881.9 1489.7V1428.7" stroke="#555" stroke-width="1.0" fill="none"/>
<path d="M890.3 1489.7H906.3M898.3 1489.7V1425.5" stroke="#555" stroke-width="1.0" fill="none"/>
<path d="M909.7 1489.7H925.7M917.7 1489.7V1411.5" stroke="#555" stroke-width="1.0" fill="none"/>
<path d="M926.1 1489.7H942.1M934.1 1489.7V1411.5" stroke="#555" stroke-width="1.0" fill="none"/>
<path d="M945.6 1489.7H961.6M953.6 1489.7V1405.2" stroke="#555" stroke-width="1.0" fill="none"/>
<path d="M962.0 1489.7H978.0M970.0 1489.7V1406.8" stroke="#555" stroke-width="1.0" fill="none"/>
<path d="M981.4 1489.7H997.4M989.4 1489.7V1411.5" stroke="#555" stroke-width="1.0" fill="none"/>
<path d="M997.8 1489.7H1013.8M1005.8 1489.7V1408.3" stroke="#555" stroke-width="1.0" fill="none"/>
<path d="M1017.2 1489.7H1033.2M1025.2 1489.7V1438.1" stroke="#555" stroke-width="1.0" fill="none"/>
<path d="M1033.6 1489.7H1049.6M1041.6 1489.7V1402.1" stroke="#555" stroke-width="1.0" fill="none"/>
<path d="M1053.1 1489.7H1069.1M1061.1 1489.7V1409.9" stroke="#555" stroke-width="1.0" fill="none"/>
<path d="M1069.5 1489.7H1085.5M1077.5 1489.7V1414.6" stroke="#555" stroke-width="1.0" fill="none"/>
<path d="M1088.9 1489.7H1104.9M1096.9 1489.7V1449.0" stroke="#555" stroke-width="1.0" fill="none"/>
<path d="M1105.3 1489.7H1121.3M1113.3 1489.7V1447.4" stroke="#555" stroke-width="1.0" fill="none"/>
<path d="M618.6 1385.8V1494.6H1127.2" stroke="#333" stroke-width="1.3" fill="none"/>
<line x1="615.0" y1="1489.7" x2="618.6" y2="1489.7" stroke="#333" stroke-width="1.2"/>
<text x="610.5" y="1495.7" font-size="16.8" text-anchor="end">0</text>
<line x1="615.0" y1="1458.4" x2="618.6" y2="1458.4" stroke="#333" stroke-width="1.2"/>
<text x="610.5" y="1464.4" font-size="16.8" text-anchor="end">1</text>
<line x1="615.0" y1="1427.1" x2="618.6" y2="1427.1" stroke="#333" stroke-width="1.2"/>
<text x="610.5" y="1433.1" font-size="16.8" text-anchor="end">2</text>
<line x1="615.0" y1="1395.8" x2="618.6" y2="1395.8" stroke="#333" stroke-width="1.2"/>
<text x="610.5" y="1401.8" font-size="16.8" text-anchor="end">3</text>
<text x="862.0" y="1525.0" font-size="20.2" text-anchor="middle" font-weight="bold" font-style="italic">E2F4</text>
<path d="M638.1 1641.6L637.7 1640.9L636.6 1640.2L635.1 1639.5L633.7 1638.7L633.9 1638.0L634.3 1637.3L634.8 1636.6L635.3 1635.9L635.7 1635.2L636.2 1634.4L636.6 1633.7L636.9 1633.0L637.2 1632.3L637.4 1631.6L637.6 1630.9L637.6 1630.2L637.6 1629.4L637.4 1628.7L637.2 1628.0L636.9 1627.3L636.6 1626.6L636.2 1625.9L635.7 1625.2L635.3 1624.4L634.8 1623.7L634.3 1623.0L633.9 1622.3L633.5 1621.6L633.1 1620.9L632.8 1620.1L632.5 1619.4L632.2 1618.7L632.0 1618.0L631.8 1617.3L631.6 1616.6L631.5 1615.9L631.4 1615.1L631.3 1614.4L631.3 1613.7L631.2 1613.0L630.9 1613.0L630.9 1613.7L630.9 1614.4L630.8 1615.1L630.7 1615.9L630.6 1616.6L630.4 1617.3L630.2 1618.0L630.0 1618.7L629.7 1619.4L629.4 1620.1L629.1 1620.9L628.7 1621.6L628.3 1622.3L627.9 1623.0L627.4 1623.7L626.9 1624.4L626.5 1625.2L626.0 1625.9L625.6 1626.6L625.3 1627.3L625.0 1628.0L624.8 1628.7L624.6 1629.4L624.6 1630.2L624.6 1630.9L624.8 1631.6L625.0 1632.3L625.3 1633.0L625.6 1633.7L626.0 1634.4L626.5 1635.2L626.9 1635.9L627.4 1636.6L627.9 1637.3L628.3 1638.0L628.5 1638.7L627.1 1639.5L625.6 1640.2L624.5 1640.9L624.1 1641.6Z" fill="#52BCB8" stroke="#333" stroke-width="0.85"/>
<path d="M655.5 1641.6L655.2 1640.8L654.5 1640.0L653.4 1639.2L652.6 1638.5L653.4 1637.7L654.2 1636.9L655.0 1636.1L655.6 1635.3L656.1 1634.5L656.4 1633.7L656.5 1632.9L656.4 1632.2L656.0 1631.4L655.5 1630.6L654.9 1629.8L654.1 1629.0L653.2 1628.2L652.4 1627.4L651.6 1626.7L650.8 1625.9L650.1 1625.1L649.5 1624.3L649.0 1623.5L648.6 1622.7L648.3 1621.9L648.1 1621.2L647.9 1620.4L647.8 1619.6L647.7 1618.8L647.6 1618.0L647.6 1617.2L647.6 1616.4L647.6 1615.6L647.6 1614.9L647.6 1614.1L647.6 1613.3L647.6 1612.5L647.6 1611.7L647.6 1610.9L647.6 1610.1L647.4 1610.1L647.4 1610.9L647.4 1611.7L647.4 1612.5L647.4 1613.3L647.4 1614.1L647.4 1614.9L647.4 1615.6L647.4 1616.4L647.4 1617.2L647.4 1618.0L647.3 1618.8L647.2 1619.6L647.1 1620.4L646.9 1621.2L646.7 1621.9L646.4 1622.7L646.0 1623.5L645.5 1624.3L644.9 1625.1L644.2 1625.9L643.4 1626.7L642.6 1627.4L641.8 1628.2L640.9 1629.0L640.1 1629.8L639.5 1630.6L639.0 1631.4L638.6 1632.2L638.5 1632.9L638.6 1633.7L638.9 1634.5L639.4 1635.3L640.0 1636.1L640.8 1636.9L641.6 1637.7L642.4 1638.5L641.6 1639.2L640.5 1640.0L639.8 1640.8L639.5 1641.6Z" fill="#D8B62C" stroke="#333" stroke-width="0.85"/>
<path d="M674.9 1641.6L672.5 1639.5L668.8 1637.5L667.2 1635.4L667.2 1633.3L667.8 1631.2L668.6 1629.2L668.9 1627.1L668.4 1625.0L667.6 1622.9L667.1 1620.9L667.1 1618.8L667.1 1616.7L667.1 1614.6L667.1 1612.6L667.1 1610.5L667.1 1608.4L667.1 1606.4L667.1 1604.3L667.1 1602.2L667.1 1600.1L667.1 1598.1L667.1 1596.0L667.1 1593.9L667.1 1591.8L667.1 1589.8L667.1 1587.7L667.1 1585.6L667.1 1583.5L667.1 1581.5L667.1 1579.4L667.1 1577.3L667.1 1575.2L667.1 1573.2L667.1 1571.1L667.1 1569.0L667.1 1567.0L667.1 1564.9L667.1 1562.8L667.1 1560.7L667.1 1558.7L666.8 1558.7L666.8 1560.7L666.8 1562.8L666.8 1564.9L666.8 1567.0L666.8 1569.0L666.8 1571.1L666.8 1573.2L666.8 1575.2L666.8 1577.3L666.8 1579.4L666.8 1581.5L666.8 1583.5L666.8 1585.6L666.8 1587.7L666.8 1589.8L666.8 1591.8L666.8 1593.9L666.8 1596.0L666.8 1598.1L666.8 1600.1L666.8 1602.2L666.8 1604.3L666.8 1606.4L666.8 1608.4L666.8 1610.5L666.8 1612.6L666.8 1614.6L666.8 1616.7L666.8 1618.8L666.7 1620.9L666.2 1622.9L665.4 1625.0L664.9 1627.1L665.3 1629.2L666.1 1631.2L666.6 1633.3L666.6 1635.4L665.1 1637.5L661.4 1639.5L658.9 1641.6Z" fill="#52BCB8" stroke="#333" stroke-width="0.85"/>
<path d="M691.3 1641.6L689.3 1639.7L685.8 1637.9L684.7 1636.0L685.8 1634.2L686.8 1632.3L687.3 1630.4L687.0 1628.6L686.1 1626.7L685.0 1624.9L684.2 1623.0L683.7 1621.2L683.5 1619.3L683.5 1617.4L683.5 1615.6L683.5 1613.7L683.5 1611.9L683.5 1610.0L683.5 1608.1L683.5 1606.3L683.5 1604.4L683.5 1602.6L683.5 1600.7L683.5 1598.8L683.5 1597.0L683.5 1595.1L683.5 1593.3L683.5 1591.4L683.5 1589.5L683.5 1587.7L683.5 1585.8L683.5 1584.0L683.5 1582.1L683.5 1580.3L683.5 1578.4L683.5 1576.5L683.5 1574.7L683.5 1572.8L683.5 1571.0L683.5 1569.1L683.5 1567.2L683.2 1567.2L683.2 1569.1L683.2 1571.0L683.2 1572.8L683.2 1574.7L683.2 1576.5L683.2 1578.4L683.2 1580.3L683.2 1582.1L683.2 1584.0L683.2 1585.8L683.2 1587.7L683.2 1589.5L683.2 1591.4L683.2 1593.3L683.2 1595.1L683.2 1597.0L683.2 1598.8L683.2 1600.7L683.2 1602.6L683.2 1604.4L683.2 1606.3L683.2 1608.1L683.2 1610.0L683.2 1611.9L683.2 1613.7L683.2 1615.6L683.2 1617.4L683.2 1619.3L683.0 1621.2L682.5 1623.0L681.6 1624.9L680.5 1626.7L679.6 1628.6L679.3 1630.4L679.9 1632.3L680.9 1634.2L681.9 1636.0L680.9 1637.9L677.4 1639.7L675.3 1641.6Z" fill="#D8B62C" stroke="#333" stroke-width="0.85"/>
<path d="M694.8 1641.6H710.8M702.8 1641.6V1598.7" stroke="#555" stroke-width="1.0" fill="none"/>
<path d="M726.2 1641.6L724.8 1640.3L722.1 1639.0L720.2 1637.6L719.4 1636.3L719.3 1635.0L719.3 1633.7L719.4 1632.3L719.8 1631.0L720.4 1629.7L721.0 1628.4L721.1 1627.0L720.8 1625.7L720.1 1624.4L719.6 1623.1L719.3 1621.8L719.3 1620.4L719.3 1619.1L719.3 1617.8L719.3 1616.5L719.3 1615.1L719.3 1613.8L719.3 1612.5L719.3 1611.2L719.3 1609.9L719.3 1608.5L719.3 1607.2L719.3 1605.9L719.3 1604.6L719.3 1603.2L719.3 1601.9L719.3 1600.6L719.3 1599.3L719.3 1597.9L719.3 1596.6L719.3 1595.3L719.3 1594.0L719.3 1592.7L719.3 1591.3L719.3 1590.0L719.3 1588.7L719.0 1588.7L719.0 1590.0L719.0 1591.3L719.0 1592.7L719.0 1594.0L719.0 1595.3L719.0 1596.6L719.0 1597.9L719.0 1599.3L719.0 1600.6L719.0 1601.9L719.0 1603.2L719.0 1604.6L719.0 1605.9L719.0 1607.2L719.0 1608.5L719.0 1609.9L719.0 1611.2L719.0 1612.5L719.0 1613.8L719.0 1615.1L719.0 1616.5L719.0 1617.8L719.0 1619.1L719.0 1620.4L719.0 1621.8L718.7 1623.1L718.2 1624.4L717.5 1625.7L717.2 1627.0L717.3 1628.4L717.9 1629.7L718.5 1631.0L718.9 1632.3L719.0 1633.7L719.0 1635.0L718.9 1636.3L718.1 1637.6L716.2 1639.0L713.5 1640.3L712.2 1641.6Z" fill="#D8B62C" stroke="#333" stroke-width="0.85"/>
<path d="M730.6 1641.6H746.6M738.6 1641.6V1564.4" stroke="#555" stroke-width="1.0" fill="none"/>
<path d="M763.0 1641.6L761.4 1640.0L758.3 1638.4L756.1 1636.8L755.2 1635.2L755.1 1633.6L755.1 1631.9L755.3 1630.3L755.7 1628.7L756.3 1627.1L756.9 1625.5L757.0 1623.9L756.5 1622.3L755.9 1620.7L755.4 1619.1L755.1 1617.5L755.1 1615.9L755.1 1614.3L755.1 1612.6L755.1 1611.0L755.1 1609.4L755.1 1607.8L755.1 1606.2L755.1 1604.6L755.1 1603.0L755.1 1601.4L755.1 1599.8L755.1 1598.2L755.1 1596.6L755.1 1594.9L755.1 1593.3L755.1 1591.7L755.1 1590.1L755.1 1588.5L755.1 1586.9L755.1 1585.3L755.1 1583.7L755.1 1582.1L755.1 1580.5L755.1 1578.9L755.1 1577.2L754.8 1577.2L754.8 1578.9L754.8 1580.5L754.8 1582.1L754.8 1583.7L754.8 1585.3L754.8 1586.9L754.8 1588.5L754.8 1590.1L754.8 1591.7L754.8 1593.3L754.8 1594.9L754.8 1596.6L754.8 1598.2L754.8 1599.8L754.8 1601.4L754.8 1603.0L754.8 1604.6L754.8 1606.2L754.8 1607.8L754.8 1609.4L754.8 1611.0L754.8 1612.6L754.8 1614.3L754.8 1615.9L754.8 1617.5L754.6 1619.1L754.1 1620.7L753.4 1622.3L753.0 1623.9L753.1 1625.5L753.6 1627.1L754.3 1628.7L754.7 1630.3L754.8 1631.9L754.8 1633.6L754.8 1635.2L753.9 1636.8L751.7 1638.4L748.6 1640.0L747.0 1641.6Z" fill="#D8B62C" stroke="#333" stroke-width="0.85"/>
<path d="M766.4 1641.6H782.4M774.4 1641.6V1568.7" stroke="#555" stroke-width="1.0" fill="none"/>
<path d="M795.8 1641.6L793.1 1639.6L791.0 1637.5L791.0 1635.5L791.0 1633.4L791.0 1631.4L791.0 1629.4L791.0 1627.3L791.0 1625.3L791.0 1623.3L791.0 1621.2L791.0 1619.2L791.0 1617.1L791.0 1615.1L791.0 1613.1L791.0 1611.0L791.0 1609.0L791.0 1607.0L791.0 1604.9L791.0 1602.9L791.0 1600.8L791.0 1598.8L791.0 1596.8L791.0 1594.7L791.0 1592.7L791.0 1590.7L791.0 1588.6L791.0 1586.6L791.0 1584.5L791.0 1582.5L791.0 1580.5L791.0 1578.4L791.0 1576.4L791.0 1574.4L791.0 1572.3L791.0 1570.3L791.0 1568.2L791.0 1566.2L791.0 1564.2L791.0 1562.1L791.0 1560.1L790.7 1560.1L790.7 1562.1L790.7 1564.2L790.7 1566.2L790.7 1568.2L790.7 1570.3L790.7 1572.3L790.7 1574.4L790.7 1576.4L790.7 1578.4L790.7 1580.5L790.7 1582.5L790.7 1584.5L790.7 1586.6L790.7 1588.6L790.7 1590.7L790.7 1592.7L790.7 1594.7L790.7 1596.8L790.7 1598.8L790.7 1600.8L790.7 1602.9L790.7 1604.9L790.7 1607.0L790.7 1609.0L790.7 1611.0L790.7 1613.1L790.7 1615.1L790.7 1617.1L790.7 1619.2L790.7 1621.2L790.7 1623.3L790.7 1625.3L790.7 1627.3L790.7 1629.4L790.7 1631.4L790.7 1633.4L790.7 1635.5L790.6 1637.5L788.6 1639.6L785.8 1641.6Z" fill="#D8B62C" stroke="#333" stroke-width="0.85"/>
<path d="M802.2 1641.6H818.2M810.2 1641.6V1577.2" stroke="#555" stroke-width="1.0" fill="none"/>
<path d="M818.6 1641.6H834.6M826.6 1641.6V1584.4" stroke="#555" stroke-width="1.0" fill="none"/>
<path d="M838.1 1641.6H854.1M846.1 1641.6V1567.2" stroke="#555" stroke-width="1.0" fill="none"/>
<path d="M870.5 1641.6L868.6 1639.8L865.2 1638.0L863.2 1636.2L863.0 1634.4L863.5 1632.7L864.3 1630.9L865.1 1629.1L865.9 1627.3L866.4 1625.5L866.4 1623.7L866.0 1621.9L865.3 1620.1L864.4 1618.4L863.7 1616.6L863.1 1614.8L862.8 1613.0L862.6 1611.2L862.6 1609.4L862.6 1607.6L862.6 1605.8L862.6 1604.1L862.6 1602.3L862.6 1600.5L862.6 1598.7L862.6 1596.9L862.6 1595.1L862.6 1593.3L862.6 1591.5L862.6 1589.8L862.6 1588.0L862.6 1586.2L862.6 1584.4L862.6 1582.6L862.6 1580.8L862.6 1579.0L862.6 1577.2L862.6 1575.5L862.6 1573.7L862.6 1571.9L862.6 1570.1L862.3 1570.1L862.3 1571.9L862.3 1573.7L862.3 1575.5L862.3 1577.2L862.3 1579.0L862.3 1580.8L862.3 1582.6L862.3 1584.4L862.3 1586.2L862.3 1588.0L862.3 1589.8L862.3 1591.5L862.3 1593.3L862.3 1595.1L862.3 1596.9L862.3 1598.7L862.3 1600.5L862.3 1602.3L862.3 1604.1L862.3 1605.8L862.3 1607.6L862.3 1609.4L862.3 1611.2L862.2 1613.0L861.8 1614.8L861.3 1616.6L860.5 1618.4L859.7 1620.1L858.9 1621.9L858.5 1623.7L858.6 1625.5L859.1 1627.3L859.9 1629.1L860.7 1630.9L861.4 1632.7L861.9 1634.4L861.8 1636.2L859.8 1638.0L856.4 1639.8L854.5 1641.6Z" fill="#D8B62C" stroke="#333" stroke-width="0.85"/>
<path d="M873.9 1641.6H889.9M881.9 1641.6V1583.0" stroke="#555" stroke-width="1.0" fill="none"/>
<path d="M890.3 1641.6H906.3M898.3 1641.6V1577.2" stroke="#555" stroke-width="1.0" fill="none"/>
<path d="M909.7 1641.6H925.7M917.7 1641.6V1588.7" stroke="#555" stroke-width="1.0" fill="none"/>
<path d="M926.1 1641.6H942.1M934.1 1641.6V1567.2" stroke="#555" stroke-width="1.0" fill="none"/>
<path d="M945.6 1641.6H961.6M953.6 1641.6V1542.9" stroke="#555" stroke-width="1.0" fill="none"/>
<path d="M962.0 1641.6H978.0M970.0 1641.6V1550.1" stroke="#555" stroke-width="1.0" fill="none"/>
<path d="M995.4 1641.6L992.6 1639.8L989.9 1638.0L989.5 1636.1L989.5 1634.3L989.5 1632.5L989.5 1630.7L989.5 1628.8L989.5 1627.0L989.5 1625.2L989.5 1623.4L989.5 1621.5L989.5 1619.7L989.5 1617.9L989.5 1616.1L989.5 1614.3L989.5 1612.4L989.5 1610.6L989.5 1608.8L989.5 1607.0L989.5 1605.1L989.5 1603.3L989.5 1601.5L989.5 1599.7L989.5 1597.8L989.5 1596.0L989.5 1594.2L989.5 1592.4L989.5 1590.5L989.5 1588.7L989.5 1586.9L989.5 1585.1L989.5 1583.3L989.5 1581.4L989.5 1579.6L989.5 1577.8L989.5 1576.0L989.5 1574.1L989.5 1572.3L989.5 1570.5L989.5 1568.7L989.2 1568.7L989.2 1570.5L989.2 1572.3L989.2 1574.1L989.2 1576.0L989.2 1577.8L989.2 1579.6L989.2 1581.4L989.2 1583.3L989.2 1585.1L989.2 1586.9L989.2 1588.7L989.2 1590.5L989.2 1592.4L989.2 1594.2L989.2 1596.0L989.2 1597.8L989.2 1599.7L989.2 1601.5L989.2 1603.3L989.2 1605.1L989.2 1607.0L989.2 1608.8L989.2 1610.6L989.2 1612.4L989.2 1614.3L989.2 1616.1L989.2 1617.9L989.2 1619.7L989.2 1621.5L989.2 1623.4L989.2 1625.2L989.2 1627.0L989.2 1628.8L989.2 1630.7L989.2 1632.5L989.2 1634.3L989.2 1636.1L988.9 1638.0L986.2 1639.8L983.4 1641.6Z" fill="#52BCB8" stroke="#333" stroke-width="0.85"/>
<path d="M1012.8 1641.6L1011.3 1640.2L1008.5 1638.8L1006.6 1637.4L1006.0 1636.0L1005.9 1634.6L1005.9 1633.2L1006.1 1631.8L1006.7 1630.4L1007.3 1629.1L1007.8 1627.7L1007.6 1626.3L1007.0 1624.9L1006.4 1623.5L1006.0 1622.1L1005.9 1620.7L1005.9 1619.3L1005.9 1617.9L1005.9 1616.5L1005.9 1615.1L1005.9 1613.7L1005.9 1612.3L1005.9 1610.9L1005.9 1609.5L1005.9 1608.1L1005.9 1606.7L1005.9 1605.3L1005.9 1604.0L1005.9 1602.6L1005.9 1601.2L1005.9 1599.8L1005.9 1598.4L1005.9 1597.0L1005.9 1595.6L1005.9 1594.2L1005.9 1592.8L1005.9 1591.4L1005.9 1590.0L1005.9 1588.6L1005.9 1587.2L1005.9 1585.8L1005.6 1585.8L1005.6 1587.2L1005.6 1588.6L1005.6 1590.0L1005.6 1591.4L1005.6 1592.8L1005.6 1594.2L1005.6 1595.6L1005.6 1597.0L1005.6 1598.4L1005.6 1599.8L1005.6 1601.2L1005.6 1602.6L1005.6 1604.0L1005.6 1605.3L1005.6 1606.7L1005.6 1608.1L1005.6 1609.5L1005.6 1610.9L1005.6 1612.3L1005.6 1613.7L1005.6 1615.1L1005.6 1616.5L1005.6 1617.9L1005.6 1619.3L1005.6 1620.7L1005.6 1622.1L1005.2 1623.5L1004.6 1624.9L1004.0 1626.3L1003.8 1627.7L1004.3 1629.1L1004.9 1630.4L1005.5 1631.8L1005.6 1633.2L1005.6 1634.6L1005.6 1636.0L1005.0 1637.4L1003.1 1638.8L1000.3 1640.2L998.8 1641.6Z" fill="#D8B62C" stroke="#333" stroke-width="0.85"/>
<path d="M1031.2 1641.6L1029.0 1640.0L1026.1 1638.5L1025.4 1636.9L1025.4 1635.3L1025.4 1633.7L1025.4 1632.2L1025.4 1630.6L1025.4 1629.0L1025.4 1627.4L1025.4 1625.9L1025.4 1624.3L1025.4 1622.7L1025.4 1621.2L1025.4 1619.6L1025.4 1618.0L1025.4 1616.4L1025.4 1614.9L1025.4 1613.3L1025.4 1611.7L1025.4 1610.1L1025.4 1608.6L1025.4 1607.0L1025.4 1605.4L1025.4 1603.8L1025.4 1602.3L1025.4 1600.7L1025.4 1599.1L1025.4 1597.6L1025.4 1596.0L1025.4 1594.4L1025.4 1592.8L1025.4 1591.3L1025.4 1589.7L1025.4 1588.1L1025.4 1586.5L1025.4 1585.0L1025.4 1583.4L1025.4 1581.8L1025.4 1580.3L1025.4 1578.7L1025.1 1578.7L1025.1 1580.3L1025.1 1581.8L1025.1 1583.4L1025.1 1585.0L1025.1 1586.5L1025.1 1588.1L1025.1 1589.7L1025.1 1591.3L1025.1 1592.8L1025.1 1594.4L1025.1 1596.0L1025.1 1597.6L1025.1 1599.1L1025.1 1600.7L1025.1 1602.3L1025.1 1603.8L1025.1 1605.4L1025.1 1607.0L1025.1 1608.6L1025.1 1610.1L1025.1 1611.7L1025.1 1613.3L1025.1 1614.9L1025.1 1616.4L1025.1 1618.0L1025.1 1619.6L1025.1 1621.2L1025.1 1622.7L1025.1 1624.3L1025.1 1625.9L1025.1 1627.4L1025.1 1629.0L1025.1 1630.6L1025.1 1632.2L1025.1 1633.7L1025.1 1635.3L1025.1 1636.9L1024.3 1638.5L1021.5 1640.0L1019.2 1641.6Z" fill="#52BCB8" stroke="#333" stroke-width="0.85"/>
<path d="M1049.6 1641.6L1048.0 1640.0L1044.8 1638.3L1042.6 1636.7L1042.1 1635.0L1042.6 1633.4L1043.3 1631.7L1044.0 1630.1L1044.5 1628.4L1044.6 1626.8L1044.2 1625.2L1043.6 1623.5L1042.8 1621.9L1042.3 1620.2L1041.9 1618.6L1041.8 1616.9L1041.8 1615.3L1041.8 1613.6L1041.8 1612.0L1041.8 1610.4L1041.8 1608.7L1041.8 1607.1L1041.8 1605.4L1041.8 1603.8L1041.8 1602.1L1041.8 1600.5L1041.8 1598.8L1041.8 1597.2L1041.8 1595.6L1041.8 1593.9L1041.8 1592.3L1041.8 1590.6L1041.8 1589.0L1041.8 1587.3L1041.8 1585.7L1041.8 1584.0L1041.8 1582.4L1041.8 1580.8L1041.8 1579.1L1041.8 1577.5L1041.8 1575.8L1041.5 1575.8L1041.5 1577.5L1041.5 1579.1L1041.5 1580.8L1041.5 1582.4L1041.5 1584.0L1041.5 1585.7L1041.5 1587.3L1041.5 1589.0L1041.5 1590.6L1041.5 1592.3L1041.5 1593.9L1041.5 1595.6L1041.5 1597.2L1041.5 1598.8L1041.5 1600.5L1041.5 1602.1L1041.5 1603.8L1041.5 1605.4L1041.5 1607.1L1041.5 1608.7L1041.5 1610.4L1041.5 1612.0L1041.5 1613.6L1041.5 1615.3L1041.5 1616.9L1041.3 1618.6L1041.0 1620.2L1040.4 1621.9L1039.7 1623.5L1039.0 1625.2L1038.7 1626.8L1038.7 1628.4L1039.3 1630.1L1040.0 1631.7L1040.7 1633.4L1041.1 1635.0L1040.6 1636.7L1038.4 1638.3L1035.3 1640.0L1033.6 1641.6Z" fill="#D8B62C" stroke="#333" stroke-width="0.85"/>
<path d="M1053.1 1641.6H1069.1M1061.1 1641.6V1567.2" stroke="#555" stroke-width="1.0" fill="none"/>
<path d="M1069.5 1641.6H1085.5M1077.5 1641.6V1554.4" stroke="#555" stroke-width="1.0" fill="none"/>
<path d="M1088.9 1641.6H1104.9M1096.9 1641.6V1600.1" stroke="#555" stroke-width="1.0" fill="none"/>
<path d="M1105.3 1641.6H1121.3M1113.3 1641.6V1598.7" stroke="#555" stroke-width="1.0" fill="none"/>
<path d="M618.6 1537.8V1645.5H1127.2" stroke="#333" stroke-width="1.3" fill="none"/>
<line x1="615.0" y1="1641.6" x2="618.6" y2="1641.6" stroke="#333" stroke-width="1.2"/>
<text x="610.5" y="1647.6" font-size="16.8" text-anchor="end">0</text>
<line x1="615.0" y1="1613.0" x2="618.6" y2="1613.0" stroke="#333" stroke-width="1.2"/>
<text x="610.5" y="1619.0" font-size="16.8" text-anchor="end">1</text>
<line x1="615.0" y1="1584.4" x2="618.6" y2="1584.4" stroke="#333" stroke-width="1.2"/>
<text x="610.5" y="1590.4" font-size="16.8" text-anchor="end">2</text>
<line x1="615.0" y1="1555.8" x2="618.6" y2="1555.8" stroke="#333" stroke-width="1.2"/>
<text x="610.5" y="1561.8" font-size="16.8" text-anchor="end">3</text>
<line x1="639.3" y1="1645.5" x2="639.3" y2="1649.3" stroke="#333" stroke-width="1.2"/>
<text x="644.8" y="1665.5" font-size="20.4" text-anchor="end" transform="rotate(-45 644.8 1665.5)">Early FGC</text>
<line x1="675.1" y1="1645.5" x2="675.1" y2="1649.3" stroke="#333" stroke-width="1.2"/>
<text x="680.6" y="1665.5" font-size="20.4" text-anchor="end" transform="rotate(-45 680.6 1665.5)">Late FGC</text>
<line x1="711.0" y1="1645.5" x2="711.0" y2="1649.3" stroke="#333" stroke-width="1.2"/>
<text x="716.5" y="1665.5" font-size="20.4" text-anchor="end" transform="rotate(-45 716.5 1665.5)">LPC1</text>
<line x1="746.8" y1="1645.5" x2="746.8" y2="1649.3" stroke="#333" stroke-width="1.2"/>
<text x="752.3" y="1665.5" font-size="20.4" text-anchor="end" transform="rotate(-45 752.3 1665.5)">LPC2</text>
<line x1="782.6" y1="1645.5" x2="782.6" y2="1649.3" stroke="#333" stroke-width="1.2"/>
<text x="788.1" y="1665.5" font-size="20.4" text-anchor="end" transform="rotate(-45 788.1 1665.5)">LP1</text>
<line x1="818.4" y1="1645.5" x2="818.4" y2="1649.3" stroke="#333" stroke-width="1.2"/>
<text x="823.9" y="1665.5" font-size="20.4" text-anchor="end" transform="rotate(-45 823.9 1665.5)">LP2</text>
<line x1="854.3" y1="1645.5" x2="854.3" y2="1649.3" stroke="#333" stroke-width="1.2"/>
<text x="859.8" y="1665.5" font-size="20.4" text-anchor="end" transform="rotate(-45 859.8 1665.5)">DLC</text>
<line x1="890.1" y1="1645.5" x2="890.1" y2="1649.3" stroke="#333" stroke-width="1.2"/>
<text x="895.6" y="1665.5" font-size="20.4" text-anchor="end" transform="rotate(-45 895.6 1665.5)">PMC</text>
<line x1="925.9" y1="1645.5" x2="925.9" y2="1649.3" stroke="#333" stroke-width="1.2"/>
<text x="931.4" y="1665.5" font-size="20.4" text-anchor="end" transform="rotate(-45 931.4 1665.5)">SPC</text>
<line x1="961.8" y1="1645.5" x2="961.8" y2="1649.3" stroke="#333" stroke-width="1.2"/>
<text x="967.3" y="1665.5" font-size="20.4" text-anchor="end" transform="rotate(-45 967.3 1665.5)">SC1</text>
<line x1="997.6" y1="1645.5" x2="997.6" y2="1649.3" stroke="#333" stroke-width="1.2"/>
<text x="1003.1" y="1665.5" font-size="20.4" text-anchor="end" transform="rotate(-45 1003.1 1665.5)">SC2</text>
<line x1="1033.4" y1="1645.5" x2="1033.4" y2="1649.3" stroke="#333" stroke-width="1.2"/>
<text x="1038.9" y="1665.5" font-size="20.4" text-anchor="end" transform="rotate(-45 1038.9 1665.5)">EC</text>
<line x1="1069.3" y1="1645.5" x2="1069.3" y2="1649.3" stroke="#333" stroke-width="1.2"/>
<text x="1074.8" y="1665.5" font-size="20.4" text-anchor="end" transform="rotate(-45 1074.8 1665.5)">MC</text>
<line x1="1105.1" y1="1645.5" x2="1105.1" y2="1649.3" stroke="#333" stroke-width="1.2"/>
<text x="1110.6" y="1665.5" font-size="20.4" text-anchor="end" transform="rotate(-45 1110.6 1665.5)">NK</text>
<text x="1437.0" y="1070.4" font-size="20.2" text-anchor="middle" font-weight="bold" font-style="italic">ACVR1</text>
<path d="M1213.8 1183.4L1213.4 1182.5L1212.5 1181.6L1211.4 1180.7L1212.0 1179.8L1212.7 1178.9L1213.4 1177.9L1214.0 1177.0L1214.6 1176.1L1215.1 1175.2L1215.5 1174.3L1215.7 1173.4L1215.8 1172.5L1215.7 1171.6L1215.5 1170.7L1215.1 1169.8L1214.6 1168.8L1214.0 1167.9L1213.4 1167.0L1212.7 1166.1L1212.0 1165.2L1211.4 1164.3L1210.7 1163.4L1210.2 1162.5L1209.7 1161.6L1209.3 1160.7L1208.9 1159.7L1208.6 1158.8L1208.4 1157.9L1208.2 1157.0L1208.1 1156.1L1208.0 1155.2L1208.0 1154.3L1208.0 1153.4L1208.0 1152.5L1208.0 1151.6L1208.0 1150.6L1208.0 1149.7L1208.0 1148.8L1208.0 1147.9L1208.0 1147.0L1207.6 1147.0L1207.6 1147.9L1207.6 1148.8L1207.6 1149.7L1207.6 1150.6L1207.6 1151.6L1207.6 1152.5L1207.6 1153.4L1207.6 1154.3L1207.6 1155.2L1207.5 1156.1L1207.4 1157.0L1207.2 1157.9L1207.0 1158.8L1206.7 1159.7L1206.3 1160.7L1205.9 1161.6L1205.4 1162.5L1204.9 1163.4L1204.2 1164.3L1203.6 1165.2L1202.9 1166.1L1202.2 1167.0L1201.6 1167.9L1201.0 1168.8L1200.5 1169.8L1200.1 1170.7L1199.9 1171.6L1199.8 1172.5L1199.9 1173.4L1200.1 1174.3L1200.5 1175.2L1201.0 1176.1L1201.6 1177.0L1202.2 1177.9L1202.9 1178.9L1203.6 1179.8L1204.2 1180.7L1203.1 1181.6L1202.2 1182.5L1201.8 1183.4Z" fill="#52BCB8" stroke="#333" stroke-width="0.85"/>
<path d="M1230.2 1183.4L1229.9 1182.5L1229.0 1181.7L1229.0 1180.8L1229.5 1179.9L1230.1 1179.1L1230.7 1178.2L1231.2 1177.3L1231.6 1176.5L1232.0 1175.6L1232.3 1174.8L1232.6 1173.9L1232.7 1173.0L1232.7 1172.2L1232.6 1171.3L1232.4 1170.4L1232.1 1169.6L1231.7 1168.7L1231.3 1167.8L1230.8 1167.0L1230.2 1166.1L1229.7 1165.2L1229.1 1164.4L1228.5 1163.5L1228.0 1162.7L1227.5 1161.8L1227.0 1160.9L1226.5 1160.1L1226.1 1159.2L1225.8 1158.3L1225.5 1157.5L1225.2 1156.6L1225.0 1155.7L1224.8 1154.9L1224.7 1154.0L1224.6 1153.1L1224.5 1152.3L1224.4 1151.4L1224.4 1150.5L1224.4 1149.7L1224.4 1148.8L1224.0 1148.8L1224.0 1149.7L1224.0 1150.5L1224.0 1151.4L1223.9 1152.3L1223.8 1153.1L1223.7 1154.0L1223.6 1154.9L1223.4 1155.7L1223.2 1156.6L1222.9 1157.5L1222.6 1158.3L1222.3 1159.2L1221.9 1160.1L1221.4 1160.9L1220.9 1161.8L1220.4 1162.7L1219.9 1163.5L1219.3 1164.4L1218.7 1165.2L1218.2 1166.1L1217.6 1167.0L1217.1 1167.8L1216.7 1168.7L1216.3 1169.6L1216.0 1170.4L1215.8 1171.3L1215.7 1172.2L1215.7 1173.0L1215.8 1173.9L1216.1 1174.8L1216.4 1175.6L1216.8 1176.5L1217.2 1177.3L1217.7 1178.2L1218.3 1179.1L1218.9 1179.9L1219.4 1180.8L1219.4 1181.7L1218.5 1182.5L1218.2 1183.4Z" fill="#D8B62C" stroke="#333" stroke-width="0.85"/>
<path d="M1235.7 1183.4H1251.7M1243.7 1183.4V1085.1" stroke="#555" stroke-width="1.0" fill="none"/>
<path d="M1268.1 1183.4L1267.7 1182.6L1266.8 1181.9L1265.4 1181.1L1264.0 1180.3L1262.7 1179.5L1261.7 1178.8L1261.0 1178.0L1260.5 1177.2L1260.3 1176.4L1260.2 1175.7L1260.2 1174.9L1260.2 1174.1L1260.2 1173.3L1260.2 1172.6L1260.3 1171.8L1260.5 1171.0L1260.7 1170.3L1261.0 1169.5L1261.4 1168.7L1261.8 1167.9L1262.1 1167.2L1262.4 1166.4L1262.6 1165.6L1262.6 1164.8L1262.4 1164.1L1262.1 1163.3L1261.8 1162.5L1261.4 1161.7L1261.1 1161.0L1260.8 1160.2L1260.5 1159.4L1260.3 1158.6L1260.2 1157.9L1260.2 1157.1L1260.2 1156.3L1260.2 1155.6L1260.2 1154.8L1260.2 1154.0L1260.2 1153.2L1260.2 1152.5L1259.9 1152.5L1259.9 1153.2L1259.9 1154.0L1259.9 1154.8L1259.9 1155.6L1259.9 1156.3L1259.9 1157.1L1259.9 1157.9L1259.8 1158.6L1259.6 1159.4L1259.4 1160.2L1259.1 1161.0L1258.7 1161.7L1258.4 1162.5L1258.0 1163.3L1257.7 1164.1L1257.6 1164.8L1257.6 1165.6L1257.8 1166.4L1258.0 1167.2L1258.4 1167.9L1258.8 1168.7L1259.1 1169.5L1259.4 1170.3L1259.7 1171.0L1259.8 1171.8L1259.9 1172.6L1259.9 1173.3L1259.9 1174.1L1259.9 1174.9L1259.9 1175.7L1259.9 1176.4L1259.6 1177.2L1259.2 1178.0L1258.5 1178.8L1257.5 1179.5L1256.2 1180.3L1254.8 1181.1L1253.4 1181.9L1252.4 1182.6L1252.1 1183.4Z" fill="#D8B62C" stroke="#333" stroke-width="0.85"/>
<path d="M1271.6 1183.4H1287.6M1279.6 1183.4V1099.7" stroke="#555" stroke-width="1.0" fill="none"/>
<path d="M1288.0 1183.4H1304.0M1296.0 1183.4V1143.4" stroke="#555" stroke-width="1.0" fill="none"/>
<path d="M1307.4 1183.4H1323.4M1315.4 1183.4V1128.8" stroke="#555" stroke-width="1.0" fill="none"/>
<path d="M1323.8 1183.4H1339.8M1331.8 1183.4V1127.0" stroke="#555" stroke-width="1.0" fill="none"/>
<path d="M1343.3 1183.4H1359.3M1351.3 1183.4V1090.6" stroke="#555" stroke-width="1.0" fill="none"/>
<path d="M1359.7 1183.4H1375.7M1367.7 1183.4V1092.4" stroke="#555" stroke-width="1.0" fill="none"/>
<path d="M1379.2 1183.4H1395.2M1387.2 1183.4V1114.2" stroke="#555" stroke-width="1.0" fill="none"/>
<path d="M1395.6 1183.4H1411.6M1403.6 1183.4V1108.8" stroke="#555" stroke-width="1.0" fill="none"/>
<path d="M1415.1 1183.4H1431.1M1423.1 1183.4V1147.0" stroke="#555" stroke-width="1.0" fill="none"/>
<path d="M1431.5 1183.4H1447.5M1439.5 1183.4V1145.2" stroke="#555" stroke-width="1.0" fill="none"/>
<path d="M1451.0 1183.4H1467.0M1459.0 1183.4V1125.2" stroke="#555" stroke-width="1.0" fill="none"/>
<path d="M1467.4 1183.4H1483.4M1475.4 1183.4V1125.2" stroke="#555" stroke-width="1.0" fill="none"/>
<path d="M1486.8 1183.4H1502.8M1494.8 1183.4V1103.3" stroke="#555" stroke-width="1.0" fill="none"/>
<path d="M1503.2 1183.4H1519.2M1511.2 1183.4V1116.1" stroke="#555" stroke-width="1.0" fill="none"/>
<path d="M1522.7 1183.4H1538.7M1530.7 1183.4V1094.2" stroke="#555" stroke-width="1.0" fill="none"/>
<path d="M1539.1 1183.4H1555.1M1547.1 1183.4V1085.1" stroke="#555" stroke-width="1.0" fill="none"/>
<path d="M1558.6 1183.4H1574.6M1566.6 1183.4V1130.6" stroke="#555" stroke-width="1.0" fill="none"/>
<path d="M1575.0 1183.4H1591.0M1583.0 1183.4V1130.6" stroke="#555" stroke-width="1.0" fill="none"/>
<path d="M1594.5 1183.4H1610.5M1602.5 1183.4V1103.3" stroke="#555" stroke-width="1.0" fill="none"/>
<path d="M1626.9 1183.4L1624.5 1181.7L1620.8 1179.9L1619.2 1178.2L1619.0 1176.5L1619.1 1174.8L1619.1 1173.0L1619.2 1171.3L1619.3 1169.6L1619.5 1167.8L1619.6 1166.1L1619.6 1164.4L1619.7 1162.7L1619.7 1160.9L1619.6 1159.2L1619.6 1157.5L1619.5 1155.7L1619.4 1154.0L1619.3 1152.3L1619.2 1150.5L1619.1 1148.8L1619.0 1147.1L1619.0 1145.4L1619.0 1143.6L1619.0 1141.9L1619.0 1140.2L1619.0 1138.4L1619.0 1136.7L1619.0 1135.0L1619.0 1133.3L1619.0 1131.5L1619.0 1129.8L1619.0 1128.1L1619.0 1126.3L1619.0 1124.6L1619.0 1122.9L1619.0 1121.2L1619.0 1119.4L1619.0 1117.7L1619.0 1116.0L1619.0 1114.2L1618.7 1114.2L1618.7 1116.0L1618.7 1117.7L1618.7 1119.4L1618.7 1121.2L1618.7 1122.9L1618.7 1124.6L1618.7 1126.3L1618.7 1128.1L1618.7 1129.8L1618.7 1131.5L1618.7 1133.3L1618.7 1135.0L1618.7 1136.7L1618.7 1138.4L1618.7 1140.2L1618.7 1141.9L1618.7 1143.6L1618.7 1145.4L1618.7 1147.1L1618.7 1148.8L1618.6 1150.5L1618.5 1152.3L1618.4 1154.0L1618.3 1155.7L1618.2 1157.5L1618.1 1159.2L1618.1 1160.9L1618.1 1162.7L1618.1 1164.4L1618.2 1166.1L1618.3 1167.8L1618.4 1169.6L1618.5 1171.3L1618.6 1173.0L1618.7 1174.8L1618.7 1176.5L1618.5 1178.2L1616.9 1179.9L1613.3 1181.7L1610.9 1183.4Z" fill="#D8B62C" stroke="#333" stroke-width="0.85"/>
<path d="M1630.4 1183.4H1646.4M1638.4 1183.4V1097.9" stroke="#555" stroke-width="1.0" fill="none"/>
<path d="M1646.8 1183.4H1662.8M1654.8 1183.4V1108.8" stroke="#555" stroke-width="1.0" fill="none"/>
<path d="M1666.2 1183.4H1682.2M1674.2 1183.4V1136.1" stroke="#555" stroke-width="1.0" fill="none"/>
<path d="M1682.6 1183.4H1698.6M1690.6 1183.4V1168.8" stroke="#555" stroke-width="1.0" fill="none"/>
<path d="M1195.2 1080.2V1188.6H1704.0" stroke="#333" stroke-width="1.3" fill="none"/>
<line x1="1191.6" y1="1183.4" x2="1195.2" y2="1183.4" stroke="#333" stroke-width="1.2"/>
<text x="1187.0" y="1189.4" font-size="16.8" text-anchor="end">0</text>
<line x1="1191.6" y1="1147.0" x2="1195.2" y2="1147.0" stroke="#333" stroke-width="1.2"/>
<text x="1187.0" y="1153.0" font-size="16.8" text-anchor="end">1</text>
<line x1="1191.6" y1="1110.6" x2="1195.2" y2="1110.6" stroke="#333" stroke-width="1.2"/>
<text x="1187.0" y="1116.6" font-size="16.8" text-anchor="end">2</text>
<text x="1437.0" y="1225.3" font-size="20.2" text-anchor="middle" font-weight="bold" font-style="italic">TGFBR1</text>
<path d="M1215.8 1339.5L1215.4 1338.1L1214.3 1336.7L1213.8 1335.4L1214.2 1334.0L1214.6 1332.6L1214.8 1331.2L1214.8 1329.9L1214.6 1328.5L1214.2 1327.1L1213.7 1325.7L1213.1 1324.3L1212.5 1323.0L1211.8 1321.6L1211.1 1320.2L1210.5 1318.8L1209.9 1317.4L1209.4 1316.1L1209.0 1314.7L1208.7 1313.3L1208.4 1311.9L1208.2 1310.6L1208.1 1309.2L1208.0 1307.8L1208.0 1306.4L1208.0 1305.0L1208.0 1303.7L1208.0 1302.3L1208.0 1300.9L1208.0 1299.5L1208.0 1298.2L1208.0 1296.8L1208.0 1295.4L1208.0 1294.0L1208.0 1292.6L1208.0 1291.3L1208.0 1289.9L1208.0 1288.5L1208.0 1287.1L1208.0 1285.7L1208.0 1284.4L1207.6 1284.4L1207.6 1285.7L1207.6 1287.1L1207.6 1288.5L1207.6 1289.9L1207.6 1291.3L1207.6 1292.6L1207.6 1294.0L1207.6 1295.4L1207.6 1296.8L1207.6 1298.2L1207.6 1299.5L1207.6 1300.9L1207.6 1302.3L1207.6 1303.7L1207.6 1305.0L1207.6 1306.4L1207.6 1307.8L1207.5 1309.2L1207.4 1310.6L1207.2 1311.9L1206.9 1313.3L1206.6 1314.7L1206.2 1316.1L1205.7 1317.4L1205.1 1318.8L1204.5 1320.2L1203.8 1321.6L1203.1 1323.0L1202.5 1324.3L1201.9 1325.7L1201.4 1327.1L1201.0 1328.5L1200.8 1329.9L1200.8 1331.2L1201.0 1332.6L1201.4 1334.0L1201.8 1335.4L1201.3 1336.7L1200.2 1338.1L1199.8 1339.5Z" fill="#52BCB8" stroke="#333" stroke-width="0.85"/>
<path d="M1231.2 1339.5L1230.0 1338.2L1227.8 1337.0L1228.6 1335.7L1229.4 1334.4L1230.2 1333.2L1230.9 1331.9L1231.5 1330.6L1232.0 1329.4L1232.2 1328.1L1232.2 1326.8L1231.9 1325.6L1231.4 1324.3L1230.8 1323.0L1230.1 1321.8L1229.2 1320.5L1228.4 1319.2L1227.6 1318.0L1226.9 1316.7L1226.3 1315.4L1225.7 1314.2L1225.3 1312.9L1225.0 1311.6L1224.7 1310.4L1224.5 1309.1L1224.4 1307.8L1224.4 1306.6L1224.4 1305.3L1224.4 1304.0L1224.4 1302.8L1224.4 1301.5L1224.4 1300.2L1224.4 1299.0L1224.4 1297.7L1224.4 1296.4L1224.4 1295.2L1224.4 1293.9L1224.4 1292.6L1224.4 1291.4L1224.4 1290.1L1224.4 1288.8L1224.0 1288.8L1224.0 1290.1L1224.0 1291.4L1224.0 1292.6L1224.0 1293.9L1224.0 1295.2L1224.0 1296.4L1224.0 1297.7L1224.0 1299.0L1224.0 1300.2L1224.0 1301.5L1224.0 1302.8L1224.0 1304.0L1224.0 1305.3L1224.0 1306.6L1224.0 1307.8L1223.9 1309.1L1223.7 1310.4L1223.4 1311.6L1223.1 1312.9L1222.7 1314.2L1222.1 1315.4L1221.5 1316.7L1220.8 1318.0L1220.0 1319.2L1219.2 1320.5L1218.3 1321.8L1217.6 1323.0L1217.0 1324.3L1216.5 1325.6L1216.2 1326.8L1216.2 1328.1L1216.4 1329.4L1216.9 1330.6L1217.5 1331.9L1218.2 1333.2L1219.0 1334.4L1219.8 1335.7L1220.6 1337.0L1218.4 1338.2L1217.2 1339.5Z" fill="#D8B62C" stroke="#333" stroke-width="0.85"/>
<path d="M1251.7 1339.5L1250.3 1337.9L1247.4 1336.4L1245.1 1334.8L1244.1 1333.2L1243.8 1331.7L1244.1 1330.1L1244.6 1328.5L1245.2 1327.0L1245.6 1325.4L1245.6 1323.9L1245.2 1322.3L1244.6 1320.7L1244.1 1319.2L1243.9 1317.6L1243.8 1316.0L1243.8 1314.5L1243.8 1312.9L1243.8 1311.3L1243.8 1309.8L1243.8 1308.2L1243.8 1306.6L1243.8 1305.1L1243.8 1303.5L1243.8 1302.0L1243.8 1300.4L1243.8 1298.8L1243.8 1297.3L1243.8 1295.7L1243.8 1294.1L1243.8 1292.6L1243.8 1291.0L1243.8 1289.4L1243.8 1287.9L1243.8 1286.3L1243.8 1284.7L1243.8 1283.2L1243.8 1281.6L1243.8 1280.0L1243.8 1278.5L1243.8 1276.9L1243.5 1276.9L1243.5 1278.5L1243.5 1280.0L1243.5 1281.6L1243.5 1283.2L1243.5 1284.7L1243.5 1286.3L1243.5 1287.9L1243.5 1289.4L1243.5 1291.0L1243.5 1292.6L1243.5 1294.1L1243.5 1295.7L1243.5 1297.3L1243.5 1298.8L1243.5 1300.4L1243.5 1302.0L1243.5 1303.5L1243.5 1305.1L1243.5 1306.6L1243.5 1308.2L1243.5 1309.8L1243.5 1311.3L1243.5 1312.9L1243.5 1314.5L1243.5 1316.0L1243.5 1317.6L1243.2 1319.2L1242.7 1320.7L1242.1 1322.3L1241.7 1323.9L1241.7 1325.4L1242.2 1327.0L1242.8 1328.5L1243.2 1330.1L1243.5 1331.7L1243.3 1333.2L1242.3 1334.8L1240.0 1336.4L1237.1 1337.9L1235.7 1339.5Z" fill="#52BCB8" stroke="#333" stroke-width="0.85"/>
<path d="M1268.1 1339.5L1266.4 1337.8L1263.3 1336.1L1261.1 1334.4L1260.7 1332.6L1261.4 1330.9L1262.3 1329.2L1263.2 1327.5L1263.9 1325.8L1264.0 1324.1L1263.6 1322.4L1262.7 1320.7L1261.7 1318.9L1260.9 1317.2L1260.5 1315.5L1260.2 1313.8L1260.2 1312.1L1260.2 1310.4L1260.2 1308.7L1260.2 1306.9L1260.2 1305.2L1260.2 1303.5L1260.2 1301.8L1260.2 1300.1L1260.2 1298.4L1260.2 1296.7L1260.2 1294.9L1260.2 1293.2L1260.2 1291.5L1260.2 1289.8L1260.2 1288.1L1260.2 1286.4L1260.2 1284.7L1260.2 1283.0L1260.2 1281.2L1260.2 1279.5L1260.2 1277.8L1260.2 1276.1L1260.2 1274.4L1260.2 1272.7L1260.2 1271.0L1259.9 1271.0L1259.9 1272.7L1259.9 1274.4L1259.9 1276.1L1259.9 1277.8L1259.9 1279.5L1259.9 1281.2L1259.9 1283.0L1259.9 1284.7L1259.9 1286.4L1259.9 1288.1L1259.9 1289.8L1259.9 1291.5L1259.9 1293.2L1259.9 1294.9L1259.9 1296.7L1259.9 1298.4L1259.9 1300.1L1259.9 1301.8L1259.9 1303.5L1259.9 1305.2L1259.9 1306.9L1259.9 1308.7L1259.9 1310.4L1259.9 1312.1L1259.9 1313.8L1259.7 1315.5L1259.2 1317.2L1258.5 1318.9L1257.5 1320.7L1256.6 1322.4L1256.1 1324.1L1256.2 1325.8L1256.9 1327.5L1257.9 1329.2L1258.8 1330.9L1259.4 1332.6L1259.1 1334.4L1256.9 1336.1L1253.7 1337.8L1252.1 1339.5Z" fill="#D8B62C" stroke="#333" stroke-width="0.85"/>
<path d="M1287.6 1339.5L1285.5 1337.6L1282.0 1335.6L1280.1 1333.7L1279.7 1331.8L1279.7 1329.8L1279.9 1327.9L1280.5 1325.9L1281.4 1324.0L1282.0 1322.1L1281.8 1320.1L1280.9 1318.2L1280.2 1316.3L1279.7 1314.3L1279.7 1312.4L1279.7 1310.4L1279.7 1308.5L1279.7 1306.6L1279.7 1304.6L1279.7 1302.7L1279.7 1300.8L1279.7 1298.8L1279.7 1296.9L1279.7 1294.9L1279.7 1293.0L1279.7 1291.1L1279.7 1289.1L1279.7 1287.2L1279.7 1285.3L1279.7 1283.3L1279.7 1281.4L1279.7 1279.5L1279.7 1277.5L1279.7 1275.6L1279.7 1273.6L1279.7 1271.7L1279.7 1269.8L1279.7 1267.8L1279.7 1265.9L1279.7 1264.0L1279.7 1262.0L1279.4 1262.0L1279.4 1264.0L1279.4 1265.9L1279.4 1267.8L1279.4 1269.8L1279.4 1271.7L1279.4 1273.6L1279.4 1275.6L1279.4 1277.5L1279.4 1279.5L1279.4 1281.4L1279.4 1283.3L1279.4 1285.3L1279.4 1287.2L1279.4 1289.1L1279.4 1291.1L1279.4 1293.0L1279.4 1294.9L1279.4 1296.9L1279.4 1298.8L1279.4 1300.8L1279.4 1302.7L1279.4 1304.6L1279.4 1306.6L1279.4 1308.5L1279.4 1310.4L1279.4 1312.4L1279.4 1314.3L1279.0 1316.3L1278.2 1318.2L1277.3 1320.1L1277.1 1322.1L1277.7 1324.0L1278.6 1325.9L1279.2 1327.9L1279.4 1329.8L1279.4 1331.8L1279.0 1333.7L1277.1 1335.6L1273.6 1337.6L1271.6 1339.5Z" fill="#52BCB8" stroke="#333" stroke-width="0.85"/>
<path d="M1304.0 1339.5L1303.0 1338.2L1300.8 1337.0L1298.5 1335.7L1297.0 1334.4L1296.5 1333.2L1296.9 1331.9L1297.4 1330.6L1298.1 1329.4L1298.8 1328.1L1299.4 1326.8L1299.9 1325.6L1300.0 1324.3L1299.7 1323.0L1299.2 1321.8L1298.5 1320.5L1297.7 1319.2L1297.1 1318.0L1296.7 1316.7L1296.3 1315.4L1296.1 1314.2L1296.1 1312.9L1296.1 1311.6L1296.1 1310.4L1296.1 1309.1L1296.1 1307.8L1296.1 1306.6L1296.1 1305.3L1296.1 1304.0L1296.1 1302.8L1296.1 1301.5L1296.1 1300.2L1296.1 1299.0L1296.1 1297.7L1296.1 1296.4L1296.1 1295.2L1296.1 1293.9L1296.1 1292.6L1296.1 1291.4L1296.1 1290.1L1296.1 1288.8L1295.8 1288.8L1295.8 1290.1L1295.8 1291.4L1295.8 1292.6L1295.8 1293.9L1295.8 1295.2L1295.8 1296.4L1295.8 1297.7L1295.8 1299.0L1295.8 1300.2L1295.8 1301.5L1295.8 1302.8L1295.8 1304.0L1295.8 1305.3L1295.8 1306.6L1295.8 1307.8L1295.8 1309.1L1295.8 1310.4L1295.8 1311.6L1295.8 1312.9L1295.8 1314.2L1295.6 1315.4L1295.3 1316.7L1294.8 1318.0L1294.2 1319.2L1293.5 1320.5L1292.8 1321.8L1292.2 1323.0L1292.0 1324.3L1292.1 1325.6L1292.5 1326.8L1293.1 1328.1L1293.9 1329.4L1294.5 1330.6L1295.1 1331.9L1295.5 1333.2L1294.9 1334.4L1293.4 1335.7L1291.1 1337.0L1288.9 1338.2L1288.0 1339.5Z" fill="#D8B62C" stroke="#333" stroke-width="0.85"/>
<path d="M1307.4 1339.5H1323.4M1315.4 1339.5V1288.8" stroke="#555" stroke-width="1.0" fill="none"/>
<path d="M1323.8 1339.5H1339.8M1331.8 1339.5V1294.8" stroke="#555" stroke-width="1.0" fill="none"/>
<path d="M1343.3 1339.5H1359.3M1351.3 1339.5V1253.1" stroke="#555" stroke-width="1.0" fill="none"/>
<path d="M1359.7 1339.5H1375.7M1367.7 1339.5V1259.0" stroke="#555" stroke-width="1.0" fill="none"/>
<path d="M1379.2 1339.5H1395.2M1387.2 1339.5V1288.8" stroke="#555" stroke-width="1.0" fill="none"/>
<path d="M1395.6 1339.5H1411.6M1403.6 1339.5V1266.5" stroke="#555" stroke-width="1.0" fill="none"/>
<path d="M1415.1 1339.5H1431.1M1423.1 1339.5V1282.9" stroke="#555" stroke-width="1.0" fill="none"/>
<path d="M1431.5 1339.5H1447.5M1439.5 1339.5V1293.3" stroke="#555" stroke-width="1.0" fill="none"/>
<path d="M1451.0 1339.5H1467.0M1459.0 1339.5V1256.1" stroke="#555" stroke-width="1.0" fill="none"/>
<path d="M1467.4 1339.5H1483.4M1475.4 1339.5V1294.8" stroke="#555" stroke-width="1.0" fill="none"/>
<path d="M1486.8 1339.5H1502.8M1494.8 1339.5V1269.5" stroke="#555" stroke-width="1.0" fill="none"/>
<path d="M1503.2 1339.5H1519.2M1511.2 1339.5V1273.9" stroke="#555" stroke-width="1.0" fill="none"/>
<path d="M1522.7 1339.5H1538.7M1530.7 1339.5V1262.0" stroke="#555" stroke-width="1.0" fill="none"/>
<path d="M1539.1 1339.5H1555.1M1547.1 1339.5V1244.1" stroke="#555" stroke-width="1.0" fill="none"/>
<path d="M1558.6 1339.5H1574.6M1566.6 1339.5V1284.4" stroke="#555" stroke-width="1.0" fill="none"/>
<path d="M1575.0 1339.5H1591.0M1583.0 1339.5V1285.9" stroke="#555" stroke-width="1.0" fill="none"/>
<path d="M1594.5 1339.5H1610.5M1602.5 1339.5V1285.9" stroke="#555" stroke-width="1.0" fill="none"/>
<path d="M1610.9 1339.5H1626.9M1618.9 1339.5V1250.1" stroke="#555" stroke-width="1.0" fill="none"/>
<path d="M1646.4 1339.5L1643.3 1337.0L1639.5 1334.5L1638.5 1332.0L1638.5 1329.5L1638.6 1327.0L1638.7 1324.5L1638.8 1322.0L1638.9 1319.5L1639.0 1317.0L1639.1 1314.5L1639.1 1312.0L1639.2 1309.6L1639.1 1307.1L1639.1 1304.6L1639.0 1302.1L1638.9 1299.6L1638.8 1297.1L1638.6 1294.6L1638.6 1292.1L1638.5 1289.6L1638.5 1287.1L1638.5 1284.6L1638.5 1282.1L1638.5 1279.6L1638.5 1277.1L1638.5 1274.6L1638.5 1272.1L1638.5 1269.6L1638.5 1267.1L1638.5 1264.6L1638.5 1262.1L1638.5 1259.6L1638.5 1257.1L1638.5 1254.6L1638.5 1252.1L1638.5 1249.7L1638.5 1247.2L1638.5 1244.7L1638.5 1242.2L1638.5 1239.7L1638.2 1239.7L1638.2 1242.2L1638.2 1244.7L1638.2 1247.2L1638.2 1249.7L1638.2 1252.1L1638.2 1254.6L1638.2 1257.1L1638.2 1259.6L1638.2 1262.1L1638.2 1264.6L1638.2 1267.1L1638.2 1269.6L1638.2 1272.1L1638.2 1274.6L1638.2 1277.1L1638.2 1279.6L1638.2 1282.1L1638.2 1284.6L1638.2 1287.1L1638.2 1289.6L1638.2 1292.1L1638.1 1294.6L1638.0 1297.1L1637.9 1299.6L1637.7 1302.1L1637.6 1304.6L1637.6 1307.1L1637.6 1309.6L1637.6 1312.0L1637.6 1314.5L1637.7 1317.0L1637.8 1319.5L1638.0 1322.0L1638.1 1324.5L1638.2 1327.0L1638.2 1329.5L1638.2 1332.0L1637.2 1334.5L1633.4 1337.0L1630.4 1339.5Z" fill="#52BCB8" stroke="#333" stroke-width="0.85"/>
<path d="M1662.8 1339.5L1660.0 1337.2L1656.3 1334.9L1654.9 1332.6L1655.0 1330.3L1655.1 1328.0L1655.2 1325.6L1655.4 1323.3L1655.6 1321.0L1655.8 1318.7L1656.0 1316.4L1656.1 1314.1L1656.2 1311.8L1656.3 1309.5L1656.2 1307.2L1656.1 1304.9L1656.0 1302.5L1655.8 1300.2L1655.6 1297.9L1655.4 1295.6L1655.2 1293.3L1655.1 1291.0L1655.0 1288.7L1654.9 1286.4L1654.9 1284.1L1654.9 1281.8L1654.9 1279.5L1654.9 1277.1L1654.9 1274.8L1654.9 1272.5L1654.9 1270.2L1654.9 1267.9L1654.9 1265.6L1654.9 1263.3L1654.9 1261.0L1654.9 1258.7L1654.9 1256.4L1654.9 1254.0L1654.9 1251.7L1654.9 1249.4L1654.9 1247.1L1654.6 1247.1L1654.6 1249.4L1654.6 1251.7L1654.6 1254.0L1654.6 1256.4L1654.6 1258.7L1654.6 1261.0L1654.6 1263.3L1654.6 1265.6L1654.6 1267.9L1654.6 1270.2L1654.6 1272.5L1654.6 1274.8L1654.6 1277.1L1654.6 1279.5L1654.6 1281.8L1654.6 1284.1L1654.6 1286.4L1654.6 1288.7L1654.4 1291.0L1654.3 1293.3L1654.1 1295.6L1654.0 1297.9L1653.8 1300.2L1653.6 1302.5L1653.4 1304.9L1653.3 1307.2L1653.3 1309.5L1653.3 1311.8L1653.4 1314.1L1653.5 1316.4L1653.7 1318.7L1653.9 1321.0L1654.1 1323.3L1654.3 1325.6L1654.4 1328.0L1654.5 1330.3L1654.6 1332.6L1653.3 1334.9L1649.5 1337.2L1646.8 1339.5Z" fill="#D8B62C" stroke="#333" stroke-width="0.85"/>
<path d="M1666.2 1339.5H1682.2M1674.2 1339.5V1300.8" stroke="#555" stroke-width="1.0" fill="none"/>
<path d="M1682.6 1339.5H1698.6M1690.6 1339.5V1300.8" stroke="#555" stroke-width="1.0" fill="none"/>
<path d="M1195.2 1236.0V1344.4H1704.0" stroke="#333" stroke-width="1.3" fill="none"/>
<line x1="1191.6" y1="1339.5" x2="1195.2" y2="1339.5" stroke="#333" stroke-width="1.2"/>
<text x="1187.0" y="1345.5" font-size="16.8" text-anchor="end">0</text>
<line x1="1191.6" y1="1309.7" x2="1195.2" y2="1309.7" stroke="#333" stroke-width="1.2"/>
<text x="1187.0" y="1315.7" font-size="16.8" text-anchor="end">1</text>
<line x1="1191.6" y1="1279.9" x2="1195.2" y2="1279.9" stroke="#333" stroke-width="1.2"/>
<text x="1187.0" y="1285.9" font-size="16.8" text-anchor="end">2</text>
<line x1="1191.6" y1="1250.1" x2="1195.2" y2="1250.1" stroke="#333" stroke-width="1.2"/>
<text x="1187.0" y="1256.1" font-size="16.8" text-anchor="end">3</text>
<text x="1437.0" y="1375.9" font-size="20.2" text-anchor="middle" font-weight="bold" font-style="italic">EP300</text>
<path d="M1215.8 1489.3L1215.1 1487.4L1213.7 1485.5L1214.5 1483.7L1215.1 1481.8L1215.6 1479.9L1215.8 1478.0L1215.8 1476.1L1215.5 1474.2L1215.0 1472.4L1214.3 1470.5L1213.5 1468.6L1212.7 1466.7L1211.9 1464.8L1211.0 1463.0L1210.3 1461.1L1209.7 1459.2L1209.2 1457.3L1208.8 1455.4L1208.5 1453.6L1208.2 1451.7L1208.1 1449.8L1208.0 1447.9L1208.0 1446.0L1208.0 1444.1L1208.0 1442.3L1208.0 1440.4L1208.0 1438.5L1208.0 1436.6L1208.0 1434.7L1208.0 1432.9L1208.0 1431.0L1208.0 1429.1L1208.0 1427.2L1208.0 1425.3L1208.0 1423.5L1208.0 1421.6L1208.0 1419.7L1208.0 1417.8L1208.0 1415.9L1208.0 1414.0L1207.6 1414.0L1207.6 1415.9L1207.6 1417.8L1207.6 1419.7L1207.6 1421.6L1207.6 1423.5L1207.6 1425.3L1207.6 1427.2L1207.6 1429.1L1207.6 1431.0L1207.6 1432.9L1207.6 1434.7L1207.6 1436.6L1207.6 1438.5L1207.6 1440.4L1207.6 1442.3L1207.6 1444.1L1207.6 1446.0L1207.6 1447.9L1207.5 1449.8L1207.4 1451.7L1207.1 1453.6L1206.8 1455.4L1206.4 1457.3L1205.9 1459.2L1205.3 1461.1L1204.6 1463.0L1203.7 1464.8L1202.9 1466.7L1202.1 1468.6L1201.3 1470.5L1200.6 1472.4L1200.1 1474.2L1199.8 1476.1L1199.8 1478.0L1200.0 1479.9L1200.5 1481.8L1201.1 1483.7L1201.9 1485.5L1200.5 1487.4L1199.8 1489.3Z" fill="#52BCB8" stroke="#333" stroke-width="0.85"/>
<path d="M1229.2 1489.3L1228.6 1488.2L1227.2 1487.1L1225.7 1486.0L1225.7 1484.9L1226.1 1483.8L1226.6 1482.8L1227.2 1481.7L1227.9 1480.6L1228.5 1479.5L1229.2 1478.4L1229.9 1477.3L1230.6 1476.2L1231.2 1475.1L1231.7 1474.0L1232.0 1472.9L1232.2 1471.8L1232.2 1470.8L1232.0 1469.7L1231.7 1468.6L1231.2 1467.5L1230.7 1466.4L1230.0 1465.3L1229.3 1464.2L1228.6 1463.1L1227.9 1462.0L1227.3 1460.9L1226.7 1459.8L1226.2 1458.7L1225.7 1457.7L1225.3 1456.6L1225.1 1455.5L1224.8 1454.4L1224.6 1453.3L1224.5 1452.2L1224.4 1451.1L1224.4 1450.0L1224.4 1448.9L1224.4 1447.8L1224.4 1446.7L1224.4 1445.7L1224.0 1445.7L1224.0 1446.7L1224.0 1447.8L1224.0 1448.9L1224.0 1450.0L1224.0 1451.1L1223.9 1452.2L1223.8 1453.3L1223.6 1454.4L1223.3 1455.5L1223.1 1456.6L1222.7 1457.7L1222.2 1458.7L1221.7 1459.8L1221.1 1460.9L1220.5 1462.0L1219.8 1463.1L1219.1 1464.2L1218.4 1465.3L1217.7 1466.4L1217.2 1467.5L1216.7 1468.6L1216.4 1469.7L1216.2 1470.8L1216.2 1471.8L1216.4 1472.9L1216.7 1474.0L1217.2 1475.1L1217.8 1476.2L1218.5 1477.3L1219.2 1478.4L1219.9 1479.5L1220.5 1480.6L1221.2 1481.7L1221.8 1482.8L1222.3 1483.8L1222.7 1484.9L1222.7 1486.0L1221.2 1487.1L1219.8 1488.2L1219.2 1489.3Z" fill="#D8B62C" stroke="#333" stroke-width="0.85"/>
<path d="M1251.7 1489.3L1250.2 1487.7L1247.3 1486.1L1245.0 1484.4L1244.0 1482.8L1243.8 1481.2L1244.0 1479.6L1244.2 1478.0L1244.6 1476.4L1245.1 1474.7L1245.6 1473.1L1246.2 1471.5L1246.5 1469.9L1246.7 1468.3L1246.6 1466.6L1246.2 1465.0L1245.7 1463.4L1245.1 1461.8L1244.6 1460.2L1244.3 1458.6L1244.0 1456.9L1243.8 1455.3L1243.8 1453.7L1243.8 1452.1L1243.8 1450.5L1243.8 1448.9L1243.8 1447.2L1243.8 1445.6L1243.8 1444.0L1243.8 1442.4L1243.8 1440.8L1243.8 1439.1L1243.8 1437.5L1243.8 1435.9L1243.8 1434.3L1243.8 1432.7L1243.8 1431.1L1243.8 1429.4L1243.8 1427.8L1243.8 1426.2L1243.8 1424.6L1243.5 1424.6L1243.5 1426.2L1243.5 1427.8L1243.5 1429.4L1243.5 1431.1L1243.5 1432.7L1243.5 1434.3L1243.5 1435.9L1243.5 1437.5L1243.5 1439.1L1243.5 1440.8L1243.5 1442.4L1243.5 1444.0L1243.5 1445.6L1243.5 1447.2L1243.5 1448.9L1243.5 1450.5L1243.5 1452.1L1243.5 1453.7L1243.5 1455.3L1243.4 1456.9L1243.1 1458.6L1242.7 1460.2L1242.2 1461.8L1241.7 1463.4L1241.2 1465.0L1240.8 1466.6L1240.7 1468.3L1240.8 1469.9L1241.2 1471.5L1241.7 1473.1L1242.3 1474.7L1242.7 1476.4L1243.1 1478.0L1243.4 1479.6L1243.5 1481.2L1243.4 1482.8L1242.4 1484.4L1240.1 1486.1L1237.1 1487.7L1235.7 1489.3Z" fill="#52BCB8" stroke="#333" stroke-width="0.85"/>
<path d="M1268.1 1489.3L1266.9 1487.5L1265.0 1485.6L1266.1 1483.8L1267.0 1481.9L1267.7 1480.1L1268.0 1478.2L1268.0 1476.4L1267.7 1474.6L1267.0 1472.7L1266.1 1470.9L1265.1 1469.0L1264.0 1467.2L1263.1 1465.3L1262.2 1463.5L1261.6 1461.6L1261.1 1459.8L1260.7 1458.0L1260.4 1456.1L1260.3 1454.3L1260.2 1452.4L1260.2 1450.6L1260.2 1448.7L1260.2 1446.9L1260.2 1445.1L1260.2 1443.2L1260.2 1441.4L1260.2 1439.5L1260.2 1437.7L1260.2 1435.8L1260.2 1434.0L1260.2 1432.1L1260.2 1430.3L1260.2 1428.5L1260.2 1426.6L1260.2 1424.8L1260.2 1422.9L1260.2 1421.1L1260.2 1419.2L1260.2 1417.4L1260.2 1415.6L1259.9 1415.6L1259.9 1417.4L1259.9 1419.2L1259.9 1421.1L1259.9 1422.9L1259.9 1424.8L1259.9 1426.6L1259.9 1428.5L1259.9 1430.3L1259.9 1432.1L1259.9 1434.0L1259.9 1435.8L1259.9 1437.7L1259.9 1439.5L1259.9 1441.4L1259.9 1443.2L1259.9 1445.1L1259.9 1446.9L1259.9 1448.7L1259.9 1450.6L1259.9 1452.4L1259.9 1454.3L1259.7 1456.1L1259.5 1458.0L1259.1 1459.8L1258.6 1461.6L1257.9 1463.5L1257.1 1465.3L1256.1 1467.2L1255.1 1469.0L1254.0 1470.9L1253.1 1472.7L1252.5 1474.6L1252.1 1476.4L1252.1 1478.2L1252.5 1480.1L1253.2 1481.9L1254.1 1483.8L1255.1 1485.6L1253.3 1487.5L1252.1 1489.3Z" fill="#D8B62C" stroke="#333" stroke-width="0.85"/>
<path d="M1287.6 1489.3L1285.9 1487.5L1282.6 1485.8L1280.5 1484.0L1279.7 1482.2L1279.7 1480.5L1279.7 1478.7L1279.9 1476.9L1280.2 1475.2L1280.8 1473.4L1281.4 1471.6L1281.9 1469.8L1282.1 1468.1L1281.8 1466.3L1281.3 1464.5L1280.7 1462.8L1280.2 1461.0L1279.8 1459.2L1279.7 1457.5L1279.7 1455.7L1279.7 1453.9L1279.7 1452.2L1279.7 1450.4L1279.7 1448.6L1279.7 1446.9L1279.7 1445.1L1279.7 1443.3L1279.7 1441.6L1279.7 1439.8L1279.7 1438.0L1279.7 1436.2L1279.7 1434.5L1279.7 1432.7L1279.7 1430.9L1279.7 1429.2L1279.7 1427.4L1279.7 1425.6L1279.7 1423.9L1279.7 1422.1L1279.7 1420.3L1279.7 1418.6L1279.4 1418.6L1279.4 1420.3L1279.4 1422.1L1279.4 1423.9L1279.4 1425.6L1279.4 1427.4L1279.4 1429.2L1279.4 1430.9L1279.4 1432.7L1279.4 1434.5L1279.4 1436.2L1279.4 1438.0L1279.4 1439.8L1279.4 1441.6L1279.4 1443.3L1279.4 1445.1L1279.4 1446.9L1279.4 1448.6L1279.4 1450.4L1279.4 1452.2L1279.4 1453.9L1279.4 1455.7L1279.4 1457.5L1279.3 1459.2L1279.0 1461.0L1278.5 1462.8L1277.8 1464.5L1277.3 1466.3L1277.1 1468.1L1277.2 1469.8L1277.7 1471.6L1278.4 1473.4L1278.9 1475.2L1279.2 1476.9L1279.4 1478.7L1279.4 1480.5L1279.4 1482.2L1278.6 1484.0L1276.5 1485.8L1273.3 1487.5L1271.6 1489.3Z" fill="#52BCB8" stroke="#333" stroke-width="0.85"/>
<path d="M1304.0 1489.3L1302.9 1487.9L1300.4 1486.5L1298.1 1485.1L1296.7 1483.7L1296.2 1482.3L1296.2 1480.9L1296.4 1479.6L1296.7 1478.2L1297.1 1476.8L1297.6 1475.4L1298.2 1474.0L1298.8 1472.6L1299.4 1471.2L1299.8 1469.8L1300.0 1468.4L1299.9 1467.0L1299.5 1465.6L1299.0 1464.2L1298.4 1462.8L1297.7 1461.5L1297.2 1460.1L1296.8 1458.7L1296.4 1457.3L1296.2 1455.9L1296.1 1454.5L1296.1 1453.1L1296.1 1451.7L1296.1 1450.3L1296.1 1448.9L1296.1 1447.5L1296.1 1446.1L1296.1 1444.8L1296.1 1443.4L1296.1 1442.0L1296.1 1440.6L1296.1 1439.2L1296.1 1437.8L1296.1 1436.4L1296.1 1435.0L1296.1 1433.6L1295.8 1433.6L1295.8 1435.0L1295.8 1436.4L1295.8 1437.8L1295.8 1439.2L1295.8 1440.6L1295.8 1442.0L1295.8 1443.4L1295.8 1444.8L1295.8 1446.1L1295.8 1447.5L1295.8 1448.9L1295.8 1450.3L1295.8 1451.7L1295.8 1453.1L1295.8 1454.5L1295.7 1455.9L1295.5 1457.3L1295.2 1458.7L1294.7 1460.1L1294.2 1461.5L1293.6 1462.8L1292.9 1464.2L1292.4 1465.6L1292.1 1467.0L1292.0 1468.4L1292.1 1469.8L1292.5 1471.2L1293.1 1472.6L1293.7 1474.0L1294.3 1475.4L1294.9 1476.8L1295.3 1478.2L1295.5 1479.6L1295.7 1480.9L1295.8 1482.3L1295.2 1483.7L1293.9 1485.1L1291.5 1486.5L1289.1 1487.9L1288.0 1489.3Z" fill="#D8B62C" stroke="#333" stroke-width="0.85"/>
<path d="M1322.4 1489.3L1321.5 1487.9L1319.3 1486.5L1317.3 1485.1L1316.1 1483.7L1315.6 1482.3L1315.6 1480.9L1315.6 1479.6L1315.6 1478.2L1315.7 1476.8L1315.9 1475.4L1316.2 1474.0L1316.6 1472.6L1317.0 1471.2L1317.3 1469.8L1317.4 1468.4L1317.4 1467.0L1317.1 1465.6L1316.7 1464.2L1316.3 1462.8L1316.0 1461.5L1315.8 1460.1L1315.6 1458.7L1315.6 1457.3L1315.6 1455.9L1315.6 1454.5L1315.6 1453.1L1315.6 1451.7L1315.6 1450.3L1315.6 1448.9L1315.6 1447.5L1315.6 1446.1L1315.6 1444.8L1315.6 1443.4L1315.6 1442.0L1315.6 1440.6L1315.6 1439.2L1315.6 1437.8L1315.6 1436.4L1315.6 1435.0L1315.6 1433.6L1315.3 1433.6L1315.3 1435.0L1315.3 1436.4L1315.3 1437.8L1315.3 1439.2L1315.3 1440.6L1315.3 1442.0L1315.3 1443.4L1315.3 1444.8L1315.3 1446.1L1315.3 1447.5L1315.3 1448.9L1315.3 1450.3L1315.3 1451.7L1315.3 1453.1L1315.3 1454.5L1315.3 1455.9L1315.3 1457.3L1315.3 1458.7L1315.1 1460.1L1314.9 1461.5L1314.5 1462.8L1314.2 1464.2L1313.8 1465.6L1313.5 1467.0L1313.4 1468.4L1313.6 1469.8L1313.9 1471.2L1314.3 1472.6L1314.6 1474.0L1315.0 1475.4L1315.2 1476.8L1315.3 1478.2L1315.3 1479.6L1315.3 1480.9L1315.3 1482.3L1314.8 1483.7L1313.6 1485.1L1311.6 1486.5L1309.4 1487.9L1308.4 1489.3Z" fill="#52BCB8" stroke="#333" stroke-width="0.85"/>
<path d="M1339.8 1489.3L1337.9 1487.4L1334.4 1485.5L1332.5 1483.5L1332.0 1481.6L1332.1 1479.7L1332.4 1477.8L1332.9 1475.9L1333.5 1473.9L1334.2 1472.0L1334.7 1470.1L1334.8 1468.2L1334.6 1466.3L1334.1 1464.4L1333.5 1462.4L1332.9 1460.5L1332.4 1458.6L1332.1 1456.7L1332.0 1454.8L1332.0 1452.8L1332.0 1450.9L1332.0 1449.0L1332.0 1447.1L1332.0 1445.2L1332.0 1443.2L1332.0 1441.3L1332.0 1439.4L1332.0 1437.5L1332.0 1435.6L1332.0 1433.7L1332.0 1431.7L1332.0 1429.8L1332.0 1427.9L1332.0 1426.0L1332.0 1424.1L1332.0 1422.1L1332.0 1420.2L1332.0 1418.3L1332.0 1416.4L1332.0 1414.5L1332.0 1412.5L1331.7 1412.5L1331.7 1414.5L1331.7 1416.4L1331.7 1418.3L1331.7 1420.2L1331.7 1422.1L1331.7 1424.1L1331.7 1426.0L1331.7 1427.9L1331.7 1429.8L1331.7 1431.7L1331.7 1433.7L1331.7 1435.6L1331.7 1437.5L1331.7 1439.4L1331.7 1441.3L1331.7 1443.2L1331.7 1445.2L1331.7 1447.1L1331.7 1449.0L1331.7 1450.9L1331.7 1452.8L1331.7 1454.8L1331.6 1456.7L1331.3 1458.6L1330.8 1460.5L1330.2 1462.4L1329.5 1464.4L1329.0 1466.3L1328.8 1468.2L1329.0 1470.1L1329.5 1472.0L1330.2 1473.9L1330.8 1475.9L1331.2 1477.8L1331.5 1479.7L1331.7 1481.6L1331.2 1483.5L1329.3 1485.5L1325.8 1487.4L1323.8 1489.3Z" fill="#D8B62C" stroke="#333" stroke-width="0.85"/>
<path d="M1357.3 1489.3L1354.9 1487.2L1352.1 1485.0L1351.5 1482.9L1351.5 1480.7L1351.5 1478.6L1351.5 1476.4L1351.5 1474.3L1351.5 1472.1L1351.8 1470.0L1352.4 1467.9L1352.8 1465.7L1352.6 1463.6L1352.1 1461.4L1351.6 1459.3L1351.5 1457.1L1351.5 1455.0L1351.5 1452.8L1351.5 1450.7L1351.5 1448.6L1351.5 1446.4L1351.5 1444.3L1351.5 1442.1L1351.5 1440.0L1351.5 1437.8L1351.5 1435.7L1351.5 1433.5L1351.5 1431.4L1351.5 1429.3L1351.5 1427.1L1351.5 1425.0L1351.5 1422.8L1351.5 1420.7L1351.5 1418.5L1351.5 1416.4L1351.5 1414.2L1351.5 1412.1L1351.5 1409.9L1351.5 1407.8L1351.5 1405.7L1351.5 1403.5L1351.2 1403.5L1351.2 1405.7L1351.2 1407.8L1351.2 1409.9L1351.2 1412.1L1351.2 1414.2L1351.2 1416.4L1351.2 1418.5L1351.2 1420.7L1351.2 1422.8L1351.2 1425.0L1351.2 1427.1L1351.2 1429.3L1351.2 1431.4L1351.2 1433.5L1351.2 1435.7L1351.2 1437.8L1351.2 1440.0L1351.2 1442.1L1351.2 1444.3L1351.2 1446.4L1351.2 1448.6L1351.2 1450.7L1351.2 1452.8L1351.2 1455.0L1351.2 1457.1L1351.1 1459.3L1350.6 1461.4L1350.0 1463.6L1349.8 1465.7L1350.3 1467.9L1350.8 1470.0L1351.2 1472.1L1351.2 1474.3L1351.2 1476.4L1351.2 1478.6L1351.2 1480.7L1351.2 1482.9L1350.5 1485.0L1347.7 1487.2L1345.3 1489.3Z" fill="#52BCB8" stroke="#333" stroke-width="0.85"/>
<path d="M1373.7 1489.3L1371.2 1487.1L1368.4 1484.9L1367.9 1482.6L1367.9 1480.4L1367.9 1478.2L1368.2 1476.0L1368.8 1473.8L1369.6 1471.5L1370.1 1469.3L1370.1 1467.1L1369.6 1464.9L1368.8 1462.7L1368.2 1460.4L1367.9 1458.2L1367.9 1456.0L1367.9 1453.8L1367.9 1451.6L1367.9 1449.3L1367.9 1447.1L1367.9 1444.9L1367.9 1442.7L1367.9 1440.5L1367.9 1438.2L1367.9 1436.0L1367.9 1433.8L1367.9 1431.6L1367.9 1429.4L1367.9 1427.1L1367.9 1424.9L1367.9 1422.7L1367.9 1420.5L1367.9 1418.3L1367.9 1416.0L1367.9 1413.8L1367.9 1411.6L1367.9 1409.4L1367.9 1407.2L1367.9 1404.9L1367.9 1402.7L1367.9 1400.5L1367.6 1400.5L1367.6 1402.7L1367.6 1404.9L1367.6 1407.2L1367.6 1409.4L1367.6 1411.6L1367.6 1413.8L1367.6 1416.0L1367.6 1418.3L1367.6 1420.5L1367.6 1422.7L1367.6 1424.9L1367.6 1427.1L1367.6 1429.4L1367.6 1431.6L1367.6 1433.8L1367.6 1436.0L1367.6 1438.2L1367.6 1440.5L1367.6 1442.7L1367.6 1444.9L1367.6 1447.1L1367.6 1449.3L1367.6 1451.6L1367.6 1453.8L1367.6 1456.0L1367.6 1458.2L1367.3 1460.4L1366.7 1462.7L1365.9 1464.9L1365.3 1467.1L1365.3 1469.3L1365.9 1471.5L1366.6 1473.8L1367.2 1476.0L1367.6 1478.2L1367.6 1480.4L1367.6 1482.6L1367.0 1484.9L1364.2 1487.1L1361.7 1489.3Z" fill="#D8B62C" stroke="#333" stroke-width="0.85"/>
<path d="M1379.2 1489.3H1395.2M1387.2 1489.3V1420.1" stroke="#555" stroke-width="1.0" fill="none"/>
<path d="M1410.6 1489.3L1409.3 1487.6L1406.6 1486.0L1404.7 1484.3L1403.8 1482.7L1403.8 1481.0L1403.8 1479.4L1403.9 1477.7L1404.2 1476.1L1404.6 1474.4L1405.3 1472.7L1406.0 1471.1L1406.5 1469.4L1406.6 1467.8L1406.3 1466.1L1405.6 1464.5L1404.9 1462.8L1404.4 1461.2L1404.0 1459.5L1403.8 1457.8L1403.8 1456.2L1403.8 1454.5L1403.8 1452.9L1403.8 1451.2L1403.8 1449.6L1403.8 1447.9L1403.8 1446.3L1403.8 1444.6L1403.8 1442.9L1403.8 1441.3L1403.8 1439.6L1403.8 1438.0L1403.8 1436.3L1403.8 1434.7L1403.8 1433.0L1403.8 1431.4L1403.8 1429.7L1403.8 1428.0L1403.8 1426.4L1403.8 1424.7L1403.8 1423.1L1403.5 1423.1L1403.5 1424.7L1403.5 1426.4L1403.5 1428.0L1403.5 1429.7L1403.5 1431.4L1403.5 1433.0L1403.5 1434.7L1403.5 1436.3L1403.5 1438.0L1403.5 1439.6L1403.5 1441.3L1403.5 1442.9L1403.5 1444.6L1403.5 1446.3L1403.5 1447.9L1403.5 1449.6L1403.5 1451.2L1403.5 1452.9L1403.5 1454.5L1403.5 1456.2L1403.4 1457.8L1403.2 1459.5L1402.8 1461.2L1402.3 1462.8L1401.6 1464.5L1400.9 1466.1L1400.6 1467.8L1400.7 1469.4L1401.2 1471.1L1401.9 1472.7L1402.6 1474.4L1403.0 1476.1L1403.3 1477.7L1403.5 1479.4L1403.5 1481.0L1403.4 1482.7L1402.5 1484.3L1400.6 1486.0L1397.9 1487.6L1396.6 1489.3Z" fill="#D8B62C" stroke="#333" stroke-width="0.85"/>
<path d="M1428.1 1489.3L1426.2 1487.6L1423.8 1486.0L1423.2 1484.3L1423.2 1482.7L1423.2 1481.0L1423.2 1479.4L1423.2 1477.7L1423.2 1476.1L1423.2 1474.4L1423.2 1472.7L1423.2 1471.1L1423.2 1469.4L1423.2 1467.8L1423.2 1466.1L1423.2 1464.5L1423.2 1462.8L1423.2 1461.2L1423.2 1459.5L1423.2 1457.8L1423.2 1456.2L1423.2 1454.5L1423.2 1452.9L1423.2 1451.2L1423.2 1449.6L1423.2 1447.9L1423.2 1446.3L1423.2 1444.6L1423.2 1442.9L1423.2 1441.3L1423.2 1439.6L1423.2 1438.0L1423.2 1436.3L1423.2 1434.7L1423.2 1433.0L1423.2 1431.4L1423.2 1429.7L1423.2 1428.0L1423.2 1426.4L1423.2 1424.7L1423.2 1423.1L1422.9 1423.1L1422.9 1424.7L1422.9 1426.4L1422.9 1428.0L1422.9 1429.7L1422.9 1431.4L1422.9 1433.0L1422.9 1434.7L1422.9 1436.3L1422.9 1438.0L1422.9 1439.6L1422.9 1441.3L1422.9 1442.9L1422.9 1444.6L1422.9 1446.3L1422.9 1447.9L1422.9 1449.6L1422.9 1451.2L1422.9 1452.9L1422.9 1454.5L1422.9 1456.2L1422.9 1457.8L1422.9 1459.5L1422.9 1461.2L1422.9 1462.8L1422.9 1464.5L1422.9 1466.1L1422.9 1467.8L1422.9 1469.4L1422.9 1471.1L1422.9 1472.7L1422.9 1474.4L1422.9 1476.1L1422.9 1477.7L1422.9 1479.4L1422.9 1481.0L1422.9 1482.7L1422.9 1484.3L1422.3 1486.0L1420.0 1487.6L1418.1 1489.3Z" fill="#52BCB8" stroke="#333" stroke-width="0.85"/>
<path d="M1447.5 1489.3L1445.6 1487.4L1442.2 1485.5L1440.2 1483.7L1439.9 1481.8L1440.2 1479.9L1440.7 1478.0L1441.3 1476.1L1442.0 1474.2L1442.7 1472.4L1443.2 1470.5L1443.5 1468.6L1443.4 1466.7L1443.0 1464.8L1442.3 1463.0L1441.6 1461.1L1441.0 1459.2L1440.4 1457.3L1440.0 1455.4L1439.8 1453.6L1439.6 1451.7L1439.6 1449.8L1439.6 1447.9L1439.6 1446.0L1439.6 1444.1L1439.6 1442.3L1439.6 1440.4L1439.6 1438.5L1439.6 1436.6L1439.6 1434.7L1439.6 1432.9L1439.6 1431.0L1439.6 1429.1L1439.6 1427.2L1439.6 1425.3L1439.6 1423.5L1439.6 1421.6L1439.6 1419.7L1439.6 1417.8L1439.6 1415.9L1439.6 1414.0L1439.3 1414.0L1439.3 1415.9L1439.3 1417.8L1439.3 1419.7L1439.3 1421.6L1439.3 1423.5L1439.3 1425.3L1439.3 1427.2L1439.3 1429.1L1439.3 1431.0L1439.3 1432.9L1439.3 1434.7L1439.3 1436.6L1439.3 1438.5L1439.3 1440.4L1439.3 1442.3L1439.3 1444.1L1439.3 1446.0L1439.3 1447.9L1439.3 1449.8L1439.3 1451.7L1439.2 1453.6L1438.9 1455.4L1438.6 1457.3L1438.0 1459.2L1437.3 1461.1L1436.6 1463.0L1436.0 1464.8L1435.6 1466.7L1435.5 1468.6L1435.7 1470.5L1436.2 1472.4L1436.9 1474.2L1437.6 1476.1L1438.2 1478.0L1438.7 1479.9L1439.1 1481.8L1438.8 1483.7L1436.8 1485.5L1433.4 1487.4L1431.5 1489.3Z" fill="#D8B62C" stroke="#333" stroke-width="0.85"/>
<path d="M1451.0 1489.3H1467.0M1459.0 1489.3V1408.0" stroke="#555" stroke-width="1.0" fill="none"/>
<path d="M1483.4 1489.3L1482.2 1487.5L1479.7 1485.8L1477.4 1484.0L1476.0 1482.2L1475.5 1480.5L1475.7 1478.7L1475.8 1476.9L1476.1 1475.2L1476.4 1473.4L1476.7 1471.6L1477.2 1469.8L1477.7 1468.1L1478.2 1466.3L1478.6 1464.5L1479.0 1462.8L1479.3 1461.0L1479.4 1459.2L1479.3 1457.5L1479.0 1455.7L1478.7 1453.9L1478.2 1452.2L1477.7 1450.4L1477.2 1448.6L1476.8 1446.9L1476.4 1445.1L1476.1 1443.3L1475.8 1441.6L1475.7 1439.8L1475.5 1438.0L1475.5 1436.2L1475.5 1434.5L1475.5 1432.7L1475.5 1430.9L1475.5 1429.2L1475.5 1427.4L1475.5 1425.6L1475.5 1423.9L1475.5 1422.1L1475.5 1420.3L1475.5 1418.6L1475.2 1418.6L1475.2 1420.3L1475.2 1422.1L1475.2 1423.9L1475.2 1425.6L1475.2 1427.4L1475.2 1429.2L1475.2 1430.9L1475.2 1432.7L1475.2 1434.5L1475.2 1436.2L1475.2 1438.0L1475.1 1439.8L1474.9 1441.6L1474.7 1443.3L1474.3 1445.1L1474.0 1446.9L1473.5 1448.6L1473.0 1450.4L1472.5 1452.2L1472.1 1453.9L1471.7 1455.7L1471.4 1457.5L1471.4 1459.2L1471.4 1461.0L1471.7 1462.8L1472.1 1464.5L1472.5 1466.3L1473.0 1468.1L1473.5 1469.8L1474.0 1471.6L1474.4 1473.4L1474.7 1475.2L1474.9 1476.9L1475.1 1478.7L1475.2 1480.5L1474.7 1482.2L1473.3 1484.0L1471.0 1485.8L1468.5 1487.5L1467.4 1489.3Z" fill="#D8B62C" stroke="#333" stroke-width="0.85"/>
<path d="M1502.8 1489.3L1501.6 1487.5L1498.9 1485.6L1496.6 1483.8L1495.4 1481.9L1495.7 1480.1L1496.1 1478.2L1496.5 1476.4L1497.0 1474.6L1497.6 1472.7L1498.1 1470.9L1498.5 1469.0L1498.7 1467.2L1498.8 1465.3L1498.8 1463.5L1498.5 1461.6L1498.1 1459.8L1497.6 1458.0L1497.1 1456.1L1496.6 1454.3L1496.1 1452.4L1495.8 1450.6L1495.5 1448.7L1495.2 1446.9L1495.1 1445.1L1495.0 1443.2L1495.0 1441.4L1495.0 1439.5L1495.0 1437.7L1495.0 1435.8L1495.0 1434.0L1495.0 1432.1L1495.0 1430.3L1495.0 1428.5L1495.0 1426.6L1495.0 1424.8L1495.0 1422.9L1495.0 1421.1L1495.0 1419.2L1495.0 1417.4L1495.0 1415.6L1494.7 1415.6L1494.7 1417.4L1494.7 1419.2L1494.7 1421.1L1494.7 1422.9L1494.7 1424.8L1494.7 1426.6L1494.7 1428.5L1494.7 1430.3L1494.7 1432.1L1494.7 1434.0L1494.7 1435.8L1494.7 1437.7L1494.7 1439.5L1494.7 1441.4L1494.7 1443.2L1494.6 1445.1L1494.4 1446.9L1494.2 1448.7L1493.9 1450.6L1493.5 1452.4L1493.1 1454.3L1492.6 1456.1L1492.1 1458.0L1491.6 1459.8L1491.2 1461.6L1490.9 1463.5L1490.8 1465.3L1490.9 1467.2L1491.2 1469.0L1491.6 1470.9L1492.1 1472.7L1492.6 1474.6L1493.1 1476.4L1493.6 1478.2L1494.0 1480.1L1494.3 1481.9L1493.1 1483.8L1490.7 1485.6L1488.1 1487.5L1486.8 1489.3Z" fill="#52BCB8" stroke="#333" stroke-width="0.85"/>
<path d="M1503.2 1489.3H1519.2M1511.2 1489.3V1399.0" stroke="#555" stroke-width="1.0" fill="none"/>
<path d="M1522.7 1489.3H1538.7M1530.7 1489.3V1390.0" stroke="#555" stroke-width="1.0" fill="none"/>
<path d="M1539.1 1489.3H1555.1M1547.1 1489.3V1393.0" stroke="#555" stroke-width="1.0" fill="none"/>
<path d="M1574.6 1489.3L1573.2 1487.3L1570.3 1485.3L1568.0 1483.3L1567.0 1481.3L1566.9 1479.3L1567.1 1477.3L1567.4 1475.3L1567.8 1473.3L1568.2 1471.4L1568.8 1469.4L1569.5 1467.4L1570.2 1465.4L1571.0 1463.4L1571.8 1461.4L1572.5 1459.4L1573.1 1457.4L1573.4 1455.4L1573.6 1453.4L1573.5 1451.4L1573.2 1449.4L1572.6 1447.4L1572.0 1445.4L1571.2 1443.4L1570.4 1441.4L1569.6 1439.4L1568.9 1437.5L1568.3 1435.5L1567.9 1433.5L1567.5 1431.5L1567.2 1429.5L1567.0 1427.5L1566.8 1425.5L1566.8 1423.5L1566.8 1421.5L1566.8 1419.5L1566.8 1417.5L1566.8 1415.5L1566.8 1413.5L1566.8 1411.5L1566.8 1409.5L1566.4 1409.5L1566.4 1411.5L1566.4 1413.5L1566.4 1415.5L1566.4 1417.5L1566.4 1419.5L1566.4 1421.5L1566.4 1423.5L1566.4 1425.5L1566.2 1427.5L1566.0 1429.5L1565.7 1431.5L1565.3 1433.5L1564.9 1435.5L1564.3 1437.5L1563.6 1439.4L1562.8 1441.4L1562.0 1443.4L1561.2 1445.4L1560.6 1447.4L1560.0 1449.4L1559.7 1451.4L1559.6 1453.4L1559.8 1455.4L1560.1 1457.4L1560.7 1459.4L1561.4 1461.4L1562.2 1463.4L1563.0 1465.4L1563.7 1467.4L1564.4 1469.4L1565.0 1471.4L1565.4 1473.3L1565.8 1475.3L1566.1 1477.3L1566.3 1479.3L1566.2 1481.3L1565.2 1483.3L1562.9 1485.3L1560.0 1487.3L1558.6 1489.3Z" fill="#52BCB8" stroke="#333" stroke-width="0.85"/>
<path d="M1589.0 1489.3L1588.2 1487.6L1586.3 1485.8L1584.6 1484.1L1583.6 1482.4L1583.6 1480.6L1583.8 1478.9L1584.2 1477.2L1584.6 1475.5L1585.0 1473.7L1585.6 1472.0L1586.3 1470.3L1587.0 1468.5L1587.8 1466.8L1588.7 1465.1L1589.5 1463.3L1590.3 1461.6L1591.1 1459.9L1591.7 1458.1L1592.1 1456.4L1592.4 1454.7L1592.5 1453.0L1592.4 1451.2L1592.0 1449.5L1591.5 1447.8L1590.9 1446.0L1590.1 1444.3L1589.3 1442.6L1588.4 1440.8L1587.6 1439.1L1586.8 1437.4L1586.1 1435.6L1585.5 1433.9L1584.9 1432.2L1584.4 1430.5L1584.1 1428.7L1583.8 1427.0L1583.6 1425.3L1583.4 1423.5L1583.3 1421.8L1583.2 1420.1L1582.8 1420.1L1582.7 1421.8L1582.6 1423.5L1582.4 1425.3L1582.2 1427.0L1581.9 1428.7L1581.6 1430.5L1581.1 1432.2L1580.5 1433.9L1579.9 1435.6L1579.2 1437.4L1578.4 1439.1L1577.6 1440.8L1576.7 1442.6L1575.9 1444.3L1575.1 1446.0L1574.5 1447.8L1574.0 1449.5L1573.6 1451.2L1573.5 1453.0L1573.6 1454.7L1573.9 1456.4L1574.3 1458.1L1574.9 1459.9L1575.7 1461.6L1576.5 1463.3L1577.3 1465.1L1578.2 1466.8L1579.0 1468.5L1579.7 1470.3L1580.4 1472.0L1581.0 1473.7L1581.4 1475.5L1581.8 1477.2L1582.2 1478.9L1582.4 1480.6L1582.4 1482.4L1581.4 1484.1L1579.7 1485.8L1577.8 1487.6L1577.0 1489.3Z" fill="#D8B62C" stroke="#333" stroke-width="0.85"/>
<path d="M1610.5 1489.3L1608.5 1487.4L1605.1 1485.5L1603.1 1483.5L1602.6 1481.6L1602.8 1479.7L1603.1 1477.8L1603.6 1475.9L1604.2 1473.9L1604.8 1472.0L1605.3 1470.1L1605.5 1468.2L1605.3 1466.3L1604.8 1464.4L1604.1 1462.4L1603.5 1460.5L1603.1 1458.6L1602.8 1456.7L1602.6 1454.8L1602.6 1452.8L1602.6 1450.9L1602.6 1449.0L1602.6 1447.1L1602.6 1445.2L1602.6 1443.2L1602.6 1441.3L1602.6 1439.4L1602.6 1437.5L1602.6 1435.6L1602.6 1433.7L1602.6 1431.7L1602.6 1429.8L1602.6 1427.9L1602.6 1426.0L1602.6 1424.1L1602.6 1422.1L1602.6 1420.2L1602.6 1418.3L1602.6 1416.4L1602.6 1414.5L1602.6 1412.5L1602.3 1412.5L1602.3 1414.5L1602.3 1416.4L1602.3 1418.3L1602.3 1420.2L1602.3 1422.1L1602.3 1424.1L1602.3 1426.0L1602.3 1427.9L1602.3 1429.8L1602.3 1431.7L1602.3 1433.7L1602.3 1435.6L1602.3 1437.5L1602.3 1439.4L1602.3 1441.3L1602.3 1443.2L1602.3 1445.2L1602.3 1447.1L1602.3 1449.0L1602.3 1450.9L1602.3 1452.8L1602.3 1454.8L1602.2 1456.7L1601.9 1458.6L1601.4 1460.5L1600.8 1462.4L1600.2 1464.4L1599.7 1466.3L1599.5 1468.2L1599.7 1470.1L1600.2 1472.0L1600.8 1473.9L1601.4 1475.9L1601.9 1477.8L1602.2 1479.7L1602.3 1481.6L1601.8 1483.5L1599.9 1485.5L1596.4 1487.4L1594.5 1489.3Z" fill="#52BCB8" stroke="#333" stroke-width="0.85"/>
<path d="M1626.9 1489.3L1625.8 1487.9L1623.3 1486.5L1621.0 1485.1L1619.6 1483.7L1619.1 1482.3L1619.1 1480.9L1619.2 1479.6L1619.4 1478.2L1619.7 1476.8L1620.1 1475.4L1620.6 1474.0L1621.0 1472.6L1621.4 1471.2L1621.8 1469.8L1621.9 1468.4L1621.8 1467.0L1621.5 1465.6L1621.1 1464.2L1620.7 1462.8L1620.2 1461.5L1619.8 1460.1L1619.5 1458.7L1619.2 1457.3L1619.1 1455.9L1619.0 1454.5L1619.0 1453.1L1619.0 1451.7L1619.0 1450.3L1619.0 1448.9L1619.0 1447.5L1619.0 1446.1L1619.0 1444.8L1619.0 1443.4L1619.0 1442.0L1619.0 1440.6L1619.0 1439.2L1619.0 1437.8L1619.0 1436.4L1619.0 1435.0L1619.0 1433.6L1618.7 1433.6L1618.7 1435.0L1618.7 1436.4L1618.7 1437.8L1618.7 1439.2L1618.7 1440.6L1618.7 1442.0L1618.7 1443.4L1618.7 1444.8L1618.7 1446.1L1618.7 1447.5L1618.7 1448.9L1618.7 1450.3L1618.7 1451.7L1618.7 1453.1L1618.7 1454.5L1618.7 1455.9L1618.5 1457.3L1618.3 1458.7L1618.0 1460.1L1617.5 1461.5L1617.1 1462.8L1616.6 1464.2L1616.2 1465.6L1616.0 1467.0L1615.9 1468.4L1616.0 1469.8L1616.3 1471.2L1616.7 1472.6L1617.2 1474.0L1617.7 1475.4L1618.1 1476.8L1618.4 1478.2L1618.6 1479.6L1618.7 1480.9L1618.7 1482.3L1618.1 1483.7L1616.8 1485.1L1614.5 1486.5L1612.0 1487.9L1610.9 1489.3Z" fill="#D8B62C" stroke="#333" stroke-width="0.85"/>
<path d="M1646.4 1489.3L1643.6 1487.0L1639.9 1484.6L1638.5 1482.3L1638.5 1480.0L1638.8 1477.6L1639.2 1475.3L1639.7 1473.0L1640.2 1470.6L1640.4 1468.3L1640.2 1466.0L1639.7 1463.6L1639.2 1461.3L1638.8 1459.0L1638.5 1456.6L1638.5 1454.3L1638.5 1452.0L1638.5 1449.6L1638.5 1447.3L1638.5 1445.0L1638.5 1442.6L1638.5 1440.3L1638.5 1438.0L1638.5 1435.6L1638.5 1433.3L1638.5 1431.0L1638.5 1428.6L1638.5 1426.3L1638.5 1424.0L1638.5 1421.7L1638.5 1419.3L1638.5 1417.0L1638.5 1414.7L1638.5 1412.3L1638.5 1410.0L1638.5 1407.7L1638.5 1405.3L1638.5 1403.0L1638.5 1400.7L1638.5 1398.3L1638.5 1396.0L1638.2 1396.0L1638.2 1398.3L1638.2 1400.7L1638.2 1403.0L1638.2 1405.3L1638.2 1407.7L1638.2 1410.0L1638.2 1412.3L1638.2 1414.7L1638.2 1417.0L1638.2 1419.3L1638.2 1421.7L1638.2 1424.0L1638.2 1426.3L1638.2 1428.6L1638.2 1431.0L1638.2 1433.3L1638.2 1435.6L1638.2 1438.0L1638.2 1440.3L1638.2 1442.6L1638.2 1445.0L1638.2 1447.3L1638.2 1449.6L1638.2 1452.0L1638.2 1454.3L1638.2 1456.6L1637.9 1459.0L1637.5 1461.3L1637.0 1463.6L1636.5 1466.0L1636.4 1468.3L1636.6 1470.6L1637.0 1473.0L1637.5 1475.3L1637.9 1477.6L1638.2 1480.0L1638.2 1482.3L1636.9 1484.6L1633.1 1487.0L1630.4 1489.3Z" fill="#52BCB8" stroke="#333" stroke-width="0.85"/>
<path d="M1662.8 1489.3L1660.8 1487.4L1657.3 1485.5L1655.4 1483.5L1654.9 1481.6L1655.1 1479.7L1655.4 1477.8L1655.8 1475.9L1656.4 1473.9L1657.1 1472.0L1657.6 1470.1L1657.8 1468.2L1657.6 1466.3L1657.1 1464.4L1656.4 1462.4L1655.8 1460.5L1655.3 1458.6L1655.0 1456.7L1654.9 1454.8L1654.9 1452.8L1654.9 1450.9L1654.9 1449.0L1654.9 1447.1L1654.9 1445.2L1654.9 1443.2L1654.9 1441.3L1654.9 1439.4L1654.9 1437.5L1654.9 1435.6L1654.9 1433.7L1654.9 1431.7L1654.9 1429.8L1654.9 1427.9L1654.9 1426.0L1654.9 1424.1L1654.9 1422.1L1654.9 1420.2L1654.9 1418.3L1654.9 1416.4L1654.9 1414.5L1654.9 1412.5L1654.6 1412.5L1654.6 1414.5L1654.6 1416.4L1654.6 1418.3L1654.6 1420.2L1654.6 1422.1L1654.6 1424.1L1654.6 1426.0L1654.6 1427.9L1654.6 1429.8L1654.6 1431.7L1654.6 1433.7L1654.6 1435.6L1654.6 1437.5L1654.6 1439.4L1654.6 1441.3L1654.6 1443.2L1654.6 1445.2L1654.6 1447.1L1654.6 1449.0L1654.6 1450.9L1654.6 1452.8L1654.6 1454.8L1654.5 1456.7L1654.2 1458.6L1653.7 1460.5L1653.1 1462.4L1652.5 1464.4L1652.0 1466.3L1651.8 1468.2L1651.9 1470.1L1652.4 1472.0L1653.1 1473.9L1653.7 1475.9L1654.2 1477.8L1654.5 1479.7L1654.6 1481.6L1654.1 1483.5L1652.2 1485.5L1648.7 1487.4L1646.8 1489.3Z" fill="#D8B62C" stroke="#333" stroke-width="0.85"/>
<path d="M1666.2 1489.3H1682.2M1674.2 1489.3V1427.6" stroke="#555" stroke-width="1.0" fill="none"/>
<path d="M1698.6 1489.3L1697.8 1488.1L1695.8 1486.9L1693.6 1485.7L1692.0 1484.5L1691.1 1483.3L1690.8 1482.1L1690.8 1480.9L1690.8 1479.7L1690.8 1478.5L1690.9 1477.3L1691.0 1476.1L1691.2 1474.9L1691.5 1473.6L1691.8 1472.4L1692.2 1471.2L1692.6 1470.0L1693.0 1468.8L1693.3 1467.6L1693.6 1466.4L1693.6 1465.2L1693.6 1464.0L1693.3 1462.8L1693.0 1461.6L1692.6 1460.4L1692.2 1459.2L1691.8 1458.0L1691.5 1456.8L1691.2 1455.6L1691.0 1454.4L1690.9 1453.2L1690.8 1452.0L1690.8 1450.8L1690.8 1449.6L1690.8 1448.4L1690.8 1447.2L1690.8 1446.0L1690.8 1444.8L1690.8 1443.5L1690.8 1442.3L1690.8 1441.1L1690.5 1441.1L1690.5 1442.3L1690.5 1443.5L1690.5 1444.8L1690.5 1446.0L1690.5 1447.2L1690.5 1448.4L1690.5 1449.6L1690.5 1450.8L1690.5 1452.0L1690.4 1453.2L1690.3 1454.4L1690.1 1455.6L1689.8 1456.8L1689.4 1458.0L1689.1 1459.2L1688.6 1460.4L1688.3 1461.6L1687.9 1462.8L1687.7 1464.0L1687.6 1465.2L1687.7 1466.4L1687.9 1467.6L1688.3 1468.8L1688.6 1470.0L1689.1 1471.2L1689.4 1472.4L1689.8 1473.6L1690.1 1474.9L1690.3 1476.1L1690.4 1477.3L1690.5 1478.5L1690.5 1479.7L1690.5 1480.9L1690.5 1482.1L1690.1 1483.3L1689.3 1484.5L1687.7 1485.7L1685.5 1486.9L1683.5 1488.1L1682.6 1489.3Z" fill="#D8B62C" stroke="#333" stroke-width="0.85"/>
<path d="M1195.2 1385.0V1493.8H1704.0" stroke="#333" stroke-width="1.3" fill="none"/>
<line x1="1191.6" y1="1489.3" x2="1195.2" y2="1489.3" stroke="#333" stroke-width="1.2"/>
<text x="1187.0" y="1495.3" font-size="16.8" text-anchor="end">0</text>
<line x1="1191.6" y1="1459.2" x2="1195.2" y2="1459.2" stroke="#333" stroke-width="1.2"/>
<text x="1187.0" y="1465.2" font-size="16.8" text-anchor="end">1</text>
<line x1="1191.6" y1="1429.1" x2="1195.2" y2="1429.1" stroke="#333" stroke-width="1.2"/>
<text x="1187.0" y="1435.1" font-size="16.8" text-anchor="end">2</text>
<line x1="1191.6" y1="1399.0" x2="1195.2" y2="1399.0" stroke="#333" stroke-width="1.2"/>
<text x="1187.0" y="1405.0" font-size="16.8" text-anchor="end">3</text>
<text x="1437.0" y="1527.7" font-size="20.2" text-anchor="middle" font-weight="bold" font-style="italic">SP1</text>
<path d="M1215.8 1640.7L1215.1 1639.6L1213.4 1638.4L1211.3 1637.3L1209.7 1636.1L1208.8 1635.0L1209.2 1633.8L1209.7 1632.7L1210.3 1631.6L1210.9 1630.4L1211.5 1629.3L1212.0 1628.1L1212.5 1627.0L1212.7 1625.9L1212.8 1624.7L1212.6 1623.6L1212.3 1622.4L1211.8 1621.3L1211.2 1620.1L1210.6 1619.0L1210.0 1617.9L1209.5 1616.7L1209.0 1615.6L1208.6 1614.4L1208.4 1613.3L1208.2 1612.2L1208.0 1611.0L1208.0 1609.9L1208.0 1608.7L1208.0 1607.6L1208.0 1606.4L1208.0 1605.3L1208.0 1604.2L1208.0 1603.0L1208.0 1601.9L1208.0 1600.7L1208.0 1599.6L1208.0 1598.5L1208.0 1597.3L1208.0 1596.2L1208.0 1595.0L1207.6 1595.0L1207.6 1596.2L1207.6 1597.3L1207.6 1598.5L1207.6 1599.6L1207.6 1600.7L1207.6 1601.9L1207.6 1603.0L1207.6 1604.2L1207.6 1605.3L1207.6 1606.4L1207.6 1607.6L1207.6 1608.7L1207.6 1609.9L1207.6 1611.0L1207.4 1612.2L1207.2 1613.3L1207.0 1614.4L1206.6 1615.6L1206.1 1616.7L1205.6 1617.9L1205.0 1619.0L1204.4 1620.1L1203.8 1621.3L1203.3 1622.4L1203.0 1623.6L1202.8 1624.7L1202.9 1625.9L1203.1 1627.0L1203.6 1628.1L1204.1 1629.3L1204.7 1630.4L1205.3 1631.6L1205.9 1632.7L1206.4 1633.8L1206.8 1635.0L1205.9 1636.1L1204.3 1637.3L1202.2 1638.4L1200.5 1639.6L1199.8 1640.7Z" fill="#52BCB8" stroke="#333" stroke-width="0.85"/>
<path d="M1232.2 1640.7L1232.0 1639.8L1231.6 1638.9L1230.8 1638.0L1229.9 1637.1L1229.8 1636.2L1230.5 1635.3L1231.2 1634.4L1231.9 1633.5L1232.4 1632.5L1232.8 1631.6L1233.1 1630.7L1233.2 1629.8L1233.1 1628.9L1232.9 1628.0L1232.6 1627.1L1232.1 1626.2L1231.5 1625.3L1230.8 1624.4L1230.1 1623.5L1229.3 1622.6L1228.6 1621.7L1227.9 1620.8L1227.3 1619.9L1226.7 1619.0L1226.2 1618.1L1225.8 1617.2L1225.4 1616.2L1225.1 1615.3L1224.9 1614.4L1224.7 1613.5L1224.5 1612.6L1224.4 1611.7L1224.4 1610.8L1224.4 1609.9L1224.4 1609.0L1224.4 1608.1L1224.4 1607.2L1224.4 1606.3L1224.4 1605.4L1224.4 1604.5L1224.0 1604.5L1224.0 1605.4L1224.0 1606.3L1224.0 1607.2L1224.0 1608.1L1224.0 1609.0L1224.0 1609.9L1224.0 1610.8L1224.0 1611.7L1223.9 1612.6L1223.7 1613.5L1223.5 1614.4L1223.3 1615.3L1223.0 1616.2L1222.6 1617.2L1222.2 1618.1L1221.7 1619.0L1221.1 1619.9L1220.5 1620.8L1219.8 1621.7L1219.1 1622.6L1218.3 1623.5L1217.6 1624.4L1216.9 1625.3L1216.3 1626.2L1215.8 1627.1L1215.5 1628.0L1215.3 1628.9L1215.2 1629.8L1215.3 1630.7L1215.6 1631.6L1216.0 1632.5L1216.5 1633.5L1217.2 1634.4L1217.9 1635.3L1218.6 1636.2L1218.5 1637.1L1217.6 1638.0L1216.8 1638.9L1216.4 1639.8L1216.2 1640.7Z" fill="#D8B62C" stroke="#333" stroke-width="0.85"/>
<path d="M1235.7 1640.7H1251.7M1243.7 1640.7V1618.7" stroke="#555" stroke-width="1.0" fill="none"/>
<path d="M1252.1 1640.7H1268.1M1260.1 1640.7V1617.1" stroke="#555" stroke-width="1.0" fill="none"/>
<path d="M1287.6 1640.7L1286.3 1639.1L1283.6 1637.5L1281.2 1636.0L1280.1 1634.4L1280.0 1632.8L1280.2 1631.2L1280.6 1629.7L1281.0 1628.1L1281.6 1626.5L1282.1 1625.0L1282.7 1623.4L1283.1 1621.8L1283.5 1620.2L1283.6 1618.7L1283.5 1617.1L1283.1 1615.5L1282.7 1613.9L1282.1 1612.4L1281.6 1610.8L1281.0 1609.2L1280.6 1607.6L1280.2 1606.0L1280.0 1604.5L1279.8 1602.9L1279.7 1601.3L1279.7 1599.8L1279.7 1598.2L1279.7 1596.6L1279.7 1595.0L1279.7 1593.5L1279.7 1591.9L1279.7 1590.3L1279.7 1588.7L1279.7 1587.2L1279.7 1585.6L1279.7 1584.0L1279.7 1582.4L1279.7 1580.9L1279.7 1579.3L1279.7 1577.7L1279.4 1577.7L1279.4 1579.3L1279.4 1580.9L1279.4 1582.4L1279.4 1584.0L1279.4 1585.6L1279.4 1587.2L1279.4 1588.7L1279.4 1590.3L1279.4 1591.9L1279.4 1593.5L1279.4 1595.0L1279.4 1596.6L1279.4 1598.2L1279.4 1599.8L1279.4 1601.3L1279.3 1602.9L1279.1 1604.5L1278.9 1606.0L1278.5 1607.6L1278.1 1609.2L1277.6 1610.8L1277.0 1612.4L1276.4 1613.9L1276.0 1615.5L1275.7 1617.1L1275.6 1618.7L1275.7 1620.2L1276.0 1621.8L1276.4 1623.4L1277.0 1625.0L1277.6 1626.5L1278.1 1628.1L1278.5 1629.7L1278.9 1631.2L1279.1 1632.8L1279.1 1634.4L1277.9 1636.0L1275.6 1637.5L1272.8 1639.1L1271.6 1640.7Z" fill="#52BCB8" stroke="#333" stroke-width="0.85"/>
<path d="M1304.0 1640.7L1301.7 1638.5L1298.1 1636.4L1296.4 1634.2L1296.6 1632.0L1297.1 1629.9L1297.7 1627.7L1298.6 1625.5L1299.6 1623.4L1300.5 1621.2L1301.4 1619.0L1301.9 1616.9L1301.9 1614.7L1301.5 1612.5L1300.8 1610.4L1299.8 1608.2L1298.8 1606.0L1297.9 1603.9L1297.2 1601.7L1296.7 1599.6L1296.4 1597.4L1296.2 1595.2L1296.1 1593.1L1296.1 1590.9L1296.1 1588.7L1296.1 1586.6L1296.1 1584.4L1296.1 1582.2L1296.1 1580.1L1296.1 1577.9L1296.1 1575.7L1296.1 1573.6L1296.1 1571.4L1296.1 1569.2L1296.1 1567.1L1296.1 1564.9L1296.1 1562.7L1296.1 1560.6L1296.1 1558.4L1296.1 1556.2L1296.1 1554.1L1295.8 1554.1L1295.8 1556.2L1295.8 1558.4L1295.8 1560.6L1295.8 1562.7L1295.8 1564.9L1295.8 1567.1L1295.8 1569.2L1295.8 1571.4L1295.8 1573.6L1295.8 1575.7L1295.8 1577.9L1295.8 1580.1L1295.8 1582.2L1295.8 1584.4L1295.8 1586.6L1295.8 1588.7L1295.8 1590.9L1295.8 1593.1L1295.8 1595.2L1295.6 1597.4L1295.2 1599.6L1294.7 1601.7L1294.0 1603.9L1293.1 1606.0L1292.1 1608.2L1291.1 1610.4L1290.4 1612.5L1290.0 1614.7L1290.1 1616.9L1290.5 1619.0L1291.4 1621.2L1292.4 1623.4L1293.3 1625.5L1294.2 1627.7L1294.9 1629.9L1295.3 1632.0L1295.5 1634.2L1293.8 1636.4L1290.2 1638.5L1288.0 1640.7Z" fill="#D8B62C" stroke="#333" stroke-width="0.85"/>
<path d="M1323.4 1640.7L1322.4 1639.3L1320.0 1637.9L1317.7 1636.4L1316.3 1635.0L1315.7 1633.6L1315.6 1632.2L1315.8 1630.8L1316.1 1629.4L1316.4 1627.9L1316.9 1626.5L1317.5 1625.1L1318.1 1623.7L1318.7 1622.3L1319.1 1620.9L1319.4 1619.4L1319.4 1618.0L1319.2 1616.6L1318.7 1615.2L1318.2 1613.8L1317.5 1612.4L1317.0 1610.9L1316.5 1609.5L1316.1 1608.1L1315.8 1606.7L1315.7 1605.3L1315.6 1603.8L1315.6 1602.4L1315.6 1601.0L1315.6 1599.6L1315.6 1598.2L1315.6 1596.8L1315.6 1595.3L1315.6 1593.9L1315.6 1592.5L1315.6 1591.1L1315.6 1589.7L1315.6 1588.3L1315.6 1586.8L1315.6 1585.4L1315.6 1584.0L1315.3 1584.0L1315.3 1585.4L1315.3 1586.8L1315.3 1588.3L1315.3 1589.7L1315.3 1591.1L1315.3 1592.5L1315.3 1593.9L1315.3 1595.3L1315.3 1596.8L1315.3 1598.2L1315.3 1599.6L1315.3 1601.0L1315.3 1602.4L1315.3 1603.8L1315.2 1605.3L1315.0 1606.7L1314.8 1608.1L1314.4 1609.5L1313.9 1610.9L1313.3 1612.4L1312.7 1613.8L1312.1 1615.2L1311.7 1616.6L1311.5 1618.0L1311.5 1619.4L1311.7 1620.9L1312.2 1622.3L1312.8 1623.7L1313.4 1625.1L1314.0 1626.5L1314.4 1627.9L1314.8 1629.4L1315.1 1630.8L1315.2 1632.2L1315.2 1633.6L1314.6 1635.0L1313.2 1636.4L1310.9 1637.9L1308.5 1639.3L1307.4 1640.7Z" fill="#52BCB8" stroke="#333" stroke-width="0.85"/>
<path d="M1339.8 1640.7L1338.2 1638.9L1335.0 1637.1L1332.9 1635.3L1332.2 1633.5L1332.5 1631.6L1332.9 1629.8L1333.4 1628.0L1334.0 1626.2L1334.5 1624.4L1334.8 1622.6L1334.8 1620.8L1334.5 1619.0L1334.0 1617.2L1333.4 1615.3L1332.8 1613.5L1332.4 1611.7L1332.1 1609.9L1332.0 1608.1L1332.0 1606.3L1332.0 1604.5L1332.0 1602.7L1332.0 1600.9L1332.0 1599.0L1332.0 1597.2L1332.0 1595.4L1332.0 1593.6L1332.0 1591.8L1332.0 1590.0L1332.0 1588.2L1332.0 1586.4L1332.0 1584.6L1332.0 1582.7L1332.0 1580.9L1332.0 1579.1L1332.0 1577.3L1332.0 1575.5L1332.0 1573.7L1332.0 1571.9L1332.0 1570.1L1332.0 1568.2L1331.7 1568.2L1331.7 1570.1L1331.7 1571.9L1331.7 1573.7L1331.7 1575.5L1331.7 1577.3L1331.7 1579.1L1331.7 1580.9L1331.7 1582.7L1331.7 1584.6L1331.7 1586.4L1331.7 1588.2L1331.7 1590.0L1331.7 1591.8L1331.7 1593.6L1331.7 1595.4L1331.7 1597.2L1331.7 1599.0L1331.7 1600.9L1331.7 1602.7L1331.7 1604.5L1331.7 1606.3L1331.7 1608.1L1331.5 1609.9L1331.3 1611.7L1330.8 1613.5L1330.3 1615.3L1329.7 1617.2L1329.2 1619.0L1328.9 1620.8L1328.9 1622.6L1329.1 1624.4L1329.6 1626.2L1330.2 1628.0L1330.8 1629.8L1331.2 1631.6L1331.5 1633.5L1330.8 1635.3L1328.6 1637.1L1325.5 1638.9L1323.8 1640.7Z" fill="#D8B62C" stroke="#333" stroke-width="0.85"/>
<path d="M1343.3 1640.7H1359.3M1351.3 1640.7V1552.5" stroke="#555" stroke-width="1.0" fill="none"/>
<path d="M1373.7 1640.7L1371.8 1638.7L1369.0 1636.8L1367.9 1634.8L1367.9 1632.8L1367.9 1630.9L1367.9 1628.9L1368.0 1626.9L1368.7 1625.0L1369.5 1623.0L1369.6 1621.0L1368.9 1619.0L1368.1 1617.1L1367.9 1615.1L1367.9 1613.1L1367.9 1611.2L1367.9 1609.2L1367.9 1607.2L1367.9 1605.3L1367.9 1603.3L1367.9 1601.3L1367.9 1599.4L1367.9 1597.4L1367.9 1595.4L1367.9 1593.5L1367.9 1591.5L1367.9 1589.5L1367.9 1587.5L1367.9 1585.6L1367.9 1583.6L1367.9 1581.6L1367.9 1579.7L1367.9 1577.7L1367.9 1575.7L1367.9 1573.8L1367.9 1571.8L1367.9 1569.8L1367.9 1567.9L1367.9 1565.9L1367.9 1563.9L1367.9 1562.0L1367.6 1562.0L1367.6 1563.9L1367.6 1565.9L1367.6 1567.9L1367.6 1569.8L1367.6 1571.8L1367.6 1573.8L1367.6 1575.7L1367.6 1577.7L1367.6 1579.7L1367.6 1581.6L1367.6 1583.6L1367.6 1585.6L1367.6 1587.5L1367.6 1589.5L1367.6 1591.5L1367.6 1593.5L1367.6 1595.4L1367.6 1597.4L1367.6 1599.4L1367.6 1601.3L1367.6 1603.3L1367.6 1605.3L1367.6 1607.2L1367.6 1609.2L1367.6 1611.2L1367.6 1613.1L1367.6 1615.1L1367.3 1617.1L1366.5 1619.0L1365.8 1621.0L1365.9 1623.0L1366.7 1625.0L1367.4 1626.9L1367.6 1628.9L1367.6 1630.9L1367.6 1632.8L1367.5 1634.8L1366.5 1636.8L1363.7 1638.7L1361.7 1640.7Z" fill="#D8B62C" stroke="#333" stroke-width="0.85"/>
<path d="M1379.2 1640.7H1395.2M1387.2 1640.7V1571.4" stroke="#555" stroke-width="1.0" fill="none"/>
<path d="M1411.6 1640.7L1409.9 1638.8L1406.7 1637.0L1404.5 1635.1L1403.8 1633.3L1403.8 1631.4L1403.8 1629.6L1403.8 1627.7L1403.8 1625.9L1403.8 1624.0L1403.9 1622.2L1404.3 1620.3L1404.9 1618.5L1405.5 1616.6L1405.6 1614.8L1405.1 1612.9L1404.4 1611.1L1403.9 1609.2L1403.8 1607.4L1403.8 1605.5L1403.8 1603.7L1403.8 1601.8L1403.8 1600.0L1403.8 1598.1L1403.8 1596.3L1403.8 1594.4L1403.8 1592.6L1403.8 1590.7L1403.8 1588.9L1403.8 1587.0L1403.8 1585.2L1403.8 1583.3L1403.8 1581.5L1403.8 1579.6L1403.8 1577.8L1403.8 1575.9L1403.8 1574.1L1403.8 1572.2L1403.8 1570.4L1403.8 1568.5L1403.8 1566.7L1403.5 1566.7L1403.5 1568.5L1403.5 1570.4L1403.5 1572.2L1403.5 1574.1L1403.5 1575.9L1403.5 1577.8L1403.5 1579.6L1403.5 1581.5L1403.5 1583.3L1403.5 1585.2L1403.5 1587.0L1403.5 1588.9L1403.5 1590.7L1403.5 1592.6L1403.5 1594.4L1403.5 1596.3L1403.5 1598.1L1403.5 1600.0L1403.5 1601.8L1403.5 1603.7L1403.5 1605.5L1403.5 1607.4L1403.3 1609.2L1402.8 1611.1L1402.1 1612.9L1401.6 1614.8L1401.7 1616.6L1402.3 1618.5L1402.9 1620.3L1403.3 1622.2L1403.5 1624.0L1403.5 1625.9L1403.5 1627.7L1403.5 1629.6L1403.5 1631.4L1403.4 1633.3L1402.7 1635.1L1400.5 1637.0L1397.3 1638.8L1395.6 1640.7Z" fill="#D8B62C" stroke="#333" stroke-width="0.85"/>
<path d="M1415.1 1640.7H1431.1M1423.1 1640.7V1558.8" stroke="#555" stroke-width="1.0" fill="none"/>
<path d="M1447.5 1640.7L1445.6 1638.8L1442.3 1636.8L1440.2 1634.9L1439.6 1633.0L1439.8 1631.1L1440.3 1629.1L1440.9 1627.2L1441.7 1625.3L1442.3 1623.3L1442.5 1621.4L1442.1 1619.5L1441.4 1617.5L1440.6 1615.6L1440.1 1613.7L1439.7 1611.8L1439.6 1609.8L1439.6 1607.9L1439.6 1606.0L1439.6 1604.0L1439.6 1602.1L1439.6 1600.2L1439.6 1598.3L1439.6 1596.3L1439.6 1594.4L1439.6 1592.5L1439.6 1590.5L1439.6 1588.6L1439.6 1586.7L1439.6 1584.7L1439.6 1582.8L1439.6 1580.9L1439.6 1579.0L1439.6 1577.0L1439.6 1575.1L1439.6 1573.2L1439.6 1571.2L1439.6 1569.3L1439.6 1567.4L1439.6 1565.5L1439.6 1563.5L1439.3 1563.5L1439.3 1565.5L1439.3 1567.4L1439.3 1569.3L1439.3 1571.2L1439.3 1573.2L1439.3 1575.1L1439.3 1577.0L1439.3 1579.0L1439.3 1580.9L1439.3 1582.8L1439.3 1584.7L1439.3 1586.7L1439.3 1588.6L1439.3 1590.5L1439.3 1592.5L1439.3 1594.4L1439.3 1596.3L1439.3 1598.3L1439.3 1600.2L1439.3 1602.1L1439.3 1604.0L1439.3 1606.0L1439.3 1607.9L1439.3 1609.8L1439.2 1611.8L1438.9 1613.7L1438.3 1615.6L1437.6 1617.5L1436.9 1619.5L1436.5 1621.4L1436.7 1623.3L1437.3 1625.3L1438.0 1627.2L1438.7 1629.1L1439.1 1631.1L1439.3 1633.0L1438.7 1634.9L1436.7 1636.8L1433.3 1638.8L1431.5 1640.7Z" fill="#D8B62C" stroke="#333" stroke-width="0.85"/>
<path d="M1451.0 1640.7H1467.0M1459.0 1640.7V1591.9" stroke="#555" stroke-width="1.0" fill="none"/>
<path d="M1483.4 1640.7L1481.9 1639.0L1478.9 1637.3L1476.7 1635.6L1475.7 1633.9L1475.5 1632.2L1475.5 1630.5L1475.5 1628.8L1475.7 1627.2L1476.0 1625.5L1476.4 1623.8L1476.9 1622.1L1477.4 1620.4L1477.9 1618.7L1478.3 1617.0L1478.4 1615.3L1478.2 1613.6L1477.8 1611.9L1477.3 1610.2L1476.7 1608.5L1476.3 1606.8L1475.9 1605.1L1475.6 1603.5L1475.5 1601.8L1475.5 1600.1L1475.5 1598.4L1475.5 1596.7L1475.5 1595.0L1475.5 1593.3L1475.5 1591.6L1475.5 1589.9L1475.5 1588.2L1475.5 1586.5L1475.5 1584.8L1475.5 1583.1L1475.5 1581.4L1475.5 1579.7L1475.5 1578.1L1475.5 1576.4L1475.5 1574.7L1475.5 1573.0L1475.2 1573.0L1475.2 1574.7L1475.2 1576.4L1475.2 1578.1L1475.2 1579.7L1475.2 1581.4L1475.2 1583.1L1475.2 1584.8L1475.2 1586.5L1475.2 1588.2L1475.2 1589.9L1475.2 1591.6L1475.2 1593.3L1475.2 1595.0L1475.2 1596.7L1475.2 1598.4L1475.2 1600.1L1475.2 1601.8L1475.1 1603.5L1474.8 1605.1L1474.5 1606.8L1474.0 1608.5L1473.4 1610.2L1472.9 1611.9L1472.5 1613.6L1472.4 1615.3L1472.5 1617.0L1472.8 1618.7L1473.3 1620.4L1473.9 1622.1L1474.4 1623.8L1474.8 1625.5L1475.0 1627.2L1475.2 1628.8L1475.2 1630.5L1475.2 1632.2L1475.0 1633.9L1474.0 1635.6L1471.8 1637.3L1468.8 1639.0L1467.4 1640.7Z" fill="#D8B62C" stroke="#333" stroke-width="0.85"/>
<path d="M1486.8 1640.7H1502.8M1494.8 1640.7V1543.0" stroke="#555" stroke-width="1.0" fill="none"/>
<path d="M1503.2 1640.7H1519.2M1511.2 1640.7V1560.4" stroke="#555" stroke-width="1.0" fill="none"/>
<path d="M1522.7 1640.7H1538.7M1530.7 1640.7V1550.9" stroke="#555" stroke-width="1.0" fill="none"/>
<path d="M1539.1 1640.7H1555.1M1547.1 1640.7V1547.8" stroke="#555" stroke-width="1.0" fill="none"/>
<path d="M1574.6 1640.7L1572.6 1638.7L1569.2 1636.7L1567.2 1634.7L1567.0 1632.7L1567.4 1630.7L1567.8 1628.7L1568.4 1626.6L1569.1 1624.6L1569.9 1622.6L1570.6 1620.6L1571.2 1618.6L1571.6 1616.6L1571.6 1614.6L1571.3 1612.6L1570.7 1610.6L1570.0 1608.6L1569.2 1606.6L1568.5 1604.6L1567.9 1602.5L1567.4 1600.5L1567.1 1598.5L1566.9 1596.5L1566.8 1594.5L1566.8 1592.5L1566.8 1590.5L1566.8 1588.5L1566.8 1586.5L1566.8 1584.5L1566.8 1582.5L1566.8 1580.5L1566.8 1578.4L1566.8 1576.4L1566.8 1574.4L1566.8 1572.4L1566.8 1570.4L1566.8 1568.4L1566.8 1566.4L1566.8 1564.4L1566.8 1562.4L1566.8 1560.4L1566.4 1560.4L1566.4 1562.4L1566.4 1564.4L1566.4 1566.4L1566.4 1568.4L1566.4 1570.4L1566.4 1572.4L1566.4 1574.4L1566.4 1576.4L1566.4 1578.4L1566.4 1580.5L1566.4 1582.5L1566.4 1584.5L1566.4 1586.5L1566.4 1588.5L1566.4 1590.5L1566.4 1592.5L1566.4 1594.5L1566.3 1596.5L1566.1 1598.5L1565.8 1600.5L1565.3 1602.5L1564.7 1604.6L1564.0 1606.6L1563.2 1608.6L1562.5 1610.6L1561.9 1612.6L1561.6 1614.6L1561.6 1616.6L1562.0 1618.6L1562.6 1620.6L1563.3 1622.6L1564.1 1624.6L1564.8 1626.6L1565.4 1628.7L1565.8 1630.7L1566.2 1632.7L1566.0 1634.7L1564.0 1636.7L1560.6 1638.7L1558.6 1640.7Z" fill="#52BCB8" stroke="#333" stroke-width="0.85"/>
<path d="M1591.0 1640.7L1590.0 1639.3L1587.6 1637.9L1585.3 1636.4L1583.8 1635.0L1583.2 1633.6L1583.2 1632.2L1583.3 1630.8L1583.5 1629.4L1583.7 1627.9L1584.0 1626.5L1584.3 1625.1L1584.7 1623.7L1585.2 1622.3L1585.8 1620.9L1586.3 1619.4L1586.8 1618.0L1587.3 1616.6L1587.7 1615.2L1587.9 1613.8L1588.0 1612.4L1587.9 1610.9L1587.7 1609.5L1587.3 1608.1L1586.8 1606.7L1586.3 1605.3L1585.8 1603.8L1585.2 1602.4L1584.7 1601.0L1584.3 1599.6L1584.0 1598.2L1583.7 1596.8L1583.5 1595.3L1583.3 1593.9L1583.2 1592.5L1583.2 1591.1L1583.2 1589.7L1583.2 1588.3L1583.2 1586.8L1583.2 1585.4L1583.2 1584.0L1582.8 1584.0L1582.8 1585.4L1582.8 1586.8L1582.8 1588.3L1582.8 1589.7L1582.8 1591.1L1582.8 1592.5L1582.7 1593.9L1582.5 1595.3L1582.3 1596.8L1582.0 1598.2L1581.7 1599.6L1581.3 1601.0L1580.8 1602.4L1580.2 1603.8L1579.7 1605.3L1579.2 1606.7L1578.7 1608.1L1578.3 1609.5L1578.1 1610.9L1578.0 1612.4L1578.1 1613.8L1578.3 1615.2L1578.7 1616.6L1579.2 1618.0L1579.7 1619.4L1580.2 1620.9L1580.8 1622.3L1581.3 1623.7L1581.7 1625.1L1582.0 1626.5L1582.3 1627.9L1582.5 1629.4L1582.7 1630.8L1582.8 1632.2L1582.8 1633.6L1582.2 1635.0L1580.7 1636.4L1578.4 1637.9L1576.0 1639.3L1575.0 1640.7Z" fill="#D8B62C" stroke="#333" stroke-width="0.85"/>
<path d="M1609.5 1640.7L1606.7 1638.9L1603.4 1637.1L1602.6 1635.3L1602.6 1633.5L1602.6 1631.6L1602.6 1629.8L1602.6 1628.0L1602.6 1626.2L1602.6 1624.4L1602.6 1622.6L1602.6 1620.8L1602.6 1619.0L1602.6 1617.2L1602.6 1615.3L1602.6 1613.5L1602.6 1611.7L1602.6 1609.9L1602.6 1608.1L1602.6 1606.3L1602.6 1604.5L1602.6 1602.7L1602.6 1600.9L1602.6 1599.0L1602.6 1597.2L1602.6 1595.4L1602.6 1593.6L1602.6 1591.8L1602.6 1590.0L1602.6 1588.2L1602.6 1586.4L1602.6 1584.6L1602.6 1582.7L1602.6 1580.9L1602.6 1579.1L1602.6 1577.3L1602.6 1575.5L1602.6 1573.7L1602.6 1571.9L1602.6 1570.1L1602.6 1568.2L1602.3 1568.2L1602.3 1570.1L1602.3 1571.9L1602.3 1573.7L1602.3 1575.5L1602.3 1577.3L1602.3 1579.1L1602.3 1580.9L1602.3 1582.7L1602.3 1584.6L1602.3 1586.4L1602.3 1588.2L1602.3 1590.0L1602.3 1591.8L1602.3 1593.6L1602.3 1595.4L1602.3 1597.2L1602.3 1599.0L1602.3 1600.9L1602.3 1602.7L1602.3 1604.5L1602.3 1606.3L1602.3 1608.1L1602.3 1609.9L1602.3 1611.7L1602.3 1613.5L1602.3 1615.3L1602.3 1617.2L1602.3 1619.0L1602.3 1620.8L1602.3 1622.6L1602.3 1624.4L1602.3 1626.2L1602.3 1628.0L1602.3 1629.8L1602.3 1631.6L1602.3 1633.5L1602.3 1635.3L1601.6 1637.1L1598.3 1638.9L1595.5 1640.7Z" fill="#52BCB8" stroke="#333" stroke-width="0.85"/>
<path d="M1626.9 1640.7L1625.5 1639.0L1622.6 1637.4L1620.3 1635.7L1619.3 1634.1L1619.0 1632.4L1619.2 1630.8L1619.5 1629.1L1620.0 1627.5L1620.5 1625.8L1621.1 1624.2L1621.3 1622.5L1621.3 1620.9L1621.0 1619.2L1620.5 1617.5L1619.9 1615.9L1619.5 1614.2L1619.2 1612.6L1619.0 1610.9L1619.0 1609.3L1619.0 1607.6L1619.0 1606.0L1619.0 1604.3L1619.0 1602.7L1619.0 1601.0L1619.0 1599.4L1619.0 1597.7L1619.0 1596.0L1619.0 1594.4L1619.0 1592.7L1619.0 1591.1L1619.0 1589.4L1619.0 1587.8L1619.0 1586.1L1619.0 1584.5L1619.0 1582.8L1619.0 1581.2L1619.0 1579.5L1619.0 1577.9L1619.0 1576.2L1619.0 1574.5L1618.7 1574.5L1618.7 1576.2L1618.7 1577.9L1618.7 1579.5L1618.7 1581.2L1618.7 1582.8L1618.7 1584.5L1618.7 1586.1L1618.7 1587.8L1618.7 1589.4L1618.7 1591.1L1618.7 1592.7L1618.7 1594.4L1618.7 1596.0L1618.7 1597.7L1618.7 1599.4L1618.7 1601.0L1618.7 1602.7L1618.7 1604.3L1618.7 1606.0L1618.7 1607.6L1618.7 1609.3L1618.7 1610.9L1618.6 1612.6L1618.3 1614.2L1617.8 1615.9L1617.3 1617.5L1616.8 1619.2L1616.4 1620.9L1616.4 1622.5L1616.7 1624.2L1617.2 1625.8L1617.8 1627.5L1618.2 1629.1L1618.6 1630.8L1618.7 1632.4L1618.5 1634.1L1617.5 1635.7L1615.2 1637.4L1612.3 1639.0L1610.9 1640.7Z" fill="#D8B62C" stroke="#333" stroke-width="0.85"/>
<path d="M1630.4 1640.7H1646.4M1638.4 1640.7V1554.1" stroke="#555" stroke-width="1.0" fill="none"/>
<path d="M1660.8 1640.7L1657.6 1638.5L1655.0 1636.3L1654.9 1634.1L1654.9 1631.9L1654.9 1629.7L1654.9 1627.5L1654.9 1625.3L1654.9 1623.1L1654.9 1620.9L1654.9 1618.7L1654.9 1616.4L1654.9 1614.2L1654.9 1612.0L1654.9 1609.8L1654.9 1607.6L1654.9 1605.4L1654.9 1603.2L1654.9 1601.0L1654.9 1598.8L1654.9 1596.6L1654.9 1594.4L1654.9 1592.2L1654.9 1590.0L1654.9 1587.8L1654.9 1585.6L1654.9 1583.4L1654.9 1581.2L1654.9 1579.0L1654.9 1576.8L1654.9 1574.5L1654.9 1572.3L1654.9 1570.1L1654.9 1567.9L1654.9 1565.7L1654.9 1563.5L1654.9 1561.3L1654.9 1559.1L1654.9 1556.9L1654.9 1554.7L1654.9 1552.5L1654.6 1552.5L1654.6 1554.7L1654.6 1556.9L1654.6 1559.1L1654.6 1561.3L1654.6 1563.5L1654.6 1565.7L1654.6 1567.9L1654.6 1570.1L1654.6 1572.3L1654.6 1574.5L1654.6 1576.8L1654.6 1579.0L1654.6 1581.2L1654.6 1583.4L1654.6 1585.6L1654.6 1587.8L1654.6 1590.0L1654.6 1592.2L1654.6 1594.4L1654.6 1596.6L1654.6 1598.8L1654.6 1601.0L1654.6 1603.2L1654.6 1605.4L1654.6 1607.6L1654.6 1609.8L1654.6 1612.0L1654.6 1614.2L1654.6 1616.4L1654.6 1618.7L1654.6 1620.9L1654.6 1623.1L1654.6 1625.3L1654.6 1627.5L1654.6 1629.7L1654.6 1631.9L1654.6 1634.1L1654.5 1636.3L1652.0 1638.5L1648.8 1640.7Z" fill="#D8B62C" stroke="#333" stroke-width="0.85"/>
<path d="M1666.2 1640.7H1682.2M1674.2 1640.7V1598.2" stroke="#555" stroke-width="1.0" fill="none"/>
<path d="M1682.6 1640.7H1698.6M1690.6 1640.7V1604.5" stroke="#555" stroke-width="1.0" fill="none"/>
<path d="M1195.2 1537.5V1645.9H1704.0" stroke="#333" stroke-width="1.3" fill="none"/>
<line x1="1191.6" y1="1640.7" x2="1195.2" y2="1640.7" stroke="#333" stroke-width="1.2"/>
<text x="1187.0" y="1646.7" font-size="16.8" text-anchor="end">0</text>
<line x1="1191.6" y1="1609.2" x2="1195.2" y2="1609.2" stroke="#333" stroke-width="1.2"/>
<text x="1187.0" y="1615.2" font-size="16.8" text-anchor="end">1</text>
<line x1="1191.6" y1="1577.7" x2="1195.2" y2="1577.7" stroke="#333" stroke-width="1.2"/>
<text x="1187.0" y="1583.7" font-size="16.8" text-anchor="end">2</text>
<line x1="1191.6" y1="1546.2" x2="1195.2" y2="1546.2" stroke="#333" stroke-width="1.2"/>
<text x="1187.0" y="1552.2" font-size="16.8" text-anchor="end">3</text>
<line x1="1216.0" y1="1645.9" x2="1216.0" y2="1649.7" stroke="#333" stroke-width="1.2"/>
<text x="1221.5" y="1665.5" font-size="20.4" text-anchor="end" transform="rotate(-45 1221.5 1665.5)">Early FGC</text>
<line x1="1251.9" y1="1645.9" x2="1251.9" y2="1649.7" stroke="#333" stroke-width="1.2"/>
<text x="1257.4" y="1665.5" font-size="20.4" text-anchor="end" transform="rotate(-45 1257.4 1665.5)">Late FGC</text>
<line x1="1287.8" y1="1645.9" x2="1287.8" y2="1649.7" stroke="#333" stroke-width="1.2"/>
<text x="1293.3" y="1665.5" font-size="20.4" text-anchor="end" transform="rotate(-45 1293.3 1665.5)">LPC1</text>
<line x1="1323.6" y1="1645.9" x2="1323.6" y2="1649.7" stroke="#333" stroke-width="1.2"/>
<text x="1329.1" y="1665.5" font-size="20.4" text-anchor="end" transform="rotate(-45 1329.1 1665.5)">LPC2</text>
<line x1="1359.5" y1="1645.9" x2="1359.5" y2="1649.7" stroke="#333" stroke-width="1.2"/>
<text x="1365.0" y="1665.5" font-size="20.4" text-anchor="end" transform="rotate(-45 1365.0 1665.5)">LP1</text>
<line x1="1395.4" y1="1645.9" x2="1395.4" y2="1649.7" stroke="#333" stroke-width="1.2"/>
<text x="1400.9" y="1665.5" font-size="20.4" text-anchor="end" transform="rotate(-45 1400.9 1665.5)">LP2</text>
<line x1="1431.3" y1="1645.9" x2="1431.3" y2="1649.7" stroke="#333" stroke-width="1.2"/>
<text x="1436.8" y="1665.5" font-size="20.4" text-anchor="end" transform="rotate(-45 1436.8 1665.5)">DLC</text>
<line x1="1467.2" y1="1645.9" x2="1467.2" y2="1649.7" stroke="#333" stroke-width="1.2"/>
<text x="1472.7" y="1665.5" font-size="20.4" text-anchor="end" transform="rotate(-45 1472.7 1665.5)">PMC</text>
<line x1="1503.0" y1="1645.9" x2="1503.0" y2="1649.7" stroke="#333" stroke-width="1.2"/>
<text x="1508.5" y="1665.5" font-size="20.4" text-anchor="end" transform="rotate(-45 1508.5 1665.5)">SPC</text>
<line x1="1538.9" y1="1645.9" x2="1538.9" y2="1649.7" stroke="#333" stroke-width="1.2"/>
<text x="1544.4" y="1665.5" font-size="20.4" text-anchor="end" transform="rotate(-45 1544.4 1665.5)">SC1</text>
<line x1="1574.8" y1="1645.9" x2="1574.8" y2="1649.7" stroke="#333" stroke-width="1.2"/>
<text x="1580.3" y="1665.5" font-size="20.4" text-anchor="end" transform="rotate(-45 1580.3 1665.5)">SC2</text>
<line x1="1610.7" y1="1645.9" x2="1610.7" y2="1649.7" stroke="#333" stroke-width="1.2"/>
<text x="1616.2" y="1665.5" font-size="20.4" text-anchor="end" transform="rotate(-45 1616.2 1665.5)">EC</text>
<line x1="1646.6" y1="1645.9" x2="1646.6" y2="1649.7" stroke="#333" stroke-width="1.2"/>
<text x="1652.1" y="1665.5" font-size="20.4" text-anchor="end" transform="rotate(-45 1652.1 1665.5)">MC</text>
<line x1="1682.4" y1="1645.9" x2="1682.4" y2="1649.7" stroke="#333" stroke-width="1.2"/>
<text x="1687.9" y="1665.5" font-size="20.4" text-anchor="end" transform="rotate(-45 1687.9 1665.5)">NK</text>
<text x="573.3" y="1350.8" font-size="19.2" text-anchor="middle" transform="rotate(-90 573.3 1350.8)">Expression level</text>
<rect x="1684.00" y="1050.00" width="18.00" height="18.00" fill="#52BCB8" stroke="#333" stroke-width="0.8"/>
<rect x="1684.00" y="1085.00" width="18.00" height="18.00" fill="#D8B62C" stroke="#333" stroke-width="0.8"/>
<text x="1712.0" y="1066.5" font-size="19.5">CtrlM</text>
<text x="1712.0" y="1101.5" font-size="19.5">KS</text>
<text x="514.0" y="1825.5" font-size="36" font-weight="bold">g</text>
<path d="M730.5 1912.8H817.5M730.5 1950.3H817.5M730.5 1987.9H817.5M730.5 2025.4H817.5M730.5 2063.0H817.5M730.5 2100.5H817.5M730.5 2138.0H817.5M730.5 2175.6H817.5M730.5 2213.1H817.5M730.5 2250.7H817.5M730.5 2288.2H817.5M730.5 2325.7H817.5M730.5 2363.3H817.5M730.5 2400.8H817.5M753.7 1890.3V2423.2M794.1 1890.3V2423.2" stroke="#ebebeb" stroke-width="1.1" fill="none"/>
<circle cx="753.7" cy="1912.8" r="16.1" fill="#8a1510"/>
<circle cx="794.1" cy="1912.8" r="16.1" fill="#650a08"/>
<circle cx="753.7" cy="1950.3" r="16.1" fill="#f52318"/>
<circle cx="794.1" cy="1950.3" r="16.1" fill="#f02015"/>
<circle cx="753.7" cy="1987.9" r="16.1" fill="#e52515"/>
<circle cx="794.1" cy="1987.9" r="16.1" fill="#c82010"/>
<circle cx="753.7" cy="2025.4" r="16.1" fill="#e82515"/>
<circle cx="794.1" cy="2025.4" r="16.1" fill="#cc2012"/>
<circle cx="753.7" cy="2063.0" r="16.1" fill="#e52515"/>
<circle cx="794.1" cy="2063.0" r="16.1" fill="#c82010"/>
<circle cx="753.7" cy="2100.5" r="16.1" fill="#e82515"/>
<circle cx="794.1" cy="2100.5" r="16.1" fill="#c82010"/>
<circle cx="753.7" cy="2138.0" r="16.1" fill="#f52318"/>
<circle cx="794.1" cy="2138.0" r="16.1" fill="#c02010"/>
<circle cx="753.7" cy="2213.1" r="16.1" fill="#e02515"/>
<circle cx="794.1" cy="2213.1" r="16.1" fill="#c82515"/>
<circle cx="753.7" cy="2250.7" r="16.1" fill="#6a0c0a"/>
<circle cx="794.1" cy="2250.7" r="16.1" fill="#6a0c0a"/>
<circle cx="753.7" cy="2288.2" r="16.1" fill="#7a100c"/>
<circle cx="794.1" cy="2288.2" r="16.1" fill="#650a08"/>
<circle cx="753.7" cy="2325.7" r="16.1" fill="#80140e"/>
<circle cx="794.1" cy="2325.7" r="16.1" fill="#400000"/>
<rect x="730.5" y="1890.3" width="87" height="532.9" fill="none" stroke="#333" stroke-width="1.1"/>
<text x="762.3" y="2440.7" font-size="21.5" text-anchor="end" transform="rotate(-45 762.3 2440.7)">CtrlM</text>
<text x="808.7" y="2442.2" font-size="21.5" text-anchor="end" transform="rotate(-45 808.7 2442.2)">KS</text>
<text x="755.2" y="1880.5" font-size="18.4" transform="rotate(-13 755.2 1880.5)">TGFB1 − (TGFBR1+TGFBR2)</text>
<path d="M825.7 1912.8H912.7M825.7 1950.3H912.7M825.7 1987.9H912.7M825.7 2025.4H912.7M825.7 2063.0H912.7M825.7 2100.5H912.7M825.7 2138.0H912.7M825.7 2175.6H912.7M825.7 2213.1H912.7M825.7 2250.7H912.7M825.7 2288.2H912.7M825.7 2325.7H912.7M825.7 2363.3H912.7M825.7 2400.8H912.7M848.9 1890.3V2423.2M889.3 1890.3V2423.2" stroke="#ebebeb" stroke-width="1.1" fill="none"/>
<circle cx="848.9" cy="1912.8" r="16.1" fill="#f06068"/>
<circle cx="889.3" cy="1912.8" r="16.1" fill="#f34a50"/>
<circle cx="848.9" cy="1950.3" r="16.1" fill="#f2c8cc"/>
<circle cx="889.3" cy="1950.3" r="16.1" fill="#f0c0c5"/>
<circle cx="848.9" cy="1987.9" r="16.1" fill="#f0959c"/>
<circle cx="889.3" cy="1987.9" r="16.1" fill="#f08088"/>
<circle cx="848.9" cy="2025.4" r="16.1" fill="#f0a8ac"/>
<circle cx="889.3" cy="2025.4" r="16.1" fill="#f09098"/>
<circle cx="848.9" cy="2063.0" r="16.1" fill="#f0a8ac"/>
<circle cx="889.3" cy="2063.0" r="16.1" fill="#f09098"/>
<circle cx="848.9" cy="2100.5" r="16.1" fill="#f0a8ac"/>
<circle cx="889.3" cy="2100.5" r="16.1" fill="#f09098"/>
<circle cx="848.9" cy="2138.0" r="16.1" fill="#f2c8cc"/>
<circle cx="889.3" cy="2138.0" r="16.1" fill="#f08890"/>
<circle cx="848.9" cy="2213.1" r="16.1" fill="#f06068"/>
<circle cx="889.3" cy="2213.1" r="16.1" fill="#f52318"/>
<circle cx="848.9" cy="2288.2" r="16.1" fill="#f05860"/>
<circle cx="889.3" cy="2288.2" r="16.1" fill="#f04a50"/>
<circle cx="848.9" cy="2325.7" r="16.1" fill="#f06068"/>
<circle cx="889.3" cy="2325.7" r="16.1" fill="#f53a3a"/>
<rect x="825.7" y="1890.3" width="87" height="532.9" fill="none" stroke="#333" stroke-width="1.1"/>
<text x="857.5" y="2440.7" font-size="21.5" text-anchor="end" transform="rotate(-45 857.5 2440.7)">CtrlM</text>
<text x="903.9" y="2442.2" font-size="21.5" text-anchor="end" transform="rotate(-45 903.9 2442.2)">KS</text>
<text x="850.9" y="1880.5" font-size="18.4" transform="rotate(-13 850.9 1880.5)">TGFB2 − (TGFBR1+TGFBR2)</text>
<path d="M921.0 1912.8H1008.0M921.0 1950.3H1008.0M921.0 1987.9H1008.0M921.0 2025.4H1008.0M921.0 2063.0H1008.0M921.0 2100.5H1008.0M921.0 2138.0H1008.0M921.0 2175.6H1008.0M921.0 2213.1H1008.0M921.0 2250.7H1008.0M921.0 2288.2H1008.0M921.0 2325.7H1008.0M921.0 2363.3H1008.0M921.0 2400.8H1008.0M944.2 1890.3V2423.2M984.6 1890.3V2423.2" stroke="#ebebeb" stroke-width="1.1" fill="none"/>
<circle cx="944.2" cy="1912.8" r="16.1" fill="#f53a35"/>
<circle cx="984.6" cy="1912.8" r="16.1" fill="#eb2015"/>
<circle cx="944.2" cy="1950.3" r="16.1" fill="#f04a55"/>
<circle cx="984.6" cy="1950.3" r="16.1" fill="#f04a55"/>
<circle cx="944.2" cy="1987.9" r="16.1" fill="#f05058"/>
<circle cx="984.6" cy="1987.9" r="16.1" fill="#f52318"/>
<circle cx="944.2" cy="2025.4" r="16.1" fill="#f05058"/>
<circle cx="984.6" cy="2025.4" r="16.1" fill="#f34048"/>
<circle cx="944.2" cy="2063.0" r="16.1" fill="#f05058"/>
<circle cx="984.6" cy="2063.0" r="16.1" fill="#f34048"/>
<circle cx="944.2" cy="2100.5" r="16.1" fill="#f05860"/>
<circle cx="984.6" cy="2100.5" r="16.1" fill="#f34048"/>
<circle cx="944.2" cy="2138.0" r="16.1" fill="#f05860"/>
<circle cx="984.6" cy="2138.0" r="16.1" fill="#f34048"/>
<circle cx="944.2" cy="2213.1" r="16.1" fill="#f53a3a"/>
<circle cx="984.6" cy="2213.1" r="16.1" fill="#e52515"/>
<circle cx="944.2" cy="2250.7" r="16.1" fill="#9a1810"/>
<circle cx="984.6" cy="2250.7" r="16.1" fill="#8a1510"/>
<circle cx="944.2" cy="2288.2" r="16.1" fill="#f52318"/>
<circle cx="984.6" cy="2288.2" r="16.1" fill="#c82515"/>
<circle cx="944.2" cy="2325.7" r="16.1" fill="#f53028"/>
<circle cx="984.6" cy="2325.7" r="16.1" fill="#e82515"/>
<rect x="921.0" y="1890.3" width="87" height="532.9" fill="none" stroke="#333" stroke-width="1.1"/>
<text x="952.8" y="2440.7" font-size="21.5" text-anchor="end" transform="rotate(-45 952.8 2440.7)">CtrlM</text>
<text x="999.2" y="2442.2" font-size="21.5" text-anchor="end" transform="rotate(-45 999.2 2442.2)">KS</text>
<text x="946.5" y="1880.5" font-size="18.4" transform="rotate(-13 946.5 1880.5)">TGFB3 − (TGFBR1+TGFBR2)</text>
<path d="M1016.2 1912.8H1103.2M1016.2 1950.3H1103.2M1016.2 1987.9H1103.2M1016.2 2025.4H1103.2M1016.2 2063.0H1103.2M1016.2 2100.5H1103.2M1016.2 2138.0H1103.2M1016.2 2175.6H1103.2M1016.2 2213.1H1103.2M1016.2 2250.7H1103.2M1016.2 2288.2H1103.2M1016.2 2325.7H1103.2M1016.2 2363.3H1103.2M1016.2 2400.8H1103.2M1039.4 1890.3V2423.2M1079.8 1890.3V2423.2" stroke="#ebebeb" stroke-width="1.1" fill="none"/>
<circle cx="1039.4" cy="1912.8" r="16.1" fill="#7a100c"/>
<circle cx="1079.8" cy="1912.8" r="16.1" fill="#5a0808"/>
<circle cx="1039.4" cy="1987.9" r="16.1" fill="#d02515"/>
<circle cx="1079.8" cy="1987.9" r="16.1" fill="#b81e12"/>
<circle cx="1039.4" cy="2025.4" r="16.1" fill="#d82515"/>
<circle cx="1079.8" cy="2025.4" r="16.1" fill="#c02010"/>
<circle cx="1039.4" cy="2063.0" r="16.1" fill="#d02515"/>
<circle cx="1079.8" cy="2063.0" r="16.1" fill="#b81e12"/>
<circle cx="1039.4" cy="2100.5" r="16.1" fill="#d82515"/>
<circle cx="1079.8" cy="2100.5" r="16.1" fill="#c02012"/>
<circle cx="1039.4" cy="2138.0" r="12.5" fill="#f02015"/>
<circle cx="1079.8" cy="2138.0" r="16.1" fill="#b81e12"/>
<circle cx="1039.4" cy="2213.1" r="16.1" fill="#c82515"/>
<circle cx="1079.8" cy="2213.1" r="16.1" fill="#b82015"/>
<circle cx="1039.4" cy="2288.2" r="16.1" fill="#70100c"/>
<circle cx="1079.8" cy="2288.2" r="16.1" fill="#5a0a08"/>
<circle cx="1039.4" cy="2325.7" r="16.1" fill="#70100c"/>
<circle cx="1079.8" cy="2325.7" r="16.1" fill="#3a0000"/>
<rect x="1016.2" y="1890.3" width="87" height="532.9" fill="none" stroke="#333" stroke-width="1.1"/>
<text x="1048.0" y="2440.7" font-size="21.5" text-anchor="end" transform="rotate(-45 1048.0 2440.7)">CtrlM</text>
<text x="1094.4" y="2442.2" font-size="21.5" text-anchor="end" transform="rotate(-45 1094.4 2442.2)">KS</text>
<text x="1042.2" y="1880.5" font-size="18.4" transform="rotate(-13 1042.2 1880.5)">TGFB1 − (ACVR1B+TGFBR2)</text>
<path d="M1111.5 1912.8H1198.5M1111.5 1950.3H1198.5M1111.5 1987.9H1198.5M1111.5 2025.4H1198.5M1111.5 2063.0H1198.5M1111.5 2100.5H1198.5M1111.5 2138.0H1198.5M1111.5 2175.6H1198.5M1111.5 2213.1H1198.5M1111.5 2250.7H1198.5M1111.5 2288.2H1198.5M1111.5 2325.7H1198.5M1111.5 2363.3H1198.5M1111.5 2400.8H1198.5M1134.7 1890.3V2423.2M1175.1 1890.3V2423.2" stroke="#ebebeb" stroke-width="1.1" fill="none"/>
<circle cx="1134.7" cy="1912.8" r="16.1" fill="#f05058"/>
<circle cx="1175.1" cy="1912.8" r="16.1" fill="#f34048"/>
<circle cx="1134.7" cy="1987.9" r="16.1" fill="#f07880"/>
<circle cx="1175.1" cy="1987.9" r="16.1" fill="#f07880"/>
<circle cx="1134.7" cy="2025.4" r="16.1" fill="#f0959c"/>
<circle cx="1175.1" cy="2025.4" r="16.1" fill="#f08890"/>
<circle cx="1134.7" cy="2063.0" r="16.1" fill="#f0959c"/>
<circle cx="1175.1" cy="2063.0" r="16.1" fill="#f08890"/>
<circle cx="1134.7" cy="2100.5" r="16.1" fill="#f09aa0"/>
<circle cx="1175.1" cy="2100.5" r="16.1" fill="#f08890"/>
<circle cx="1175.1" cy="2138.0" r="16.1" fill="#f08088"/>
<circle cx="1134.7" cy="2213.1" r="16.1" fill="#f06068"/>
<circle cx="1175.1" cy="2213.1" r="16.1" fill="#f52015"/>
<circle cx="1134.7" cy="2288.2" r="16.1" fill="#f05058"/>
<circle cx="1175.1" cy="2288.2" r="16.1" fill="#f34a50"/>
<circle cx="1134.7" cy="2325.7" r="16.1" fill="#f05860"/>
<circle cx="1175.1" cy="2325.7" r="16.1" fill="#f52820"/>
<rect x="1111.5" y="1890.3" width="87" height="532.9" fill="none" stroke="#333" stroke-width="1.1"/>
<text x="1143.3" y="2440.7" font-size="21.5" text-anchor="end" transform="rotate(-45 1143.3 2440.7)">CtrlM</text>
<text x="1189.7" y="2442.2" font-size="21.5" text-anchor="end" transform="rotate(-45 1189.7 2442.2)">KS</text>
<text x="1137.8" y="1880.5" font-size="18.4" transform="rotate(-13 1137.8 1880.5)">TGFB2 − (ACVR1B+TGFBR2)</text>
<path d="M1206.7 1912.8H1293.7M1206.7 1950.3H1293.7M1206.7 1987.9H1293.7M1206.7 2025.4H1293.7M1206.7 2063.0H1293.7M1206.7 2100.5H1293.7M1206.7 2138.0H1293.7M1206.7 2175.6H1293.7M1206.7 2213.1H1293.7M1206.7 2250.7H1293.7M1206.7 2288.2H1293.7M1206.7 2325.7H1293.7M1206.7 2363.3H1293.7M1206.7 2400.8H1293.7M1229.9 1890.3V2423.2M1270.3 1890.3V2423.2" stroke="#ebebeb" stroke-width="1.1" fill="none"/>
<circle cx="1229.9" cy="1912.8" r="16.1" fill="#f52318"/>
<circle cx="1270.3" cy="1912.8" r="16.1" fill="#e02015"/>
<circle cx="1229.9" cy="1950.3" r="16.1" fill="#f04a55"/>
<circle cx="1270.3" cy="1950.3" r="16.1" fill="#f34048"/>
<circle cx="1229.9" cy="1987.9" r="16.1" fill="#f04a55"/>
<circle cx="1270.3" cy="1987.9" r="16.1" fill="#f52012"/>
<circle cx="1229.9" cy="2025.4" r="16.1" fill="#f04a55"/>
<circle cx="1270.3" cy="2025.4" r="16.1" fill="#f33a40"/>
<circle cx="1229.9" cy="2063.0" r="16.1" fill="#f04a55"/>
<circle cx="1270.3" cy="2063.0" r="16.1" fill="#f33a40"/>
<circle cx="1229.9" cy="2100.5" r="16.1" fill="#f04a55"/>
<circle cx="1270.3" cy="2100.5" r="16.1" fill="#f34048"/>
<circle cx="1229.9" cy="2138.0" r="16.1" fill="#f04a55"/>
<circle cx="1270.3" cy="2138.0" r="16.1" fill="#f33a3a"/>
<circle cx="1229.9" cy="2213.1" r="16.1" fill="#f52a20"/>
<circle cx="1270.3" cy="2213.1" r="16.1" fill="#d82515"/>
<circle cx="1229.9" cy="2250.7" r="16.1" fill="#8a1510"/>
<circle cx="1270.3" cy="2250.7" r="16.1" fill="#801010"/>
<circle cx="1229.9" cy="2288.2" r="16.1" fill="#e52515"/>
<circle cx="1270.3" cy="2288.2" r="16.1" fill="#c02012"/>
<circle cx="1229.9" cy="2325.7" r="16.1" fill="#f52015"/>
<circle cx="1270.3" cy="2325.7" r="16.1" fill="#e02515"/>
<rect x="1206.7" y="1890.3" width="87" height="532.9" fill="none" stroke="#333" stroke-width="1.1"/>
<text x="1238.5" y="2440.7" font-size="21.5" text-anchor="end" transform="rotate(-45 1238.5 2440.7)">CtrlM</text>
<text x="1284.9" y="2442.2" font-size="21.5" text-anchor="end" transform="rotate(-45 1284.9 2442.2)">KS</text>
<text x="1233.5" y="1880.5" font-size="18.4" transform="rotate(-13 1233.5 1880.5)">TGFB3 − (ACVR1B+TGFBR2)</text>
<path d="M1301.9 1912.8H1388.9M1301.9 1950.3H1388.9M1301.9 1987.9H1388.9M1301.9 2025.4H1388.9M1301.9 2063.0H1388.9M1301.9 2100.5H1388.9M1301.9 2138.0H1388.9M1301.9 2175.6H1388.9M1301.9 2213.1H1388.9M1301.9 2250.7H1388.9M1301.9 2288.2H1388.9M1301.9 2325.7H1388.9M1301.9 2363.3H1388.9M1301.9 2400.8H1388.9M1325.1 1890.3V2423.2M1365.5 1890.3V2423.2" stroke="#ebebeb" stroke-width="1.1" fill="none"/>
<circle cx="1325.1" cy="1912.8" r="16.1" fill="#8a1510"/>
<circle cx="1365.5" cy="1912.8" r="16.1" fill="#4a0505"/>
<circle cx="1325.1" cy="1950.3" r="16.1" fill="#f52012"/>
<circle cx="1365.5" cy="1950.3" r="16.1" fill="#e52515"/>
<circle cx="1325.1" cy="1987.9" r="16.1" fill="#a01810"/>
<circle cx="1365.5" cy="1987.9" r="16.1" fill="#6a0c0a"/>
<circle cx="1325.1" cy="2025.4" r="16.1" fill="#9a1810"/>
<circle cx="1365.5" cy="2025.4" r="16.1" fill="#6a0c0a"/>
<circle cx="1325.1" cy="2063.0" r="16.1" fill="#9a1810"/>
<circle cx="1365.5" cy="2063.0" r="16.1" fill="#6a0c0a"/>
<circle cx="1325.1" cy="2100.5" r="16.1" fill="#901510"/>
<circle cx="1365.5" cy="2100.5" r="16.1" fill="#650a08"/>
<circle cx="1325.1" cy="2138.0" r="16.1" fill="#e82515"/>
<circle cx="1365.5" cy="2138.0" r="16.1" fill="#9a1810"/>
<circle cx="1325.1" cy="2175.6" r="16.1" fill="#f52015"/>
<circle cx="1365.5" cy="2175.6" r="16.1" fill="#e82515"/>
<circle cx="1325.1" cy="2213.1" r="16.1" fill="#c82515"/>
<circle cx="1365.5" cy="2213.1" r="16.1" fill="#9a1810"/>
<circle cx="1325.1" cy="2250.7" r="16.1" fill="#650a08"/>
<circle cx="1365.5" cy="2250.7" r="16.1" fill="#550808"/>
<circle cx="1325.1" cy="2288.2" r="16.1" fill="#7a100c"/>
<circle cx="1365.5" cy="2288.2" r="16.1" fill="#500808"/>
<circle cx="1325.1" cy="2325.7" r="16.1" fill="#7a100c"/>
<circle cx="1365.5" cy="2325.7" r="16.1" fill="#200000"/>
<circle cx="1365.5" cy="2363.3" r="12.5" fill="#f52818"/>
<circle cx="1365.5" cy="2400.8" r="12.5" fill="#f52818"/>
<rect x="1301.9" y="1890.3" width="87" height="532.9" fill="none" stroke="#333" stroke-width="1.1"/>
<text x="1333.7" y="2440.7" font-size="21.5" text-anchor="end" transform="rotate(-45 1333.7 2440.7)">CtrlM</text>
<text x="1380.1" y="2442.2" font-size="21.5" text-anchor="end" transform="rotate(-45 1380.1 2442.2)">KS</text>
<text x="1329.2" y="1880.5" font-size="18.4" transform="rotate(-13 1329.2 1880.5)">TGFB1 − (ACVR1+TGFBR1)</text>
<path d="M1397.2 1912.8H1484.2M1397.2 1950.3H1484.2M1397.2 1987.9H1484.2M1397.2 2025.4H1484.2M1397.2 2063.0H1484.2M1397.2 2100.5H1484.2M1397.2 2138.0H1484.2M1397.2 2175.6H1484.2M1397.2 2213.1H1484.2M1397.2 2250.7H1484.2M1397.2 2288.2H1484.2M1397.2 2325.7H1484.2M1397.2 2363.3H1484.2M1397.2 2400.8H1484.2M1420.4 1890.3V2423.2M1460.8 1890.3V2423.2" stroke="#ebebeb" stroke-width="1.1" fill="none"/>
<circle cx="1420.4" cy="1912.8" r="16.1" fill="#f05860"/>
<circle cx="1460.8" cy="1912.8" r="16.1" fill="#f33a40"/>
<circle cx="1420.4" cy="1950.3" r="16.1" fill="#f2c0c5"/>
<circle cx="1460.8" cy="1950.3" r="16.1" fill="#f0a8b0"/>
<circle cx="1420.4" cy="1987.9" r="16.1" fill="#f05860"/>
<circle cx="1460.8" cy="1987.9" r="16.1" fill="#f04a50"/>
<circle cx="1420.4" cy="2025.4" r="16.1" fill="#f06068"/>
<circle cx="1460.8" cy="2025.4" r="16.1" fill="#f05058"/>
<circle cx="1420.4" cy="2063.0" r="16.1" fill="#f06870"/>
<circle cx="1460.8" cy="2063.0" r="16.1" fill="#f05058"/>
<circle cx="1420.4" cy="2100.5" r="16.1" fill="#f05860"/>
<circle cx="1460.8" cy="2100.5" r="16.1" fill="#f04a50"/>
<circle cx="1420.4" cy="2138.0" r="16.1" fill="#f2b8bc"/>
<circle cx="1460.8" cy="2138.0" r="16.1" fill="#f07078"/>
<circle cx="1420.4" cy="2175.6" r="16.1" fill="#f2d0d2"/>
<circle cx="1460.8" cy="2175.6" r="16.1" fill="#f0b0b5"/>
<circle cx="1420.4" cy="2213.1" r="16.1" fill="#f06068"/>
<circle cx="1460.8" cy="2213.1" r="16.1" fill="#f02515"/>
<circle cx="1420.4" cy="2250.7" r="16.1" fill="#f34048"/>
<circle cx="1460.8" cy="2250.7" r="16.1" fill="#f53028"/>
<circle cx="1420.4" cy="2288.2" r="16.1" fill="#f05860"/>
<circle cx="1460.8" cy="2288.2" r="16.1" fill="#f53a35"/>
<circle cx="1420.4" cy="2325.7" r="16.1" fill="#f06068"/>
<circle cx="1460.8" cy="2325.7" r="16.1" fill="#f52015"/>
<circle cx="1460.8" cy="2363.3" r="12.5" fill="#f2dcde"/>
<circle cx="1460.8" cy="2400.8" r="12.5" fill="#f2dcde"/>
<rect x="1397.2" y="1890.3" width="87" height="532.9" fill="none" stroke="#333" stroke-width="1.1"/>
<text x="1429.0" y="2440.7" font-size="21.5" text-anchor="end" transform="rotate(-45 1429.0 2440.7)">CtrlM</text>
<text x="1475.4" y="2442.2" font-size="21.5" text-anchor="end" transform="rotate(-45 1475.4 2442.2)">KS</text>
<text x="1424.8" y="1880.5" font-size="18.4" transform="rotate(-13 1424.8 1880.5)">TGFB2 − (ACVR1+TGFBR1)</text>
<path d="M1492.4 1912.8H1579.4M1492.4 1950.3H1579.4M1492.4 1987.9H1579.4M1492.4 2025.4H1579.4M1492.4 2063.0H1579.4M1492.4 2100.5H1579.4M1492.4 2138.0H1579.4M1492.4 2175.6H1579.4M1492.4 2213.1H1579.4M1492.4 2250.7H1579.4M1492.4 2288.2H1579.4M1492.4 2325.7H1579.4M1492.4 2363.3H1579.4M1492.4 2400.8H1579.4M1515.6 1890.3V2423.2M1556.0 1890.3V2423.2" stroke="#ebebeb" stroke-width="1.1" fill="none"/>
<circle cx="1515.6" cy="1912.8" r="16.1" fill="#f53028"/>
<circle cx="1556.0" cy="1912.8" r="16.1" fill="#d02515"/>
<circle cx="1515.6" cy="1950.3" r="16.1" fill="#f04a55"/>
<circle cx="1556.0" cy="1950.3" r="16.1" fill="#f34048"/>
<circle cx="1515.6" cy="1987.9" r="16.1" fill="#f52318"/>
<circle cx="1556.0" cy="1987.9" r="16.1" fill="#c82515"/>
<circle cx="1515.6" cy="2025.4" r="16.1" fill="#f02a20"/>
<circle cx="1556.0" cy="2025.4" r="16.1" fill="#e02515"/>
<circle cx="1515.6" cy="2063.0" r="16.1" fill="#f02a20"/>
<circle cx="1556.0" cy="2063.0" r="16.1" fill="#e52515"/>
<circle cx="1515.6" cy="2100.5" r="16.1" fill="#f02a20"/>
<circle cx="1556.0" cy="2100.5" r="16.1" fill="#ee2015"/>
<circle cx="1515.6" cy="2138.0" r="16.1" fill="#f05058"/>
<circle cx="1556.0" cy="2138.0" r="16.1" fill="#f52010"/>
<circle cx="1515.6" cy="2175.6" r="16.1" fill="#f07078"/>
<circle cx="1556.0" cy="2175.6" r="16.1" fill="#f06068"/>
<circle cx="1515.6" cy="2213.1" r="16.1" fill="#f52a20"/>
<circle cx="1556.0" cy="2213.1" r="16.1" fill="#b82015"/>
<circle cx="1515.6" cy="2250.7" r="16.1" fill="#9a1810"/>
<circle cx="1556.0" cy="2250.7" r="16.1" fill="#7a0c0a"/>
<circle cx="1515.6" cy="2288.2" r="16.1" fill="#f02515"/>
<circle cx="1556.0" cy="2288.2" r="16.1" fill="#a01810"/>
<circle cx="1515.6" cy="2325.7" r="16.1" fill="#f52015"/>
<circle cx="1556.0" cy="2325.7" r="16.1" fill="#c82515"/>
<rect x="1492.4" y="1890.3" width="87" height="532.9" fill="none" stroke="#333" stroke-width="1.1"/>
<text x="1524.2" y="2440.7" font-size="21.5" text-anchor="end" transform="rotate(-45 1524.2 2440.7)">CtrlM</text>
<text x="1570.6" y="2442.2" font-size="21.5" text-anchor="end" transform="rotate(-45 1570.6 2442.2)">KS</text>
<text x="1520.5" y="1880.5" font-size="18.4" transform="rotate(-13 1520.5 1880.5)">TGFB3 − (ACVR1+TGFBR1)</text>
<text x="717.4" y="1917.8" font-size="20.9" text-anchor="end" font-weight="bold">Early FGC to early FGC</text>
<text x="717.4" y="1955.3" font-size="20.9" text-anchor="end">Late FGC to early FGC</text>
<text x="717.4" y="1992.9" font-size="20.9" text-anchor="end">LPC1 to early FGC</text>
<text x="717.4" y="2030.4" font-size="20.9" text-anchor="end">LPC2 to early FGC</text>
<text x="717.4" y="2068.0" font-size="20.9" text-anchor="end">LP1 to early FGC</text>
<text x="717.4" y="2105.5" font-size="20.9" text-anchor="end">LP2 to early FGC</text>
<text x="717.4" y="2143.0" font-size="20.9" text-anchor="end">DLC to early FGC</text>
<text x="717.4" y="2180.6" font-size="20.9" text-anchor="end">SC2 to early FGC</text>
<text x="717.4" y="2218.1" font-size="20.9" text-anchor="end">PMC to early FGC</text>
<text x="717.4" y="2255.7" font-size="20.9" text-anchor="end">EC to early FGC</text>
<text x="717.4" y="2293.2" font-size="20.9" text-anchor="end">MC to early FGC</text>
<text x="717.4" y="2330.7" font-size="20.9" text-anchor="end">NK to early FGC</text>
<text x="717.4" y="2368.3" font-size="20.9" text-anchor="end">SPC to early FGC</text>
<text x="717.4" y="2405.8" font-size="20.9" text-anchor="end">SC1 to early FGC</text>
<text x="1602.8" y="1934.2" font-size="20.8">Probability</text>
<defs><linearGradient id="pg" x1="0" x2="0" y1="0" y2="1"><stop offset="0" stop-color="#2a0000"/><stop offset="0.21" stop-color="#550606"/><stop offset="0.49" stop-color="#c01a10"/><stop offset="0.64" stop-color="#ff2212"/><stop offset="0.76" stop-color="#f04048"/><stop offset="0.9" stop-color="#f58a90"/><stop offset="1" stop-color="#fdeef0"/></linearGradient></defs>
<rect x="1602.2" y="1943.7" width="23.2" height="116.2" fill="url(#pg)"/>
<line x1="1602.2" y1="1968.5" x2="1606.8" y2="1968.5" stroke="#fff" stroke-width="1.2"/>
<line x1="1620.8" y1="1968.5" x2="1625.4" y2="1968.5" stroke="#fff" stroke-width="1.2"/>
<text x="1633.5" y="1973.3" font-size="17.6">0.16</text>
<line x1="1602.2" y1="2000.5" x2="1606.8" y2="2000.5" stroke="#fff" stroke-width="1.2"/>
<line x1="1620.8" y1="2000.5" x2="1625.4" y2="2000.5" stroke="#fff" stroke-width="1.2"/>
<text x="1633.5" y="2005.3" font-size="17.6">0.14</text>
<line x1="1602.2" y1="2032.5" x2="1606.8" y2="2032.5" stroke="#fff" stroke-width="1.2"/>
<line x1="1620.8" y1="2032.5" x2="1625.4" y2="2032.5" stroke="#fff" stroke-width="1.2"/>
<text x="1633.5" y="2037.3" font-size="17.6">0.12</text>
<circle cx="1620.7" cy="2126.5" r="12.4" fill="none" stroke="#000" stroke-width="1.3"/>
<circle cx="1620.7" cy="2162.4" r="15.4" fill="none" stroke="#000" stroke-width="1.3"/>
<text x="1647.9" y="2131.2" font-size="17.3">0.01 &lt; <tspan font-style="italic">P</tspan> &lt; 0.05</text>
<text x="1648.5" y="2166.6" font-size="17.3"><tspan font-style="italic">P</tspan> &lt; 0.01</text>
</svg>
</body></html>
